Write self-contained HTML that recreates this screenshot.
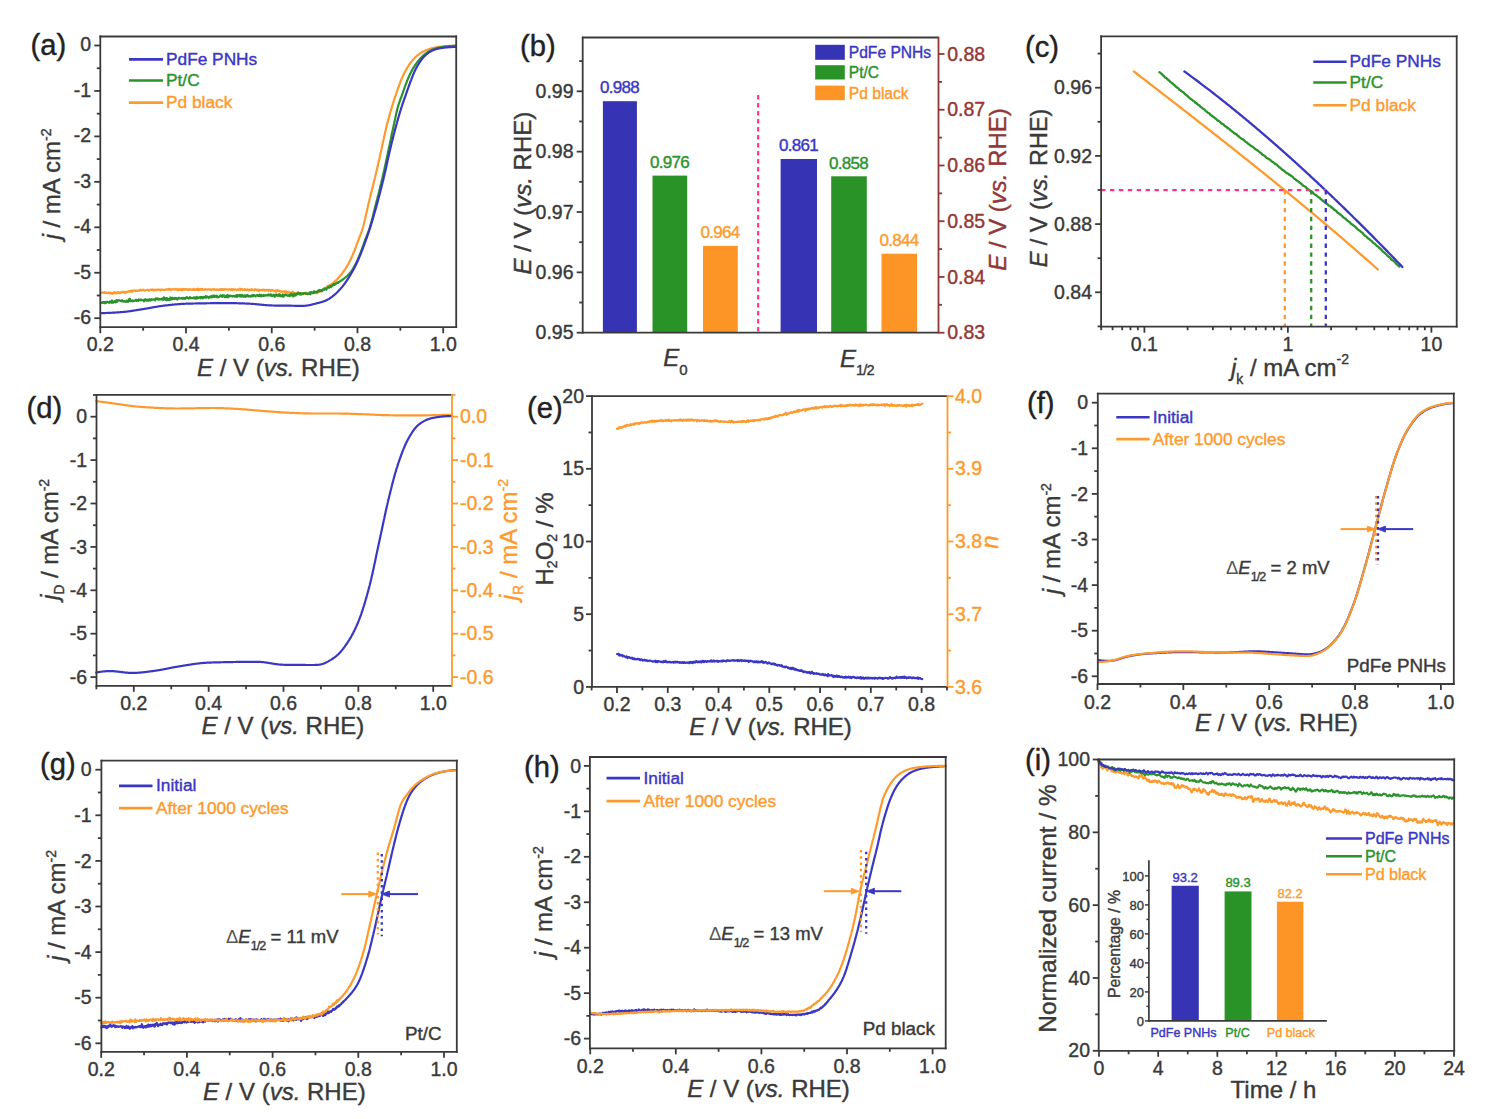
<!DOCTYPE html>
<html><head><meta charset="utf-8"><style>
html,body{margin:0;padding:0;background:#fff;overflow:hidden;}
svg{display:block;font-family:"Liberation Sans", sans-serif;}
</style></head><body>
<svg width="1495" height="1119" viewBox="0 0 1495 1119">
<rect width="1495" height="1119" fill="#fff"/>
<text x="30.50" y="55.00" font-size="29.2" text-anchor="start" fill="#222" stroke="#222" stroke-width="0.4">(a)</text>
<polyline points="101.00,293.09 102.45,292.46 102.75,292.65 103.08,292.81 103.44,292.42 103.82,292.72 104.23,292.75 104.66,292.17 105.11,293.17 105.57,293.05 106.04,292.65 106.52,292.83 107.01,293.10 107.50,292.85 107.99,292.88 108.49,292.47 108.98,293.19 109.48,293.06 109.98,293.12 110.48,292.50 110.98,293.62 111.48,293.10 111.98,292.91 112.48,293.75 112.98,293.01 113.48,292.51 113.98,292.86 114.48,292.19 114.98,293.34 115.48,292.80 115.97,292.66 116.47,293.27 116.97,292.28 117.47,293.01 117.97,292.06 118.47,292.51 118.96,292.28 119.46,293.17 119.96,293.23 120.46,292.44 120.95,292.80 121.45,292.39 121.95,292.60 122.44,292.08 122.94,291.68 123.44,291.59 123.93,292.29 124.43,292.88 124.93,292.13 125.42,291.79 125.92,292.57 126.41,291.92 126.91,291.81 127.40,291.80 127.90,291.59 128.39,291.47 128.89,291.01 129.39,291.62 129.88,291.34 130.38,291.73 130.87,291.12 131.37,290.51 131.86,291.08 132.36,291.65 132.86,290.86 133.35,290.62 133.85,290.45 134.35,290.45 134.84,290.65 135.34,290.29 135.84,291.17 136.33,290.50 136.83,290.59 137.33,291.01 137.83,290.98 138.32,290.34 138.82,290.49 139.32,290.59 139.82,290.23 140.32,289.65 140.82,290.47 141.32,290.52 141.82,290.33 142.31,289.84 142.81,290.07 143.31,289.91 143.81,290.00 144.31,290.54 144.81,290.60 145.31,290.29 145.81,290.23 146.31,290.26 146.81,290.01 147.31,289.97 147.81,289.75 148.31,289.95 148.81,290.75 149.31,290.25 149.81,289.82 150.31,289.76 150.81,289.61 151.31,290.04 151.81,290.03 152.31,289.38 152.81,290.04 153.31,289.66 153.81,290.35 154.31,289.90 154.81,290.43 155.31,289.66 155.81,289.71 156.31,289.91 156.81,290.16 157.31,289.98 157.81,289.34 158.31,289.83 158.81,289.77 159.31,289.60 159.81,289.51 160.31,290.34 160.81,289.59 161.31,289.42 161.81,289.93 162.31,289.74 162.81,289.66 163.31,289.96 163.81,289.85 164.31,289.80 164.81,290.00 165.31,289.75 165.81,289.43 166.31,289.51 166.81,289.45 167.31,289.70 167.81,289.24 168.31,288.97 168.81,289.64 169.31,289.14 169.81,288.91 170.31,289.72 170.81,289.34 171.31,289.75 171.81,289.39 172.31,289.18 172.81,289.13 173.31,289.38 173.81,289.46 174.31,289.26 174.81,289.45 175.31,289.01 175.81,289.55 176.31,288.91 176.81,289.47 177.31,289.78 177.81,289.91 178.31,290.13 178.81,288.98 179.31,289.79 179.81,289.94 180.31,289.86 180.81,289.19 181.31,289.66 181.81,290.16 182.31,288.98 182.81,289.67 183.31,289.90 183.81,289.26 184.31,289.71 184.81,289.13 185.31,289.22 185.81,289.22 186.31,289.57 186.81,289.47 187.31,289.83 187.81,289.17 188.31,289.45 188.81,289.84 189.31,289.70 189.81,289.04 190.31,289.73 190.81,289.33 191.31,289.63 191.81,289.61 192.31,289.93 192.81,289.54 193.31,288.85 193.81,289.02 194.31,289.76 194.81,289.41 195.31,289.90 195.81,289.60 196.31,289.24 196.81,289.88 197.31,289.22 197.81,288.78 198.31,290.22 198.81,288.83 199.31,289.72 199.81,289.83 200.31,289.55 200.81,288.91 201.31,289.86 201.81,289.00 202.31,289.03 202.81,289.37 203.31,289.78 203.81,289.61 204.31,289.78 204.81,289.34 205.31,289.44 205.81,289.10 206.31,289.39 206.81,289.71 207.31,289.40 207.81,289.67 208.31,289.30 208.81,289.29 209.31,289.51 209.81,289.43 210.31,289.71 210.81,289.56 211.31,290.11 211.81,289.42 212.31,289.42 212.81,289.14 213.31,289.51 213.81,289.74 214.31,289.24 214.81,289.48 215.31,289.75 215.81,289.46 216.31,289.32 216.81,289.84 217.31,289.53 217.81,289.64 218.31,289.91 218.81,289.90 219.31,289.38 219.81,289.32 220.31,289.60 220.81,289.45 221.31,288.84 221.81,289.95 222.31,289.51 222.81,289.76 223.31,289.09 223.81,289.95 224.31,289.29 224.81,289.46 225.31,289.01 225.81,289.44 226.31,289.42 226.81,289.44 227.31,289.65 227.81,289.52 228.31,289.84 228.81,289.34 229.31,289.15 229.81,289.50 230.31,289.73 230.81,289.94 231.31,289.79 231.81,288.89 232.31,289.64 232.81,290.03 233.31,289.54 233.81,289.34 234.31,289.63 234.81,289.35 235.31,289.75 235.81,289.53 236.31,290.03 236.81,289.72 237.31,289.29 237.81,289.76 238.31,289.89 238.81,289.37 239.31,289.42 239.81,288.77 240.31,289.90 240.81,289.38 241.31,288.85 241.81,288.99 242.31,289.53 242.81,289.89 243.31,289.60 243.81,289.80 244.31,289.26 244.81,289.19 245.31,289.97 245.81,289.85 246.31,289.67 246.81,290.14 247.31,289.37 247.81,289.57 248.31,290.09 248.81,290.38 249.30,289.75 249.80,290.35 250.30,289.56 250.80,289.90 251.30,289.74 251.80,289.25 252.30,289.91 252.80,290.16 253.30,289.80 253.80,289.84 254.30,290.36 254.80,289.45 255.30,289.38 255.80,289.69 256.30,289.52 256.80,290.42 257.30,290.07 257.80,289.68 258.30,289.78 258.80,291.01 259.30,289.81 259.80,289.78 260.30,290.17 260.80,290.30 261.30,290.17 261.80,289.79 262.30,289.72 262.80,290.35 263.30,290.14 263.80,289.61 264.30,290.61 264.80,290.49 265.30,290.15 265.80,290.16 266.30,290.36 266.80,290.05 267.30,289.84 267.80,290.45 268.29,289.85 268.79,290.51 269.29,289.89 269.79,290.39 270.29,290.40 270.79,291.09 271.29,290.12 271.79,290.03 272.29,290.33 272.79,290.19 273.29,290.41 273.79,290.80 274.28,290.96 274.78,291.31 275.28,290.52 275.78,291.74 276.28,291.56 276.77,290.84 277.27,290.17 277.77,290.99 278.26,291.10 278.76,290.33 279.26,291.22 279.75,291.18 280.25,291.04 280.74,291.60 281.24,291.79 281.74,291.33 282.23,291.65 282.73,291.40 283.22,291.42 283.72,291.78 284.22,292.00 284.71,291.69 285.21,291.17 285.70,292.21 286.20,291.51 286.70,292.17 287.19,292.80 287.69,292.23 288.19,291.88 288.68,291.84 289.18,292.81 289.68,292.45 290.18,292.69 290.67,292.88 291.17,292.59 291.67,292.55 292.17,292.37 292.66,291.67 293.16,292.27 293.66,292.82 294.16,292.83 294.66,293.08 295.15,292.94 295.65,293.09 296.15,293.35 296.65,292.81 297.15,293.06 297.64,292.64 298.14,293.58 298.64,293.29 299.14,293.48 299.64,293.89 300.14,293.76 300.64,293.39 301.13,293.71 301.63,292.96 302.13,293.63 302.63,293.55 303.13,292.95 303.63,293.99 304.13,293.29 304.63,293.78 305.13,293.40 305.63,293.90 306.13,294.01 306.63,293.25 307.13,293.00 307.63,293.48 308.13,293.81 308.63,293.37 309.13,293.27 309.63,293.64 310.13,292.48 310.62,293.19 311.12,292.91 311.62,293.47 312.12,293.07 312.61,292.89 313.11,293.11 313.60,292.67 314.10,293.12 314.59,292.81 315.08,292.84 315.56,292.62 316.04,293.09 316.52,292.62 317.00,292.71 317.47,292.56 317.94,291.95 318.41,292.27 318.87,292.02 319.33,291.81 319.78,291.37 320.23,291.15 320.67,291.35 321.12,291.61 321.55,290.33 321.99,290.56 322.42,290.00 322.86,290.16 323.28,289.78 323.71,289.74 324.14,288.13 324.56,288.64 324.99,288.24 325.41,288.28 325.83,287.80 326.26,287.56 326.68,287.75 327.10,287.91 327.52,285.98 327.94,286.59 328.35,286.53 328.77,286.14 329.18,285.74 329.59,285.11 330.00,284.96 330.41,285.25 330.82,285.07 331.22,284.45 331.62,283.86 332.02,283.85 332.41,283.44 332.80,283.36 333.19,282.92 333.58,282.41 333.96,282.30 334.34,281.64 334.72,281.80 335.09,281.55 335.46,280.68 335.83,280.69 336.19,280.05 336.55,280.12 336.90,279.73 337.25,279.16 337.60,279.02 337.94,278.41 338.28,278.02 338.62,277.66 338.95,277.36 339.28,276.96 339.60,276.64 339.92,276.16 340.24,275.94 340.56,275.57 340.87,275.03 341.18,274.55 341.48,274.35 341.79,273.98 342.09,273.48 342.39,273.01 342.68,272.70 342.98,272.36 343.27,271.80 343.56,271.49 343.85,271.05 344.13,270.63 344.41,270.25 344.69,269.82 344.97,269.41 345.24,268.99 345.52,268.57 345.78,268.15 346.05,267.73 346.32,267.30 346.58,266.88 346.84,266.45 347.09,266.02 347.35,265.59 347.60,265.16 347.85,264.73 348.10,264.29 348.34,263.86 348.58,263.42 348.82,262.98 349.06,262.54 349.29,262.10 349.53,261.66 349.75,261.21 349.98,260.77 350.21,260.32 350.43,259.87 350.65,259.43 350.86,258.98 351.08,258.52 351.29,258.07 351.50,257.62 351.71,257.17 351.92,256.71 352.12,256.25 352.33,255.80 352.53,255.34 352.73,254.88 352.92,254.42 353.12,253.96 353.31,253.50 353.50,253.04 353.69,252.58 353.88,252.11 354.07,251.65 354.25,251.19 354.44,250.72 354.62,250.25 354.80,249.79 354.98,249.32 355.15,248.85 355.33,248.39 355.51,247.92 355.68,247.45 355.85,246.98 356.03,246.51 356.20,246.04 356.37,245.57 356.55,245.10 356.72,244.63 356.89,244.17 357.07,243.70 357.24,243.23 357.41,242.76 357.59,242.29 357.77,241.82 357.94,241.36 358.12,240.89 358.30,240.42 358.48,239.96 358.66,239.49 358.84,239.02 359.02,238.56 359.20,238.09 359.39,237.63 359.57,237.16 359.75,236.69 359.93,236.23 360.11,235.76 360.29,235.29 360.46,234.83 360.64,234.36 360.81,233.89 360.98,233.42 361.15,232.95 361.32,232.48 361.48,232.01 361.64,231.53 361.80,231.06 361.96,230.58 362.11,230.11 362.26,229.63 362.41,229.15 362.55,228.68 362.69,228.20 362.83,227.72 362.97,227.24 363.11,226.76 363.24,226.27 363.37,225.79 363.50,225.31 363.63,224.83 363.75,224.34 363.88,223.86 364.00,223.37 364.12,222.89 364.24,222.40 364.36,221.92 364.48,221.43 364.60,220.95 364.72,220.46 364.83,219.97 364.95,219.49 365.06,219.00 365.18,218.51 365.29,218.03 365.40,217.54 365.51,217.05 365.63,216.56 365.74,216.08 365.85,215.59 365.96,215.10 366.07,214.61 366.18,214.13 366.29,213.64 366.40,213.15 366.51,212.66 366.62,212.17 366.72,211.69 366.83,211.20 366.94,210.71 367.05,210.22 367.16,209.74 367.27,209.25 367.38,208.76 367.49,208.27 367.60,207.78 367.71,207.30 367.82,206.81 367.93,206.32 368.04,205.83 368.15,205.35 368.27,204.86 368.38,204.37 368.49,203.88 368.60,203.40 368.72,202.91 368.83,202.42 368.95,201.94 369.06,201.45 369.18,200.96 369.30,200.48 369.41,199.99 369.53,199.51 369.65,199.02 369.77,198.53 369.89,198.05 370.00,197.56 370.12,197.08 370.24,196.59 370.36,196.11 370.48,195.62 370.61,195.14 370.73,194.65 370.85,194.17 370.97,193.68 371.09,193.20 371.21,192.71 371.33,192.23 371.45,191.74 371.58,191.26 371.70,190.77 371.82,190.29 371.94,189.80 372.06,189.32 372.19,188.83 372.31,188.35 372.43,187.86 372.55,187.38 372.67,186.89 372.79,186.41 372.92,185.92 373.04,185.44 373.16,184.95 373.28,184.47 373.40,183.98 373.52,183.50 373.64,183.01 373.76,182.53 373.88,182.04 374.00,181.55 374.12,181.07 374.24,180.58 374.36,180.10 374.48,179.61 374.60,179.13 374.72,178.64 374.84,178.16 374.95,177.67 375.07,177.18 375.19,176.70 375.30,176.21 375.42,175.73 375.54,175.24 375.65,174.75 375.77,174.27 375.88,173.78 376.00,173.29 376.11,172.81 376.23,172.32 376.34,171.83 376.46,171.35 376.57,170.86 376.68,170.37 376.79,169.88 376.91,169.40 377.02,168.91 377.13,168.42 377.24,167.94 377.36,167.45 377.47,166.96 377.58,166.47 377.69,165.99 377.80,165.50 377.91,165.01 378.02,164.52 378.14,164.04 378.25,163.55 378.36,163.06 378.47,162.57 378.58,162.09 378.69,161.60 378.80,161.11 378.91,160.62 379.02,160.13 379.13,159.65 379.24,159.16 379.35,158.67 379.46,158.18 379.57,157.70 379.68,157.21 379.79,156.72 379.90,156.23 380.01,155.74 380.12,155.26 380.23,154.77 380.34,154.28 380.45,153.79 380.56,153.31 380.66,152.82 380.77,152.33 380.88,151.84 380.99,151.35 381.10,150.87 381.21,150.38 381.32,149.89 381.43,149.40 381.54,148.91 381.65,148.43 381.76,147.94 381.86,147.45 381.97,146.96 382.08,146.47 382.19,145.99 382.29,145.50 382.40,145.01 382.51,144.52 382.61,144.03 382.72,143.54 382.83,143.05 382.93,142.57 383.04,142.08 383.15,141.59 383.25,141.10 383.36,140.61 383.46,140.12 383.57,139.63 383.68,139.15 383.78,138.66 383.89,138.17 384.00,137.68 384.10,137.19 384.21,136.70 384.32,136.21 384.42,135.73 384.53,135.24 384.64,134.75 384.75,134.26 384.86,133.77 384.96,133.29 385.07,132.80 385.18,132.31 385.29,131.82 385.41,131.33 385.52,130.85 385.63,130.36 385.74,129.87 385.86,129.39 385.97,128.90 386.09,128.41 386.20,127.93 386.32,127.44 386.44,126.95 386.55,126.47 386.67,125.98 386.79,125.50 386.91,125.01 387.03,124.53 387.16,124.04 387.28,123.56 387.40,123.07 387.53,122.59 387.65,122.11 387.78,121.62 387.91,121.14 388.04,120.66 388.16,120.17 388.29,119.69 388.42,119.21 388.55,118.72 388.68,118.24 388.81,117.76 388.95,117.28 389.08,116.79 389.21,116.31 389.35,115.83 389.48,115.35 389.62,114.87 389.75,114.39 389.89,113.91 390.03,113.42 390.16,112.94 390.30,112.46 390.44,111.98 390.58,111.50 390.72,111.02 390.86,110.54 391.00,110.06 391.14,109.58 391.28,109.10 391.42,108.62 391.57,108.14 391.71,107.67 391.85,107.19 392.00,106.71 392.14,106.23 392.29,105.75 392.43,105.27 392.58,104.79 392.73,104.32 392.88,103.84 393.02,103.36 393.17,102.88 393.32,102.41 393.47,101.93 393.63,101.45 393.78,100.98 393.93,100.50 394.08,100.03 394.24,99.55 394.39,99.08 394.55,98.60 394.70,98.12 394.86,97.65 395.02,97.17 395.17,96.70 395.33,96.23 395.49,95.75 395.65,95.28 395.80,94.80 395.96,94.33 396.12,93.85 396.28,93.38 396.44,92.91 396.60,92.43 396.76,91.96 396.92,91.49 397.09,91.01 397.25,90.54 397.41,90.07 397.57,89.60 397.74,89.12 397.90,88.65 398.07,88.18 398.24,87.71 398.41,87.24 398.58,86.77 398.75,86.30 398.92,85.83 399.09,85.36 399.27,84.89 399.44,84.42 399.62,83.96 399.80,83.49 399.98,83.02 400.16,82.56 400.35,82.09 400.53,81.63 400.72,81.16 400.90,80.70 401.09,80.24 401.28,79.78 401.48,79.31 401.67,78.85 401.86,78.39 402.06,77.93 402.26,77.47 402.46,77.02 402.66,76.56 402.87,76.10 403.07,75.65 403.28,75.20 403.50,74.74 403.71,74.29 403.93,73.84 404.15,73.39 404.37,72.95 404.60,72.50 404.83,72.06 405.06,71.62 405.30,71.18 405.53,70.74 405.77,70.30 406.02,69.86 406.27,69.43 406.51,68.99 406.77,68.56 407.02,68.13 407.28,67.71 407.54,67.28 407.80,66.86 408.07,66.43 408.34,66.01 408.61,65.60 408.89,65.18 409.17,64.77 409.46,64.36 409.74,63.95 410.04,63.54 410.33,63.14 410.63,62.74 410.93,62.35 411.24,61.95 411.55,61.56 411.87,61.17 412.19,60.79 412.51,60.41 412.83,60.03 413.16,59.66 413.50,59.28 413.83,58.91 414.17,58.55 414.52,58.19 414.86,57.83 415.21,57.47 415.57,57.12 415.93,56.78 416.29,56.44 416.66,56.10 417.03,55.77 417.41,55.44 417.79,55.12 418.18,54.81 418.57,54.51 418.97,54.21 419.37,53.91 419.77,53.63 420.19,53.35 420.60,53.08 421.03,52.81 421.45,52.56 421.88,52.30 422.31,52.06 422.75,51.82 423.19,51.59 423.63,51.36 424.08,51.14 424.53,50.92 424.98,50.71 425.44,50.50 425.89,50.30 426.35,50.11 426.81,49.92 427.28,49.74 427.74,49.57 428.21,49.40 428.68,49.23 429.16,49.08 429.63,48.93 430.11,48.78 430.59,48.64 431.07,48.51 431.55,48.38 432.04,48.26 432.52,48.15 433.01,48.03 433.50,47.93 433.98,47.82 434.47,47.72 434.96,47.62 435.45,47.53 435.94,47.44 436.44,47.35 436.93,47.26 437.42,47.18 437.91,47.10 438.41,47.02 438.90,46.95 439.40,46.87 439.89,46.80 440.39,46.73 440.88,46.67 441.38,46.61 441.87,46.54 442.37,46.49 442.87,46.43 443.36,46.38 443.86,46.33 444.36,46.28 444.86,46.23 445.35,46.19 445.85,46.15 446.35,46.11 446.85,46.08 447.35,46.04 447.85,46.01 448.34,45.98 448.84,45.95 449.33,45.92 449.82,45.90 450.30,45.88 450.78,45.85 451.25,45.83 451.71,45.81 452.15,45.80 452.57,45.78 452.98,45.77 453.36,45.76 453.71,45.75 454.03,45.74 454.32,45.73 455.70,45.70" fill="none" stroke="#fd9a2e" stroke-width="2.2" stroke-linejoin="round" stroke-linecap="round"/>
<polyline points="101.00,302.57 102.44,302.89 102.74,302.15 103.07,302.11 103.43,302.32 103.81,301.94 104.22,303.10 104.65,302.09 105.09,303.09 105.55,303.14 106.02,301.82 106.50,302.50 106.98,302.14 107.47,301.70 107.96,302.12 108.46,302.13 108.95,302.65 109.45,302.78 109.95,301.46 110.44,301.83 110.94,302.34 111.44,302.68 111.94,300.46 112.43,302.64 112.93,301.73 113.43,302.70 113.93,301.49 114.43,301.20 114.92,301.68 115.42,302.31 115.92,301.58 116.42,300.11 116.92,301.89 117.42,300.48 117.91,300.82 118.41,300.67 118.91,300.23 119.41,300.54 119.91,300.66 120.41,300.85 120.91,301.15 121.40,300.95 121.90,300.23 122.40,300.98 122.90,301.64 123.40,301.59 123.90,301.08 124.40,301.34 124.90,301.47 125.40,301.73 125.90,301.90 126.40,300.66 126.89,300.67 127.39,301.69 127.89,301.71 128.39,301.68 128.89,299.32 129.39,300.57 129.89,298.73 130.39,301.09 130.89,300.67 131.39,300.64 131.89,300.51 132.39,301.35 132.89,300.37 133.39,301.14 133.89,300.83 134.39,300.69 134.89,300.73 135.39,300.50 135.88,299.76 136.38,300.82 136.88,300.80 137.38,300.26 137.88,300.76 138.38,300.84 138.88,299.51 139.38,300.18 139.88,299.97 140.38,299.67 140.88,300.39 141.38,299.67 141.88,299.89 142.38,300.27 142.88,300.31 143.38,300.27 143.88,301.40 144.38,299.73 144.88,300.16 145.38,299.26 145.87,300.25 146.37,300.63 146.87,300.65 147.37,299.51 147.87,299.70 148.37,300.61 148.87,299.77 149.37,300.38 149.87,299.19 150.37,300.58 150.87,300.35 151.37,299.99 151.87,299.21 152.37,299.57 152.87,299.73 153.37,299.77 153.87,299.53 154.37,299.44 154.87,299.66 155.36,300.36 155.86,298.29 156.36,298.65 156.86,298.52 157.36,299.02 157.86,298.36 158.36,299.71 158.86,299.42 159.36,299.18 159.86,298.90 160.36,299.38 160.86,299.37 161.36,299.44 161.86,298.78 162.36,299.59 162.86,298.29 163.36,299.90 163.86,297.28 164.35,298.75 164.85,298.36 165.35,299.53 165.85,298.14 166.35,300.10 166.85,298.06 167.35,300.18 167.85,299.21 168.35,298.94 168.85,299.16 169.35,300.19 169.85,299.38 170.35,297.49 170.85,299.52 171.35,298.92 171.85,297.79 172.35,299.19 172.85,297.98 173.35,298.80 173.84,298.80 174.34,298.25 174.84,299.01 175.34,297.98 175.84,298.69 176.34,298.22 176.84,298.42 177.34,299.66 177.84,298.55 178.34,297.80 178.84,298.36 179.34,297.95 179.84,298.40 180.34,298.46 180.84,298.39 181.34,298.37 181.84,297.97 182.34,298.54 182.84,298.88 183.33,297.85 183.83,298.16 184.33,298.21 184.83,298.91 185.33,298.78 185.83,297.67 186.33,298.13 186.83,297.16 187.33,297.45 187.83,298.02 188.33,298.36 188.83,298.53 189.33,297.75 189.83,297.10 190.33,298.12 190.83,297.76 191.33,298.09 191.82,297.91 192.32,298.21 192.82,298.15 193.32,298.24 193.82,297.43 194.32,298.28 194.82,297.35 195.32,297.68 195.82,298.71 196.32,297.79 196.82,296.84 197.32,298.41 197.82,298.09 198.32,298.15 198.81,297.55 199.31,297.62 199.81,297.24 200.31,296.93 200.81,298.25 201.31,297.08 201.81,296.98 202.31,296.98 202.81,298.34 203.31,297.72 203.81,296.94 204.31,297.11 204.81,297.42 205.30,297.61 205.80,296.09 206.30,297.57 206.80,296.87 207.30,296.57 207.80,296.72 208.30,297.40 208.80,297.96 209.30,296.96 209.80,297.18 210.30,296.34 210.80,297.09 211.30,297.27 211.80,295.86 212.30,296.42 212.80,297.18 213.29,295.62 213.79,296.43 214.29,296.99 214.79,295.59 215.29,296.35 215.79,296.59 216.29,297.07 216.79,295.75 217.29,297.16 217.79,296.66 218.29,297.17 218.79,297.13 219.29,296.62 219.79,296.68 220.29,295.33 220.79,295.54 221.29,295.73 221.79,296.11 222.29,296.86 222.79,295.21 223.29,296.07 223.79,295.46 224.29,295.30 224.79,297.10 225.28,296.26 225.78,297.17 226.28,296.89 226.78,295.61 227.28,295.04 227.78,297.38 228.28,295.88 228.78,295.43 229.28,296.52 229.78,296.17 230.28,295.68 230.78,295.86 231.28,296.15 231.78,296.09 232.28,296.49 232.78,295.82 233.28,295.81 233.78,296.37 234.28,296.19 234.78,296.65 235.28,295.84 235.78,295.92 236.28,295.28 236.78,296.86 237.28,295.12 237.78,296.07 238.28,295.40 238.78,296.13 239.28,296.37 239.78,294.93 240.28,295.78 240.78,294.85 241.28,296.74 241.78,295.62 242.28,294.94 242.78,295.46 243.28,296.66 243.78,296.76 244.28,296.62 244.78,295.38 245.28,295.76 245.78,296.82 246.28,295.40 246.78,295.63 247.28,295.25 247.78,295.12 248.28,296.54 248.78,296.19 249.28,296.07 249.78,296.15 250.28,296.40 250.78,296.69 251.28,295.78 251.78,295.57 252.28,295.16 252.78,296.41 253.28,295.45 253.78,294.86 254.28,295.59 254.78,295.76 255.28,296.24 255.78,296.33 256.28,295.29 256.78,295.24 257.28,295.52 257.78,294.98 258.28,295.64 258.78,295.97 259.28,295.72 259.78,294.72 260.28,294.96 260.78,296.44 261.28,295.06 261.78,296.10 262.28,296.03 262.78,295.45 263.28,295.04 263.78,295.76 264.28,295.09 264.78,295.51 265.28,295.67 265.78,295.17 266.28,295.46 266.78,295.40 267.28,294.84 267.78,295.46 268.28,295.18 268.78,294.46 269.28,295.34 269.78,295.37 270.28,295.17 270.78,294.28 271.28,295.98 271.78,295.91 272.28,295.88 272.78,295.68 273.28,294.72 273.78,295.54 274.28,294.90 274.78,296.76 275.28,295.12 275.78,295.82 276.28,294.48 276.78,294.70 277.28,295.07 277.78,295.80 278.28,295.70 278.78,295.53 279.28,294.24 279.78,296.01 280.28,294.77 280.78,296.28 281.28,296.42 281.78,295.78 282.28,295.86 282.78,294.50 283.28,296.79 283.78,295.36 284.28,295.81 284.78,294.68 285.27,295.14 285.77,294.45 286.27,294.99 286.77,295.13 287.27,295.25 287.77,295.91 288.27,295.34 288.77,295.17 289.27,295.02 289.77,296.17 290.27,294.58 290.77,295.61 291.26,293.68 291.76,294.29 292.26,295.02 292.76,294.63 293.25,296.48 293.75,296.17 294.25,293.66 294.74,293.87 295.24,294.37 295.74,295.44 296.23,295.01 296.73,294.46 297.22,293.35 297.72,293.63 298.22,292.46 298.71,293.09 299.21,294.20 299.70,294.35 300.20,293.03 300.69,293.82 301.19,294.67 301.69,293.73 302.18,293.39 302.68,293.89 303.18,293.78 303.67,293.46 304.17,293.04 304.67,293.05 305.17,293.31 305.66,292.88 306.16,293.96 306.66,293.65 307.16,293.72 307.65,294.23 308.15,293.92 308.65,293.77 309.15,293.09 309.64,292.71 310.14,294.15 310.64,292.31 311.13,292.28 311.63,292.07 312.13,292.66 312.62,292.72 313.12,293.01 313.61,292.19 314.10,291.20 314.59,292.35 315.08,292.65 315.57,291.99 316.06,291.78 316.55,292.09 317.03,292.50 317.51,291.48 317.99,290.54 318.47,290.91 318.95,291.01 319.43,289.89 319.91,291.28 320.38,290.20 320.85,290.81 321.32,290.45 321.80,289.98 322.27,290.98 322.73,289.49 323.20,289.25 323.67,289.65 324.13,289.80 324.60,289.11 325.07,288.34 325.53,289.16 325.99,288.92 326.46,289.61 326.92,288.04 327.38,288.11 327.84,287.45 328.30,286.70 328.76,287.44 329.21,287.70 329.67,286.38 330.13,286.38 330.58,285.89 331.03,287.11 331.48,285.80 331.93,286.23 332.38,285.27 332.83,285.52 333.28,284.97 333.72,283.97 334.17,284.84 334.61,284.79 335.05,283.51 335.49,284.03 335.93,283.70 336.36,283.24 336.80,283.28 337.23,282.51 337.66,282.94 338.09,282.94 338.52,282.02 338.94,282.07 339.37,282.15 339.79,281.58 340.21,281.19 340.62,280.85 341.04,280.76 341.45,280.43 341.86,280.24 342.27,279.71 342.67,279.68 343.08,279.26 343.48,279.03 343.87,278.65 344.27,278.34 344.66,278.06 345.05,277.76 345.43,277.44 345.81,277.12 346.19,276.79 346.56,276.46 346.93,276.12 347.30,275.79 347.66,275.44 348.01,275.09 348.36,274.74 348.71,274.38 349.05,274.02 349.38,273.65 349.71,273.27 350.03,272.89 350.35,272.51 350.66,272.12 350.96,271.73 351.26,271.33 351.55,270.92 351.83,270.51 352.11,270.10 352.38,269.68 352.65,269.26 352.91,268.84 353.17,268.41 353.42,267.98 353.67,267.55 353.92,267.11 354.16,266.68 354.40,266.24 354.64,265.80 354.87,265.36 355.10,264.91 355.33,264.47 355.56,264.02 355.78,263.58 356.00,263.13 356.23,262.68 356.44,262.23 356.66,261.78 356.88,261.33 357.09,260.88 357.30,260.42 357.51,259.97 357.72,259.52 357.92,259.06 358.13,258.60 358.33,258.15 358.53,257.69 358.73,257.23 358.92,256.77 359.12,256.31 359.31,255.85 359.50,255.39 359.69,254.92 359.88,254.46 360.06,254.00 360.25,253.53 360.43,253.07 360.61,252.60 360.79,252.13 360.97,251.67 361.14,251.20 361.32,250.73 361.49,250.26 361.66,249.79 361.83,249.32 362.00,248.85 362.17,248.38 362.34,247.91 362.50,247.44 362.67,246.97 362.83,246.49 363.00,246.02 363.16,245.55 363.33,245.08 363.49,244.60 363.65,244.13 363.82,243.66 363.99,243.19 364.15,242.72 364.32,242.25 364.49,241.78 364.66,241.31 364.83,240.84 365.01,240.37 365.18,239.90 365.36,239.43 365.54,238.96 365.72,238.50 365.90,238.03 366.08,237.57 366.26,237.10 366.44,236.64 366.63,236.17 366.81,235.71 367.00,235.24 367.18,234.78 367.36,234.31 367.54,233.84 367.72,233.38 367.90,232.91 368.07,232.44 368.25,231.97 368.42,231.50 368.58,231.03 368.75,230.56 368.91,230.09 369.07,229.62 369.23,229.14 369.39,228.67 369.54,228.19 369.69,227.71 369.84,227.24 369.98,226.76 370.13,226.28 370.27,225.80 370.41,225.32 370.55,224.84 370.69,224.36 370.83,223.88 370.96,223.40 371.10,222.92 371.23,222.44 371.36,221.95 371.49,221.47 371.62,220.99 371.75,220.51 371.88,220.02 372.01,219.54 372.13,219.06 372.26,218.57 372.39,218.09 372.51,217.60 372.63,217.12 372.76,216.63 372.88,216.15 373.00,215.67 373.13,215.18 373.25,214.70 373.37,214.21 373.49,213.73 373.61,213.24 373.73,212.76 373.85,212.27 373.97,211.78 374.09,211.30 374.21,210.81 374.33,210.33 374.45,209.84 374.57,209.36 374.69,208.87 374.81,208.39 374.93,207.90 375.05,207.42 375.17,206.93 375.29,206.45 375.41,205.96 375.53,205.47 375.65,204.99 375.77,204.50 375.89,204.02 376.02,203.53 376.14,203.05 376.26,202.56 376.38,202.08 376.50,201.59 376.62,201.11 376.75,200.62 376.87,200.14 376.99,199.65 377.11,199.17 377.24,198.69 377.36,198.20 377.48,197.72 377.61,197.23 377.73,196.75 377.86,196.26 377.98,195.78 378.10,195.29 378.23,194.81 378.35,194.32 378.47,193.84 378.60,193.36 378.72,192.87 378.84,192.39 378.96,191.90 379.09,191.42 379.21,190.93 379.33,190.45 379.46,189.96 379.58,189.48 379.70,188.99 379.82,188.51 379.94,188.02 380.06,187.54 380.19,187.05 380.31,186.57 380.43,186.08 380.55,185.60 380.67,185.11 380.79,184.63 380.91,184.14 381.03,183.66 381.14,183.17 381.26,182.68 381.38,182.20 381.50,181.71 381.62,181.23 381.74,180.74 381.85,180.25 381.97,179.77 382.09,179.28 382.20,178.80 382.32,178.31 382.43,177.82 382.55,177.34 382.66,176.85 382.77,176.36 382.89,175.88 383.00,175.39 383.11,174.90 383.23,174.41 383.34,173.93 383.45,173.44 383.56,172.95 383.67,172.46 383.78,171.98 383.89,171.49 384.00,171.00 384.11,170.51 384.22,170.02 384.33,169.54 384.43,169.05 384.54,168.56 384.65,168.07 384.75,167.58 384.86,167.09 384.97,166.61 385.07,166.12 385.18,165.63 385.28,165.14 385.39,164.65 385.49,164.16 385.60,163.67 385.70,163.18 385.81,162.69 385.91,162.21 386.02,161.72 386.12,161.23 386.22,160.74 386.33,160.25 386.43,159.76 386.53,159.27 386.64,158.78 386.74,158.29 386.85,157.80 386.95,157.31 387.05,156.83 387.16,156.34 387.26,155.85 387.36,155.36 387.47,154.87 387.57,154.38 387.67,153.89 387.78,153.40 387.88,152.91 387.98,152.42 388.09,151.93 388.19,151.45 388.30,150.96 388.40,150.47 388.50,149.98 388.61,149.49 388.71,149.00 388.82,148.51 388.92,148.02 389.02,147.53 389.13,147.04 389.23,146.55 389.33,146.06 389.44,145.58 389.54,145.09 389.64,144.60 389.75,144.11 389.85,143.62 389.95,143.13 390.06,142.64 390.16,142.15 390.26,141.66 390.36,141.17 390.47,140.68 390.57,140.19 390.67,139.70 390.77,139.21 390.88,138.73 390.98,138.24 391.08,137.75 391.19,137.26 391.29,136.77 391.39,136.28 391.49,135.79 391.60,135.30 391.70,134.81 391.80,134.32 391.91,133.83 392.01,133.34 392.11,132.85 392.22,132.37 392.32,131.88 392.43,131.39 392.53,130.90 392.63,130.41 392.74,129.92 392.84,129.43 392.95,128.94 393.05,128.45 393.16,127.96 393.26,127.48 393.37,126.99 393.47,126.50 393.58,126.01 393.69,125.52 393.79,125.03 393.90,124.54 394.00,124.05 394.11,123.57 394.21,123.08 394.31,122.59 394.42,122.10 394.52,121.61 394.63,121.12 394.73,120.63 394.84,120.14 394.94,119.65 395.04,119.16 395.15,118.68 395.25,118.19 395.35,117.70 395.46,117.21 395.56,116.72 395.67,116.23 395.77,115.74 395.88,115.25 395.99,114.76 396.09,114.28 396.20,113.79 396.31,113.30 396.42,112.81 396.53,112.33 396.65,111.84 396.76,111.35 396.88,110.87 396.99,110.38 397.11,109.89 397.24,109.41 397.36,108.92 397.48,108.44 397.61,107.96 397.74,107.48 397.88,106.99 398.02,106.51 398.16,106.03 398.30,105.56 398.44,105.08 398.59,104.60 398.75,104.13 398.90,103.65 399.06,103.18 399.22,102.70 399.38,102.23 399.55,101.76 399.71,101.29 399.88,100.82 400.05,100.35 400.23,99.88 400.40,99.41 400.57,98.94 400.75,98.47 400.92,98.00 401.09,97.53 401.26,97.06 401.44,96.59 401.61,96.13 401.78,95.66 401.95,95.18 402.12,94.71 402.28,94.24 402.45,93.77 402.62,93.30 402.78,92.83 402.94,92.36 403.11,91.88 403.27,91.41 403.44,90.94 403.60,90.47 403.76,89.99 403.93,89.52 404.09,89.05 404.25,88.58 404.42,88.10 404.58,87.63 404.75,87.16 404.92,86.69 405.09,86.22 405.26,85.75 405.43,85.28 405.61,84.81 405.78,84.34 405.96,83.88 406.14,83.41 406.32,82.94 406.50,82.48 406.68,82.01 406.87,81.55 407.05,81.08 407.24,80.62 407.43,80.16 407.62,79.70 407.81,79.23 408.01,78.77 408.20,78.31 408.40,77.85 408.60,77.40 408.80,76.94 409.00,76.48 409.20,76.02 409.41,75.57 409.62,75.11 409.83,74.66 410.04,74.21 410.26,73.76 410.47,73.31 410.69,72.86 410.92,72.41 411.14,71.97 411.37,71.52 411.61,71.08 411.84,70.64 412.08,70.20 412.32,69.77 412.57,69.33 412.82,68.90 413.07,68.47 413.32,68.04 413.58,67.61 413.84,67.18 414.10,66.76 414.37,66.33 414.64,65.91 414.91,65.50 415.19,65.08 415.47,64.67 415.75,64.26 416.04,63.85 416.33,63.44 416.63,63.04 416.92,62.64 417.22,62.24 417.53,61.84 417.84,61.45 418.15,61.06 418.46,60.67 418.78,60.29 419.10,59.91 419.43,59.53 419.76,59.15 420.09,58.78 420.43,58.41 420.76,58.04 421.11,57.68 421.45,57.32 421.80,56.97 422.16,56.62 422.52,56.27 422.88,55.93 423.25,55.59 423.62,55.26 424.00,54.94 424.38,54.62 424.77,54.30 425.16,54.00 425.55,53.69 425.95,53.39 426.36,53.10 426.77,52.82 427.18,52.53 427.59,52.26 428.01,51.99 428.43,51.72 428.86,51.47 429.29,51.21 429.72,50.97 430.16,50.73 430.60,50.49 431.04,50.27 431.49,50.05 431.94,49.84 432.39,49.64 432.85,49.45 433.31,49.26 433.78,49.08 434.24,48.92 434.71,48.76 435.19,48.60 435.66,48.46 436.14,48.32 436.62,48.19 437.11,48.06 437.59,47.94 438.08,47.83 438.56,47.72 439.05,47.61 439.54,47.51 440.03,47.42 440.52,47.32 441.01,47.23 441.50,47.15 442.00,47.07 442.49,46.99 442.98,46.91 443.48,46.84 443.97,46.77 444.47,46.70 444.96,46.63 445.46,46.57 445.95,46.51 446.45,46.45 446.95,46.39 447.44,46.34 447.94,46.29 448.43,46.24 448.93,46.19 449.42,46.14 449.91,46.10 450.39,46.06 450.86,46.02 451.33,45.98 451.78,45.95 452.22,45.91 452.64,45.88 453.04,45.86 453.42,45.83 453.76,45.81 454.08,45.79 454.37,45.77 455.70,45.70" fill="none" stroke="#2a932a" stroke-width="2.2" stroke-linejoin="round" stroke-linecap="round"/>
<polyline points="101.00,313.10 102.45,313.08 102.75,313.08 103.08,313.07 103.44,313.06 103.83,313.06 104.24,313.05 104.67,313.04 105.12,313.03 105.58,313.01 106.05,313.00 106.53,312.98 107.02,312.97 107.51,312.95 108.00,312.93 108.50,312.91 109.00,312.89 109.50,312.87 110.00,312.85 110.49,312.82 110.99,312.80 111.49,312.77 111.99,312.75 112.49,312.72 112.99,312.69 113.49,312.66 113.99,312.63 114.49,312.60 114.99,312.57 115.49,312.54 115.99,312.51 116.48,312.48 116.98,312.44 117.48,312.41 117.98,312.38 118.48,312.34 118.98,312.31 119.48,312.27 119.98,312.23 120.47,312.20 120.97,312.16 121.47,312.12 121.97,312.08 122.47,312.03 122.97,311.99 123.46,311.94 123.96,311.90 124.46,311.85 124.96,311.80 125.45,311.74 125.95,311.69 126.45,311.63 126.94,311.57 127.44,311.51 127.93,311.45 128.43,311.38 128.93,311.32 129.42,311.25 129.92,311.18 130.41,311.11 130.91,311.04 131.40,310.96 131.89,310.89 132.39,310.81 132.88,310.74 133.38,310.66 133.87,310.58 134.36,310.50 134.86,310.42 135.35,310.34 135.84,310.26 136.34,310.18 136.83,310.10 137.32,310.02 137.82,309.94 138.31,309.86 138.81,309.78 139.30,309.70 139.79,309.62 140.29,309.54 140.78,309.46 141.27,309.38 141.77,309.30 142.26,309.22 142.75,309.14 143.25,309.06 143.74,308.98 144.23,308.89 144.73,308.81 145.22,308.73 145.71,308.65 146.21,308.57 146.70,308.48 147.19,308.40 147.68,308.31 148.18,308.23 148.67,308.14 149.16,308.06 149.65,307.97 150.15,307.88 150.64,307.79 151.13,307.71 151.62,307.62 152.12,307.53 152.61,307.44 153.10,307.36 153.59,307.27 154.09,307.18 154.58,307.10 155.07,307.01 155.56,306.92 156.06,306.84 156.55,306.76 157.04,306.67 157.54,306.59 158.03,306.51 158.52,306.43 159.02,306.35 159.51,306.28 160.00,306.20 160.50,306.13 160.99,306.05 161.49,305.98 161.98,305.91 162.48,305.85 162.97,305.78 163.47,305.71 163.97,305.65 164.46,305.59 164.96,305.53 165.45,305.46 165.95,305.41 166.45,305.35 166.94,305.29 167.44,305.23 167.94,305.18 168.43,305.12 168.93,305.07 169.43,305.01 169.92,304.96 170.42,304.90 170.92,304.85 171.42,304.80 171.91,304.74 172.41,304.69 172.91,304.64 173.41,304.59 173.90,304.54 174.40,304.50 174.90,304.45 175.40,304.40 175.89,304.36 176.39,304.31 176.89,304.27 177.39,304.23 177.89,304.19 178.39,304.15 178.88,304.11 179.38,304.07 179.88,304.03 180.38,304.00 180.88,303.97 181.38,303.94 181.88,303.91 182.38,303.88 182.87,303.85 183.37,303.83 183.87,303.80 184.37,303.78 184.87,303.76 185.37,303.74 185.87,303.72 186.37,303.71 186.87,303.69 187.37,303.67 187.87,303.66 188.37,303.65 188.87,303.63 189.37,303.62 189.87,303.61 190.37,303.59 190.87,303.58 191.37,303.57 191.87,303.56 192.37,303.55 192.87,303.53 193.37,303.52 193.87,303.51 194.37,303.50 194.87,303.49 195.37,303.48 195.87,303.47 196.37,303.46 196.87,303.45 197.37,303.44 197.87,303.43 198.37,303.42 198.87,303.41 199.37,303.40 199.87,303.39 200.37,303.38 200.87,303.37 201.37,303.36 201.87,303.35 202.37,303.34 202.87,303.34 203.37,303.33 203.87,303.32 204.37,303.31 204.87,303.30 205.37,303.29 205.87,303.29 206.37,303.28 206.87,303.27 207.37,303.26 207.87,303.26 208.37,303.25 208.87,303.24 209.37,303.24 209.87,303.23 210.37,303.22 210.87,303.22 211.37,303.21 211.87,303.21 212.37,303.20 212.87,303.19 213.37,303.19 213.87,303.18 214.37,303.18 214.87,303.17 215.37,303.17 215.87,303.16 216.37,303.16 216.87,303.15 217.37,303.15 217.87,303.15 218.37,303.14 218.87,303.14 219.37,303.14 219.87,303.13 220.37,303.13 220.87,303.13 221.37,303.12 221.87,303.12 222.37,303.12 222.87,303.12 223.37,303.11 223.87,303.11 224.37,303.11 224.87,303.11 225.37,303.11 225.87,303.11 226.37,303.11 226.87,303.11 227.37,303.11 227.87,303.11 228.37,303.11 228.87,303.11 229.37,303.11 229.87,303.11 230.37,303.12 230.87,303.12 231.37,303.13 231.86,303.13 232.36,303.14 232.86,303.14 233.36,303.15 233.86,303.16 234.36,303.17 234.86,303.18 235.36,303.19 235.86,303.20 236.36,303.21 236.86,303.22 237.36,303.24 237.86,303.25 238.36,303.26 238.86,303.28 239.36,303.29 239.86,303.31 240.36,303.33 240.86,303.34 241.36,303.36 241.86,303.38 242.36,303.40 242.86,303.41 243.36,303.43 243.86,303.45 244.36,303.47 244.86,303.49 245.36,303.51 245.86,303.53 246.36,303.55 246.86,303.57 247.36,303.60 247.86,303.62 248.36,303.64 248.86,303.67 249.35,303.69 249.85,303.72 250.35,303.74 250.85,303.77 251.35,303.80 251.85,303.83 252.35,303.87 252.85,303.90 253.35,303.94 253.84,303.98 254.34,304.02 254.84,304.06 255.34,304.10 255.84,304.15 256.33,304.19 256.83,304.24 257.33,304.29 257.83,304.34 258.33,304.39 258.82,304.44 259.32,304.49 259.82,304.54 260.31,304.59 260.81,304.64 261.31,304.69 261.81,304.74 262.30,304.79 262.80,304.84 263.30,304.89 263.80,304.94 264.30,304.98 264.79,305.03 265.29,305.07 265.79,305.11 266.29,305.15 266.79,305.19 267.28,305.23 267.78,305.26 268.28,305.29 268.78,305.32 269.28,305.35 269.78,305.38 270.28,305.40 270.78,305.42 271.28,305.44 271.78,305.46 272.28,305.48 272.78,305.49 273.28,305.50 273.78,305.52 274.28,305.53 274.78,305.54 275.27,305.54 275.77,305.55 276.27,305.56 276.77,305.57 277.27,305.57 277.77,305.58 278.27,305.59 278.77,305.59 279.27,305.60 279.77,305.60 280.27,305.61 280.77,305.61 281.27,305.62 281.77,305.62 282.27,305.63 282.77,305.63 283.27,305.64 283.77,305.64 284.27,305.64 284.77,305.65 285.27,305.65 285.77,305.66 286.27,305.66 286.77,305.67 287.27,305.67 287.77,305.68 288.27,305.68 288.77,305.69 289.27,305.70 289.77,305.70 290.27,305.71 290.77,305.72 291.27,305.72 291.77,305.73 292.27,305.74 292.77,305.74 293.27,305.75 293.77,305.76 294.27,305.77 294.77,305.78 295.27,305.78 295.77,305.79 296.27,305.80 296.77,305.81 297.27,305.82 297.77,305.82 298.27,305.83 298.77,305.84 299.27,305.84 299.77,305.85 300.27,305.85 300.77,305.86 301.27,305.86 301.77,305.85 302.27,305.85 302.77,305.84 303.27,305.83 303.77,305.82 304.26,305.79 304.76,305.77 305.26,305.73 305.75,305.69 306.25,305.64 306.74,305.58 307.24,305.52 307.73,305.45 308.22,305.36 308.71,305.27 309.20,305.18 309.68,305.07 310.17,304.97 310.66,304.85 311.14,304.73 311.62,304.61 312.11,304.49 312.59,304.37 313.08,304.24 313.56,304.12 314.04,303.99 314.53,303.87 315.01,303.74 315.50,303.62 315.98,303.50 316.47,303.38 316.95,303.26 317.44,303.14 317.92,303.02 318.41,302.89 318.89,302.77 319.38,302.65 319.86,302.52 320.34,302.40 320.82,302.26 321.30,302.13 321.78,301.99 322.26,301.85 322.74,301.70 323.21,301.54 323.68,301.38 324.15,301.22 324.62,301.04 325.08,300.86 325.54,300.67 325.99,300.47 326.44,300.26 326.89,300.04 327.33,299.82 327.77,299.58 328.20,299.34 328.63,299.09 329.06,298.83 329.48,298.56 329.89,298.29 330.30,298.01 330.71,297.72 331.12,297.43 331.52,297.14 331.92,296.84 332.31,296.53 332.70,296.22 333.09,295.91 333.48,295.60 333.87,295.28 334.25,294.96 334.63,294.63 335.00,294.30 335.38,293.97 335.75,293.64 336.11,293.30 336.48,292.96 336.84,292.61 337.20,292.27 337.55,291.92 337.91,291.56 338.26,291.20 338.60,290.85 338.95,290.48 339.29,290.12 339.62,289.75 339.96,289.38 340.29,289.01 340.62,288.63 340.95,288.25 341.27,287.87 341.60,287.49 341.92,287.11 342.23,286.72 342.55,286.33 342.86,285.95 343.17,285.55 343.48,285.16 343.79,284.77 344.09,284.37 344.39,283.97 344.69,283.57 344.99,283.17 345.28,282.76 345.57,282.36 345.86,281.95 346.15,281.54 346.43,281.13 346.71,280.72 346.99,280.30 347.27,279.89 347.55,279.47 347.82,279.05 348.09,278.63 348.36,278.21 348.63,277.79 348.90,277.37 349.16,276.94 349.42,276.52 349.69,276.09 349.95,275.66 350.20,275.24 350.46,274.81 350.72,274.38 350.97,273.95 351.22,273.52 351.48,273.09 351.72,272.65 351.97,272.22 352.22,271.78 352.46,271.35 352.71,270.91 352.95,270.47 353.19,270.03 353.42,269.59 353.66,269.15 353.90,268.71 354.13,268.27 354.36,267.83 354.59,267.38 354.82,266.94 355.04,266.49 355.27,266.04 355.49,265.60 355.71,265.15 355.93,264.70 356.15,264.25 356.37,263.80 356.58,263.35 356.79,262.90 357.00,262.44 357.21,261.99 357.42,261.53 357.63,261.08 357.83,260.62 358.03,260.16 358.23,259.71 358.43,259.25 358.63,258.79 358.83,258.33 359.02,257.87 359.22,257.41 359.41,256.95 359.60,256.49 359.80,256.03 359.99,255.56 360.18,255.10 360.36,254.64 360.55,254.17 360.74,253.71 360.92,253.25 361.11,252.78 361.29,252.32 361.48,251.85 361.66,251.38 361.84,250.92 362.02,250.45 362.20,249.99 362.38,249.52 362.56,249.05 362.73,248.58 362.91,248.12 363.09,247.65 363.26,247.18 363.44,246.71 363.61,246.24 363.78,245.77 363.96,245.31 364.13,244.84 364.30,244.37 364.48,243.90 364.65,243.43 364.82,242.96 364.99,242.49 365.16,242.02 365.34,241.55 365.51,241.08 365.68,240.61 365.85,240.14 366.02,239.67 366.19,239.20 366.36,238.73 366.53,238.26 366.70,237.79 366.87,237.32 367.03,236.85 367.20,236.38 367.37,235.91 367.54,235.43 367.70,234.96 367.87,234.49 368.03,234.02 368.19,233.55 368.35,233.07 368.52,232.60 368.68,232.13 368.83,231.65 368.99,231.18 369.15,230.70 369.31,230.23 369.46,229.75 369.62,229.28 369.77,228.80 369.92,228.33 370.08,227.85 370.23,227.37 370.38,226.90 370.53,226.42 370.68,225.94 370.83,225.46 370.97,224.99 371.12,224.51 371.27,224.03 371.41,223.55 371.56,223.07 371.70,222.60 371.85,222.12 371.99,221.64 372.14,221.16 372.28,220.68 372.42,220.20 372.56,219.72 372.71,219.24 372.85,218.76 372.99,218.28 373.13,217.80 373.27,217.32 373.41,216.84 373.55,216.36 373.68,215.88 373.82,215.40 373.96,214.92 374.10,214.44 374.24,213.96 374.37,213.48 374.51,213.00 374.65,212.52 374.78,212.04 374.92,211.55 375.05,211.07 375.19,210.59 375.32,210.11 375.46,209.63 375.59,209.15 375.73,208.67 375.86,208.18 375.99,207.70 376.13,207.22 376.26,206.74 376.39,206.26 376.52,205.77 376.66,205.29 376.79,204.81 376.92,204.33 377.05,203.85 377.18,203.36 377.32,202.88 377.45,202.40 377.58,201.92 377.71,201.43 377.84,200.95 377.97,200.47 378.10,199.98 378.23,199.50 378.36,199.02 378.49,198.54 378.62,198.05 378.74,197.57 378.87,197.09 379.00,196.60 379.13,196.12 379.26,195.64 379.38,195.15 379.51,194.67 379.63,194.18 379.76,193.70 379.89,193.22 380.01,192.73 380.14,192.25 380.26,191.76 380.39,191.28 380.51,190.80 380.63,190.31 380.76,189.83 380.88,189.34 381.00,188.86 381.12,188.37 381.25,187.89 381.37,187.40 381.49,186.92 381.61,186.43 381.73,185.95 381.85,185.46 381.97,184.98 382.09,184.49 382.21,184.01 382.33,183.52 382.45,183.04 382.57,182.55 382.69,182.06 382.81,181.58 382.93,181.09 383.05,180.61 383.17,180.12 383.28,179.64 383.40,179.15 383.52,178.66 383.64,178.18 383.75,177.69 383.87,177.20 383.98,176.72 384.10,176.23 384.22,175.75 384.33,175.26 384.45,174.77 384.56,174.29 384.67,173.80 384.79,173.31 384.90,172.82 385.01,172.34 385.12,171.85 385.23,171.36 385.35,170.87 385.46,170.39 385.57,169.90 385.68,169.41 385.78,168.92 385.89,168.44 386.00,167.95 386.11,167.46 386.22,166.97 386.33,166.48 386.43,165.99 386.54,165.51 386.65,165.02 386.76,164.53 386.86,164.04 386.97,163.55 387.08,163.06 387.18,162.58 387.29,162.09 387.40,161.60 387.50,161.11 387.61,160.62 387.72,160.13 387.83,159.65 387.93,159.16 388.04,158.67 388.15,158.18 388.26,157.69 388.36,157.20 388.47,156.72 388.58,156.23 388.69,155.74 388.80,155.25 388.91,154.76 389.02,154.28 389.13,153.79 389.24,153.30 389.35,152.81 389.47,152.33 389.58,151.84 389.69,151.35 389.81,150.87 389.92,150.38 390.03,149.89 390.15,149.41 390.26,148.92 390.38,148.43 390.49,147.95 390.61,147.46 390.73,146.97 390.84,146.49 390.96,146.00 391.08,145.52 391.20,145.03 391.31,144.54 391.43,144.06 391.55,143.57 391.67,143.09 391.79,142.60 391.90,142.11 392.02,141.63 392.14,141.14 392.26,140.66 392.38,140.17 392.50,139.69 392.62,139.20 392.74,138.72 392.86,138.23 392.98,137.75 393.11,137.26 393.23,136.78 393.35,136.29 393.47,135.81 393.60,135.32 393.72,134.84 393.84,134.35 393.97,133.87 394.09,133.38 394.21,132.90 394.34,132.42 394.46,131.93 394.59,131.45 394.72,130.96 394.84,130.48 394.97,130.00 395.10,129.51 395.22,129.03 395.35,128.55 395.48,128.06 395.61,127.58 395.74,127.10 395.87,126.61 396.00,126.13 396.13,125.65 396.26,125.17 396.39,124.68 396.53,124.20 396.66,123.72 396.79,123.24 396.93,122.76 397.06,122.27 397.19,121.79 397.33,121.31 397.46,120.83 397.60,120.35 397.74,119.87 397.87,119.39 398.01,118.91 398.15,118.42 398.28,117.94 398.42,117.46 398.56,116.98 398.70,116.50 398.84,116.02 398.98,115.54 399.12,115.06 399.26,114.58 399.41,114.10 399.55,113.63 399.69,113.15 399.84,112.67 399.98,112.19 400.13,111.71 400.27,111.23 400.42,110.75 400.56,110.28 400.71,109.80 400.86,109.32 401.01,108.84 401.16,108.37 401.31,107.89 401.46,107.41 401.62,106.94 401.77,106.46 401.93,105.99 402.08,105.51 402.24,105.04 402.40,104.56 402.56,104.09 402.72,103.62 402.88,103.14 403.04,102.67 403.20,102.20 403.36,101.72 403.53,101.25 403.69,100.78 403.86,100.31 404.03,99.84 404.19,99.37 404.36,98.89 404.52,98.42 404.69,97.95 404.86,97.48 405.02,97.01 405.19,96.54 405.36,96.06 405.52,95.59 405.69,95.12 405.85,94.65 406.02,94.18 406.18,93.71 406.35,93.23 406.51,92.76 406.68,92.29 406.84,91.82 407.01,91.34 407.17,90.87 407.33,90.40 407.50,89.93 407.66,89.46 407.83,88.98 407.99,88.51 408.16,88.04 408.33,87.57 408.49,87.10 408.66,86.63 408.83,86.16 409.00,85.68 409.17,85.21 409.34,84.74 409.51,84.27 409.68,83.80 409.85,83.34 410.02,82.87 410.20,82.40 410.37,81.93 410.54,81.46 410.72,80.99 410.89,80.52 411.07,80.05 411.25,79.59 411.42,79.12 411.60,78.65 411.78,78.18 411.96,77.72 412.14,77.25 412.32,76.79 412.50,76.32 412.69,75.86 412.88,75.39 413.06,74.93 413.25,74.47 413.45,74.01 413.64,73.55 413.84,73.09 414.04,72.63 414.24,72.17 414.45,71.72 414.66,71.27 414.87,70.81 415.09,70.36 415.31,69.91 415.53,69.46 415.75,69.02 415.98,68.57 416.21,68.13 416.44,67.69 416.67,67.25 416.91,66.81 417.15,66.37 417.40,65.93 417.65,65.50 417.90,65.07 418.15,64.64 418.41,64.21 418.67,63.79 418.94,63.36 419.20,62.94 419.48,62.52 419.75,62.11 420.04,61.70 420.32,61.29 420.61,60.88 420.91,60.48 421.20,60.08 421.51,59.68 421.81,59.29 422.12,58.90 422.44,58.51 422.76,58.13 423.08,57.74 423.41,57.37 423.74,57.00 424.07,56.63 424.41,56.27 424.76,55.91 425.11,55.55 425.47,55.21 425.83,54.87 426.20,54.54 426.58,54.21 426.96,53.90 427.34,53.59 427.74,53.29 428.14,53.00 428.55,52.71 428.96,52.44 429.38,52.17 429.80,51.92 430.23,51.67 430.67,51.43 431.11,51.20 431.55,50.97 432.00,50.76 432.45,50.55 432.91,50.35 433.37,50.15 433.83,49.97 434.29,49.79 434.76,49.62 435.23,49.46 435.70,49.31 436.18,49.16 436.66,49.02 437.14,48.89 437.62,48.77 438.10,48.65 438.59,48.54 439.08,48.44 439.57,48.34 440.06,48.25 440.55,48.16 441.04,48.08 441.53,48.00 442.03,47.93 442.52,47.86 443.02,47.79 443.51,47.73 444.01,47.67 444.51,47.61 445.00,47.56 445.50,47.51 446.00,47.46 446.49,47.42 446.99,47.38 447.49,47.33 447.99,47.30 448.48,47.26 448.98,47.22 449.47,47.19 449.96,47.16 450.44,47.13 450.91,47.10 451.38,47.08 451.83,47.05 452.27,47.03 452.69,47.01 453.09,46.99 453.46,46.98 453.80,46.96 454.11,46.95 454.40,46.94 455.70,46.90" fill="none" stroke="#3a37c4" stroke-width="2.2" stroke-linejoin="round" stroke-linecap="round"/>
<line x1="100.30" y1="35.60" x2="100.30" y2="328.10" stroke="#3a3a3a" stroke-width="1.8" stroke-linecap="butt"/>
<line x1="99.40" y1="36.50" x2="457.10" y2="36.50" stroke="#3a3a3a" stroke-width="1.8" stroke-linecap="butt"/>
<line x1="456.20" y1="35.60" x2="456.20" y2="328.10" stroke="#3a3a3a" stroke-width="1.8" stroke-linecap="butt"/>
<line x1="99.40" y1="327.20" x2="457.10" y2="327.20" stroke="#3a3a3a" stroke-width="1.8" stroke-linecap="butt"/>
<line x1="100.30" y1="68.22" x2="96.80" y2="68.22" stroke="#3a3a3a" stroke-width="1.8" stroke-linecap="butt"/>
<line x1="100.30" y1="113.67" x2="96.80" y2="113.67" stroke="#3a3a3a" stroke-width="1.8" stroke-linecap="butt"/>
<line x1="100.30" y1="159.12" x2="96.80" y2="159.12" stroke="#3a3a3a" stroke-width="1.8" stroke-linecap="butt"/>
<line x1="100.30" y1="204.57" x2="96.80" y2="204.57" stroke="#3a3a3a" stroke-width="1.8" stroke-linecap="butt"/>
<line x1="100.30" y1="250.02" x2="96.80" y2="250.02" stroke="#3a3a3a" stroke-width="1.8" stroke-linecap="butt"/>
<line x1="100.30" y1="295.48" x2="96.80" y2="295.48" stroke="#3a3a3a" stroke-width="1.8" stroke-linecap="butt"/>
<line x1="100.30" y1="45.50" x2="94.30" y2="45.50" stroke="#3a3a3a" stroke-width="1.8" stroke-linecap="butt"/>
<text x="91.20" y="51.30" font-size="19.5" text-anchor="end" fill="#3a3a3a" stroke="#3a3a3a" stroke-width="0.4">0</text>
<line x1="100.30" y1="90.95" x2="94.30" y2="90.95" stroke="#3a3a3a" stroke-width="1.8" stroke-linecap="butt"/>
<text x="91.20" y="96.75" font-size="19.5" text-anchor="end" fill="#3a3a3a" stroke="#3a3a3a" stroke-width="0.4">-1</text>
<line x1="100.30" y1="136.40" x2="94.30" y2="136.40" stroke="#3a3a3a" stroke-width="1.8" stroke-linecap="butt"/>
<text x="91.20" y="142.20" font-size="19.5" text-anchor="end" fill="#3a3a3a" stroke="#3a3a3a" stroke-width="0.4">-2</text>
<line x1="100.30" y1="181.85" x2="94.30" y2="181.85" stroke="#3a3a3a" stroke-width="1.8" stroke-linecap="butt"/>
<text x="91.20" y="187.65" font-size="19.5" text-anchor="end" fill="#3a3a3a" stroke="#3a3a3a" stroke-width="0.4">-3</text>
<line x1="100.30" y1="227.30" x2="94.30" y2="227.30" stroke="#3a3a3a" stroke-width="1.8" stroke-linecap="butt"/>
<text x="91.20" y="233.10" font-size="19.5" text-anchor="end" fill="#3a3a3a" stroke="#3a3a3a" stroke-width="0.4">-4</text>
<line x1="100.30" y1="272.75" x2="94.30" y2="272.75" stroke="#3a3a3a" stroke-width="1.8" stroke-linecap="butt"/>
<text x="91.20" y="278.55" font-size="19.5" text-anchor="end" fill="#3a3a3a" stroke="#3a3a3a" stroke-width="0.4">-5</text>
<line x1="100.30" y1="318.20" x2="94.30" y2="318.20" stroke="#3a3a3a" stroke-width="1.8" stroke-linecap="butt"/>
<text x="91.20" y="324.00" font-size="19.5" text-anchor="end" fill="#3a3a3a" stroke="#3a3a3a" stroke-width="0.4">-6</text>
<line x1="143.16" y1="327.20" x2="143.16" y2="330.70" stroke="#3a3a3a" stroke-width="1.8" stroke-linecap="butt"/>
<line x1="228.89" y1="327.20" x2="228.89" y2="330.70" stroke="#3a3a3a" stroke-width="1.8" stroke-linecap="butt"/>
<line x1="314.61" y1="327.20" x2="314.61" y2="330.70" stroke="#3a3a3a" stroke-width="1.8" stroke-linecap="butt"/>
<line x1="400.34" y1="327.20" x2="400.34" y2="330.70" stroke="#3a3a3a" stroke-width="1.8" stroke-linecap="butt"/>
<line x1="100.30" y1="327.20" x2="100.30" y2="333.20" stroke="#3a3a3a" stroke-width="1.8" stroke-linecap="butt"/>
<text x="100.30" y="351.00" font-size="19.5" text-anchor="middle" fill="#3a3a3a" stroke="#3a3a3a" stroke-width="0.4">0.2</text>
<line x1="186.02" y1="327.20" x2="186.02" y2="333.20" stroke="#3a3a3a" stroke-width="1.8" stroke-linecap="butt"/>
<text x="186.02" y="351.00" font-size="19.5" text-anchor="middle" fill="#3a3a3a" stroke="#3a3a3a" stroke-width="0.4">0.4</text>
<line x1="271.75" y1="327.20" x2="271.75" y2="333.20" stroke="#3a3a3a" stroke-width="1.8" stroke-linecap="butt"/>
<text x="271.75" y="351.00" font-size="19.5" text-anchor="middle" fill="#3a3a3a" stroke="#3a3a3a" stroke-width="0.4">0.6</text>
<line x1="357.48" y1="327.20" x2="357.48" y2="333.20" stroke="#3a3a3a" stroke-width="1.8" stroke-linecap="butt"/>
<text x="357.48" y="351.00" font-size="19.5" text-anchor="middle" fill="#3a3a3a" stroke="#3a3a3a" stroke-width="0.4">0.8</text>
<line x1="443.20" y1="327.20" x2="443.20" y2="333.20" stroke="#3a3a3a" stroke-width="1.8" stroke-linecap="butt"/>
<text x="443.20" y="351.00" font-size="19.5" text-anchor="middle" fill="#3a3a3a" stroke="#3a3a3a" stroke-width="0.4">1.0</text>
<text x="278.40" y="376.30" font-size="24" text-anchor="middle" fill="#3a3a3a" stroke="#3a3a3a" stroke-width="0.4"><tspan font-style="italic">E</tspan> / V (<tspan font-style="italic">vs.</tspan> RHE)</text>
<text x="60.30" y="184.00" font-size="24" text-anchor="middle" fill="#3a3a3a" stroke="#3a3a3a" stroke-width="0.4" transform="rotate(-90 60.30 184.00)"><tspan font-style="italic">j</tspan> / mA cm<tspan dy="-9" font-size="14">-2</tspan></text>
<line x1="129.00" y1="59.40" x2="163.00" y2="59.40" stroke="#3a37c4" stroke-width="2.6" stroke-linecap="butt"/>
<text x="166.00" y="64.90" font-size="17.3" text-anchor="start" fill="#3a37c4" stroke="#3a37c4" stroke-width="0.4">PdFe PNHs</text>
<line x1="129.00" y1="80.50" x2="163.00" y2="80.50" stroke="#2a932a" stroke-width="2.6" stroke-linecap="butt"/>
<text x="166.00" y="86.00" font-size="17.3" text-anchor="start" fill="#2a932a" stroke="#2a932a" stroke-width="0.4">Pt/C</text>
<line x1="129.00" y1="102.60" x2="163.00" y2="102.60" stroke="#fd9a2e" stroke-width="2.6" stroke-linecap="butt"/>
<text x="166.00" y="108.10" font-size="17.3" text-anchor="start" fill="#fd9a2e" stroke="#fd9a2e" stroke-width="0.4">Pd black</text>
<text x="520.00" y="56.00" font-size="29.2" text-anchor="start" fill="#222" stroke="#222" stroke-width="0.4">(b)</text>
<rect x="602.90" y="101.20" width="34.00" height="231.50" fill="#3633b4"/>
<text x="619.50" y="93.40" font-size="17" text-anchor="middle" fill="#3a37c4" stroke="#3a37c4" stroke-width="0.4" letter-spacing="-0.7">0.988</text>
<rect x="652.50" y="175.60" width="34.70" height="157.10" fill="#2a9328"/>
<text x="669.45" y="167.80" font-size="17" text-anchor="middle" fill="#2a932a" stroke="#2a932a" stroke-width="0.4" letter-spacing="-0.7">0.976</text>
<rect x="703.00" y="245.90" width="34.80" height="86.80" fill="#fd9526"/>
<text x="720.00" y="238.10" font-size="17" text-anchor="middle" fill="#fd9a2e" stroke="#fd9a2e" stroke-width="0.4" letter-spacing="-0.7">0.964</text>
<rect x="780.60" y="159.00" width="36.40" height="173.70" fill="#3633b4"/>
<text x="798.40" y="151.20" font-size="17" text-anchor="middle" fill="#3a37c4" stroke="#3a37c4" stroke-width="0.4" letter-spacing="-0.7">0.861</text>
<rect x="831.20" y="176.30" width="35.60" height="156.40" fill="#2a9328"/>
<text x="848.60" y="168.50" font-size="17" text-anchor="middle" fill="#2a932a" stroke="#2a932a" stroke-width="0.4" letter-spacing="-0.7">0.858</text>
<rect x="881.50" y="253.70" width="35.60" height="79.00" fill="#fd9526"/>
<text x="898.90" y="245.90" font-size="17" text-anchor="middle" fill="#fd9a2e" stroke="#fd9a2e" stroke-width="0.4" letter-spacing="-0.7">0.844</text>
<line x1="758.20" y1="95.00" x2="758.20" y2="332.00" stroke="#f5368f" stroke-width="2.2" stroke-linecap="butt" stroke-dasharray="4.5 3.5"/>
<line x1="582.70" y1="36.70" x2="582.70" y2="333.50" stroke="#3a3a3a" stroke-width="1.8" stroke-linecap="butt"/>
<line x1="581.90" y1="37.50" x2="938.50" y2="37.50" stroke="#3a3a3a" stroke-width="1.8" stroke-linecap="butt"/>
<line x1="581.90" y1="332.70" x2="938.50" y2="332.70" stroke="#3a3a3a" stroke-width="1.8" stroke-linecap="butt"/>
<line x1="938.50" y1="36.70" x2="938.50" y2="333.50" stroke="#933636" stroke-width="1.8" stroke-linecap="butt"/>
<line x1="582.70" y1="302.52" x2="579.20" y2="302.52" stroke="#3a3a3a" stroke-width="1.8" stroke-linecap="butt"/>
<line x1="582.70" y1="242.18" x2="579.20" y2="242.18" stroke="#3a3a3a" stroke-width="1.8" stroke-linecap="butt"/>
<line x1="582.70" y1="181.83" x2="579.20" y2="181.83" stroke="#3a3a3a" stroke-width="1.8" stroke-linecap="butt"/>
<line x1="582.70" y1="121.47" x2="579.20" y2="121.47" stroke="#3a3a3a" stroke-width="1.8" stroke-linecap="butt"/>
<line x1="582.70" y1="61.12" x2="579.20" y2="61.12" stroke="#3a3a3a" stroke-width="1.8" stroke-linecap="butt"/>
<line x1="582.70" y1="332.70" x2="576.70" y2="332.70" stroke="#3a3a3a" stroke-width="1.8" stroke-linecap="butt"/>
<text x="573.50" y="339.30" font-size="19.5" text-anchor="end" fill="#3a3a3a" stroke="#3a3a3a" stroke-width="0.4">0.95</text>
<line x1="582.70" y1="272.35" x2="576.70" y2="272.35" stroke="#3a3a3a" stroke-width="1.8" stroke-linecap="butt"/>
<text x="573.50" y="278.95" font-size="19.5" text-anchor="end" fill="#3a3a3a" stroke="#3a3a3a" stroke-width="0.4">0.96</text>
<line x1="582.70" y1="212.00" x2="576.70" y2="212.00" stroke="#3a3a3a" stroke-width="1.8" stroke-linecap="butt"/>
<text x="573.50" y="218.60" font-size="19.5" text-anchor="end" fill="#3a3a3a" stroke="#3a3a3a" stroke-width="0.4">0.97</text>
<line x1="582.70" y1="151.65" x2="576.70" y2="151.65" stroke="#3a3a3a" stroke-width="1.8" stroke-linecap="butt"/>
<text x="573.50" y="158.25" font-size="19.5" text-anchor="end" fill="#3a3a3a" stroke="#3a3a3a" stroke-width="0.4">0.98</text>
<line x1="582.70" y1="91.30" x2="576.70" y2="91.30" stroke="#3a3a3a" stroke-width="1.8" stroke-linecap="butt"/>
<text x="573.50" y="97.90" font-size="19.5" text-anchor="end" fill="#3a3a3a" stroke="#3a3a3a" stroke-width="0.4">0.99</text>
<line x1="938.50" y1="304.83" x2="942.00" y2="304.83" stroke="#933636" stroke-width="1.8" stroke-linecap="butt"/>
<line x1="938.50" y1="249.09" x2="942.00" y2="249.09" stroke="#933636" stroke-width="1.8" stroke-linecap="butt"/>
<line x1="938.50" y1="193.35" x2="942.00" y2="193.35" stroke="#933636" stroke-width="1.8" stroke-linecap="butt"/>
<line x1="938.50" y1="137.61" x2="942.00" y2="137.61" stroke="#933636" stroke-width="1.8" stroke-linecap="butt"/>
<line x1="938.50" y1="81.87" x2="942.00" y2="81.87" stroke="#933636" stroke-width="1.8" stroke-linecap="butt"/>
<line x1="938.50" y1="332.70" x2="944.50" y2="332.70" stroke="#933636" stroke-width="1.8" stroke-linecap="butt"/>
<text x="947.20" y="339.30" font-size="19.5" text-anchor="start" fill="#933636" stroke="#933636" stroke-width="0.4">0.83</text>
<line x1="938.50" y1="276.96" x2="944.50" y2="276.96" stroke="#933636" stroke-width="1.8" stroke-linecap="butt"/>
<text x="947.20" y="283.56" font-size="19.5" text-anchor="start" fill="#933636" stroke="#933636" stroke-width="0.4">0.84</text>
<line x1="938.50" y1="221.22" x2="944.50" y2="221.22" stroke="#933636" stroke-width="1.8" stroke-linecap="butt"/>
<text x="947.20" y="227.82" font-size="19.5" text-anchor="start" fill="#933636" stroke="#933636" stroke-width="0.4">0.85</text>
<line x1="938.50" y1="165.48" x2="944.50" y2="165.48" stroke="#933636" stroke-width="1.8" stroke-linecap="butt"/>
<text x="947.20" y="172.08" font-size="19.5" text-anchor="start" fill="#933636" stroke="#933636" stroke-width="0.4">0.86</text>
<line x1="938.50" y1="109.74" x2="944.50" y2="109.74" stroke="#933636" stroke-width="1.8" stroke-linecap="butt"/>
<text x="947.20" y="116.34" font-size="19.5" text-anchor="start" fill="#933636" stroke="#933636" stroke-width="0.4">0.87</text>
<line x1="938.50" y1="54.00" x2="944.50" y2="54.00" stroke="#933636" stroke-width="1.8" stroke-linecap="butt"/>
<text x="947.20" y="60.60" font-size="19.5" text-anchor="start" fill="#933636" stroke="#933636" stroke-width="0.4">0.88</text>
<text x="530.80" y="193.10" font-size="24" text-anchor="middle" fill="#3a3a3a" stroke="#3a3a3a" stroke-width="0.4" transform="rotate(-90 530.80 193.10)"><tspan font-style="italic">E</tspan> / V (<tspan font-style="italic">vs.</tspan> RHE)</text>
<text x="1005.50" y="189.50" font-size="24" text-anchor="middle" fill="#933636" stroke="#933636" stroke-width="0.4" transform="rotate(-90 1005.50 189.50)"><tspan font-style="italic">E</tspan> / V (<tspan font-style="italic">vs.</tspan> RHE)</text>
<text x="663.20" y="365.80" font-size="24" text-anchor="start" fill="#3a3a3a" stroke="#3a3a3a" stroke-width="0.4"><tspan font-style="italic">E</tspan><tspan dy="8.8" font-size="15">0</tspan></text>
<text x="840.00" y="366.50" font-size="24" text-anchor="start" fill="#3a3a3a" stroke="#3a3a3a" stroke-width="0.4"><tspan font-style="italic">E</tspan><tspan dy="8.4" font-size="14.5" letter-spacing="-0.8">1/2</tspan></text>
<rect x="815.20" y="44.80" width="29.60" height="15.00" fill="#3633b4"/>
<text x="848.80" y="58.00" font-size="15.6" text-anchor="start" fill="#3a37c4" stroke="#3a37c4" stroke-width="0.4">PdFe PNHs</text>
<rect x="815.20" y="65.20" width="29.60" height="14.30" fill="#2a9328"/>
<text x="848.80" y="78.00" font-size="15.6" text-anchor="start" fill="#2a932a" stroke="#2a932a" stroke-width="0.4">Pt/C</text>
<rect x="815.20" y="85.60" width="29.60" height="14.60" fill="#fd9526"/>
<text x="848.80" y="98.50" font-size="15.6" text-anchor="start" fill="#fd9a2e" stroke="#fd9a2e" stroke-width="0.4">Pd black</text>
<text x="1025.00" y="57.00" font-size="29.2" text-anchor="start" fill="#222" stroke="#222" stroke-width="0.4">(c)</text>
<polyline points="1133.80,71.41 1134.80,72.18 1135.80,72.95 1136.80,73.73 1137.80,74.50 1138.80,75.27 1139.80,76.04 1140.80,76.82 1141.80,77.59 1142.80,78.36 1143.80,79.13 1144.80,79.90 1145.80,80.68 1146.80,81.45 1147.80,82.22 1148.80,82.99 1149.80,83.77 1150.80,84.54 1151.80,85.31 1152.80,86.09 1153.80,86.86 1154.80,87.63 1155.80,88.40 1156.80,89.18 1157.80,89.95 1158.80,90.72 1159.80,91.50 1160.80,92.27 1161.80,93.05 1162.80,93.82 1163.80,94.59 1164.80,95.37 1165.80,96.14 1166.80,96.92 1167.80,97.69 1168.80,98.47 1169.80,99.24 1170.80,100.01 1171.80,100.79 1172.80,101.56 1173.80,102.34 1174.80,103.12 1175.80,103.89 1176.80,104.67 1177.80,105.44 1178.80,106.22 1179.80,107.00 1180.80,107.77 1181.80,108.55 1182.80,109.33 1183.80,110.10 1184.80,110.88 1185.80,111.66 1186.80,112.44 1187.80,113.21 1188.80,113.99 1189.80,114.77 1190.80,115.55 1191.80,116.33 1192.80,117.11 1193.80,117.89 1194.80,118.67 1195.80,119.45 1196.80,120.23 1197.80,121.01 1198.80,121.79 1199.80,122.57 1200.80,123.35 1201.80,124.13 1202.80,124.91 1203.80,125.69 1204.80,126.48 1205.80,127.26 1206.80,128.04 1207.80,128.82 1208.80,129.61 1209.80,130.39 1210.80,131.17 1211.80,131.96 1212.80,132.74 1213.80,133.53 1214.80,134.31 1215.80,135.10 1216.80,135.88 1217.80,136.67 1218.80,137.46 1219.80,138.24 1220.80,139.03 1221.80,139.82 1222.80,140.61 1223.80,141.40 1224.80,142.18 1225.80,142.97 1226.80,143.76 1227.80,144.55 1228.80,145.34 1229.80,146.13 1230.80,146.92 1231.80,147.71 1232.80,148.51 1233.80,149.30 1234.80,150.09 1235.80,150.88 1236.80,151.68 1237.80,152.47 1238.80,153.26 1239.80,154.06 1240.80,154.85 1241.80,155.65 1242.80,156.44 1243.80,157.24 1244.80,158.04 1245.80,158.83 1246.80,159.63 1247.80,160.43 1248.80,161.23 1249.80,162.03 1250.80,162.82 1251.80,163.62 1252.80,164.42 1253.80,165.23 1254.80,166.03 1255.80,166.83 1256.80,167.63 1257.80,168.43 1258.80,169.24 1259.80,170.04 1260.80,170.84 1261.80,171.65 1262.80,172.45 1263.80,173.26 1264.80,174.06 1265.80,174.87 1266.80,175.68 1267.80,176.49 1268.80,177.29 1269.80,178.10 1270.80,178.91 1271.80,179.72 1272.80,180.53 1273.80,181.34 1274.80,182.15 1275.80,182.97 1276.80,183.78 1277.80,184.59 1278.80,185.41 1279.80,186.22 1280.80,187.03 1281.80,187.85 1282.80,188.67 1283.80,189.48 1284.80,190.30 1285.80,191.12 1286.80,191.94 1287.80,192.75 1288.80,193.57 1289.80,194.39 1290.80,195.22 1291.80,196.04 1292.80,196.86 1293.80,197.68 1294.80,198.50 1295.80,199.33 1296.80,200.15 1297.80,200.98 1298.80,201.80 1299.80,202.63 1300.80,203.46 1301.80,204.29 1302.80,205.11 1303.80,205.94 1304.80,206.77 1305.80,207.60 1306.80,208.43 1307.80,209.27 1308.80,210.10 1309.80,210.93 1310.80,211.77 1311.80,212.60 1312.80,213.44 1313.80,214.27 1314.80,215.11 1315.80,215.95 1316.80,216.78 1317.80,217.62 1318.80,218.46 1319.80,219.30 1320.80,220.14 1321.80,220.99 1322.80,221.83 1323.80,222.67 1324.80,223.52 1325.80,224.36 1326.80,225.21 1327.80,226.05 1328.80,226.90 1329.80,227.75 1330.80,228.60 1331.80,229.45 1332.80,230.30 1333.80,231.15 1334.80,232.00 1335.80,232.85 1336.80,233.70 1337.80,234.56 1338.80,235.41 1339.80,236.27 1340.80,237.13 1341.80,237.98 1342.80,238.84 1343.80,239.70 1344.80,240.56 1345.80,241.42 1346.80,242.28 1347.80,243.14 1348.80,244.01 1349.80,244.87 1350.80,245.74 1351.80,246.60 1352.80,247.47 1353.80,248.34 1354.80,249.20 1355.80,250.07 1356.80,250.94 1357.80,251.82 1358.80,252.69 1359.80,253.56 1360.80,254.43 1361.80,255.31 1362.80,256.18 1363.80,257.06 1364.80,257.94 1365.80,258.81 1366.80,259.69 1367.80,260.57 1368.80,261.45 1369.80,262.34 1370.80,263.22 1371.80,264.10 1372.80,264.99 1373.80,265.87 1374.80,266.76 1375.80,267.65 1376.80,268.53 1377.80,269.42" fill="none" stroke="#fd9a2e" stroke-width="2.3" stroke-linejoin="round" stroke-linecap="round"/>
<polyline points="1159.40,72.14 1160.40,72.90 1161.40,73.61 1162.40,74.64 1163.40,75.77 1164.40,76.56 1165.40,77.61 1166.40,78.02 1167.40,79.31 1168.40,79.98 1169.40,80.87 1170.40,81.94 1171.40,82.52 1172.40,83.46 1173.40,84.39 1174.40,85.24 1175.40,86.12 1176.40,87.06 1177.40,87.76 1178.40,88.41 1179.40,89.83 1180.40,90.17 1181.40,91.09 1182.40,91.70 1183.40,92.24 1184.40,93.36 1185.40,94.35 1186.40,95.27 1187.40,96.00 1188.40,96.98 1189.40,97.84 1190.40,98.66 1191.40,99.28 1192.40,100.11 1193.40,100.87 1194.40,101.55 1195.40,102.82 1196.40,103.10 1197.40,104.14 1198.40,105.01 1199.40,105.34 1200.40,106.72 1201.40,107.30 1202.40,108.22 1203.40,108.91 1204.40,109.46 1205.40,110.60 1206.40,111.38 1207.40,112.35 1208.40,113.04 1209.40,113.40 1210.40,114.75 1211.40,115.47 1212.40,116.26 1213.40,116.99 1214.40,117.53 1215.40,118.56 1216.40,119.17 1217.40,120.60 1218.40,120.75 1219.40,121.36 1220.40,122.29 1221.40,123.42 1222.40,123.80 1223.40,124.20 1224.40,125.75 1225.40,126.30 1226.40,126.90 1227.40,127.92 1228.40,128.36 1229.40,129.08 1230.40,130.27 1231.40,130.75 1232.40,131.72 1233.40,132.38 1234.40,133.31 1235.40,133.93 1236.40,134.27 1237.40,135.57 1238.40,136.11 1239.40,137.14 1240.40,137.75 1241.40,138.77 1242.40,139.18 1243.40,139.59 1244.40,140.70 1245.40,141.62 1246.40,142.21 1247.40,142.94 1248.40,144.09 1249.40,144.52 1250.40,145.52 1251.40,146.09 1252.40,146.53 1253.40,147.39 1254.40,148.27 1255.40,149.15 1256.40,149.68 1257.40,150.31 1258.40,151.14 1259.40,152.00 1260.40,152.68 1261.40,153.49 1262.40,154.73 1263.40,155.17 1264.40,155.71 1265.40,156.62 1266.40,157.69 1267.40,158.26 1268.40,158.86 1269.40,159.36 1270.40,160.05 1271.40,161.07 1272.40,161.88 1273.40,162.33 1274.40,163.14 1275.40,164.15 1276.40,164.47 1277.40,165.32 1278.40,166.41 1279.40,167.29 1280.40,168.00 1281.40,168.89 1282.40,169.76 1283.40,170.38 1284.40,170.91 1285.40,172.14 1286.40,172.81 1287.40,173.42 1288.40,173.83 1289.40,174.83 1290.40,175.09 1291.40,176.21 1292.40,176.54 1293.40,177.71 1294.40,178.77 1295.40,179.33 1296.40,180.41 1297.40,180.85 1298.40,181.64 1299.40,182.32 1300.40,183.26 1301.40,183.91 1302.40,184.93 1303.40,185.78 1304.40,186.30 1305.40,186.77 1306.40,187.88 1307.40,188.81 1308.40,189.45 1309.40,190.15 1310.40,191.05 1311.40,191.91 1312.40,191.90 1313.40,193.50 1314.40,194.13 1315.40,194.86 1316.40,195.43 1317.40,196.37 1318.40,197.23 1319.40,197.60 1320.40,198.83 1321.40,199.49 1322.40,200.56 1323.40,201.19 1324.40,201.81 1325.40,202.65 1326.40,203.56 1327.40,204.26 1328.40,205.14 1329.40,205.68 1330.40,206.38 1331.40,207.31 1332.40,207.95 1333.40,208.88 1334.40,209.91 1335.40,210.33 1336.40,211.22 1337.40,212.42 1338.40,212.98 1339.40,213.90 1340.40,214.47 1341.40,215.33 1342.40,216.30 1343.40,217.50 1344.40,218.09 1345.40,218.49 1346.40,219.74 1347.40,220.67 1348.40,221.45 1349.40,221.90 1350.40,222.97 1351.40,224.24 1352.40,224.47 1353.40,225.56 1354.40,226.19 1355.40,226.93 1356.40,227.94 1357.40,229.09 1358.40,229.96 1359.40,230.41 1360.40,231.34 1361.40,232.12 1362.40,232.74 1363.40,234.14 1364.40,235.19 1365.40,236.05 1366.40,236.52 1367.40,237.75 1368.40,238.58 1369.40,239.17 1370.40,240.11 1371.40,240.92 1372.40,241.93 1373.40,243.13 1374.40,243.47 1375.40,244.30 1376.40,245.61 1377.40,246.34 1378.40,246.85 1379.40,247.93 1380.40,248.87 1381.40,249.82 1382.40,250.91 1383.40,251.96 1384.40,252.64 1385.40,253.62 1386.40,254.36 1387.40,255.63 1388.40,256.62 1389.40,257.23 1390.40,258.07 1391.40,259.56 1392.40,260.27 1393.40,260.84 1394.40,261.63 1395.40,262.85 1396.40,264.10 1397.40,264.70 1398.40,265.72 1399.40,266.62" fill="none" stroke="#2a932a" stroke-width="2.3" stroke-linejoin="round" stroke-linecap="round"/>
<polyline points="1184.40,71.45 1185.40,72.17 1186.40,72.90 1187.40,73.63 1188.40,74.37 1189.40,75.10 1190.40,75.84 1191.40,76.58 1192.40,77.32 1193.40,78.06 1194.40,78.80 1195.40,79.54 1196.40,80.29 1197.40,81.04 1198.40,81.79 1199.40,82.54 1200.40,83.30 1201.40,84.05 1202.40,84.81 1203.40,85.57 1204.40,86.33 1205.40,87.09 1206.40,87.86 1207.40,88.62 1208.40,89.39 1209.40,90.16 1210.40,90.93 1211.40,91.70 1212.40,92.48 1213.40,93.25 1214.40,94.03 1215.40,94.81 1216.40,95.59 1217.40,96.37 1218.40,97.16 1219.40,97.94 1220.40,98.73 1221.40,99.52 1222.40,100.31 1223.40,101.10 1224.40,101.90 1225.40,102.69 1226.40,103.49 1227.40,104.29 1228.40,105.09 1229.40,105.90 1230.40,106.70 1231.40,107.51 1232.40,108.31 1233.40,109.12 1234.40,109.93 1235.40,110.75 1236.40,111.56 1237.40,112.38 1238.40,113.19 1239.40,114.01 1240.40,114.83 1241.40,115.66 1242.40,116.48 1243.40,117.30 1244.40,118.13 1245.40,118.96 1246.40,119.79 1247.40,120.62 1248.40,121.46 1249.40,122.29 1250.40,123.13 1251.40,123.97 1252.40,124.80 1253.40,125.65 1254.40,126.49 1255.40,127.33 1256.40,128.18 1257.40,129.03 1258.40,129.88 1259.40,130.73 1260.40,131.58 1261.40,132.43 1262.40,133.29 1263.40,134.15 1264.40,135.00 1265.40,135.86 1266.40,136.73 1267.40,137.59 1268.40,138.45 1269.40,139.32 1270.40,140.19 1271.40,141.06 1272.40,141.93 1273.40,142.80 1274.40,143.67 1275.40,144.55 1276.40,145.42 1277.40,146.30 1278.40,147.18 1279.40,148.06 1280.40,148.95 1281.40,149.83 1282.40,150.72 1283.40,151.60 1284.40,152.49 1285.40,153.38 1286.40,154.27 1287.40,155.17 1288.40,156.06 1289.40,156.96 1290.40,157.86 1291.40,158.75 1292.40,159.65 1293.40,160.56 1294.40,161.46 1295.40,162.36 1296.40,163.27 1297.40,164.18 1298.40,165.09 1299.40,166.00 1300.40,166.91 1301.40,167.82 1302.40,168.74 1303.40,169.65 1304.40,170.57 1305.40,171.49 1306.40,172.41 1307.40,173.33 1308.40,174.26 1309.40,175.18 1310.40,176.11 1311.40,177.04 1312.40,177.97 1313.40,178.90 1314.40,179.83 1315.40,180.76 1316.40,181.70 1317.40,182.63 1318.40,183.57 1319.40,184.51 1320.40,185.45 1321.40,186.39 1322.40,187.33 1323.40,188.28 1324.40,189.22 1325.40,190.17 1326.40,191.12 1327.40,192.07 1328.40,193.02 1329.40,193.97 1330.40,194.92 1331.40,195.88 1332.40,196.84 1333.40,197.79 1334.40,198.75 1335.40,199.71 1336.40,200.67 1337.40,201.64 1338.40,202.60 1339.40,203.57 1340.40,204.53 1341.40,205.50 1342.40,206.47 1343.40,207.44 1344.40,208.42 1345.40,209.39 1346.40,210.36 1347.40,211.34 1348.40,212.32 1349.40,213.30 1350.40,214.28 1351.40,215.26 1352.40,216.24 1353.40,217.22 1354.40,218.21 1355.40,219.20 1356.40,220.18 1357.40,221.17 1358.40,222.16 1359.40,223.15 1360.40,224.15 1361.40,225.14 1362.40,226.14 1363.40,227.13 1364.40,228.13 1365.40,229.13 1366.40,230.13 1367.40,231.13 1368.40,232.13 1369.40,233.14 1370.40,234.14 1371.40,235.15 1372.40,236.16 1373.40,237.17 1374.40,238.18 1375.40,239.19 1376.40,240.20 1377.40,241.21 1378.40,242.23 1379.40,243.24 1380.40,244.26 1381.40,245.28 1382.40,246.30 1383.40,247.32 1384.40,248.34 1385.40,249.37 1386.40,250.39 1387.40,251.42 1388.40,252.44 1389.40,253.47 1390.40,254.50 1391.40,255.53 1392.40,256.56 1393.40,257.60 1394.40,258.63 1395.40,259.66 1396.40,260.70 1397.40,261.74 1398.40,262.78 1399.40,263.82 1400.40,264.86 1401.40,265.90 1402.40,266.94" fill="none" stroke="#3a37c4" stroke-width="2.3" stroke-linejoin="round" stroke-linecap="round"/>
<line x1="1101.10" y1="190.10" x2="1326.30" y2="190.10" stroke="#f5368f" stroke-width="2.3" stroke-linecap="butt" stroke-dasharray="4.4 4.5"/>
<line x1="1284.80" y1="190.10" x2="1284.80" y2="326.70" stroke="#fd9a2e" stroke-width="2.3" stroke-linecap="butt" stroke-dasharray="4.4 4.5"/>
<line x1="1311.20" y1="190.10" x2="1311.20" y2="326.70" stroke="#2a932a" stroke-width="2.3" stroke-linecap="butt" stroke-dasharray="4.4 4.5"/>
<line x1="1325.80" y1="190.10" x2="1325.80" y2="326.70" stroke="#3a37c4" stroke-width="2.3" stroke-linecap="butt" stroke-dasharray="4.4 4.5"/>
<line x1="1101.10" y1="35.50" x2="1101.10" y2="327.60" stroke="#3a3a3a" stroke-width="1.8" stroke-linecap="butt"/>
<line x1="1100.20" y1="36.40" x2="1457.60" y2="36.40" stroke="#3a3a3a" stroke-width="1.8" stroke-linecap="butt"/>
<line x1="1456.70" y1="35.50" x2="1456.70" y2="327.60" stroke="#3a3a3a" stroke-width="1.8" stroke-linecap="butt"/>
<line x1="1100.20" y1="326.70" x2="1457.60" y2="326.70" stroke="#3a3a3a" stroke-width="1.8" stroke-linecap="butt"/>
<line x1="1101.10" y1="326.40" x2="1097.60" y2="326.40" stroke="#3a3a3a" stroke-width="1.8" stroke-linecap="butt"/>
<line x1="1101.10" y1="258.20" x2="1097.60" y2="258.20" stroke="#3a3a3a" stroke-width="1.8" stroke-linecap="butt"/>
<line x1="1101.10" y1="190.00" x2="1097.60" y2="190.00" stroke="#3a3a3a" stroke-width="1.8" stroke-linecap="butt"/>
<line x1="1101.10" y1="121.80" x2="1097.60" y2="121.80" stroke="#3a3a3a" stroke-width="1.8" stroke-linecap="butt"/>
<line x1="1101.10" y1="53.60" x2="1097.60" y2="53.60" stroke="#3a3a3a" stroke-width="1.8" stroke-linecap="butt"/>
<line x1="1101.10" y1="292.30" x2="1095.10" y2="292.30" stroke="#3a3a3a" stroke-width="1.8" stroke-linecap="butt"/>
<text x="1092.00" y="298.90" font-size="19.5" text-anchor="end" fill="#3a3a3a" stroke="#3a3a3a" stroke-width="0.4">0.84</text>
<line x1="1101.10" y1="224.10" x2="1095.10" y2="224.10" stroke="#3a3a3a" stroke-width="1.8" stroke-linecap="butt"/>
<text x="1092.00" y="230.70" font-size="19.5" text-anchor="end" fill="#3a3a3a" stroke="#3a3a3a" stroke-width="0.4">0.88</text>
<line x1="1101.10" y1="155.90" x2="1095.10" y2="155.90" stroke="#3a3a3a" stroke-width="1.8" stroke-linecap="butt"/>
<text x="1092.00" y="162.50" font-size="19.5" text-anchor="end" fill="#3a3a3a" stroke="#3a3a3a" stroke-width="0.4">0.92</text>
<line x1="1101.10" y1="87.70" x2="1095.10" y2="87.70" stroke="#3a3a3a" stroke-width="1.8" stroke-linecap="butt"/>
<text x="1092.00" y="94.30" font-size="19.5" text-anchor="end" fill="#3a3a3a" stroke="#3a3a3a" stroke-width="0.4">0.96</text>
<line x1="1101.20" y1="326.70" x2="1101.20" y2="330.20" stroke="#3a3a3a" stroke-width="1.8" stroke-linecap="butt"/>
<line x1="1112.56" y1="326.70" x2="1112.56" y2="330.20" stroke="#3a3a3a" stroke-width="1.8" stroke-linecap="butt"/>
<line x1="1122.17" y1="326.70" x2="1122.17" y2="330.20" stroke="#3a3a3a" stroke-width="1.8" stroke-linecap="butt"/>
<line x1="1130.49" y1="326.70" x2="1130.49" y2="330.20" stroke="#3a3a3a" stroke-width="1.8" stroke-linecap="butt"/>
<line x1="1137.83" y1="326.70" x2="1137.83" y2="330.20" stroke="#3a3a3a" stroke-width="1.8" stroke-linecap="butt"/>
<line x1="1187.60" y1="326.70" x2="1187.60" y2="330.20" stroke="#3a3a3a" stroke-width="1.8" stroke-linecap="butt"/>
<line x1="1212.87" y1="326.70" x2="1212.87" y2="330.20" stroke="#3a3a3a" stroke-width="1.8" stroke-linecap="butt"/>
<line x1="1230.80" y1="326.70" x2="1230.80" y2="330.20" stroke="#3a3a3a" stroke-width="1.8" stroke-linecap="butt"/>
<line x1="1244.70" y1="326.70" x2="1244.70" y2="330.20" stroke="#3a3a3a" stroke-width="1.8" stroke-linecap="butt"/>
<line x1="1256.06" y1="326.70" x2="1256.06" y2="330.20" stroke="#3a3a3a" stroke-width="1.8" stroke-linecap="butt"/>
<line x1="1265.67" y1="326.70" x2="1265.67" y2="330.20" stroke="#3a3a3a" stroke-width="1.8" stroke-linecap="butt"/>
<line x1="1273.99" y1="326.70" x2="1273.99" y2="330.20" stroke="#3a3a3a" stroke-width="1.8" stroke-linecap="butt"/>
<line x1="1281.33" y1="326.70" x2="1281.33" y2="330.20" stroke="#3a3a3a" stroke-width="1.8" stroke-linecap="butt"/>
<line x1="1331.10" y1="326.70" x2="1331.10" y2="330.20" stroke="#3a3a3a" stroke-width="1.8" stroke-linecap="butt"/>
<line x1="1356.37" y1="326.70" x2="1356.37" y2="330.20" stroke="#3a3a3a" stroke-width="1.8" stroke-linecap="butt"/>
<line x1="1374.30" y1="326.70" x2="1374.30" y2="330.20" stroke="#3a3a3a" stroke-width="1.8" stroke-linecap="butt"/>
<line x1="1388.20" y1="326.70" x2="1388.20" y2="330.20" stroke="#3a3a3a" stroke-width="1.8" stroke-linecap="butt"/>
<line x1="1399.56" y1="326.70" x2="1399.56" y2="330.20" stroke="#3a3a3a" stroke-width="1.8" stroke-linecap="butt"/>
<line x1="1409.17" y1="326.70" x2="1409.17" y2="330.20" stroke="#3a3a3a" stroke-width="1.8" stroke-linecap="butt"/>
<line x1="1417.49" y1="326.70" x2="1417.49" y2="330.20" stroke="#3a3a3a" stroke-width="1.8" stroke-linecap="butt"/>
<line x1="1424.83" y1="326.70" x2="1424.83" y2="330.20" stroke="#3a3a3a" stroke-width="1.8" stroke-linecap="butt"/>
<line x1="1144.40" y1="326.70" x2="1144.40" y2="332.70" stroke="#3a3a3a" stroke-width="1.8" stroke-linecap="butt"/>
<text x="1144.40" y="351.00" font-size="19.5" text-anchor="middle" fill="#3a3a3a" stroke="#3a3a3a" stroke-width="0.4">0.1</text>
<line x1="1287.90" y1="326.70" x2="1287.90" y2="332.70" stroke="#3a3a3a" stroke-width="1.8" stroke-linecap="butt"/>
<text x="1287.90" y="351.00" font-size="19.5" text-anchor="middle" fill="#3a3a3a" stroke="#3a3a3a" stroke-width="0.4">1</text>
<line x1="1431.40" y1="326.70" x2="1431.40" y2="332.70" stroke="#3a3a3a" stroke-width="1.8" stroke-linecap="butt"/>
<text x="1431.40" y="351.00" font-size="19.5" text-anchor="middle" fill="#3a3a3a" stroke="#3a3a3a" stroke-width="0.4">10</text>
<text x="1047.00" y="188.00" font-size="23.4" text-anchor="middle" fill="#3a3a3a" stroke="#3a3a3a" stroke-width="0.4" transform="rotate(-90 1047.00 188.00)"><tspan font-style="italic">E</tspan> / V (<tspan font-style="italic">vs.</tspan> RHE)</text>
<text x="1290.00" y="376.00" font-size="24" text-anchor="middle" fill="#3a3a3a" stroke="#3a3a3a" stroke-width="0.4"><tspan font-style="italic">j</tspan><tspan dy="8" font-size="14">k</tspan><tspan dy="-8"> / mA cm</tspan><tspan dy="-12" font-size="14">-2</tspan></text>
<line x1="1313.30" y1="61.80" x2="1346.60" y2="61.80" stroke="#3a37c4" stroke-width="2.6" stroke-linecap="butt"/>
<text x="1349.60" y="67.30" font-size="17.3" text-anchor="start" fill="#3a37c4" stroke="#3a37c4" stroke-width="0.4">PdFe PNHs</text>
<line x1="1313.30" y1="82.50" x2="1346.60" y2="82.50" stroke="#2a932a" stroke-width="2.6" stroke-linecap="butt"/>
<text x="1349.60" y="88.00" font-size="17.3" text-anchor="start" fill="#2a932a" stroke="#2a932a" stroke-width="0.4">Pt/C</text>
<line x1="1313.30" y1="105.30" x2="1346.60" y2="105.30" stroke="#fd9a2e" stroke-width="2.6" stroke-linecap="butt"/>
<text x="1349.60" y="110.80" font-size="17.3" text-anchor="start" fill="#fd9a2e" stroke="#fd9a2e" stroke-width="0.4">Pd black</text>
<text x="26.50" y="417.50" font-size="29.2" text-anchor="start" fill="#222" stroke="#222" stroke-width="0.4">(d)</text>
<polyline points="96.20,401.10 97.64,401.30 97.94,401.34 98.26,401.38 98.62,401.43 99.01,401.48 99.41,401.54 99.84,401.59 100.28,401.65 100.74,401.72 101.21,401.78 101.68,401.84 102.17,401.91 102.65,401.98 103.14,402.04 103.64,402.11 104.13,402.17 104.62,402.24 105.12,402.31 105.61,402.37 106.11,402.44 106.61,402.51 107.10,402.57 107.60,402.64 108.09,402.71 108.59,402.77 109.08,402.84 109.58,402.91 110.07,402.97 110.57,403.04 111.07,403.10 111.56,403.17 112.06,403.24 112.55,403.30 113.05,403.37 113.54,403.44 114.04,403.50 114.53,403.57 115.03,403.64 115.52,403.71 116.02,403.77 116.52,403.84 117.01,403.91 117.51,403.98 118.00,404.05 118.50,404.12 118.99,404.19 119.49,404.27 119.98,404.34 120.48,404.41 120.97,404.48 121.46,404.55 121.96,404.63 122.45,404.70 122.95,404.77 123.44,404.84 123.94,404.92 124.43,404.99 124.93,405.06 125.42,405.13 125.92,405.20 126.41,405.28 126.91,405.35 127.40,405.42 127.90,405.49 128.39,405.55 128.89,405.62 129.38,405.69 129.88,405.76 130.37,405.82 130.87,405.88 131.37,405.95 131.86,406.01 132.36,406.07 132.86,406.13 133.35,406.19 133.85,406.24 134.35,406.30 134.84,406.35 135.34,406.40 135.84,406.45 136.33,406.50 136.83,406.55 137.33,406.60 137.83,406.64 138.33,406.68 138.82,406.73 139.32,406.77 139.82,406.81 140.32,406.84 140.82,406.88 141.32,406.92 141.82,406.96 142.31,406.99 142.81,407.03 143.31,407.06 143.81,407.10 144.31,407.13 144.81,407.16 145.31,407.20 145.81,407.23 146.30,407.26 146.80,407.30 147.30,407.33 147.80,407.36 148.30,407.40 148.80,407.43 149.30,407.46 149.80,407.49 150.30,407.52 150.80,407.55 151.29,407.58 151.79,407.61 152.29,407.65 152.79,407.67 153.29,407.70 153.79,407.73 154.29,407.76 154.79,407.79 155.29,407.82 155.79,407.85 156.29,407.87 156.79,407.90 157.28,407.93 157.78,407.95 158.28,407.98 158.78,408.00 159.28,408.03 159.78,408.05 160.28,408.07 160.78,408.10 161.28,408.12 161.78,408.14 162.28,408.16 162.78,408.18 163.28,408.20 163.78,408.22 164.28,408.24 164.78,408.26 165.28,408.28 165.78,408.30 166.28,408.31 166.78,408.33 167.28,408.34 167.78,408.36 168.27,408.37 168.77,408.38 169.27,408.40 169.77,408.41 170.27,408.42 170.77,408.43 171.27,408.44 171.77,408.45 172.27,408.45 172.77,408.46 173.27,408.47 173.77,408.47 174.27,408.48 174.77,408.48 175.27,408.48 175.77,408.49 176.27,408.49 176.77,408.49 177.27,408.49 177.77,408.49 178.27,408.49 178.77,408.49 179.27,408.48 179.77,408.48 180.27,408.48 180.77,408.47 181.27,408.47 181.77,408.47 182.27,408.46 182.77,408.46 183.27,408.45 183.77,408.45 184.27,408.44 184.77,408.43 185.27,408.43 185.77,408.42 186.27,408.41 186.77,408.40 187.27,408.40 187.77,408.39 188.27,408.38 188.77,408.37 189.27,408.36 189.77,408.35 190.27,408.34 190.77,408.34 191.27,408.33 191.77,408.32 192.27,408.31 192.77,408.30 193.27,408.29 193.77,408.28 194.27,408.27 194.77,408.26 195.27,408.25 195.77,408.24 196.27,408.23 196.77,408.22 197.27,408.21 197.77,408.20 198.27,408.19 198.77,408.18 199.27,408.17 199.77,408.16 200.27,408.15 200.77,408.14 201.27,408.14 201.77,408.13 202.27,408.12 202.77,408.11 203.27,408.10 203.77,408.09 204.27,408.09 204.77,408.08 205.27,408.07 205.77,408.07 206.27,408.06 206.77,408.05 207.27,408.05 207.77,408.04 208.27,408.04 208.77,408.03 209.27,408.03 209.77,408.02 210.27,408.02 210.77,408.02 211.27,408.02 211.77,408.01 212.27,408.01 212.77,408.01 213.27,408.01 213.77,408.02 214.27,408.02 214.77,408.02 215.27,408.02 215.77,408.03 216.27,408.04 216.77,408.04 217.27,408.05 217.77,408.06 218.27,408.07 218.77,408.08 219.27,408.09 219.77,408.11 220.27,408.12 220.77,408.13 221.27,408.15 221.77,408.17 222.27,408.18 222.77,408.20 223.27,408.22 223.77,408.24 224.27,408.26 224.76,408.28 225.26,408.30 225.76,408.33 226.26,408.35 226.76,408.37 227.26,408.40 227.76,408.42 228.26,408.44 228.76,408.47 229.26,408.50 229.76,408.52 230.26,408.55 230.76,408.57 231.26,408.60 231.76,408.63 232.26,408.66 232.75,408.68 233.25,408.71 233.75,408.74 234.25,408.77 234.75,408.79 235.25,408.82 235.75,408.85 236.25,408.88 236.75,408.91 237.25,408.93 237.75,408.96 238.25,408.99 238.74,409.02 239.24,409.05 239.74,409.08 240.24,409.12 240.74,409.15 241.24,409.18 241.74,409.21 242.24,409.25 242.74,409.28 243.24,409.32 243.73,409.35 244.23,409.39 244.73,409.43 245.23,409.47 245.73,409.51 246.23,409.55 246.72,409.59 247.22,409.63 247.72,409.67 248.22,409.71 248.72,409.75 249.22,409.79 249.71,409.84 250.21,409.88 250.71,409.92 251.21,409.97 251.71,410.01 252.20,410.06 252.70,410.10 253.20,410.14 253.70,410.19 254.20,410.23 254.69,410.28 255.19,410.32 255.69,410.36 256.19,410.41 256.69,410.45 257.19,410.49 257.68,410.54 258.18,410.58 258.68,410.62 259.18,410.66 259.68,410.70 260.17,410.75 260.67,410.79 261.17,410.83 261.67,410.87 262.17,410.91 262.67,410.95 263.16,410.99 263.66,411.02 264.16,411.06 264.66,411.10 265.16,411.14 265.66,411.18 266.16,411.22 266.65,411.26 267.15,411.29 267.65,411.33 268.15,411.37 268.65,411.41 269.15,411.45 269.65,411.49 270.14,411.52 270.64,411.56 271.14,411.60 271.64,411.64 272.14,411.68 272.64,411.71 273.14,411.75 273.63,411.79 274.13,411.83 274.63,411.86 275.13,411.90 275.63,411.94 276.13,411.97 276.63,412.01 277.12,412.04 277.62,412.08 278.12,412.11 278.62,412.15 279.12,412.18 279.62,412.22 280.12,412.25 280.62,412.28 281.12,412.31 281.61,412.34 282.11,412.37 282.61,412.41 283.11,412.43 283.61,412.46 284.11,412.49 284.61,412.52 285.11,412.55 285.61,412.57 286.11,412.60 286.61,412.62 287.11,412.65 287.61,412.67 288.10,412.70 288.60,412.72 289.10,412.75 289.60,412.77 290.10,412.79 290.60,412.82 291.10,412.84 291.60,412.86 292.10,412.88 292.60,412.91 293.10,412.93 293.60,412.95 294.10,412.97 294.60,412.99 295.10,413.01 295.60,413.04 296.10,413.06 296.60,413.08 297.10,413.10 297.60,413.12 298.10,413.14 298.59,413.16 299.09,413.18 299.59,413.20 300.09,413.22 300.59,413.24 301.09,413.25 301.59,413.27 302.09,413.29 302.59,413.30 303.09,413.32 303.59,413.33 304.09,413.35 304.59,413.36 305.09,413.38 305.59,413.39 306.09,413.40 306.59,413.41 307.09,413.42 307.59,413.43 308.09,413.44 308.59,413.45 309.09,413.46 309.59,413.46 310.09,413.47 310.59,413.48 311.09,413.48 311.59,413.48 312.09,413.49 312.59,413.49 313.09,413.49 313.59,413.49 314.09,413.50 314.59,413.50 315.09,413.50 315.59,413.50 316.09,413.50 316.59,413.50 317.09,413.50 317.59,413.50 318.09,413.50 318.59,413.50 319.09,413.50 319.59,413.50 320.09,413.50 320.59,413.50 321.09,413.50 321.59,413.50 322.09,413.50 322.59,413.50 323.09,413.50 323.59,413.50 324.09,413.50 324.59,413.50 325.09,413.50 325.59,413.50 326.09,413.50 326.59,413.50 327.09,413.50 327.59,413.50 328.09,413.50 328.59,413.50 329.09,413.50 329.59,413.50 330.09,413.50 330.59,413.50 331.09,413.50 331.59,413.50 332.09,413.50 332.59,413.50 333.09,413.50 333.59,413.50 334.09,413.50 334.59,413.50 335.09,413.50 335.59,413.50 336.09,413.50 336.59,413.51 337.09,413.51 337.59,413.51 338.09,413.51 338.59,413.51 339.09,413.52 339.59,413.52 340.09,413.53 340.59,413.53 341.09,413.54 341.59,413.55 342.09,413.55 342.59,413.56 343.09,413.57 343.59,413.58 344.09,413.59 344.59,413.60 345.09,413.61 345.59,413.63 346.09,413.64 346.59,413.65 347.09,413.67 347.59,413.68 348.09,413.70 348.59,413.71 349.09,413.73 349.59,413.74 350.09,413.76 350.59,413.78 351.09,413.79 351.59,413.81 352.08,413.83 352.58,413.85 353.08,413.86 353.58,413.88 354.08,413.90 354.58,413.92 355.08,413.94 355.58,413.96 356.08,413.97 356.58,413.99 357.08,414.01 357.58,414.03 358.08,414.05 358.58,414.07 359.08,414.08 359.58,414.10 360.08,414.12 360.58,414.14 361.08,414.16 361.58,414.18 362.08,414.20 362.58,414.21 363.08,414.23 363.58,414.25 364.08,414.27 364.58,414.29 365.08,414.31 365.58,414.33 366.07,414.35 366.57,414.38 367.07,414.40 367.57,414.42 368.07,414.44 368.57,414.47 369.07,414.49 369.57,414.51 370.07,414.54 370.57,414.56 371.07,414.58 371.57,414.61 372.07,414.63 372.57,414.66 373.07,414.68 373.57,414.71 374.07,414.73 374.57,414.75 375.06,414.78 375.56,414.80 376.06,414.82 376.56,414.85 377.06,414.87 377.56,414.89 378.06,414.91 378.56,414.93 379.06,414.95 379.56,414.97 380.06,414.99 380.56,415.01 381.06,415.03 381.56,415.05 382.06,415.07 382.56,415.08 383.06,415.10 383.56,415.11 384.06,415.12 384.56,415.14 385.06,415.15 385.56,415.16 386.06,415.17 386.56,415.18 387.06,415.19 387.56,415.20 388.06,415.21 388.56,415.22 389.06,415.22 389.56,415.23 390.06,415.24 390.56,415.24 391.06,415.25 391.56,415.26 392.06,415.26 392.56,415.27 393.06,415.27 393.56,415.28 394.06,415.29 394.56,415.29 395.06,415.30 395.56,415.30 396.06,415.31 396.56,415.31 397.06,415.32 397.56,415.32 398.06,415.33 398.56,415.33 399.06,415.34 399.56,415.34 400.06,415.34 400.56,415.35 401.06,415.35 401.56,415.36 402.06,415.36 402.56,415.36 403.06,415.37 403.56,415.37 404.06,415.37 404.56,415.38 405.06,415.38 405.56,415.38 406.06,415.38 406.56,415.39 407.06,415.39 407.56,415.39 408.06,415.39 408.56,415.39 409.06,415.39 409.56,415.39 410.06,415.40 410.56,415.40 411.06,415.40 411.56,415.40 412.06,415.40 412.56,415.40 413.06,415.40 413.56,415.39 414.06,415.39 414.56,415.39 415.06,415.39 415.56,415.39 416.06,415.39 416.56,415.38 417.06,415.38 417.56,415.38 418.06,415.38 418.56,415.37 419.06,415.37 419.56,415.37 420.06,415.36 420.56,415.36 421.06,415.35 421.56,415.35 422.06,415.35 422.56,415.34 423.06,415.34 423.56,415.33 424.06,415.32 424.56,415.32 425.06,415.31 425.56,415.31 426.06,415.30 426.56,415.29 427.06,415.29 427.56,415.28 428.06,415.27 428.56,415.26 429.05,415.26 429.55,415.25 430.05,415.24 430.55,415.23 431.05,415.22 431.55,415.21 432.05,415.20 432.55,415.19 433.05,415.18 433.55,415.18 434.05,415.17 434.55,415.15 435.05,415.14 435.55,415.13 436.05,415.12 436.55,415.11 437.05,415.10 437.55,415.09 438.05,415.08 438.55,415.07 439.05,415.05 439.55,415.04 440.05,415.03 440.55,415.02 441.05,415.00 441.55,414.99 442.05,414.98 442.55,414.96 443.05,414.95 443.55,414.94 444.05,414.92 444.54,414.91 445.04,414.90 445.53,414.88 446.01,414.87 446.49,414.85 446.96,414.84 447.41,414.83 447.86,414.81 448.28,414.80 448.68,414.79 449.06,414.77 449.42,414.76 449.74,414.75 450.03,414.74 451.40,414.70" fill="none" stroke="#fd9a2e" stroke-width="2.2" stroke-linejoin="round" stroke-linecap="round"/>
<polyline points="96.20,672.50 97.63,672.26 97.93,672.21 98.25,672.15 98.61,672.10 98.99,672.04 99.40,671.98 99.82,671.91 100.27,671.85 100.72,671.78 101.19,671.72 101.67,671.65 102.15,671.59 102.64,671.53 103.13,671.48 103.62,671.42 104.12,671.37 104.61,671.33 105.11,671.29 105.61,671.25 106.11,671.21 106.60,671.18 107.10,671.15 107.60,671.13 108.10,671.11 108.60,671.10 109.10,671.09 109.60,671.09 110.10,671.09 110.60,671.10 111.10,671.11 111.59,671.12 112.09,671.14 112.59,671.16 113.09,671.19 113.59,671.22 114.09,671.26 114.59,671.30 115.08,671.34 115.58,671.38 116.08,671.43 116.58,671.48 117.07,671.54 117.57,671.59 118.07,671.65 118.56,671.71 119.06,671.77 119.56,671.83 120.05,671.89 120.55,671.95 121.04,672.01 121.54,672.07 122.04,672.14 122.53,672.20 123.03,672.26 123.52,672.32 124.02,672.37 124.52,672.43 125.01,672.48 125.51,672.54 126.01,672.59 126.51,672.63 127.00,672.68 127.50,672.72 128.00,672.76 128.50,672.79 129.00,672.82 129.50,672.85 129.99,672.87 130.49,672.89 130.99,672.91 131.49,672.92 131.99,672.93 132.49,672.93 132.99,672.93 133.49,672.92 133.99,672.92 134.49,672.91 134.99,672.89 135.49,672.87 135.99,672.85 136.49,672.83 136.99,672.80 137.48,672.77 137.98,672.74 138.48,672.71 138.98,672.67 139.48,672.63 139.98,672.59 140.47,672.55 140.97,672.50 141.47,672.45 141.97,672.41 142.46,672.35 142.96,672.30 143.46,672.25 143.96,672.19 144.45,672.14 144.95,672.08 145.45,672.02 145.94,671.96 146.44,671.90 146.93,671.83 147.43,671.77 147.93,671.71 148.42,671.64 148.92,671.58 149.41,671.51 149.91,671.44 150.40,671.38 150.90,671.31 151.39,671.24 151.89,671.17 152.38,671.11 152.88,671.04 153.38,670.97 153.87,670.90 154.37,670.83 154.86,670.76 155.36,670.69 155.85,670.62 156.35,670.55 156.84,670.47 157.33,670.40 157.83,670.32 158.32,670.25 158.82,670.17 159.31,670.09 159.80,670.01 160.30,669.92 160.79,669.84 161.28,669.75 161.77,669.66 162.26,669.57 162.76,669.48 163.25,669.39 163.74,669.29 164.23,669.20 164.72,669.10 165.21,669.00 165.70,668.90 166.19,668.81 166.68,668.71 167.17,668.61 167.66,668.51 168.15,668.41 168.64,668.31 169.13,668.21 169.62,668.11 170.11,668.01 170.60,667.92 171.09,667.82 171.58,667.72 172.07,667.63 172.56,667.54 173.06,667.44 173.55,667.35 174.04,667.26 174.53,667.17 175.02,667.09 175.52,667.00 176.01,666.92 176.50,666.83 176.99,666.75 177.49,666.67 177.98,666.58 178.47,666.50 178.97,666.42 179.46,666.34 179.95,666.26 180.45,666.18 180.94,666.10 181.43,666.02 181.93,665.93 182.42,665.85 182.91,665.77 183.41,665.69 183.90,665.61 184.39,665.53 184.89,665.45 185.38,665.37 185.87,665.28 186.37,665.20 186.86,665.12 187.35,665.04 187.85,664.96 188.34,664.88 188.84,664.81 189.33,664.73 189.82,664.65 190.32,664.57 190.81,664.50 191.31,664.42 191.80,664.35 192.29,664.27 192.79,664.20 193.28,664.13 193.78,664.06 194.27,663.99 194.77,663.92 195.26,663.85 195.76,663.78 196.26,663.72 196.75,663.65 197.25,663.59 197.74,663.53 198.24,663.47 198.74,663.41 199.23,663.35 199.73,663.30 200.23,663.25 200.72,663.19 201.22,663.14 201.72,663.10 202.22,663.05 202.71,663.01 203.21,662.96 203.71,662.92 204.21,662.89 204.71,662.85 205.21,662.81 205.71,662.78 206.20,662.75 206.70,662.72 207.20,662.70 207.70,662.67 208.20,662.65 208.70,662.63 209.20,662.61 209.70,662.59 210.20,662.57 210.70,662.55 211.20,662.54 211.70,662.52 212.20,662.50 212.70,662.49 213.20,662.47 213.70,662.46 214.20,662.45 214.70,662.43 215.20,662.42 215.70,662.40 216.20,662.39 216.70,662.38 217.20,662.36 217.70,662.35 218.20,662.34 218.70,662.33 219.20,662.31 219.70,662.30 220.19,662.29 220.69,662.28 221.19,662.27 221.69,662.25 222.19,662.24 222.69,662.23 223.19,662.22 223.69,662.21 224.19,662.20 224.69,662.19 225.19,662.17 225.69,662.16 226.19,662.15 226.69,662.14 227.19,662.13 227.69,662.12 228.19,662.11 228.69,662.10 229.19,662.09 229.69,662.08 230.19,662.07 230.69,662.06 231.19,662.06 231.69,662.05 232.19,662.04 232.69,662.03 233.19,662.02 233.69,662.01 234.19,662.00 234.69,662.00 235.19,661.99 235.69,661.98 236.19,661.97 236.69,661.97 237.19,661.96 237.69,661.95 238.19,661.94 238.69,661.94 239.19,661.93 239.69,661.92 240.19,661.92 240.69,661.91 241.19,661.91 241.69,661.90 242.19,661.89 242.69,661.89 243.19,661.88 243.69,661.88 244.19,661.87 244.69,661.87 245.19,661.86 245.69,661.86 246.19,661.86 246.69,661.85 247.19,661.85 247.69,661.84 248.19,661.84 248.69,661.84 249.19,661.83 249.69,661.83 250.19,661.83 250.69,661.82 251.19,661.82 251.69,661.82 252.19,661.82 252.69,661.82 253.19,661.81 253.69,661.81 254.19,661.81 254.69,661.81 255.19,661.81 255.69,661.82 256.19,661.82 256.69,661.82 257.19,661.83 257.69,661.84 258.19,661.85 258.69,661.87 259.19,661.89 259.69,661.91 260.19,661.93 260.68,661.96 261.18,661.99 261.68,662.03 262.18,662.07 262.68,662.12 263.17,662.17 263.67,662.22 264.16,662.28 264.66,662.34 265.16,662.40 265.65,662.47 266.15,662.54 266.64,662.61 267.14,662.68 267.63,662.76 268.12,662.84 268.62,662.92 269.11,663.00 269.60,663.08 270.10,663.16 270.59,663.25 271.08,663.33 271.57,663.41 272.07,663.50 272.56,663.58 273.05,663.66 273.55,663.74 274.04,663.82 274.54,663.90 275.03,663.97 275.52,664.04 276.02,664.11 276.51,664.18 277.01,664.25 277.50,664.31 278.00,664.37 278.50,664.42 278.99,664.47 279.49,664.52 279.99,664.56 280.49,664.60 280.98,664.64 281.48,664.67 281.98,664.70 282.48,664.72 282.98,664.74 283.48,664.76 283.98,664.78 284.48,664.79 284.98,664.80 285.48,664.81 285.98,664.82 286.48,664.83 286.98,664.84 287.48,664.84 287.98,664.85 288.48,664.86 288.98,664.86 289.48,664.87 289.98,664.87 290.48,664.87 290.98,664.88 291.48,664.88 291.98,664.89 292.48,664.89 292.98,664.90 293.48,664.90 293.98,664.90 294.48,664.91 294.98,664.91 295.48,664.92 295.98,664.92 296.48,664.92 296.98,664.93 297.48,664.93 297.98,664.93 298.48,664.94 298.98,664.94 299.48,664.94 299.98,664.95 300.48,664.95 300.98,664.95 301.48,664.95 301.98,664.96 302.48,664.96 302.98,664.96 303.48,664.96 303.98,664.97 304.48,664.97 304.98,664.97 305.48,664.97 305.98,664.98 306.48,664.98 306.98,664.98 307.48,664.98 307.98,664.98 308.48,664.98 308.98,664.99 309.48,664.99 309.98,664.99 310.48,664.99 310.98,664.99 311.48,664.99 311.98,664.99 312.48,664.99 312.98,664.99 313.48,664.99 313.98,664.98 314.48,664.98 314.97,664.97 315.47,664.96 315.97,664.94 316.47,664.92 316.97,664.90 317.46,664.86 317.96,664.82 318.45,664.77 318.95,664.72 319.44,664.65 319.92,664.57 320.41,664.48 320.90,664.38 321.38,664.26 321.86,664.14 322.33,664.00 322.80,663.86 323.27,663.70 323.74,663.53 324.20,663.36 324.66,663.17 325.12,662.97 325.58,662.77 326.03,662.56 326.47,662.34 326.92,662.12 327.36,661.88 327.80,661.65 328.23,661.41 328.67,661.16 329.10,660.91 329.53,660.65 329.96,660.40 330.38,660.13 330.81,659.87 331.23,659.60 331.65,659.33 332.06,659.06 332.48,658.78 332.90,658.50 333.31,658.22 333.72,657.93 334.13,657.65 334.53,657.36 334.93,657.06 335.33,656.76 335.73,656.46 336.12,656.15 336.51,655.84 336.89,655.52 337.27,655.19 337.64,654.86 338.01,654.53 338.37,654.19 338.73,653.84 339.08,653.49 339.43,653.13 339.77,652.77 340.11,652.40 340.44,652.03 340.77,651.66 341.10,651.28 341.42,650.90 341.74,650.51 342.05,650.13 342.36,649.73 342.67,649.34 342.98,648.95 343.28,648.55 343.58,648.15 343.88,647.75 344.18,647.35 344.47,646.94 344.76,646.54 345.05,646.13 345.34,645.72 345.63,645.31 345.91,644.90 346.20,644.49 346.48,644.08 346.76,643.67 347.04,643.25 347.32,642.84 347.59,642.42 347.87,642.00 348.14,641.58 348.41,641.16 348.68,640.74 348.95,640.32 349.22,639.90 349.48,639.47 349.74,639.05 350.00,638.62 350.26,638.19 350.51,637.76 350.77,637.33 351.02,636.90 351.26,636.46 351.51,636.03 351.75,635.59 351.99,635.15 352.23,634.71 352.47,634.27 352.70,633.83 352.94,633.39 353.17,632.95 353.39,632.50 353.62,632.06 353.85,631.61 354.07,631.16 354.29,630.71 354.51,630.27 354.73,629.82 354.94,629.36 355.16,628.91 355.37,628.46 355.58,628.01 355.79,627.55 356.00,627.10 356.20,626.64 356.41,626.19 356.61,625.73 356.82,625.27 357.02,624.82 357.22,624.36 357.41,623.90 357.61,623.44 357.81,622.98 358.00,622.52 358.19,622.06 358.38,621.59 358.57,621.13 358.76,620.67 358.94,620.20 359.13,619.74 359.31,619.27 359.49,618.81 359.67,618.34 359.85,617.88 360.03,617.41 360.20,616.94 360.37,616.47 360.55,616.00 360.72,615.53 360.88,615.06 361.05,614.59 361.22,614.12 361.38,613.64 361.54,613.17 361.70,612.70 361.86,612.22 362.02,611.75 362.18,611.28 362.34,610.80 362.49,610.33 362.65,609.85 362.80,609.37 362.95,608.90 363.10,608.42 363.25,607.95 363.40,607.47 363.55,606.99 363.70,606.51 363.85,606.04 363.99,605.56 364.14,605.08 364.29,604.60 364.43,604.12 364.57,603.64 364.72,603.16 364.86,602.68 365.00,602.20 365.14,601.72 365.28,601.24 365.42,600.76 365.56,600.28 365.70,599.80 365.83,599.32 365.97,598.84 366.11,598.36 366.25,597.88 366.38,597.40 366.52,596.92 366.65,596.44 366.79,595.96 366.92,595.47 367.05,594.99 367.19,594.51 367.32,594.03 367.45,593.55 367.58,593.06 367.72,592.58 367.85,592.10 367.98,591.62 368.11,591.13 368.24,590.65 368.37,590.17 368.50,589.69 368.63,589.20 368.76,588.72 368.88,588.24 369.01,587.75 369.14,587.27 369.27,586.78 369.39,586.30 369.52,585.82 369.64,585.33 369.77,584.85 369.89,584.36 370.01,583.88 370.13,583.39 370.25,582.91 370.37,582.42 370.49,581.94 370.61,581.45 370.73,580.97 370.85,580.48 370.96,579.99 371.08,579.51 371.19,579.02 371.31,578.53 371.42,578.05 371.53,577.56 371.65,577.07 371.76,576.59 371.87,576.10 371.98,575.61 372.09,575.12 372.20,574.64 372.31,574.15 372.42,573.66 372.53,573.17 372.64,572.68 372.75,572.20 372.86,571.71 372.96,571.22 373.07,570.73 373.18,570.24 373.28,569.75 373.39,569.27 373.50,568.78 373.60,568.29 373.71,567.80 373.81,567.31 373.92,566.82 374.02,566.33 374.13,565.84 374.23,565.36 374.33,564.87 374.44,564.38 374.54,563.89 374.65,563.40 374.75,562.91 374.85,562.42 374.96,561.93 375.06,561.44 375.16,560.95 375.26,560.46 375.37,559.97 375.47,559.48 375.57,559.00 375.68,558.51 375.78,558.02 375.88,557.53 375.98,557.04 376.09,556.55 376.19,556.06 376.29,555.57 376.39,555.08 376.50,554.59 376.60,554.10 376.70,553.61 376.80,553.12 376.91,552.63 377.01,552.14 377.11,551.65 377.21,551.17 377.32,550.68 377.42,550.19 377.52,549.70 377.63,549.21 377.73,548.72 377.83,548.23 377.94,547.74 378.04,547.25 378.14,546.76 378.25,546.27 378.35,545.78 378.46,545.30 378.56,544.81 378.67,544.32 378.77,543.83 378.88,543.34 378.98,542.85 379.09,542.36 379.19,541.87 379.30,541.39 379.41,540.90 379.51,540.41 379.62,539.92 379.72,539.43 379.83,538.94 379.94,538.45 380.04,537.97 380.15,537.48 380.25,536.99 380.36,536.50 380.47,536.01 380.57,535.52 380.68,535.03 380.78,534.54 380.89,534.06 380.99,533.57 381.10,533.08 381.20,532.59 381.31,532.10 381.41,531.61 381.52,531.12 381.62,530.63 381.72,530.14 381.83,529.65 381.93,529.17 382.04,528.68 382.14,528.19 382.24,527.70 382.35,527.21 382.45,526.72 382.56,526.23 382.66,525.74 382.76,525.25 382.87,524.76 382.97,524.27 383.07,523.79 383.18,523.30 383.28,522.81 383.39,522.32 383.49,521.83 383.59,521.34 383.70,520.85 383.80,520.36 383.91,519.87 384.01,519.38 384.12,518.90 384.22,518.41 384.33,517.92 384.43,517.43 384.54,516.94 384.64,516.45 384.75,515.96 384.85,515.47 384.96,514.98 385.06,514.50 385.17,514.01 385.27,513.52 385.38,513.03 385.49,512.54 385.59,512.05 385.70,511.56 385.81,511.08 385.92,510.59 386.02,510.10 386.13,509.61 386.24,509.12 386.35,508.64 386.46,508.15 386.57,507.66 386.68,507.17 386.79,506.68 386.90,506.20 387.01,505.71 387.12,505.22 387.23,504.73 387.35,504.25 387.46,503.76 387.57,503.27 387.69,502.79 387.80,502.30 387.91,501.81 388.03,501.33 388.14,500.84 388.26,500.35 388.38,499.87 388.49,499.38 388.61,498.90 388.73,498.41 388.85,497.92 388.96,497.44 389.08,496.95 389.20,496.47 389.32,495.98 389.44,495.49 389.56,495.01 389.68,494.52 389.80,494.04 389.92,493.55 390.04,493.07 390.16,492.58 390.28,492.10 390.40,491.61 390.52,491.13 390.64,490.64 390.76,490.16 390.88,489.67 391.00,489.19 391.12,488.70 391.25,488.22 391.37,487.73 391.49,487.25 391.61,486.76 391.74,486.28 391.86,485.79 391.98,485.31 392.11,484.82 392.23,484.34 392.36,483.85 392.48,483.37 392.61,482.89 392.73,482.40 392.86,481.92 392.99,481.44 393.11,480.95 393.24,480.47 393.37,479.99 393.50,479.50 393.63,479.02 393.76,478.54 393.89,478.05 394.02,477.57 394.15,477.09 394.28,476.61 394.42,476.12 394.55,475.64 394.68,475.16 394.82,474.68 394.95,474.20 395.09,473.72 395.23,473.24 395.37,472.76 395.51,472.28 395.65,471.80 395.79,471.32 395.93,470.84 396.07,470.36 396.22,469.88 396.36,469.40 396.51,468.92 396.65,468.45 396.80,467.97 396.95,467.49 397.10,467.01 397.26,466.54 397.41,466.06 397.56,465.59 397.72,465.11 397.87,464.64 398.03,464.16 398.19,463.69 398.35,463.21 398.51,462.74 398.67,462.27 398.83,461.79 398.99,461.32 399.15,460.85 399.32,460.37 399.48,459.90 399.64,459.43 399.81,458.96 399.98,458.49 400.14,458.01 400.31,457.54 400.48,457.07 400.65,456.60 400.82,456.13 400.99,455.66 401.16,455.19 401.33,454.72 401.51,454.25 401.68,453.79 401.86,453.32 402.03,452.85 402.21,452.38 402.39,451.92 402.57,451.45 402.75,450.98 402.93,450.52 403.12,450.05 403.30,449.59 403.49,449.12 403.68,448.66 403.87,448.20 404.06,447.74 404.25,447.28 404.45,446.82 404.64,446.36 404.84,445.90 405.04,445.44 405.25,444.98 405.45,444.53 405.66,444.07 405.87,443.62 406.08,443.17 406.30,442.72 406.52,442.27 406.74,441.82 406.96,441.37 407.19,440.93 407.41,440.48 407.65,440.04 407.88,439.60 408.12,439.16 408.35,438.72 408.59,438.28 408.84,437.84 409.08,437.41 409.33,436.97 409.58,436.54 409.83,436.11 410.08,435.68 410.34,435.25 410.60,434.82 410.86,434.39 411.12,433.97 411.38,433.54 411.65,433.12 411.92,432.70 412.19,432.28 412.46,431.86 412.74,431.45 413.02,431.04 413.31,430.63 413.60,430.22 413.89,429.82 414.19,429.42 414.50,429.02 414.80,428.63 415.12,428.25 415.44,427.87 415.77,427.49 416.10,427.12 416.44,426.76 416.79,426.41 417.14,426.06 417.50,425.71 417.87,425.38 418.24,425.05 418.62,424.73 419.00,424.42 419.39,424.11 419.79,423.81 420.19,423.51 420.60,423.22 421.01,422.94 421.42,422.66 421.84,422.39 422.26,422.13 422.68,421.87 423.11,421.61 423.54,421.36 423.98,421.12 424.42,420.88 424.86,420.65 425.30,420.43 425.75,420.22 426.20,420.01 426.66,419.81 427.12,419.61 427.58,419.43 428.05,419.26 428.51,419.09 428.98,418.93 429.46,418.78 429.93,418.64 430.41,418.50 430.89,418.37 431.38,418.25 431.86,418.14 432.35,418.03 432.84,417.93 433.33,417.83 433.82,417.74 434.31,417.65 434.80,417.57 435.29,417.48 435.79,417.40 436.28,417.32 436.77,417.25 437.27,417.17 437.76,417.10 438.26,417.03 438.75,416.97 439.25,416.90 439.75,416.84 440.24,416.78 440.74,416.72 441.23,416.66 441.73,416.60 442.23,416.55 442.73,416.50 443.22,416.45 443.72,416.41 444.21,416.37 444.71,416.33 445.20,416.29 445.68,416.25 446.17,416.22 446.64,416.19 447.10,416.16 447.56,416.14 447.99,416.12 448.41,416.10 448.81,416.08 449.18,416.06 449.52,416.05 449.83,416.04 450.11,416.03 451.40,416.00" fill="none" stroke="#3a37c4" stroke-width="2.2" stroke-linejoin="round" stroke-linecap="round"/>
<line x1="96.50" y1="394.10" x2="96.50" y2="686.60" stroke="#3a3a3a" stroke-width="1.8" stroke-linecap="butt"/>
<line x1="95.70" y1="394.90" x2="452.00" y2="394.90" stroke="#3a3a3a" stroke-width="1.8" stroke-linecap="butt"/>
<line x1="95.70" y1="685.80" x2="452.00" y2="685.80" stroke="#3a3a3a" stroke-width="1.8" stroke-linecap="butt"/>
<line x1="452.00" y1="394.10" x2="452.00" y2="686.60" stroke="#fd9a2e" stroke-width="1.8" stroke-linecap="butt"/>
<line x1="96.50" y1="395.00" x2="93.00" y2="395.00" stroke="#3a3a3a" stroke-width="1.8" stroke-linecap="butt"/>
<line x1="96.50" y1="438.40" x2="93.00" y2="438.40" stroke="#3a3a3a" stroke-width="1.8" stroke-linecap="butt"/>
<line x1="96.50" y1="481.80" x2="93.00" y2="481.80" stroke="#3a3a3a" stroke-width="1.8" stroke-linecap="butt"/>
<line x1="96.50" y1="525.20" x2="93.00" y2="525.20" stroke="#3a3a3a" stroke-width="1.8" stroke-linecap="butt"/>
<line x1="96.50" y1="568.60" x2="93.00" y2="568.60" stroke="#3a3a3a" stroke-width="1.8" stroke-linecap="butt"/>
<line x1="96.50" y1="612.00" x2="93.00" y2="612.00" stroke="#3a3a3a" stroke-width="1.8" stroke-linecap="butt"/>
<line x1="96.50" y1="655.40" x2="93.00" y2="655.40" stroke="#3a3a3a" stroke-width="1.8" stroke-linecap="butt"/>
<line x1="96.50" y1="416.70" x2="90.50" y2="416.70" stroke="#3a3a3a" stroke-width="1.8" stroke-linecap="butt"/>
<text x="87.00" y="423.30" font-size="19.5" text-anchor="end" fill="#3a3a3a" stroke="#3a3a3a" stroke-width="0.4">0</text>
<line x1="96.50" y1="460.10" x2="90.50" y2="460.10" stroke="#3a3a3a" stroke-width="1.8" stroke-linecap="butt"/>
<text x="87.00" y="466.70" font-size="19.5" text-anchor="end" fill="#3a3a3a" stroke="#3a3a3a" stroke-width="0.4">-1</text>
<line x1="96.50" y1="503.50" x2="90.50" y2="503.50" stroke="#3a3a3a" stroke-width="1.8" stroke-linecap="butt"/>
<text x="87.00" y="510.10" font-size="19.5" text-anchor="end" fill="#3a3a3a" stroke="#3a3a3a" stroke-width="0.4">-2</text>
<line x1="96.50" y1="546.90" x2="90.50" y2="546.90" stroke="#3a3a3a" stroke-width="1.8" stroke-linecap="butt"/>
<text x="87.00" y="553.50" font-size="19.5" text-anchor="end" fill="#3a3a3a" stroke="#3a3a3a" stroke-width="0.4">-3</text>
<line x1="96.50" y1="590.30" x2="90.50" y2="590.30" stroke="#3a3a3a" stroke-width="1.8" stroke-linecap="butt"/>
<text x="87.00" y="596.90" font-size="19.5" text-anchor="end" fill="#3a3a3a" stroke="#3a3a3a" stroke-width="0.4">-4</text>
<line x1="96.50" y1="633.70" x2="90.50" y2="633.70" stroke="#3a3a3a" stroke-width="1.8" stroke-linecap="butt"/>
<text x="87.00" y="640.30" font-size="19.5" text-anchor="end" fill="#3a3a3a" stroke="#3a3a3a" stroke-width="0.4">-5</text>
<line x1="96.50" y1="677.10" x2="90.50" y2="677.10" stroke="#3a3a3a" stroke-width="1.8" stroke-linecap="butt"/>
<text x="87.00" y="683.70" font-size="19.5" text-anchor="end" fill="#3a3a3a" stroke="#3a3a3a" stroke-width="0.4">-6</text>
<line x1="452.00" y1="395.00" x2="455.50" y2="395.00" stroke="#fd9a2e" stroke-width="1.8" stroke-linecap="butt"/>
<line x1="452.00" y1="438.40" x2="455.50" y2="438.40" stroke="#fd9a2e" stroke-width="1.8" stroke-linecap="butt"/>
<line x1="452.00" y1="481.80" x2="455.50" y2="481.80" stroke="#fd9a2e" stroke-width="1.8" stroke-linecap="butt"/>
<line x1="452.00" y1="525.20" x2="455.50" y2="525.20" stroke="#fd9a2e" stroke-width="1.8" stroke-linecap="butt"/>
<line x1="452.00" y1="568.60" x2="455.50" y2="568.60" stroke="#fd9a2e" stroke-width="1.8" stroke-linecap="butt"/>
<line x1="452.00" y1="612.00" x2="455.50" y2="612.00" stroke="#fd9a2e" stroke-width="1.8" stroke-linecap="butt"/>
<line x1="452.00" y1="655.40" x2="455.50" y2="655.40" stroke="#fd9a2e" stroke-width="1.8" stroke-linecap="butt"/>
<line x1="452.00" y1="416.70" x2="458.00" y2="416.70" stroke="#fd9a2e" stroke-width="1.8" stroke-linecap="butt"/>
<text x="460.00" y="423.30" font-size="19.5" text-anchor="start" fill="#fd9a2e" stroke="#fd9a2e" stroke-width="0.4">0.0</text>
<line x1="452.00" y1="460.10" x2="458.00" y2="460.10" stroke="#fd9a2e" stroke-width="1.8" stroke-linecap="butt"/>
<text x="460.00" y="466.70" font-size="19.5" text-anchor="start" fill="#fd9a2e" stroke="#fd9a2e" stroke-width="0.4">-0.1</text>
<line x1="452.00" y1="503.50" x2="458.00" y2="503.50" stroke="#fd9a2e" stroke-width="1.8" stroke-linecap="butt"/>
<text x="460.00" y="510.10" font-size="19.5" text-anchor="start" fill="#fd9a2e" stroke="#fd9a2e" stroke-width="0.4">-0.2</text>
<line x1="452.00" y1="546.90" x2="458.00" y2="546.90" stroke="#fd9a2e" stroke-width="1.8" stroke-linecap="butt"/>
<text x="460.00" y="553.50" font-size="19.5" text-anchor="start" fill="#fd9a2e" stroke="#fd9a2e" stroke-width="0.4">-0.3</text>
<line x1="452.00" y1="590.30" x2="458.00" y2="590.30" stroke="#fd9a2e" stroke-width="1.8" stroke-linecap="butt"/>
<text x="460.00" y="596.90" font-size="19.5" text-anchor="start" fill="#fd9a2e" stroke="#fd9a2e" stroke-width="0.4">-0.4</text>
<line x1="452.00" y1="633.70" x2="458.00" y2="633.70" stroke="#fd9a2e" stroke-width="1.8" stroke-linecap="butt"/>
<text x="460.00" y="640.30" font-size="19.5" text-anchor="start" fill="#fd9a2e" stroke="#fd9a2e" stroke-width="0.4">-0.5</text>
<line x1="452.00" y1="677.10" x2="458.00" y2="677.10" stroke="#fd9a2e" stroke-width="1.8" stroke-linecap="butt"/>
<text x="460.00" y="683.70" font-size="19.5" text-anchor="start" fill="#fd9a2e" stroke="#fd9a2e" stroke-width="0.4">-0.6</text>
<line x1="96.38" y1="685.80" x2="96.38" y2="689.30" stroke="#3a3a3a" stroke-width="1.8" stroke-linecap="butt"/>
<line x1="171.22" y1="685.80" x2="171.22" y2="689.30" stroke="#3a3a3a" stroke-width="1.8" stroke-linecap="butt"/>
<line x1="246.07" y1="685.80" x2="246.07" y2="689.30" stroke="#3a3a3a" stroke-width="1.8" stroke-linecap="butt"/>
<line x1="320.92" y1="685.80" x2="320.92" y2="689.30" stroke="#3a3a3a" stroke-width="1.8" stroke-linecap="butt"/>
<line x1="395.77" y1="685.80" x2="395.77" y2="689.30" stroke="#3a3a3a" stroke-width="1.8" stroke-linecap="butt"/>
<line x1="133.80" y1="685.80" x2="133.80" y2="691.80" stroke="#3a3a3a" stroke-width="1.8" stroke-linecap="butt"/>
<text x="133.80" y="710.00" font-size="19.5" text-anchor="middle" fill="#3a3a3a" stroke="#3a3a3a" stroke-width="0.4">0.2</text>
<line x1="208.65" y1="685.80" x2="208.65" y2="691.80" stroke="#3a3a3a" stroke-width="1.8" stroke-linecap="butt"/>
<text x="208.65" y="710.00" font-size="19.5" text-anchor="middle" fill="#3a3a3a" stroke="#3a3a3a" stroke-width="0.4">0.4</text>
<line x1="283.50" y1="685.80" x2="283.50" y2="691.80" stroke="#3a3a3a" stroke-width="1.8" stroke-linecap="butt"/>
<text x="283.50" y="710.00" font-size="19.5" text-anchor="middle" fill="#3a3a3a" stroke="#3a3a3a" stroke-width="0.4">0.6</text>
<line x1="358.35" y1="685.80" x2="358.35" y2="691.80" stroke="#3a3a3a" stroke-width="1.8" stroke-linecap="butt"/>
<text x="358.35" y="710.00" font-size="19.5" text-anchor="middle" fill="#3a3a3a" stroke="#3a3a3a" stroke-width="0.4">0.8</text>
<line x1="433.20" y1="685.80" x2="433.20" y2="691.80" stroke="#3a3a3a" stroke-width="1.8" stroke-linecap="butt"/>
<text x="433.20" y="710.00" font-size="19.5" text-anchor="middle" fill="#3a3a3a" stroke="#3a3a3a" stroke-width="0.4">1.0</text>
<text x="282.90" y="733.60" font-size="24" text-anchor="middle" fill="#3a3a3a" stroke="#3a3a3a" stroke-width="0.4"><tspan font-style="italic">E</tspan> / V (<tspan font-style="italic">vs.</tspan> RHE)</text>
<text x="58.40" y="539.50" font-size="24" text-anchor="middle" fill="#3a3a3a" stroke="#3a3a3a" stroke-width="0.4" transform="rotate(-90 58.40 539.50)"><tspan font-style="italic">j</tspan><tspan dy="6" font-size="14">D</tspan><tspan dy="-6"> / mA cm</tspan><tspan dy="-9" font-size="14">-2</tspan></text>
<text x="516.60" y="539.60" font-size="24" text-anchor="middle" fill="#fd9a2e" stroke="#fd9a2e" stroke-width="0.4" transform="rotate(-90 516.60 539.60)"><tspan font-style="italic">j</tspan><tspan dy="6" font-size="14">R</tspan><tspan dy="-6"> / mA cm</tspan><tspan dy="-9" font-size="14">-2</tspan></text>
<text x="527.00" y="418.00" font-size="29.2" text-anchor="start" fill="#222" stroke="#222" stroke-width="0.4">(e)</text>
<polyline points="617.00,428.79 618.39,428.66 618.67,427.51 618.99,427.80 619.34,427.73 619.71,427.45 620.10,427.11 620.51,427.79 620.94,427.40 621.38,427.49 621.84,427.68 622.30,426.79 622.77,427.02 623.24,426.50 623.71,426.49 624.19,426.53 624.67,426.20 625.15,425.53 625.63,426.60 626.12,425.93 626.60,425.28 627.08,424.73 627.57,425.48 628.05,425.63 628.54,425.65 629.02,425.57 629.51,424.86 629.99,425.15 630.48,424.16 630.97,424.73 631.46,424.92 631.94,424.21 632.43,424.28 632.92,424.28 633.41,424.19 633.90,424.64 634.39,423.51 634.88,424.39 635.37,423.26 635.86,423.40 636.36,423.27 636.85,423.46 637.34,423.21 637.83,423.52 638.33,423.25 638.82,424.05 639.32,423.24 639.81,422.91 640.30,423.08 640.80,423.10 641.29,422.71 641.79,422.27 642.28,422.32 642.78,422.64 643.27,422.83 643.77,422.62 644.26,422.32 644.76,422.52 645.25,422.03 645.75,422.26 646.24,422.66 646.74,422.47 647.24,422.51 647.73,421.75 648.23,421.92 648.72,421.37 649.22,422.09 649.72,421.49 650.21,421.07 650.71,421.35 651.21,421.59 651.70,420.55 652.20,420.82 652.70,421.73 653.20,421.32 653.69,421.22 654.19,420.54 654.69,421.78 655.19,421.51 655.69,421.34 656.18,420.57 656.68,421.21 657.18,421.40 657.68,420.77 658.18,420.77 658.68,420.65 659.18,421.05 659.68,420.68 660.17,420.62 660.67,420.14 661.17,420.03 661.67,421.05 662.17,421.28 662.67,420.98 663.17,421.18 663.67,420.38 664.17,420.55 664.67,420.70 665.17,420.47 665.67,421.19 666.17,419.97 666.67,420.26 667.17,420.33 667.67,420.17 668.17,420.78 668.67,419.63 669.17,420.87 669.67,420.76 670.17,420.51 670.67,420.93 671.17,421.30 671.67,420.42 672.17,420.63 672.67,420.48 673.17,420.52 673.67,420.10 674.17,420.00 674.67,420.52 675.17,420.06 675.67,420.63 676.17,420.57 676.67,420.06 677.16,420.38 677.66,420.25 678.16,420.16 678.66,420.66 679.16,420.22 679.66,420.29 680.16,419.41 680.66,420.42 681.16,419.60 681.66,420.02 682.16,420.81 682.66,420.88 683.16,420.00 683.66,419.66 684.16,420.32 684.66,420.00 685.16,420.29 685.66,419.62 686.16,420.60 686.66,420.77 687.16,419.58 687.66,419.85 688.16,419.89 688.66,420.46 689.16,419.39 689.66,420.26 690.16,420.10 690.66,419.88 691.16,420.48 691.66,419.43 692.16,419.68 692.66,419.92 693.16,420.53 693.66,420.12 694.16,419.94 694.66,420.47 695.16,420.10 695.66,420.05 696.16,420.21 696.66,420.48 697.16,421.44 697.66,419.94 698.16,420.50 698.66,420.35 699.16,420.32 699.66,421.05 700.16,420.77 700.66,420.75 701.16,420.32 701.66,420.18 702.16,420.66 702.66,420.44 703.16,420.35 703.66,420.87 704.16,420.13 704.66,420.35 705.16,420.97 705.66,420.64 706.16,420.96 706.66,420.37 707.15,421.01 707.65,420.47 708.15,421.31 708.65,421.11 709.15,421.00 709.65,421.44 710.15,420.99 710.65,420.62 711.15,421.51 711.65,421.05 712.15,421.42 712.65,421.02 713.15,421.44 713.65,420.66 714.15,420.52 714.65,420.49 715.15,421.38 715.65,420.31 716.15,420.41 716.65,420.58 717.15,421.27 717.64,421.38 718.14,420.90 718.64,421.57 719.14,421.41 719.64,421.79 720.14,421.71 720.64,421.09 721.14,421.47 721.64,421.35 722.14,421.63 722.64,421.55 723.14,421.51 723.64,421.80 724.14,421.57 724.63,421.86 725.13,421.61 725.63,421.55 726.13,422.01 726.63,422.04 727.13,422.17 727.63,421.95 728.13,421.63 728.63,421.81 729.13,421.81 729.63,421.06 730.13,421.33 730.63,422.40 731.13,421.78 731.63,420.67 732.13,421.77 732.63,421.89 733.13,421.34 733.63,422.74 734.13,422.28 734.63,422.16 735.13,421.75 735.63,422.02 736.13,422.16 736.63,422.00 737.13,421.54 737.63,421.87 738.13,421.83 738.63,421.88 739.13,421.33 739.63,421.83 740.13,421.71 740.63,421.78 741.13,421.74 741.62,421.06 742.12,421.95 742.62,421.88 743.12,421.01 743.62,421.48 744.12,421.15 744.62,421.27 745.12,421.82 745.62,421.59 746.11,422.13 746.61,421.34 747.11,420.82 747.61,421.27 748.11,420.20 748.61,421.85 749.10,421.19 749.60,421.22 750.10,421.06 750.60,420.61 751.10,420.86 751.59,420.54 752.09,420.60 752.59,420.89 753.09,420.23 753.58,421.31 754.08,420.18 754.58,420.88 755.08,420.24 755.57,419.95 756.07,420.54 756.57,420.40 757.06,420.18 757.56,420.19 758.06,419.90 758.55,420.26 759.05,419.83 759.54,419.97 760.04,420.33 760.53,419.29 761.03,419.52 761.52,419.40 762.02,419.27 762.51,418.97 763.00,419.31 763.49,419.39 763.98,419.19 764.48,418.51 764.97,419.32 765.46,419.23 765.95,418.88 766.43,418.35 766.92,418.30 767.41,419.31 767.90,419.11 768.39,418.50 768.87,417.84 769.36,418.58 769.85,418.04 770.33,418.52 770.82,417.50 771.30,417.80 771.79,417.41 772.27,417.67 772.76,417.00 773.24,417.49 773.73,416.85 774.21,416.53 774.70,416.98 775.18,416.73 775.67,415.67 776.15,416.37 776.64,416.31 777.12,416.22 777.61,416.84 778.09,415.64 778.58,415.77 779.06,414.98 779.55,414.96 780.03,415.19 780.52,415.25 781.01,415.11 781.49,415.32 781.98,415.24 782.46,415.24 782.95,414.66 783.44,414.80 783.92,414.20 784.41,414.52 784.90,414.45 785.38,413.94 785.87,412.74 786.35,413.65 786.84,414.81 787.33,413.63 787.81,413.30 788.30,413.47 788.78,413.76 789.27,413.32 789.75,412.99 790.24,412.44 790.72,412.71 791.21,412.23 791.69,412.73 792.18,413.07 792.66,412.77 793.15,411.99 793.64,411.71 794.12,411.43 794.61,412.05 795.09,411.98 795.58,411.95 796.06,411.65 796.55,410.92 797.04,410.52 797.52,411.62 798.01,410.72 798.50,411.70 798.99,409.99 799.47,410.29 799.96,410.25 800.45,410.62 800.94,410.67 801.43,410.09 801.92,410.44 802.41,409.59 802.90,409.81 803.39,409.43 803.88,409.60 804.37,409.47 804.86,409.76 805.36,410.93 805.85,408.92 806.34,409.30 806.84,409.57 807.33,409.24 807.82,409.70 808.32,408.65 808.81,409.29 809.30,408.59 809.80,409.15 810.29,408.82 810.79,408.78 811.28,408.37 811.78,407.79 812.27,408.02 812.77,408.67 813.26,408.22 813.76,408.55 814.25,407.65 814.75,408.37 815.24,408.45 815.74,407.10 816.23,408.04 816.73,408.63 817.22,407.49 817.72,408.12 818.22,407.68 818.71,407.94 819.21,407.39 819.71,407.17 820.20,407.25 820.70,407.22 821.20,407.07 821.69,406.90 822.19,407.64 822.69,406.91 823.18,406.61 823.68,406.66 824.18,407.18 824.68,406.05 825.17,407.09 825.67,407.13 826.17,407.30 826.67,406.57 827.16,406.38 827.66,406.73 828.16,406.67 828.66,407.10 829.16,406.56 829.66,406.33 830.15,405.93 830.65,406.34 831.15,406.41 831.65,406.82 832.15,406.35 832.65,406.82 833.15,406.74 833.64,405.90 834.14,405.72 834.64,405.89 835.14,406.02 835.64,405.75 836.14,406.32 836.64,406.28 837.14,406.46 837.64,406.06 838.14,405.75 838.63,406.05 839.13,405.50 839.63,405.89 840.13,405.50 840.63,406.24 841.13,404.68 841.63,406.06 842.13,406.05 842.63,405.65 843.13,405.78 843.63,405.70 844.13,406.11 844.63,406.23 845.12,405.55 845.62,406.18 846.12,405.24 846.62,405.64 847.12,405.63 847.62,404.93 848.12,405.55 848.62,405.13 849.12,405.70 849.62,405.00 850.12,404.63 850.62,404.81 851.12,405.32 851.62,405.42 852.12,405.42 852.62,404.96 853.12,405.57 853.62,405.02 854.12,405.14 854.62,405.61 855.12,405.14 855.62,404.44 856.12,405.47 856.62,405.17 857.12,405.00 857.62,405.66 858.12,404.89 858.62,405.39 859.12,405.17 859.62,406.15 860.12,404.38 860.62,405.17 861.12,405.22 861.62,405.51 862.12,404.90 862.62,404.80 863.12,405.61 863.62,404.87 864.12,405.15 864.62,405.01 865.12,405.17 865.62,404.47 866.12,404.79 866.62,404.97 867.12,405.03 867.62,405.42 868.12,405.18 868.62,405.20 869.12,404.94 869.62,405.46 870.12,404.71 870.62,404.91 871.12,404.35 871.62,404.52 872.12,405.27 872.62,404.91 873.12,404.19 873.62,404.91 874.12,404.83 874.62,404.46 875.12,405.05 875.62,404.80 876.12,404.91 876.62,405.29 877.12,404.66 877.62,405.34 878.12,404.80 878.62,404.81 879.12,405.43 879.62,405.07 880.12,404.77 880.62,404.89 881.12,405.03 881.62,404.37 882.12,405.23 882.62,404.97 883.11,404.47 883.61,404.62 884.11,405.36 884.61,404.52 885.11,405.90 885.61,404.64 886.11,405.17 886.61,404.08 887.11,405.09 887.61,404.93 888.11,405.36 888.61,405.26 889.11,405.07 889.61,406.09 890.11,405.56 890.61,404.98 891.11,405.44 891.61,404.17 892.11,405.11 892.61,405.86 893.11,405.17 893.61,405.47 894.10,404.97 894.60,405.77 895.10,405.52 895.60,405.49 896.10,405.88 896.60,406.18 897.10,405.86 897.60,404.87 898.10,405.73 898.60,405.69 899.10,405.14 899.60,404.97 900.10,405.46 900.60,405.51 901.10,405.61 901.60,405.35 902.10,405.70 902.60,405.76 903.10,405.53 903.60,405.79 904.10,405.40 904.60,405.00 905.10,405.62 905.60,405.96 906.10,406.68 906.60,404.73 907.10,405.37 907.60,405.20 908.10,405.64 908.60,405.16 909.10,405.54 909.60,405.86 910.09,405.13 910.59,405.38 911.09,406.02 911.59,405.70 912.09,404.66 912.59,406.11 913.09,404.97 913.59,405.33 914.08,405.00 914.58,404.94 915.08,404.81 915.57,405.29 916.06,404.69 916.55,404.45 917.03,404.68 917.50,404.87 917.97,404.02 918.42,405.10 918.86,404.45 919.28,404.99 919.67,405.21 920.05,404.74 920.39,404.80 920.70,404.37 920.99,404.25 922.30,403.62" fill="none" stroke="#fd9a2e" stroke-width="2.2" stroke-linejoin="round" stroke-linecap="round"/>
<polyline points="617.00,654.00 618.39,654.30 618.67,653.66 618.99,654.81 619.33,655.41 619.70,655.08 620.10,655.51 620.51,655.06 620.94,654.89 621.38,655.45 621.83,655.42 622.29,655.24 622.76,656.25 623.23,656.04 623.71,655.85 624.18,656.32 624.66,656.32 625.14,656.76 625.63,657.28 626.11,656.53 626.59,656.43 627.08,657.58 627.56,658.11 628.04,657.04 628.53,657.04 629.01,657.04 629.50,657.64 629.99,657.80 630.47,657.77 630.96,658.32 631.45,657.76 631.94,657.96 632.42,657.80 632.91,658.96 633.40,658.93 633.89,659.12 634.38,658.36 634.88,659.32 635.37,659.00 635.86,659.26 636.35,659.29 636.84,659.01 637.34,659.15 637.83,658.68 638.33,659.16 638.82,659.36 639.31,659.06 639.81,659.64 640.30,660.18 640.80,659.54 641.29,659.42 641.79,659.53 642.28,660.02 642.78,660.70 643.28,660.14 643.77,660.16 644.27,659.70 644.76,660.39 645.26,660.57 645.76,660.22 646.25,660.43 646.75,660.23 647.25,660.85 647.74,661.14 648.24,660.81 648.74,660.92 649.24,660.79 649.73,660.57 650.23,660.57 650.73,660.76 651.22,661.02 651.72,661.02 652.22,661.47 652.72,661.41 653.22,661.75 653.71,661.51 654.21,661.15 654.71,661.33 655.21,660.68 655.71,662.03 656.21,661.18 656.70,661.28 657.20,662.21 657.70,661.09 658.20,661.30 658.70,661.56 659.20,661.38 659.70,661.68 660.20,661.77 660.70,661.95 661.19,661.69 661.69,662.03 662.19,661.65 662.69,662.05 663.19,662.30 663.69,661.17 664.19,661.79 664.69,661.97 665.19,661.17 665.69,660.73 666.19,662.09 666.69,661.73 667.19,662.32 667.69,662.03 668.19,662.05 668.69,661.93 669.19,662.13 669.69,661.75 670.19,661.93 670.68,662.46 671.18,662.07 671.68,662.39 672.18,662.20 672.68,662.09 673.18,661.85 673.68,662.59 674.18,661.94 674.68,662.44 675.18,661.68 675.68,662.42 676.18,662.48 676.68,662.09 677.18,661.71 677.68,662.31 678.18,662.42 678.68,662.19 679.18,662.13 679.68,662.78 680.18,662.38 680.68,662.27 681.18,662.78 681.68,662.44 682.18,662.18 682.68,662.81 683.18,662.32 683.68,662.84 684.18,662.20 684.68,662.60 685.18,662.96 685.68,662.65 686.18,662.67 686.68,662.65 687.18,662.80 687.68,662.49 688.18,662.63 688.68,662.35 689.18,663.19 689.68,662.07 690.18,662.73 690.68,662.00 691.18,662.58 691.68,662.87 692.18,661.90 692.68,663.01 693.18,661.91 693.68,661.94 694.17,662.37 694.67,661.78 695.17,662.58 695.67,662.35 696.17,661.06 696.67,661.54 697.17,661.79 697.67,662.21 698.17,661.59 698.67,661.69 699.17,662.19 699.66,661.52 700.16,662.00 700.66,661.31 701.16,662.21 701.66,662.35 702.16,661.30 702.66,660.79 703.16,661.03 703.66,662.04 704.16,661.40 704.65,662.01 705.15,661.04 705.65,661.17 706.15,661.46 706.65,661.90 707.15,661.37 707.65,661.02 708.15,661.52 708.65,661.41 709.15,661.55 709.65,661.26 710.15,661.06 710.65,661.30 711.15,660.29 711.65,661.35 712.15,661.71 712.64,661.42 713.14,660.81 713.64,660.56 714.14,661.66 714.64,660.92 715.14,661.02 715.64,661.17 716.14,660.83 716.64,661.06 717.14,661.62 717.64,660.81 718.14,661.75 718.64,661.12 719.14,661.08 719.64,661.31 720.14,661.28 720.64,661.31 721.14,661.10 721.64,660.63 722.14,661.49 722.64,660.77 723.14,660.48 723.64,661.15 724.14,661.04 724.64,660.76 725.14,660.78 725.64,660.97 726.14,661.49 726.64,660.68 727.14,660.20 727.64,660.46 728.14,660.88 728.64,660.59 729.14,660.40 729.64,660.94 730.14,660.93 730.63,660.55 731.13,660.74 731.63,660.37 732.13,660.38 732.63,660.48 733.13,660.07 733.63,660.74 734.13,660.58 734.63,660.41 735.13,660.65 735.63,660.67 736.13,660.32 736.63,660.39 737.13,660.31 737.63,661.17 738.13,659.98 738.63,660.62 739.13,660.99 739.63,660.25 740.13,660.31 740.63,660.31 741.13,660.00 741.63,661.19 742.13,660.64 742.63,660.32 743.13,660.52 743.63,660.86 744.13,660.68 744.63,660.48 745.13,661.05 745.63,660.53 746.13,660.74 746.63,660.99 747.13,660.67 747.63,661.01 748.12,660.76 748.62,662.09 749.12,660.91 749.62,661.37 750.12,660.79 750.62,660.72 751.12,661.14 751.62,661.09 752.12,661.12 752.61,661.28 753.11,661.68 753.61,662.12 754.11,662.20 754.61,661.46 755.11,662.19 755.61,662.18 756.10,661.30 756.60,661.39 757.10,661.58 757.60,662.44 758.10,661.65 758.60,661.65 759.09,662.34 759.59,661.77 760.09,661.83 760.58,662.18 761.08,662.07 761.58,661.10 762.07,661.62 762.57,662.45 763.07,661.67 763.56,662.79 764.06,662.35 764.55,662.55 765.05,662.63 765.54,661.89 766.03,662.39 766.53,662.34 767.02,662.93 767.51,663.53 768.00,662.92 768.50,663.12 768.99,662.41 769.48,663.13 769.97,663.27 770.46,663.39 770.95,663.80 771.44,664.21 771.93,663.75 772.42,664.01 772.91,663.34 773.40,664.30 773.89,664.17 774.38,663.57 774.87,664.50 775.36,664.21 775.85,664.97 776.34,664.86 776.83,664.81 777.32,665.56 777.81,664.93 778.29,664.97 778.78,665.21 779.27,665.35 779.76,665.07 780.25,665.74 780.74,665.79 781.23,665.52 781.71,665.22 782.20,666.43 782.69,666.58 783.18,666.53 783.67,666.68 784.15,667.11 784.64,666.65 785.13,667.28 785.61,666.70 786.10,666.53 786.59,667.00 787.07,666.99 787.56,667.44 788.04,668.09 788.53,667.66 789.01,668.03 789.49,668.59 789.98,668.59 790.46,668.04 790.94,667.86 791.43,669.11 791.91,667.96 792.39,667.80 792.88,667.86 793.36,669.25 793.84,668.33 794.32,668.94 794.81,669.12 795.29,669.83 795.77,668.89 796.25,669.59 796.74,669.82 797.22,670.38 797.70,669.86 798.19,670.19 798.67,670.09 799.16,670.76 799.64,670.83 800.13,670.42 800.61,670.91 801.10,670.22 801.58,670.96 802.07,670.69 802.56,671.00 803.04,671.68 803.53,672.24 804.02,671.57 804.51,671.54 805.00,671.57 805.49,672.10 805.98,671.83 806.47,672.40 806.96,672.71 807.45,672.45 807.94,672.14 808.43,672.69 808.92,672.20 809.41,671.86 809.90,673.11 810.40,673.51 810.89,673.36 811.38,672.77 811.87,671.65 812.37,672.79 812.86,673.42 813.35,673.09 813.85,673.89 814.34,673.09 814.83,673.69 815.33,673.66 815.82,673.76 816.31,673.17 816.81,673.77 817.30,673.99 817.80,673.80 818.29,673.51 818.78,673.91 819.28,673.80 819.77,674.39 820.27,674.71 820.76,674.53 821.26,674.62 821.75,674.47 822.25,674.68 822.74,673.89 823.24,674.77 823.73,675.16 824.23,674.66 824.73,675.22 825.22,674.40 825.72,675.08 826.21,675.05 826.71,675.37 827.21,675.31 827.70,676.20 828.20,674.09 828.70,674.84 829.19,675.21 829.69,675.58 830.19,675.33 830.68,675.38 831.18,675.07 831.68,675.21 832.17,675.46 832.67,676.47 833.17,675.59 833.67,677.08 834.16,676.45 834.66,675.96 835.16,676.46 835.65,676.59 836.15,675.75 836.65,675.63 837.15,676.92 837.64,676.00 838.14,676.78 838.64,676.76 839.14,675.86 839.63,676.84 840.13,676.85 840.63,677.19 841.13,676.71 841.63,676.95 842.12,676.97 842.62,676.76 843.12,677.56 843.62,677.34 844.12,677.61 844.61,677.17 845.11,677.54 845.61,676.73 846.11,676.90 846.61,677.59 847.11,677.13 847.61,677.10 848.10,677.36 848.60,676.69 849.10,677.43 849.60,677.59 850.10,677.29 850.60,677.00 851.10,678.18 851.60,677.68 852.10,677.12 852.60,677.32 853.10,676.93 853.59,676.90 854.09,676.86 854.59,677.31 855.09,677.83 855.59,677.98 856.09,677.66 856.59,678.13 857.09,677.97 857.59,677.29 858.09,677.43 858.59,677.90 859.09,678.08 859.59,678.25 860.09,677.28 860.59,677.07 861.09,678.67 861.59,677.77 862.09,678.30 862.59,677.92 863.09,677.37 863.59,678.50 864.09,678.14 864.59,678.56 865.09,678.22 865.59,677.59 866.09,677.99 866.59,678.42 867.09,677.75 867.59,678.11 868.09,678.52 868.59,677.56 869.09,677.92 869.59,678.15 870.09,678.48 870.59,678.06 871.09,677.82 871.59,678.34 872.09,677.88 872.59,678.30 873.09,678.28 873.59,678.06 874.09,678.49 874.59,678.63 875.09,677.63 875.59,678.37 876.09,678.10 876.59,678.05 877.09,678.20 877.59,678.64 878.09,678.11 878.59,678.04 879.09,677.66 879.59,678.10 880.09,678.16 880.59,677.77 881.09,678.02 881.59,678.33 882.09,678.69 882.59,678.00 883.09,678.91 883.58,678.49 884.08,678.43 884.58,678.30 885.08,678.09 885.58,677.78 886.08,677.99 886.58,678.02 887.08,678.04 887.58,678.58 888.08,678.74 888.58,678.13 889.08,678.30 889.58,677.60 890.08,677.06 890.58,677.79 891.08,677.91 891.58,678.35 892.08,678.73 892.58,677.85 893.08,678.24 893.58,678.14 894.08,677.76 894.57,677.99 895.07,677.79 895.57,678.24 896.07,677.17 896.57,676.65 897.07,677.61 897.57,677.92 898.07,677.95 898.57,677.29 899.07,677.72 899.57,677.23 900.07,677.76 900.57,677.18 901.07,677.04 901.57,677.84 902.07,676.96 902.57,676.87 903.07,677.78 903.57,677.50 904.07,676.54 904.57,677.94 905.07,676.98 905.57,677.30 906.07,677.45 906.57,678.31 907.07,677.51 907.57,677.90 908.07,677.50 908.57,677.78 909.07,677.04 909.57,677.62 910.07,677.40 910.56,677.27 911.06,677.82 911.56,678.14 912.06,677.95 912.56,677.67 913.06,678.12 913.56,677.42 914.06,678.02 914.55,678.14 915.05,677.93 915.54,677.91 916.04,678.10 916.52,677.86 917.00,678.04 917.48,678.46 917.95,677.44 918.40,678.75 918.84,678.47 919.26,678.42 919.66,677.97 920.03,678.24 920.37,678.20 920.69,678.74 920.97,678.74 922.30,679.08" fill="none" stroke="#3a37c4" stroke-width="2.2" stroke-linejoin="round" stroke-linecap="round"/>
<line x1="592.00" y1="395.30" x2="592.00" y2="687.70" stroke="#3a3a3a" stroke-width="1.8" stroke-linecap="butt"/>
<line x1="591.20" y1="396.10" x2="947.50" y2="396.10" stroke="#3a3a3a" stroke-width="1.8" stroke-linecap="butt"/>
<line x1="591.20" y1="686.90" x2="947.50" y2="686.90" stroke="#3a3a3a" stroke-width="1.8" stroke-linecap="butt"/>
<line x1="947.50" y1="395.30" x2="947.50" y2="687.70" stroke="#fd9a2e" stroke-width="1.8" stroke-linecap="butt"/>
<line x1="592.00" y1="650.55" x2="588.50" y2="650.55" stroke="#3a3a3a" stroke-width="1.8" stroke-linecap="butt"/>
<line x1="592.00" y1="577.85" x2="588.50" y2="577.85" stroke="#3a3a3a" stroke-width="1.8" stroke-linecap="butt"/>
<line x1="592.00" y1="505.15" x2="588.50" y2="505.15" stroke="#3a3a3a" stroke-width="1.8" stroke-linecap="butt"/>
<line x1="592.00" y1="432.45" x2="588.50" y2="432.45" stroke="#3a3a3a" stroke-width="1.8" stroke-linecap="butt"/>
<line x1="592.00" y1="686.90" x2="586.00" y2="686.90" stroke="#3a3a3a" stroke-width="1.8" stroke-linecap="butt"/>
<text x="584.00" y="693.50" font-size="19.5" text-anchor="end" fill="#3a3a3a" stroke="#3a3a3a" stroke-width="0.4">0</text>
<line x1="592.00" y1="614.20" x2="586.00" y2="614.20" stroke="#3a3a3a" stroke-width="1.8" stroke-linecap="butt"/>
<text x="584.00" y="620.80" font-size="19.5" text-anchor="end" fill="#3a3a3a" stroke="#3a3a3a" stroke-width="0.4">5</text>
<line x1="592.00" y1="541.50" x2="586.00" y2="541.50" stroke="#3a3a3a" stroke-width="1.8" stroke-linecap="butt"/>
<text x="584.00" y="548.10" font-size="19.5" text-anchor="end" fill="#3a3a3a" stroke="#3a3a3a" stroke-width="0.4">10</text>
<line x1="592.00" y1="468.80" x2="586.00" y2="468.80" stroke="#3a3a3a" stroke-width="1.8" stroke-linecap="butt"/>
<text x="584.00" y="475.40" font-size="19.5" text-anchor="end" fill="#3a3a3a" stroke="#3a3a3a" stroke-width="0.4">15</text>
<line x1="592.00" y1="396.10" x2="586.00" y2="396.10" stroke="#3a3a3a" stroke-width="1.8" stroke-linecap="butt"/>
<text x="584.00" y="402.70" font-size="19.5" text-anchor="end" fill="#3a3a3a" stroke="#3a3a3a" stroke-width="0.4">20</text>
<line x1="947.50" y1="650.55" x2="951.00" y2="650.55" stroke="#fd9a2e" stroke-width="1.8" stroke-linecap="butt"/>
<line x1="947.50" y1="577.85" x2="951.00" y2="577.85" stroke="#fd9a2e" stroke-width="1.8" stroke-linecap="butt"/>
<line x1="947.50" y1="505.15" x2="951.00" y2="505.15" stroke="#fd9a2e" stroke-width="1.8" stroke-linecap="butt"/>
<line x1="947.50" y1="432.45" x2="951.00" y2="432.45" stroke="#fd9a2e" stroke-width="1.8" stroke-linecap="butt"/>
<line x1="947.50" y1="686.90" x2="953.50" y2="686.90" stroke="#fd9a2e" stroke-width="1.8" stroke-linecap="butt"/>
<text x="955.00" y="693.50" font-size="19.5" text-anchor="start" fill="#fd9a2e" stroke="#fd9a2e" stroke-width="0.4">3.6</text>
<line x1="947.50" y1="614.20" x2="953.50" y2="614.20" stroke="#fd9a2e" stroke-width="1.8" stroke-linecap="butt"/>
<text x="955.00" y="620.80" font-size="19.5" text-anchor="start" fill="#fd9a2e" stroke="#fd9a2e" stroke-width="0.4">3.7</text>
<line x1="947.50" y1="541.50" x2="953.50" y2="541.50" stroke="#fd9a2e" stroke-width="1.8" stroke-linecap="butt"/>
<text x="955.00" y="548.10" font-size="19.5" text-anchor="start" fill="#fd9a2e" stroke="#fd9a2e" stroke-width="0.4">3.8</text>
<line x1="947.50" y1="468.80" x2="953.50" y2="468.80" stroke="#fd9a2e" stroke-width="1.8" stroke-linecap="butt"/>
<text x="955.00" y="475.40" font-size="19.5" text-anchor="start" fill="#fd9a2e" stroke="#fd9a2e" stroke-width="0.4">3.9</text>
<line x1="947.50" y1="396.10" x2="953.50" y2="396.10" stroke="#fd9a2e" stroke-width="1.8" stroke-linecap="butt"/>
<text x="955.00" y="402.70" font-size="19.5" text-anchor="start" fill="#fd9a2e" stroke="#fd9a2e" stroke-width="0.4">4.0</text>
<line x1="591.62" y1="686.90" x2="591.62" y2="690.40" stroke="#3a3a3a" stroke-width="1.8" stroke-linecap="butt"/>
<line x1="642.38" y1="686.90" x2="642.38" y2="690.40" stroke="#3a3a3a" stroke-width="1.8" stroke-linecap="butt"/>
<line x1="693.15" y1="686.90" x2="693.15" y2="690.40" stroke="#3a3a3a" stroke-width="1.8" stroke-linecap="butt"/>
<line x1="743.92" y1="686.90" x2="743.92" y2="690.40" stroke="#3a3a3a" stroke-width="1.8" stroke-linecap="butt"/>
<line x1="794.68" y1="686.90" x2="794.68" y2="690.40" stroke="#3a3a3a" stroke-width="1.8" stroke-linecap="butt"/>
<line x1="845.45" y1="686.90" x2="845.45" y2="690.40" stroke="#3a3a3a" stroke-width="1.8" stroke-linecap="butt"/>
<line x1="896.22" y1="686.90" x2="896.22" y2="690.40" stroke="#3a3a3a" stroke-width="1.8" stroke-linecap="butt"/>
<line x1="946.98" y1="686.90" x2="946.98" y2="690.40" stroke="#3a3a3a" stroke-width="1.8" stroke-linecap="butt"/>
<line x1="617.00" y1="686.90" x2="617.00" y2="692.90" stroke="#3a3a3a" stroke-width="1.8" stroke-linecap="butt"/>
<text x="617.00" y="711.00" font-size="19.5" text-anchor="middle" fill="#3a3a3a" stroke="#3a3a3a" stroke-width="0.4">0.2</text>
<line x1="667.77" y1="686.90" x2="667.77" y2="692.90" stroke="#3a3a3a" stroke-width="1.8" stroke-linecap="butt"/>
<text x="667.77" y="711.00" font-size="19.5" text-anchor="middle" fill="#3a3a3a" stroke="#3a3a3a" stroke-width="0.4">0.3</text>
<line x1="718.53" y1="686.90" x2="718.53" y2="692.90" stroke="#3a3a3a" stroke-width="1.8" stroke-linecap="butt"/>
<text x="718.53" y="711.00" font-size="19.5" text-anchor="middle" fill="#3a3a3a" stroke="#3a3a3a" stroke-width="0.4">0.4</text>
<line x1="769.30" y1="686.90" x2="769.30" y2="692.90" stroke="#3a3a3a" stroke-width="1.8" stroke-linecap="butt"/>
<text x="769.30" y="711.00" font-size="19.5" text-anchor="middle" fill="#3a3a3a" stroke="#3a3a3a" stroke-width="0.4">0.5</text>
<line x1="820.07" y1="686.90" x2="820.07" y2="692.90" stroke="#3a3a3a" stroke-width="1.8" stroke-linecap="butt"/>
<text x="820.07" y="711.00" font-size="19.5" text-anchor="middle" fill="#3a3a3a" stroke="#3a3a3a" stroke-width="0.4">0.6</text>
<line x1="870.83" y1="686.90" x2="870.83" y2="692.90" stroke="#3a3a3a" stroke-width="1.8" stroke-linecap="butt"/>
<text x="870.83" y="711.00" font-size="19.5" text-anchor="middle" fill="#3a3a3a" stroke="#3a3a3a" stroke-width="0.4">0.7</text>
<line x1="921.60" y1="686.90" x2="921.60" y2="692.90" stroke="#3a3a3a" stroke-width="1.8" stroke-linecap="butt"/>
<text x="921.60" y="711.00" font-size="19.5" text-anchor="middle" fill="#3a3a3a" stroke="#3a3a3a" stroke-width="0.4">0.8</text>
<text x="770.50" y="734.75" font-size="24" text-anchor="middle" fill="#3a3a3a" stroke="#3a3a3a" stroke-width="0.4"><tspan font-style="italic">E</tspan> / V (<tspan font-style="italic">vs.</tspan> RHE)</text>
<text x="553.00" y="539.00" font-size="24" text-anchor="middle" fill="#3a3a3a" stroke="#3a3a3a" stroke-width="0.4" transform="rotate(-90 553.00 539.00)">H<tspan dy="4" font-size="14">2</tspan><tspan dy="-4">O</tspan><tspan dy="4" font-size="14">2</tspan><tspan dy="-4"> / %</tspan></text>
<text x="998.00" y="542.00" font-size="24" text-anchor="middle" fill="#fd9a2e" stroke="#fd9a2e" stroke-width="0.4" transform="rotate(-90 998.00 542.00)"><tspan font-style="italic">n</tspan></text>
<text x="1027.00" y="413.40" font-size="29.2" text-anchor="start" fill="#222" stroke="#222" stroke-width="0.4">(f)</text>
<polyline points="1098.20,660.10 1099.64,660.30 1099.94,660.33 1100.26,660.37 1100.62,660.41 1101.01,660.45 1101.41,660.50 1101.84,660.54 1102.29,660.58 1102.75,660.61 1103.22,660.65 1103.70,660.68 1104.18,660.71 1104.67,660.74 1105.17,660.77 1105.66,660.79 1106.16,660.80 1106.66,660.82 1107.16,660.83 1107.66,660.84 1108.15,660.84 1108.65,660.84 1109.15,660.83 1109.65,660.82 1110.15,660.80 1110.65,660.78 1111.14,660.75 1111.64,660.71 1112.13,660.66 1112.63,660.61 1113.12,660.54 1113.61,660.47 1114.10,660.39 1114.59,660.30 1115.08,660.20 1115.56,660.09 1116.05,659.97 1116.53,659.85 1117.01,659.72 1117.49,659.58 1117.97,659.44 1118.44,659.30 1118.92,659.15 1119.40,658.99 1119.87,658.84 1120.35,658.68 1120.82,658.53 1121.29,658.37 1121.77,658.21 1122.24,658.06 1122.72,657.91 1123.20,657.76 1123.67,657.61 1124.15,657.47 1124.63,657.33 1125.11,657.19 1125.59,657.06 1126.08,656.94 1126.56,656.81 1127.05,656.69 1127.53,656.58 1128.02,656.47 1128.51,656.36 1128.99,656.25 1129.48,656.15 1129.97,656.05 1130.46,655.95 1130.95,655.85 1131.44,655.76 1131.93,655.66 1132.43,655.57 1132.92,655.48 1133.41,655.39 1133.90,655.30 1134.39,655.22 1134.89,655.13 1135.38,655.05 1135.87,654.97 1136.37,654.89 1136.86,654.81 1137.35,654.74 1137.85,654.66 1138.34,654.59 1138.84,654.53 1139.33,654.46 1139.83,654.40 1140.33,654.34 1140.82,654.28 1141.32,654.22 1141.82,654.17 1142.31,654.12 1142.81,654.07 1143.31,654.02 1143.81,653.98 1144.30,653.93 1144.80,653.89 1145.30,653.85 1145.80,653.81 1146.30,653.77 1146.80,653.73 1147.29,653.69 1147.79,653.65 1148.29,653.61 1148.79,653.58 1149.29,653.54 1149.79,653.50 1150.29,653.47 1150.78,653.43 1151.28,653.40 1151.78,653.36 1152.28,653.33 1152.78,653.29 1153.28,653.26 1153.78,653.22 1154.28,653.19 1154.78,653.16 1155.27,653.13 1155.77,653.09 1156.27,653.06 1156.77,653.03 1157.27,653.00 1157.77,652.97 1158.27,652.94 1158.77,652.91 1159.27,652.88 1159.77,652.85 1160.26,652.82 1160.76,652.79 1161.26,652.77 1161.76,652.74 1162.26,652.71 1162.76,652.69 1163.26,652.66 1163.76,652.63 1164.26,652.61 1164.76,652.59 1165.26,652.56 1165.76,652.54 1166.26,652.52 1166.76,652.49 1167.26,652.47 1167.76,652.45 1168.26,652.43 1168.75,652.41 1169.25,652.39 1169.75,652.37 1170.25,652.36 1170.75,652.34 1171.25,652.32 1171.75,652.30 1172.25,652.29 1172.75,652.27 1173.25,652.26 1173.75,652.25 1174.25,652.23 1174.75,652.22 1175.25,652.21 1175.75,652.20 1176.25,652.19 1176.75,652.18 1177.25,652.17 1177.75,652.16 1178.25,652.15 1178.75,652.14 1179.25,652.14 1179.75,652.13 1180.25,652.13 1180.75,652.12 1181.25,652.12 1181.75,652.12 1182.25,652.11 1182.75,652.11 1183.25,652.11 1183.75,652.11 1184.25,652.11 1184.75,652.11 1185.25,652.11 1185.75,652.11 1186.25,652.12 1186.75,652.12 1187.25,652.12 1187.75,652.12 1188.25,652.13 1188.75,652.13 1189.25,652.14 1189.75,652.14 1190.25,652.15 1190.75,652.15 1191.25,652.16 1191.75,652.16 1192.25,652.17 1192.75,652.17 1193.25,652.18 1193.75,652.19 1194.25,652.20 1194.75,652.20 1195.25,652.21 1195.75,652.22 1196.25,652.23 1196.75,652.23 1197.25,652.24 1197.75,652.25 1198.25,652.26 1198.75,652.27 1199.25,652.28 1199.75,652.28 1200.25,652.29 1200.75,652.30 1201.25,652.31 1201.75,652.32 1202.25,652.33 1202.75,652.34 1203.25,652.35 1203.75,652.36 1204.25,652.37 1204.75,652.38 1205.25,652.38 1205.75,652.39 1206.25,652.40 1206.75,652.41 1207.25,652.42 1207.75,652.43 1208.25,652.44 1208.75,652.45 1209.25,652.45 1209.75,652.46 1210.25,652.47 1210.75,652.48 1211.25,652.49 1211.75,652.49 1212.25,652.50 1212.75,652.51 1213.25,652.52 1213.75,652.52 1214.25,652.53 1214.75,652.54 1215.25,652.54 1215.75,652.55 1216.25,652.55 1216.75,652.56 1217.25,652.56 1217.75,652.57 1218.25,652.57 1218.75,652.57 1219.25,652.58 1219.75,652.58 1220.25,652.58 1220.75,652.58 1221.25,652.59 1221.75,652.59 1222.25,652.59 1222.75,652.58 1223.25,652.58 1223.75,652.58 1224.25,652.57 1224.75,652.57 1225.25,652.56 1225.75,652.55 1226.25,652.55 1226.75,652.54 1227.25,652.52 1227.75,652.51 1228.24,652.50 1228.74,652.48 1229.24,652.47 1229.74,652.45 1230.24,652.43 1230.74,652.41 1231.24,652.39 1231.74,652.37 1232.24,652.34 1232.74,652.32 1233.24,652.30 1233.74,652.27 1234.24,652.24 1234.74,652.22 1235.24,652.19 1235.74,652.16 1236.24,652.14 1236.74,652.11 1237.23,652.08 1237.73,652.05 1238.23,652.02 1238.73,651.99 1239.23,651.96 1239.73,651.93 1240.23,651.90 1240.73,651.88 1241.23,651.85 1241.73,651.82 1242.23,651.79 1242.73,651.76 1243.22,651.73 1243.72,651.71 1244.22,651.68 1244.72,651.65 1245.22,651.63 1245.72,651.60 1246.22,651.58 1246.72,651.55 1247.22,651.53 1247.72,651.51 1248.22,651.49 1248.72,651.47 1249.22,651.45 1249.72,651.43 1250.22,651.42 1250.72,651.40 1251.22,651.39 1251.72,651.38 1252.22,651.37 1252.72,651.36 1253.22,651.35 1253.72,651.34 1254.22,651.34 1254.71,651.34 1255.21,651.34 1255.71,651.34 1256.21,651.34 1256.71,651.35 1257.21,651.35 1257.71,651.36 1258.21,651.38 1258.71,651.39 1259.21,651.40 1259.71,651.42 1260.21,651.44 1260.71,651.46 1261.21,651.48 1261.71,651.51 1262.21,651.53 1262.71,651.56 1263.21,651.58 1263.71,651.61 1264.21,651.64 1264.71,651.67 1265.20,651.70 1265.70,651.73 1266.20,651.76 1266.70,651.79 1267.20,651.82 1267.70,651.85 1268.20,651.89 1268.70,651.92 1269.20,651.95 1269.70,651.98 1270.20,652.01 1270.69,652.04 1271.19,652.07 1271.69,652.10 1272.19,652.13 1272.69,652.16 1273.19,652.19 1273.69,652.23 1274.19,652.26 1274.69,652.29 1275.19,652.32 1275.68,652.35 1276.18,652.38 1276.68,652.41 1277.18,652.44 1277.68,652.48 1278.18,652.51 1278.68,652.54 1279.18,652.57 1279.68,652.61 1280.18,652.64 1280.67,652.67 1281.17,652.71 1281.67,652.74 1282.17,652.78 1282.67,652.81 1283.17,652.84 1283.67,652.88 1284.17,652.91 1284.66,652.95 1285.16,652.98 1285.66,653.02 1286.16,653.05 1286.66,653.09 1287.16,653.12 1287.66,653.16 1288.16,653.19 1288.66,653.22 1289.15,653.26 1289.65,653.29 1290.15,653.33 1290.65,653.36 1291.15,653.40 1291.65,653.43 1292.15,653.46 1292.65,653.50 1293.14,653.53 1293.64,653.57 1294.14,653.60 1294.64,653.64 1295.14,653.67 1295.64,653.71 1296.14,653.74 1296.64,653.78 1297.13,653.81 1297.63,653.85 1298.13,653.89 1298.63,653.93 1299.13,653.96 1299.63,654.00 1300.13,654.04 1300.62,654.08 1301.12,654.11 1301.62,654.15 1302.12,654.18 1302.62,654.21 1303.12,654.25 1303.62,654.27 1304.12,654.30 1304.61,654.33 1305.11,654.35 1305.61,654.36 1306.11,654.37 1306.61,654.38 1307.11,654.39 1307.61,654.38 1308.11,654.37 1308.60,654.36 1309.10,654.33 1309.60,654.30 1310.09,654.26 1310.59,654.21 1311.08,654.16 1311.58,654.09 1312.07,654.02 1312.56,653.94 1313.05,653.85 1313.54,653.76 1314.03,653.66 1314.51,653.55 1315.00,653.43 1315.48,653.31 1315.96,653.19 1316.44,653.05 1316.92,652.91 1317.40,652.77 1317.88,652.62 1318.35,652.47 1318.82,652.30 1319.29,652.13 1319.76,651.96 1320.22,651.78 1320.68,651.59 1321.13,651.39 1321.59,651.18 1322.03,650.97 1322.48,650.75 1322.92,650.52 1323.36,650.28 1323.79,650.04 1324.22,649.78 1324.64,649.52 1325.06,649.26 1325.48,648.99 1325.89,648.71 1326.30,648.42 1326.71,648.13 1327.11,647.84 1327.51,647.54 1327.90,647.23 1328.29,646.92 1328.68,646.61 1329.06,646.29 1329.44,645.96 1329.82,645.64 1330.19,645.30 1330.56,644.97 1330.92,644.62 1331.28,644.28 1331.64,643.93 1331.99,643.58 1332.34,643.22 1332.69,642.86 1333.03,642.50 1333.37,642.13 1333.71,641.77 1334.04,641.39 1334.37,641.02 1334.70,640.64 1335.02,640.26 1335.35,639.88 1335.66,639.50 1335.98,639.11 1336.29,638.72 1336.60,638.33 1336.91,637.94 1337.22,637.54 1337.52,637.14 1337.82,636.74 1338.12,636.34 1338.41,635.94 1338.71,635.53 1339.00,635.13 1339.28,634.72 1339.57,634.31 1339.85,633.90 1340.13,633.48 1340.40,633.06 1340.67,632.64 1340.94,632.22 1341.21,631.80 1341.47,631.37 1341.72,630.95 1341.98,630.52 1342.23,630.08 1342.48,629.65 1342.72,629.21 1342.96,628.78 1343.20,628.34 1343.44,627.90 1343.67,627.45 1343.90,627.01 1344.13,626.57 1344.35,626.12 1344.57,625.67 1344.79,625.22 1345.01,624.77 1345.23,624.32 1345.44,623.87 1345.65,623.42 1345.86,622.97 1346.07,622.51 1346.28,622.06 1346.49,621.60 1346.69,621.14 1346.89,620.69 1347.10,620.23 1347.30,619.77 1347.49,619.31 1347.69,618.85 1347.89,618.39 1348.08,617.93 1348.28,617.47 1348.47,617.01 1348.66,616.55 1348.86,616.09 1349.05,615.63 1349.24,615.16 1349.42,614.70 1349.61,614.24 1349.80,613.77 1349.99,613.31 1350.17,612.85 1350.36,612.38 1350.54,611.92 1350.73,611.45 1350.91,610.99 1351.09,610.52 1351.27,610.06 1351.45,609.59 1351.64,609.12 1351.82,608.66 1352.00,608.19 1352.18,607.72 1352.35,607.26 1352.53,606.79 1352.71,606.32 1352.89,605.86 1353.06,605.39 1353.24,604.92 1353.41,604.45 1353.59,603.98 1353.76,603.51 1353.93,603.04 1354.10,602.57 1354.27,602.10 1354.44,601.63 1354.61,601.16 1354.77,600.69 1354.94,600.22 1355.10,599.74 1355.26,599.27 1355.42,598.80 1355.58,598.32 1355.74,597.85 1355.90,597.38 1356.05,596.90 1356.21,596.43 1356.36,595.95 1356.52,595.47 1356.67,595.00 1356.82,594.52 1356.97,594.05 1357.12,593.57 1357.27,593.09 1357.42,592.61 1357.57,592.14 1357.72,591.66 1357.86,591.18 1358.01,590.70 1358.15,590.22 1358.30,589.75 1358.44,589.27 1358.59,588.79 1358.73,588.31 1358.87,587.83 1359.02,587.35 1359.16,586.87 1359.30,586.39 1359.44,585.91 1359.58,585.43 1359.72,584.95 1359.86,584.47 1360.00,583.99 1360.14,583.51 1360.28,583.03 1360.42,582.55 1360.56,582.07 1360.70,581.59 1360.84,581.11 1360.97,580.63 1361.11,580.15 1361.25,579.67 1361.39,579.19 1361.53,578.71 1361.66,578.23 1361.80,577.75 1361.94,577.27 1362.08,576.78 1362.21,576.30 1362.35,575.82 1362.49,575.34 1362.62,574.86 1362.76,574.38 1362.90,573.90 1363.04,573.42 1363.17,572.94 1363.31,572.46 1363.45,571.98 1363.59,571.50 1363.72,571.02 1363.86,570.53 1364.00,570.05 1364.13,569.57 1364.27,569.09 1364.41,568.61 1364.55,568.13 1364.68,567.65 1364.82,567.17 1364.96,566.69 1365.09,566.21 1365.23,565.72 1365.36,565.24 1365.50,564.76 1365.63,564.28 1365.77,563.80 1365.90,563.32 1366.04,562.84 1366.17,562.35 1366.30,561.87 1366.44,561.39 1366.57,560.91 1366.70,560.43 1366.83,559.94 1366.97,559.46 1367.10,558.98 1367.23,558.50 1367.36,558.02 1367.49,557.53 1367.62,557.05 1367.76,556.57 1367.89,556.09 1368.02,555.60 1368.15,555.12 1368.28,554.64 1368.41,554.15 1368.54,553.67 1368.67,553.19 1368.80,552.71 1368.93,552.22 1369.06,551.74 1369.19,551.26 1369.31,550.77 1369.44,550.29 1369.57,549.81 1369.70,549.32 1369.83,548.84 1369.96,548.36 1370.09,547.87 1370.21,547.39 1370.34,546.91 1370.47,546.42 1370.60,545.94 1370.73,545.46 1370.86,544.98 1370.98,544.49 1371.11,544.01 1371.24,543.53 1371.37,543.04 1371.50,542.56 1371.62,542.08 1371.75,541.59 1371.88,541.11 1372.01,540.63 1372.14,540.14 1372.26,539.66 1372.39,539.17 1372.52,538.69 1372.65,538.21 1372.78,537.73 1372.90,537.24 1373.03,536.76 1373.16,536.28 1373.29,535.79 1373.42,535.31 1373.55,534.83 1373.67,534.34 1373.80,533.86 1373.93,533.38 1374.06,532.89 1374.19,532.41 1374.32,531.93 1374.45,531.44 1374.58,530.96 1374.70,530.48 1374.83,529.99 1374.96,529.51 1375.09,529.03 1375.22,528.54 1375.35,528.06 1375.48,527.58 1375.61,527.10 1375.74,526.61 1375.86,526.13 1375.99,525.65 1376.12,525.16 1376.25,524.68 1376.38,524.20 1376.51,523.71 1376.63,523.23 1376.76,522.75 1376.89,522.26 1377.02,521.78 1377.14,521.30 1377.27,520.81 1377.40,520.33 1377.52,519.84 1377.65,519.36 1377.78,518.88 1377.90,518.39 1378.03,517.91 1378.16,517.43 1378.28,516.94 1378.41,516.46 1378.54,515.98 1378.66,515.49 1378.79,515.01 1378.92,514.52 1379.04,514.04 1379.17,513.56 1379.30,513.07 1379.42,512.59 1379.55,512.11 1379.68,511.62 1379.80,511.14 1379.93,510.65 1380.06,510.17 1380.18,509.69 1380.31,509.20 1380.44,508.72 1380.57,508.24 1380.69,507.75 1380.82,507.27 1380.95,506.79 1381.07,506.30 1381.20,505.82 1381.33,505.34 1381.46,504.85 1381.59,504.37 1381.72,503.89 1381.84,503.40 1381.97,502.92 1382.10,502.44 1382.23,501.95 1382.36,501.47 1382.49,500.99 1382.62,500.50 1382.75,500.02 1382.88,499.54 1383.01,499.06 1383.14,498.57 1383.27,498.09 1383.40,497.61 1383.53,497.13 1383.67,496.64 1383.80,496.16 1383.93,495.68 1384.06,495.20 1384.20,494.72 1384.33,494.23 1384.46,493.75 1384.60,493.27 1384.73,492.79 1384.87,492.31 1385.00,491.83 1385.14,491.34 1385.27,490.86 1385.41,490.38 1385.55,489.90 1385.68,489.42 1385.82,488.94 1385.96,488.46 1386.10,487.98 1386.23,487.50 1386.37,487.02 1386.51,486.54 1386.65,486.06 1386.78,485.57 1386.92,485.09 1387.06,484.61 1387.20,484.13 1387.33,483.65 1387.47,483.17 1387.61,482.69 1387.75,482.21 1387.89,481.73 1388.02,481.25 1388.16,480.77 1388.30,480.29 1388.44,479.81 1388.58,479.33 1388.72,478.85 1388.86,478.37 1388.99,477.89 1389.13,477.41 1389.27,476.93 1389.41,476.45 1389.55,475.97 1389.69,475.49 1389.83,475.01 1389.97,474.53 1390.11,474.05 1390.26,473.57 1390.40,473.09 1390.54,472.61 1390.68,472.13 1390.82,471.65 1390.97,471.17 1391.11,470.69 1391.26,470.21 1391.40,469.73 1391.54,469.26 1391.69,468.78 1391.84,468.30 1391.98,467.82 1392.13,467.34 1392.28,466.87 1392.43,466.39 1392.57,465.91 1392.72,465.43 1392.87,464.96 1393.03,464.48 1393.18,464.00 1393.33,463.53 1393.48,463.05 1393.64,462.58 1393.79,462.10 1393.95,461.63 1394.11,461.15 1394.27,460.68 1394.43,460.20 1394.59,459.73 1394.75,459.26 1394.91,458.78 1395.07,458.31 1395.24,457.84 1395.41,457.37 1395.57,456.90 1395.74,456.43 1395.91,455.96 1396.08,455.49 1396.26,455.02 1396.43,454.55 1396.60,454.08 1396.78,453.61 1396.96,453.14 1397.13,452.68 1397.31,452.21 1397.49,451.74 1397.67,451.28 1397.85,450.81 1398.03,450.35 1398.22,449.88 1398.40,449.41 1398.58,448.95 1398.77,448.49 1398.95,448.02 1399.14,447.56 1399.33,447.09 1399.52,446.63 1399.71,446.17 1399.90,445.71 1400.09,445.24 1400.28,444.78 1400.47,444.32 1400.67,443.86 1400.86,443.40 1401.06,442.94 1401.26,442.48 1401.45,442.02 1401.66,441.56 1401.86,441.11 1402.06,440.65 1402.27,440.19 1402.47,439.74 1402.68,439.28 1402.89,438.83 1403.10,438.38 1403.31,437.93 1403.53,437.47 1403.75,437.02 1403.97,436.58 1404.19,436.13 1404.41,435.68 1404.64,435.24 1404.87,434.79 1405.10,434.35 1405.33,433.91 1405.57,433.47 1405.81,433.03 1406.05,432.59 1406.30,432.16 1406.54,431.72 1406.79,431.29 1407.05,430.86 1407.30,430.43 1407.56,430.00 1407.82,429.57 1408.08,429.14 1408.34,428.72 1408.60,428.30 1408.87,427.87 1409.14,427.45 1409.41,427.03 1409.68,426.61 1409.95,426.19 1410.23,425.78 1410.51,425.36 1410.78,424.94 1411.07,424.53 1411.35,424.12 1411.63,423.71 1411.92,423.30 1412.21,422.89 1412.50,422.48 1412.79,422.08 1413.09,421.68 1413.39,421.28 1413.69,420.88 1413.99,420.48 1414.30,420.09 1414.61,419.70 1414.93,419.31 1415.25,418.93 1415.57,418.55 1415.89,418.17 1416.22,417.80 1416.56,417.43 1416.90,417.06 1417.24,416.70 1417.59,416.35 1417.95,415.99 1418.30,415.65 1418.67,415.31 1419.04,414.98 1419.41,414.65 1419.79,414.33 1420.18,414.01 1420.56,413.70 1420.96,413.39 1421.36,413.09 1421.76,412.80 1422.16,412.51 1422.57,412.22 1422.99,411.95 1423.40,411.67 1423.82,411.40 1424.25,411.14 1424.67,410.87 1425.10,410.62 1425.53,410.37 1425.96,410.12 1426.40,409.88 1426.84,409.64 1427.28,409.41 1427.73,409.19 1428.17,408.97 1428.62,408.75 1429.08,408.54 1429.53,408.34 1429.99,408.14 1430.45,407.95 1430.91,407.76 1431.38,407.58 1431.84,407.41 1432.31,407.24 1432.78,407.08 1433.26,406.92 1433.73,406.77 1434.21,406.62 1434.69,406.47 1435.17,406.33 1435.65,406.19 1436.13,406.06 1436.61,405.92 1437.09,405.79 1437.57,405.66 1438.06,405.54 1438.54,405.42 1439.03,405.29 1439.51,405.18 1440.00,405.06 1440.48,404.94 1440.97,404.83 1441.46,404.72 1441.95,404.62 1442.44,404.51 1442.93,404.41 1443.42,404.31 1443.91,404.22 1444.40,404.13 1444.89,404.04 1445.38,403.96 1445.87,403.88 1446.36,403.80 1446.84,403.73 1447.32,403.67 1447.80,403.61 1448.26,403.55 1448.72,403.50 1449.17,403.46 1449.59,403.41 1450.00,403.38 1450.38,403.34 1450.74,403.32 1451.07,403.29 1451.37,403.27 1452.80,403.20" fill="none" stroke="#3a37c4" stroke-width="2.2" stroke-linejoin="round" stroke-linecap="round"/>
<polyline points="1098.20,662.10 1099.65,662.04 1099.95,662.03 1100.28,662.01 1100.64,661.99 1101.03,661.97 1101.44,661.94 1101.87,661.91 1102.31,661.88 1102.77,661.84 1103.24,661.80 1103.72,661.76 1104.20,661.71 1104.69,661.66 1105.18,661.61 1105.68,661.56 1106.17,661.50 1106.67,661.45 1107.16,661.38 1107.66,661.32 1108.15,661.25 1108.65,661.18 1109.14,661.11 1109.64,661.04 1110.13,660.96 1110.62,660.87 1111.11,660.78 1111.60,660.69 1112.09,660.59 1112.58,660.49 1113.07,660.38 1113.55,660.26 1114.04,660.14 1114.52,660.02 1115.00,659.88 1115.48,659.75 1115.96,659.61 1116.44,659.46 1116.91,659.31 1117.39,659.16 1117.86,659.00 1118.34,658.84 1118.81,658.69 1119.28,658.52 1119.76,658.36 1120.23,658.20 1120.70,658.04 1121.18,657.88 1121.65,657.73 1122.13,657.57 1122.60,657.42 1123.08,657.27 1123.56,657.13 1124.03,656.98 1124.51,656.85 1125.00,656.71 1125.48,656.58 1125.96,656.46 1126.45,656.34 1126.93,656.22 1127.42,656.11 1127.91,656.00 1128.39,655.90 1128.88,655.80 1129.37,655.70 1129.86,655.61 1130.36,655.51 1130.85,655.42 1131.34,655.33 1131.83,655.25 1132.32,655.16 1132.82,655.08 1133.31,655.00 1133.80,654.92 1134.30,654.84 1134.79,654.77 1135.29,654.69 1135.78,654.62 1136.27,654.55 1136.77,654.48 1137.27,654.41 1137.76,654.34 1138.26,654.28 1138.75,654.21 1139.25,654.15 1139.74,654.09 1140.24,654.04 1140.74,653.98 1141.23,653.92 1141.73,653.87 1142.23,653.82 1142.73,653.77 1143.22,653.72 1143.72,653.67 1144.22,653.62 1144.72,653.57 1145.21,653.52 1145.71,653.48 1146.21,653.43 1146.71,653.39 1147.21,653.34 1147.70,653.30 1148.20,653.25 1148.70,653.21 1149.20,653.16 1149.70,653.12 1150.19,653.08 1150.69,653.03 1151.19,652.99 1151.69,652.95 1152.19,652.91 1152.68,652.86 1153.18,652.82 1153.68,652.78 1154.18,652.74 1154.68,652.70 1155.18,652.66 1155.67,652.62 1156.17,652.58 1156.67,652.54 1157.17,652.50 1157.67,652.46 1158.17,652.42 1158.67,652.38 1159.16,652.34 1159.66,652.31 1160.16,652.27 1160.66,652.23 1161.16,652.20 1161.66,652.16 1162.16,652.13 1162.66,652.09 1163.15,652.06 1163.65,652.03 1164.15,652.00 1164.65,651.96 1165.15,651.93 1165.65,651.90 1166.15,651.87 1166.65,651.84 1167.15,651.81 1167.65,651.78 1168.14,651.76 1168.64,651.73 1169.14,651.70 1169.64,651.68 1170.14,651.66 1170.64,651.63 1171.14,651.61 1171.64,651.59 1172.14,651.56 1172.64,651.54 1173.14,651.52 1173.64,651.51 1174.14,651.49 1174.64,651.47 1175.14,651.45 1175.64,651.44 1176.14,651.42 1176.64,651.41 1177.14,651.40 1177.64,651.38 1178.14,651.37 1178.64,651.36 1179.14,651.35 1179.64,651.35 1180.14,651.34 1180.64,651.33 1181.14,651.33 1181.64,651.32 1182.14,651.32 1182.64,651.32 1183.14,651.32 1183.64,651.32 1184.14,651.32 1184.64,651.32 1185.14,651.33 1185.64,651.33 1186.14,651.34 1186.64,651.34 1187.13,651.35 1187.63,651.36 1188.13,651.37 1188.63,651.38 1189.13,651.39 1189.63,651.40 1190.13,651.41 1190.63,651.43 1191.13,651.44 1191.63,651.46 1192.13,651.47 1192.63,651.49 1193.13,651.51 1193.63,651.52 1194.13,651.54 1194.63,651.56 1195.13,651.58 1195.63,651.60 1196.13,651.62 1196.63,651.64 1197.13,651.66 1197.63,651.69 1198.13,651.71 1198.63,651.73 1199.13,651.75 1199.63,651.77 1200.13,651.80 1200.63,651.82 1201.13,651.84 1201.62,651.87 1202.12,651.89 1202.62,651.92 1203.12,651.94 1203.62,651.96 1204.12,651.99 1204.62,652.01 1205.12,652.03 1205.62,652.06 1206.12,652.08 1206.62,652.10 1207.12,652.13 1207.62,652.15 1208.12,652.17 1208.62,652.19 1209.12,652.22 1209.62,652.24 1210.12,652.26 1210.62,652.28 1211.11,652.30 1211.61,652.32 1212.11,652.34 1212.61,652.36 1213.11,652.38 1213.61,652.39 1214.11,652.41 1214.61,652.43 1215.11,652.44 1215.61,652.46 1216.11,652.47 1216.61,652.49 1217.11,652.50 1217.61,652.51 1218.11,652.52 1218.61,652.53 1219.11,652.54 1219.61,652.55 1220.11,652.56 1220.61,652.57 1221.11,652.57 1221.61,652.58 1222.11,652.58 1222.61,652.59 1223.11,652.59 1223.61,652.59 1224.11,652.59 1224.61,652.60 1225.11,652.60 1225.61,652.60 1226.11,652.60 1226.61,652.60 1227.11,652.60 1227.61,652.60 1228.11,652.60 1228.61,652.60 1229.11,652.60 1229.61,652.60 1230.11,652.60 1230.61,652.60 1231.11,652.60 1231.61,652.60 1232.11,652.60 1232.61,652.60 1233.11,652.60 1233.61,652.60 1234.11,652.60 1234.61,652.60 1235.11,652.60 1235.61,652.60 1236.11,652.60 1236.61,652.60 1237.11,652.60 1237.61,652.60 1238.11,652.60 1238.61,652.60 1239.11,652.60 1239.61,652.60 1240.11,652.60 1240.61,652.60 1241.11,652.60 1241.61,652.60 1242.11,652.60 1242.61,652.60 1243.11,652.60 1243.61,652.60 1244.11,652.60 1244.61,652.60 1245.11,652.60 1245.61,652.61 1246.11,652.61 1246.61,652.61 1247.11,652.62 1247.61,652.62 1248.11,652.63 1248.61,652.63 1249.11,652.64 1249.61,652.65 1250.11,652.66 1250.61,652.67 1251.11,652.69 1251.61,652.70 1252.11,652.72 1252.61,652.74 1253.11,652.76 1253.61,652.78 1254.11,652.80 1254.61,652.83 1255.10,652.85 1255.60,652.88 1256.10,652.91 1256.60,652.93 1257.10,652.96 1257.60,653.00 1258.10,653.03 1258.60,653.06 1259.10,653.09 1259.60,653.13 1260.09,653.16 1260.59,653.20 1261.09,653.23 1261.59,653.27 1262.09,653.31 1262.59,653.34 1263.09,653.38 1263.59,653.42 1264.08,653.46 1264.58,653.49 1265.08,653.53 1265.58,653.57 1266.08,653.61 1266.58,653.64 1267.08,653.68 1267.57,653.72 1268.07,653.75 1268.57,653.79 1269.07,653.82 1269.57,653.86 1270.07,653.89 1270.57,653.93 1271.07,653.96 1271.56,653.99 1272.06,654.03 1272.56,654.06 1273.06,654.10 1273.56,654.13 1274.06,654.16 1274.56,654.20 1275.06,654.23 1275.56,654.27 1276.05,654.30 1276.55,654.33 1277.05,654.37 1277.55,654.40 1278.05,654.44 1278.55,654.47 1279.05,654.51 1279.55,654.55 1280.04,654.58 1280.54,654.62 1281.04,654.65 1281.54,654.69 1282.04,654.72 1282.54,654.76 1283.04,654.80 1283.53,654.83 1284.03,654.87 1284.53,654.90 1285.03,654.94 1285.53,654.97 1286.03,655.01 1286.53,655.04 1287.03,655.07 1287.53,655.11 1288.02,655.14 1288.52,655.17 1289.02,655.21 1289.52,655.24 1290.02,655.27 1290.52,655.30 1291.02,655.33 1291.52,655.36 1292.02,655.39 1292.52,655.42 1293.01,655.45 1293.51,655.48 1294.01,655.51 1294.51,655.53 1295.01,655.56 1295.51,655.59 1296.01,655.61 1296.51,655.64 1297.01,655.67 1297.51,655.69 1298.01,655.72 1298.51,655.74 1299.01,655.77 1299.51,655.79 1300.00,655.82 1300.50,655.84 1301.00,655.86 1301.50,655.88 1302.00,655.91 1302.50,655.93 1303.00,655.94 1303.50,655.96 1304.00,655.98 1304.50,655.99 1305.00,656.00 1305.50,656.00 1306.00,656.01 1306.50,656.01 1306.99,656.00 1307.49,655.98 1307.99,655.96 1308.49,655.93 1308.98,655.90 1309.48,655.85 1309.97,655.80 1310.46,655.73 1310.95,655.66 1311.44,655.57 1311.93,655.48 1312.41,655.37 1312.89,655.26 1313.38,655.13 1313.86,655.00 1314.33,654.86 1314.81,654.72 1315.28,654.56 1315.75,654.40 1316.22,654.24 1316.69,654.06 1317.16,653.89 1317.62,653.71 1318.09,653.52 1318.55,653.33 1319.01,653.14 1319.46,652.93 1319.92,652.73 1320.37,652.52 1320.82,652.30 1321.26,652.08 1321.71,651.85 1322.15,651.61 1322.58,651.37 1323.01,651.12 1323.44,650.87 1323.86,650.61 1324.29,650.34 1324.70,650.07 1325.12,649.79 1325.53,649.51 1325.93,649.22 1326.34,648.93 1326.74,648.63 1327.13,648.33 1327.53,648.02 1327.92,647.71 1328.30,647.39 1328.69,647.07 1329.07,646.75 1329.44,646.42 1329.82,646.09 1330.18,645.75 1330.55,645.41 1330.91,645.07 1331.27,644.73 1331.63,644.38 1331.98,644.02 1332.33,643.67 1332.68,643.31 1333.02,642.95 1333.37,642.58 1333.70,642.21 1334.04,641.84 1334.37,641.47 1334.70,641.09 1335.02,640.71 1335.35,640.33 1335.67,639.95 1335.99,639.57 1336.30,639.18 1336.61,638.79 1336.92,638.40 1337.23,638.00 1337.53,637.61 1337.84,637.21 1338.14,636.81 1338.43,636.40 1338.72,636.00 1339.02,635.59 1339.30,635.19 1339.59,634.77 1339.87,634.36 1340.15,633.95 1340.42,633.53 1340.69,633.11 1340.96,632.69 1341.23,632.27 1341.49,631.84 1341.74,631.41 1342.00,630.98 1342.25,630.55 1342.50,630.12 1342.74,629.68 1342.98,629.24 1343.22,628.80 1343.45,628.36 1343.69,627.92 1343.91,627.48 1344.14,627.03 1344.37,626.58 1344.59,626.14 1344.81,625.69 1345.03,625.24 1345.24,624.79 1345.46,624.34 1345.67,623.88 1345.88,623.43 1346.09,622.98 1346.30,622.52 1346.50,622.06 1346.70,621.61 1346.91,621.15 1347.11,620.69 1347.31,620.24 1347.51,619.78 1347.71,619.32 1347.90,618.86 1348.10,618.40 1348.29,617.94 1348.48,617.48 1348.68,617.01 1348.87,616.55 1349.06,616.09 1349.25,615.63 1349.44,615.16 1349.62,614.70 1349.81,614.24 1350.00,613.77 1350.18,613.31 1350.37,612.85 1350.55,612.38 1350.74,611.92 1350.92,611.45 1351.10,610.99 1351.29,610.52 1351.47,610.05 1351.65,609.59 1351.83,609.12 1352.01,608.65 1352.19,608.19 1352.37,607.72 1352.54,607.25 1352.72,606.79 1352.90,606.32 1353.08,605.85 1353.25,605.38 1353.43,604.91 1353.60,604.45 1353.77,603.98 1353.94,603.51 1354.12,603.04 1354.29,602.57 1354.45,602.10 1354.62,601.63 1354.79,601.15 1354.95,600.68 1355.12,600.21 1355.28,599.74 1355.44,599.26 1355.60,598.79 1355.76,598.32 1355.92,597.84 1356.07,597.37 1356.23,596.89 1356.38,596.42 1356.54,595.94 1356.69,595.46 1356.84,594.99 1356.99,594.51 1357.14,594.03 1357.29,593.56 1357.44,593.08 1357.59,592.60 1357.74,592.13 1357.89,591.65 1358.03,591.17 1358.18,590.69 1358.32,590.21 1358.47,589.73 1358.61,589.26 1358.76,588.78 1358.90,588.30 1359.04,587.82 1359.19,587.34 1359.33,586.86 1359.47,586.38 1359.61,585.90 1359.75,585.42 1359.89,584.94 1360.03,584.46 1360.17,583.98 1360.31,583.50 1360.45,583.02 1360.59,582.54 1360.73,582.06 1360.87,581.58 1361.01,581.10 1361.15,580.62 1361.28,580.14 1361.42,579.66 1361.56,579.18 1361.70,578.70 1361.83,578.22 1361.97,577.74 1362.11,577.25 1362.25,576.77 1362.39,576.29 1362.52,575.81 1362.66,575.33 1362.80,574.85 1362.93,574.37 1363.07,573.89 1363.21,573.41 1363.35,572.93 1363.48,572.45 1363.62,571.97 1363.76,571.49 1363.90,571.01 1364.03,570.52 1364.17,570.04 1364.31,569.56 1364.44,569.08 1364.58,568.60 1364.72,568.12 1364.85,567.64 1364.99,567.16 1365.13,566.68 1365.26,566.20 1365.40,565.71 1365.53,565.23 1365.67,564.75 1365.80,564.27 1365.93,563.79 1366.07,563.31 1366.20,562.82 1366.33,562.34 1366.47,561.86 1366.60,561.38 1366.73,560.90 1366.86,560.41 1367.00,559.93 1367.13,559.45 1367.26,558.97 1367.39,558.48 1367.52,558.00 1367.65,557.52 1367.78,557.04 1367.91,556.55 1368.04,556.07 1368.17,555.59 1368.30,555.10 1368.43,554.62 1368.56,554.14 1368.69,553.66 1368.82,553.17 1368.95,552.69 1369.07,552.21 1369.20,551.72 1369.33,551.24 1369.46,550.76 1369.59,550.27 1369.72,549.79 1369.84,549.31 1369.97,548.82 1370.10,548.34 1370.23,547.86 1370.35,547.37 1370.48,546.89 1370.61,546.41 1370.74,545.92 1370.86,545.44 1370.99,544.95 1371.12,544.47 1371.25,543.99 1371.37,543.50 1371.50,543.02 1371.63,542.54 1371.76,542.05 1371.88,541.57 1372.01,541.09 1372.14,540.60 1372.26,540.12 1372.39,539.64 1372.52,539.15 1372.65,538.67 1372.77,538.19 1372.90,537.70 1373.03,537.22 1373.16,536.73 1373.28,536.25 1373.41,535.77 1373.54,535.28 1373.67,534.80 1373.79,534.32 1373.92,533.83 1374.05,533.35 1374.18,532.87 1374.31,532.38 1374.43,531.90 1374.56,531.42 1374.69,530.93 1374.82,530.45 1374.95,529.97 1375.08,529.49 1375.21,529.00 1375.33,528.52 1375.46,528.04 1375.59,527.55 1375.72,527.07 1375.85,526.59 1375.97,526.10 1376.10,525.62 1376.23,525.14 1376.36,524.65 1376.48,524.17 1376.61,523.68 1376.74,523.20 1376.86,522.72 1376.99,522.23 1377.12,521.75 1377.25,521.27 1377.37,520.78 1377.50,520.30 1377.62,519.82 1377.75,519.33 1377.88,518.85 1378.00,518.36 1378.13,517.88 1378.26,517.40 1378.38,516.91 1378.51,516.43 1378.63,515.94 1378.76,515.46 1378.89,514.98 1379.01,514.49 1379.14,514.01 1379.26,513.53 1379.39,513.04 1379.52,512.56 1379.64,512.07 1379.77,511.59 1379.89,511.11 1380.02,510.62 1380.15,510.14 1380.27,509.65 1380.40,509.17 1380.53,508.69 1380.65,508.20 1380.78,507.72 1380.91,507.24 1381.03,506.75 1381.16,506.27 1381.29,505.79 1381.41,505.30 1381.54,504.82 1381.67,504.33 1381.80,503.85 1381.93,503.37 1382.05,502.88 1382.18,502.40 1382.31,501.92 1382.44,501.44 1382.57,500.95 1382.70,500.47 1382.83,499.99 1382.96,499.50 1383.09,499.02 1383.22,498.54 1383.35,498.06 1383.48,497.57 1383.61,497.09 1383.74,496.61 1383.87,496.13 1384.00,495.64 1384.14,495.16 1384.27,494.68 1384.40,494.20 1384.54,493.72 1384.67,493.23 1384.80,492.75 1384.94,492.27 1385.07,491.79 1385.21,491.31 1385.34,490.83 1385.48,490.34 1385.62,489.86 1385.75,489.38 1385.89,488.90 1386.02,488.42 1386.16,487.94 1386.30,487.46 1386.44,486.98 1386.57,486.50 1386.71,486.02 1386.85,485.54 1386.98,485.05 1387.12,484.57 1387.26,484.09 1387.40,483.61 1387.53,483.13 1387.67,482.65 1387.81,482.17 1387.94,481.69 1388.08,481.21 1388.22,480.73 1388.36,480.25 1388.50,479.77 1388.63,479.29 1388.77,478.81 1388.91,478.32 1389.05,477.84 1389.19,477.36 1389.33,476.88 1389.47,476.40 1389.60,475.92 1389.74,475.44 1389.88,474.96 1390.02,474.48 1390.16,474.00 1390.31,473.52 1390.45,473.04 1390.59,472.56 1390.73,472.08 1390.87,471.61 1391.01,471.13 1391.16,470.65 1391.30,470.17 1391.44,469.69 1391.59,469.21 1391.73,468.73 1391.88,468.25 1392.03,467.78 1392.17,467.30 1392.32,466.82 1392.47,466.34 1392.62,465.86 1392.76,465.39 1392.91,464.91 1393.06,464.43 1393.22,463.96 1393.37,463.48 1393.52,463.00 1393.67,462.53 1393.83,462.05 1393.98,461.58 1394.14,461.10 1394.30,460.63 1394.46,460.15 1394.62,459.68 1394.78,459.21 1394.94,458.73 1395.10,458.26 1395.27,457.79 1395.43,457.32 1395.60,456.85 1395.77,456.38 1395.94,455.90 1396.11,455.43 1396.28,454.97 1396.45,454.50 1396.62,454.03 1396.80,453.56 1396.97,453.09 1397.15,452.62 1397.33,452.15 1397.50,451.69 1397.68,451.22 1397.86,450.75 1398.04,450.29 1398.22,449.82 1398.40,449.36 1398.59,448.89 1398.77,448.42 1398.95,447.96 1399.14,447.49 1399.32,447.03 1399.51,446.57 1399.70,446.10 1399.89,445.64 1400.07,445.18 1400.26,444.71 1400.46,444.25 1400.65,443.79 1400.84,443.33 1401.04,442.87 1401.23,442.41 1401.43,441.95 1401.63,441.49 1401.83,441.03 1402.03,440.58 1402.23,440.12 1402.43,439.66 1402.64,439.21 1402.85,438.75 1403.05,438.30 1403.27,437.84 1403.48,437.39 1403.69,436.94 1403.91,436.49 1404.13,436.04 1404.35,435.59 1404.57,435.14 1404.80,434.70 1405.02,434.25 1405.26,433.81 1405.49,433.37 1405.72,432.93 1405.96,432.49 1406.20,432.05 1406.44,431.61 1406.69,431.18 1406.94,430.74 1407.19,430.31 1407.44,429.88 1407.69,429.45 1407.95,429.02 1408.21,428.59 1408.47,428.16 1408.73,427.74 1408.99,427.31 1409.26,426.89 1409.52,426.47 1409.79,426.04 1410.06,425.62 1410.33,425.20 1410.60,424.78 1410.88,424.36 1411.15,423.95 1411.43,423.53 1411.71,423.12 1411.99,422.70 1412.27,422.29 1412.56,421.88 1412.85,421.48 1413.14,421.07 1413.43,420.67 1413.73,420.26 1414.03,419.86 1414.33,419.47 1414.64,419.07 1414.95,418.68 1415.26,418.29 1415.58,417.91 1415.90,417.53 1416.23,417.15 1416.56,416.78 1416.89,416.41 1417.23,416.05 1417.58,415.69 1417.93,415.33 1418.29,414.99 1418.65,414.65 1419.02,414.31 1419.39,413.98 1419.77,413.66 1420.15,413.34 1420.54,413.03 1420.93,412.73 1421.33,412.43 1421.74,412.14 1422.14,411.85 1422.56,411.57 1422.97,411.29 1423.39,411.02 1423.81,410.75 1424.23,410.49 1424.66,410.24 1425.09,409.98 1425.53,409.74 1425.96,409.50 1426.40,409.26 1426.85,409.03 1427.29,408.80 1427.74,408.58 1428.19,408.37 1428.64,408.16 1429.10,407.96 1429.55,407.76 1430.01,407.57 1430.48,407.38 1430.94,407.21 1431.41,407.03 1431.88,406.87 1432.35,406.70 1432.82,406.55 1433.30,406.40 1433.78,406.25 1434.26,406.11 1434.73,405.97 1435.22,405.83 1435.70,405.70 1436.18,405.57 1436.66,405.45 1437.15,405.32 1437.63,405.20 1438.12,405.08 1438.60,404.97 1439.09,404.85 1439.58,404.74 1440.07,404.63 1440.55,404.52 1441.04,404.42 1441.53,404.31 1442.02,404.21 1442.51,404.11 1443.00,404.02 1443.49,403.93 1443.98,403.84 1444.48,403.76 1444.97,403.67 1445.46,403.60 1445.95,403.52 1446.44,403.45 1446.92,403.39 1447.40,403.33 1447.88,403.27 1448.34,403.22 1448.80,403.17 1449.24,403.13 1449.66,403.09 1450.07,403.06 1450.45,403.03 1450.80,403.01 1451.12,402.98 1451.41,402.97 1452.80,402.90" fill="none" stroke="#fd9a2e" stroke-width="2.2" stroke-linejoin="round" stroke-linecap="round"/>
<line x1="1376.10" y1="496.10" x2="1376.10" y2="564.50" stroke="#fd9a2e" stroke-width="2.3" stroke-linecap="butt" stroke-dasharray="2.5 3.7"/>
<line x1="1378.00" y1="496.10" x2="1378.00" y2="564.50" stroke="#3a37c4" stroke-width="2.3" stroke-linecap="butt" stroke-dasharray="2.5 3.7"/>
<line x1="1340.60" y1="529.10" x2="1369.40" y2="529.10" stroke="#fd9a2e" stroke-width="2.0" stroke-linecap="butt"/>
<polygon points="1375.40,529.10 1367.40,526.10 1367.40,532.10" fill="#fd9a2e" stroke="#fd9a2e" stroke-width="0.8" stroke-linejoin="round"/>
<line x1="1413.20" y1="529.10" x2="1383.50" y2="529.10" stroke="#3a37c4" stroke-width="2.0" stroke-linecap="butt"/>
<polygon points="1377.50,529.10 1385.50,526.10 1385.50,532.10" fill="#3a37c4" stroke="#3a37c4" stroke-width="0.8" stroke-linejoin="round"/>
<line x1="1097.80" y1="392.80" x2="1097.80" y2="684.90" stroke="#3a3a3a" stroke-width="1.8" stroke-linecap="butt"/>
<line x1="1096.90" y1="393.70" x2="1454.70" y2="393.70" stroke="#3a3a3a" stroke-width="1.8" stroke-linecap="butt"/>
<line x1="1453.80" y1="392.80" x2="1453.80" y2="684.90" stroke="#3a3a3a" stroke-width="1.8" stroke-linecap="butt"/>
<line x1="1096.90" y1="684.00" x2="1454.70" y2="684.00" stroke="#3a3a3a" stroke-width="1.8" stroke-linecap="butt"/>
<line x1="1097.80" y1="425.50" x2="1094.30" y2="425.50" stroke="#3a3a3a" stroke-width="1.8" stroke-linecap="butt"/>
<line x1="1097.80" y1="471.10" x2="1094.30" y2="471.10" stroke="#3a3a3a" stroke-width="1.8" stroke-linecap="butt"/>
<line x1="1097.80" y1="516.70" x2="1094.30" y2="516.70" stroke="#3a3a3a" stroke-width="1.8" stroke-linecap="butt"/>
<line x1="1097.80" y1="562.30" x2="1094.30" y2="562.30" stroke="#3a3a3a" stroke-width="1.8" stroke-linecap="butt"/>
<line x1="1097.80" y1="607.90" x2="1094.30" y2="607.90" stroke="#3a3a3a" stroke-width="1.8" stroke-linecap="butt"/>
<line x1="1097.80" y1="653.50" x2="1094.30" y2="653.50" stroke="#3a3a3a" stroke-width="1.8" stroke-linecap="butt"/>
<line x1="1097.80" y1="402.70" x2="1091.80" y2="402.70" stroke="#3a3a3a" stroke-width="1.8" stroke-linecap="butt"/>
<text x="1088.00" y="409.30" font-size="19.5" text-anchor="end" fill="#3a3a3a" stroke="#3a3a3a" stroke-width="0.4">0</text>
<line x1="1097.80" y1="448.30" x2="1091.80" y2="448.30" stroke="#3a3a3a" stroke-width="1.8" stroke-linecap="butt"/>
<text x="1088.00" y="454.90" font-size="19.5" text-anchor="end" fill="#3a3a3a" stroke="#3a3a3a" stroke-width="0.4">-1</text>
<line x1="1097.80" y1="493.90" x2="1091.80" y2="493.90" stroke="#3a3a3a" stroke-width="1.8" stroke-linecap="butt"/>
<text x="1088.00" y="500.50" font-size="19.5" text-anchor="end" fill="#3a3a3a" stroke="#3a3a3a" stroke-width="0.4">-2</text>
<line x1="1097.80" y1="539.50" x2="1091.80" y2="539.50" stroke="#3a3a3a" stroke-width="1.8" stroke-linecap="butt"/>
<text x="1088.00" y="546.10" font-size="19.5" text-anchor="end" fill="#3a3a3a" stroke="#3a3a3a" stroke-width="0.4">-3</text>
<line x1="1097.80" y1="585.10" x2="1091.80" y2="585.10" stroke="#3a3a3a" stroke-width="1.8" stroke-linecap="butt"/>
<text x="1088.00" y="591.70" font-size="19.5" text-anchor="end" fill="#3a3a3a" stroke="#3a3a3a" stroke-width="0.4">-4</text>
<line x1="1097.80" y1="630.70" x2="1091.80" y2="630.70" stroke="#3a3a3a" stroke-width="1.8" stroke-linecap="butt"/>
<text x="1088.00" y="637.30" font-size="19.5" text-anchor="end" fill="#3a3a3a" stroke="#3a3a3a" stroke-width="0.4">-5</text>
<line x1="1097.80" y1="676.30" x2="1091.80" y2="676.30" stroke="#3a3a3a" stroke-width="1.8" stroke-linecap="butt"/>
<text x="1088.00" y="682.90" font-size="19.5" text-anchor="end" fill="#3a3a3a" stroke="#3a3a3a" stroke-width="0.4">-6</text>
<line x1="1140.42" y1="684.00" x2="1140.42" y2="687.50" stroke="#3a3a3a" stroke-width="1.8" stroke-linecap="butt"/>
<line x1="1226.28" y1="684.00" x2="1226.28" y2="687.50" stroke="#3a3a3a" stroke-width="1.8" stroke-linecap="butt"/>
<line x1="1312.12" y1="684.00" x2="1312.12" y2="687.50" stroke="#3a3a3a" stroke-width="1.8" stroke-linecap="butt"/>
<line x1="1397.97" y1="684.00" x2="1397.97" y2="687.50" stroke="#3a3a3a" stroke-width="1.8" stroke-linecap="butt"/>
<line x1="1097.50" y1="684.00" x2="1097.50" y2="690.00" stroke="#3a3a3a" stroke-width="1.8" stroke-linecap="butt"/>
<text x="1097.50" y="708.60" font-size="19.5" text-anchor="middle" fill="#3a3a3a" stroke="#3a3a3a" stroke-width="0.4">0.2</text>
<line x1="1183.35" y1="684.00" x2="1183.35" y2="690.00" stroke="#3a3a3a" stroke-width="1.8" stroke-linecap="butt"/>
<text x="1183.35" y="708.60" font-size="19.5" text-anchor="middle" fill="#3a3a3a" stroke="#3a3a3a" stroke-width="0.4">0.4</text>
<line x1="1269.20" y1="684.00" x2="1269.20" y2="690.00" stroke="#3a3a3a" stroke-width="1.8" stroke-linecap="butt"/>
<text x="1269.20" y="708.60" font-size="19.5" text-anchor="middle" fill="#3a3a3a" stroke="#3a3a3a" stroke-width="0.4">0.6</text>
<line x1="1355.05" y1="684.00" x2="1355.05" y2="690.00" stroke="#3a3a3a" stroke-width="1.8" stroke-linecap="butt"/>
<text x="1355.05" y="708.60" font-size="19.5" text-anchor="middle" fill="#3a3a3a" stroke="#3a3a3a" stroke-width="0.4">0.8</text>
<line x1="1440.90" y1="684.00" x2="1440.90" y2="690.00" stroke="#3a3a3a" stroke-width="1.8" stroke-linecap="butt"/>
<text x="1440.90" y="708.60" font-size="19.5" text-anchor="middle" fill="#3a3a3a" stroke="#3a3a3a" stroke-width="0.4">1.0</text>
<text x="1276.40" y="730.70" font-size="24" text-anchor="middle" fill="#3a3a3a" stroke="#3a3a3a" stroke-width="0.4"><tspan font-style="italic">E</tspan> / V (<tspan font-style="italic">vs.</tspan> RHE)</text>
<text x="1060.50" y="538.70" font-size="24" text-anchor="middle" fill="#3a3a3a" stroke="#3a3a3a" stroke-width="0.4" transform="rotate(-90 1060.50 538.70)"><tspan font-style="italic">j</tspan> / mA cm<tspan dy="-9" font-size="14">-2</tspan></text>
<line x1="1116.30" y1="417.30" x2="1149.60" y2="417.30" stroke="#3a37c4" stroke-width="2.6" stroke-linecap="butt"/>
<text x="1152.80" y="422.80" font-size="17.3" text-anchor="start" fill="#3a37c4" stroke="#3a37c4" stroke-width="0.4">Initial</text>
<line x1="1116.30" y1="439.10" x2="1149.60" y2="439.10" stroke="#fd9a2e" stroke-width="2.6" stroke-linecap="butt"/>
<text x="1152.80" y="444.60" font-size="17.3" text-anchor="start" fill="#fd9a2e" stroke="#fd9a2e" stroke-width="0.4">After 1000 cycles</text>
<text x="1226.00" y="574.00" font-size="18.5" text-anchor="start" fill="#3a3a3a" stroke="#3a3a3a" stroke-width="0.4"><tspan stroke="none" fill="#555">&#916;</tspan><tspan font-style="italic">E</tspan><tspan dy="6.5" font-size="12.5" letter-spacing="-0.9">1/2</tspan><tspan dy="-6.5"> = 2 mV</tspan></text>
<text x="1446.00" y="672.00" font-size="18.8" text-anchor="end" fill="#3a3a3a" stroke="#3a3a3a" stroke-width="0.4">PdFe PNHs</text>
<text x="40.00" y="774.40" font-size="29.2" text-anchor="start" fill="#222" stroke="#222" stroke-width="0.4">(g)</text>
<polyline points="101.40,1027.48 102.82,1025.72 103.11,1026.40 103.44,1026.75 103.79,1027.17 104.17,1025.82 104.57,1026.65 105.00,1026.77 105.44,1026.23 105.90,1026.45 106.36,1028.10 106.84,1026.43 107.32,1027.76 107.81,1026.49 108.30,1025.77 108.79,1026.60 109.29,1025.88 109.78,1026.08 110.28,1024.52 110.78,1026.29 111.28,1025.61 111.78,1026.77 112.27,1026.04 112.77,1025.67 113.27,1025.19 113.77,1025.92 114.27,1025.64 114.77,1025.35 115.26,1027.20 115.76,1025.80 116.25,1026.54 116.75,1026.97 117.24,1026.26 117.73,1026.47 118.21,1026.44 118.70,1026.82 119.18,1026.64 119.66,1026.68 120.13,1026.52 120.61,1026.20 121.08,1026.35 121.56,1026.32 122.03,1027.01 122.50,1027.90 122.98,1026.44 123.46,1026.77 123.94,1026.59 124.42,1027.31 124.90,1028.12 125.39,1027.23 125.88,1027.71 126.37,1025.92 126.86,1027.45 127.36,1027.90 127.85,1027.14 128.35,1026.43 128.85,1027.87 129.35,1027.46 129.84,1028.77 130.34,1027.10 130.84,1027.37 131.34,1027.19 131.84,1027.49 132.34,1026.13 132.84,1028.31 133.34,1027.78 133.84,1027.15 134.34,1027.02 134.83,1027.60 135.33,1027.45 135.83,1026.88 136.33,1027.02 136.83,1027.33 137.33,1026.77 137.83,1026.79 138.32,1026.69 138.82,1026.70 139.32,1026.01 139.82,1026.21 140.32,1027.08 140.82,1027.33 141.31,1026.71 141.81,1024.23 142.31,1025.63 142.81,1026.89 143.31,1027.73 143.80,1027.35 144.30,1026.33 144.80,1026.18 145.30,1026.07 145.79,1027.51 146.29,1026.42 146.79,1025.56 147.28,1026.80 147.78,1026.65 148.27,1024.62 148.77,1025.51 149.27,1026.58 149.76,1026.44 150.26,1024.89 150.75,1025.67 151.24,1026.21 151.74,1025.76 152.23,1024.73 152.73,1025.25 153.22,1025.76 153.72,1025.56 154.21,1024.48 154.70,1026.69 155.20,1025.14 155.69,1023.88 156.18,1024.61 156.68,1022.86 157.17,1024.20 157.67,1024.57 158.16,1026.19 158.65,1024.58 159.15,1024.63 159.64,1024.82 160.14,1024.37 160.63,1023.74 161.13,1025.02 161.62,1024.37 162.12,1025.01 162.61,1024.59 163.11,1023.17 163.60,1023.44 164.10,1023.42 164.60,1023.37 165.09,1023.89 165.59,1023.40 166.09,1022.92 166.58,1024.43 167.08,1024.31 167.58,1023.35 168.08,1022.55 168.57,1022.80 169.07,1022.67 169.57,1022.53 170.07,1022.43 170.57,1023.22 171.06,1023.22 171.56,1023.27 172.06,1022.30 172.56,1023.11 173.06,1024.23 173.56,1022.99 174.06,1022.52 174.55,1024.63 175.05,1022.94 175.55,1022.26 176.05,1023.26 176.55,1022.13 177.05,1022.34 177.55,1023.24 178.05,1022.10 178.55,1021.47 179.04,1022.94 179.54,1023.00 180.04,1021.45 180.54,1022.12 181.04,1023.08 181.54,1022.47 182.04,1022.85 182.54,1022.16 183.04,1021.78 183.54,1021.80 184.03,1021.95 184.53,1022.25 185.03,1020.25 185.53,1020.76 186.03,1022.05 186.53,1022.48 187.03,1021.54 187.53,1021.97 188.03,1021.20 188.53,1020.96 189.03,1021.99 189.53,1021.80 190.02,1021.47 190.52,1020.90 191.02,1021.81 191.52,1021.69 192.02,1021.53 192.52,1021.59 193.02,1021.39 193.52,1021.96 194.02,1021.85 194.52,1022.76 195.02,1022.47 195.51,1021.45 196.01,1020.61 196.51,1021.84 197.01,1020.97 197.51,1022.38 198.01,1020.30 198.51,1020.98 199.01,1022.29 199.51,1021.21 200.01,1021.67 200.50,1021.59 201.00,1020.78 201.50,1021.65 202.00,1020.45 202.50,1020.79 203.00,1022.42 203.50,1020.82 204.00,1021.16 204.50,1020.15 204.99,1021.76 205.49,1020.19 205.99,1020.28 206.49,1020.34 206.99,1020.08 207.49,1019.72 207.99,1020.46 208.49,1020.30 208.99,1020.53 209.49,1019.90 209.99,1019.93 210.49,1020.30 210.98,1020.49 211.48,1019.83 211.98,1020.41 212.48,1020.26 212.98,1021.11 213.48,1020.80 213.98,1020.69 214.48,1021.01 214.98,1019.88 215.48,1021.21 215.98,1020.39 216.48,1019.92 216.98,1020.51 217.48,1019.49 217.98,1021.41 218.48,1020.37 218.98,1019.17 219.48,1019.41 219.98,1019.82 220.48,1019.77 220.98,1020.45 221.48,1020.74 221.98,1020.82 222.48,1020.50 222.98,1019.49 223.48,1020.88 223.98,1020.95 224.48,1018.80 224.98,1019.73 225.48,1019.87 225.98,1019.58 226.48,1020.81 226.98,1020.42 227.48,1020.15 227.98,1019.28 228.48,1018.71 228.98,1019.47 229.48,1019.54 229.98,1019.49 230.48,1018.66 230.98,1019.06 231.48,1019.81 231.98,1020.32 232.48,1019.74 232.98,1019.94 233.48,1020.04 233.98,1020.05 234.48,1020.91 234.98,1019.55 235.48,1020.23 235.98,1019.19 236.48,1020.89 236.98,1020.59 237.48,1020.77 237.98,1020.17 238.48,1020.01 238.98,1019.22 239.48,1020.31 239.98,1021.02 240.48,1018.21 240.98,1021.29 241.48,1019.54 241.98,1020.42 242.48,1019.54 242.98,1019.99 243.48,1020.65 243.98,1019.97 244.48,1021.33 244.98,1020.12 245.48,1020.54 245.98,1019.68 246.48,1019.76 246.98,1019.83 247.48,1020.44 247.98,1021.23 248.48,1020.12 248.98,1019.22 249.48,1019.68 249.98,1019.16 250.48,1020.43 250.98,1020.12 251.48,1019.37 251.98,1019.85 252.48,1020.74 252.98,1020.41 253.48,1019.71 253.98,1020.61 254.48,1020.37 254.98,1019.73 255.48,1020.23 255.98,1021.38 256.48,1019.35 256.98,1020.80 257.48,1020.00 257.98,1020.53 258.48,1020.37 258.98,1020.29 259.48,1019.99 259.98,1020.10 260.48,1020.56 260.98,1020.41 261.48,1019.10 261.98,1020.41 262.48,1020.99 262.98,1020.71 263.48,1020.24 263.98,1018.85 264.48,1020.50 264.98,1020.55 265.48,1021.10 265.98,1019.45 266.48,1019.94 266.98,1019.74 267.48,1019.92 267.98,1018.92 268.48,1019.78 268.98,1019.80 269.48,1019.84 269.98,1021.18 270.48,1019.66 270.98,1019.78 271.48,1020.85 271.98,1019.70 272.48,1020.90 272.98,1020.38 273.48,1019.64 273.98,1019.58 274.48,1020.15 274.98,1019.91 275.48,1020.10 275.98,1019.63 276.48,1020.42 276.98,1019.54 277.48,1019.67 277.98,1019.85 278.48,1019.10 278.98,1019.72 279.47,1019.78 279.97,1018.91 280.47,1018.66 280.97,1020.71 281.47,1019.66 281.97,1019.72 282.47,1019.36 282.97,1020.85 283.47,1019.60 283.97,1018.50 284.47,1020.03 284.97,1019.00 285.47,1019.93 285.97,1019.52 286.47,1020.45 286.96,1019.87 287.46,1019.26 287.96,1020.46 288.46,1021.32 288.96,1019.05 289.46,1020.13 289.96,1019.61 290.46,1019.63 290.96,1018.43 291.45,1018.58 291.95,1020.18 292.45,1019.28 292.95,1018.77 293.45,1020.33 293.95,1019.90 294.44,1019.52 294.94,1018.30 295.44,1018.93 295.94,1019.91 296.44,1017.45 296.94,1017.72 297.43,1018.22 297.93,1019.39 298.43,1018.84 298.93,1018.96 299.43,1018.73 299.92,1018.62 300.42,1019.33 300.92,1020.94 301.42,1018.73 301.92,1019.26 302.41,1018.01 302.91,1019.37 303.41,1018.28 303.90,1018.28 304.40,1017.78 304.90,1017.52 305.39,1017.61 305.89,1017.25 306.39,1016.97 306.88,1019.08 307.38,1018.04 307.87,1018.35 308.37,1017.94 308.86,1016.53 309.35,1017.46 309.85,1016.74 310.34,1016.72 310.83,1017.11 311.33,1017.22 311.82,1017.08 312.31,1017.01 312.80,1016.63 313.29,1016.76 313.78,1017.51 314.27,1018.06 314.76,1017.22 315.25,1016.18 315.74,1016.50 316.23,1016.79 316.71,1016.71 317.20,1016.75 317.69,1016.65 318.17,1015.95 318.66,1015.35 319.14,1014.35 319.63,1016.04 320.11,1015.60 320.59,1014.44 321.07,1014.92 321.55,1014.49 322.03,1014.32 322.51,1015.70 322.99,1014.08 323.46,1015.87 323.94,1013.93 324.41,1013.36 324.88,1013.79 325.35,1015.21 325.82,1013.25 326.29,1013.54 326.75,1011.42 327.22,1013.23 327.68,1011.67 328.14,1012.36 328.60,1013.19 329.06,1011.86 329.51,1012.34 329.97,1011.47 330.42,1011.18 330.87,1011.39 331.31,1011.73 331.76,1010.81 332.20,1010.50 332.64,1009.66 333.07,1008.98 333.50,1009.86 333.93,1009.42 334.35,1009.41 334.77,1009.56 335.19,1009.15 335.60,1008.00 336.01,1008.28 336.42,1008.00 336.82,1007.46 337.22,1006.31 337.61,1006.63 338.00,1006.61 338.38,1006.62 338.77,1005.90 339.15,1005.22 339.52,1005.80 339.90,1005.02 340.27,1004.57 340.64,1004.51 341.01,1004.20 341.37,1003.66 341.73,1003.21 342.10,1002.88 342.45,1002.79 342.81,1002.27 343.17,1002.02 343.52,1001.34 343.88,1001.18 344.23,1000.85 344.58,1000.49 344.93,1000.04 345.28,999.80 345.63,999.52 345.98,999.11 346.32,998.74 346.67,998.38 347.01,998.02 347.35,997.65 347.70,997.29 348.04,996.92 348.38,996.55 348.71,996.19 349.05,995.81 349.38,995.44 349.71,995.07 350.04,994.69 350.37,994.31 350.69,993.93 351.01,993.55 351.33,993.17 351.65,992.78 351.96,992.39 352.27,992.00 352.58,991.61 352.88,991.21 353.18,990.81 353.48,990.41 353.77,990.01 354.07,989.60 354.35,989.19 354.64,988.78 354.92,988.37 355.19,987.95 355.47,987.53 355.74,987.11 356.00,986.69 356.26,986.27 356.52,985.84 356.78,985.41 357.03,984.98 357.27,984.54 357.51,984.11 357.75,983.67 357.99,983.23 358.22,982.78 358.44,982.34 358.66,981.89 358.88,981.44 359.09,980.99 359.30,980.53 359.51,980.08 359.71,979.62 359.91,979.17 360.11,978.71 360.30,978.24 360.49,977.78 360.68,977.32 360.86,976.86 361.05,976.39 361.23,975.93 361.41,975.46 361.58,974.99 361.76,974.52 361.93,974.05 362.11,973.59 362.28,973.12 362.45,972.65 362.61,972.17 362.78,971.70 362.95,971.23 363.11,970.76 363.27,970.29 363.44,969.81 363.60,969.34 363.76,968.87 363.92,968.39 364.08,967.92 364.23,967.44 364.39,966.97 364.55,966.49 364.70,966.02 364.86,965.54 365.01,965.07 365.16,964.59 365.32,964.12 365.47,963.64 365.62,963.16 365.77,962.69 365.92,962.21 366.07,961.73 366.22,961.26 366.37,960.78 366.52,960.30 366.67,959.82 366.81,959.35 366.96,958.87 367.11,958.39 367.25,957.91 367.39,957.43 367.53,956.95 367.68,956.47 367.82,955.99 367.95,955.51 368.09,955.03 368.23,954.55 368.36,954.07 368.50,953.59 368.63,953.11 368.76,952.62 368.89,952.14 369.02,951.66 369.15,951.18 369.28,950.69 369.41,950.21 369.53,949.72 369.66,949.24 369.79,948.76 369.91,948.27 370.03,947.79 370.16,947.30 370.28,946.82 370.40,946.33 370.52,945.85 370.64,945.36 370.76,944.88 370.88,944.39 371.00,943.91 371.12,943.42 371.24,942.94 371.36,942.45 371.47,941.96 371.59,941.48 371.71,940.99 371.83,940.51 371.94,940.02 372.06,939.53 372.17,939.05 372.29,938.56 372.41,938.07 372.52,937.59 372.64,937.10 372.75,936.61 372.87,936.13 372.98,935.64 373.09,935.15 373.21,934.67 373.32,934.18 373.44,933.69 373.55,933.21 373.67,932.72 373.78,932.23 373.89,931.75 374.01,931.26 374.12,930.77 374.24,930.29 374.35,929.80 374.46,929.31 374.58,928.83 374.69,928.34 374.80,927.85 374.92,927.36 375.03,926.88 375.14,926.39 375.26,925.90 375.37,925.42 375.48,924.93 375.59,924.44 375.71,923.95 375.82,923.47 375.93,922.98 376.04,922.49 376.15,922.00 376.26,921.52 376.37,921.03 376.48,920.54 376.58,920.05 376.69,919.56 376.80,919.08 376.91,918.59 377.02,918.10 377.12,917.61 377.23,917.12 377.34,916.63 377.44,916.15 377.55,915.66 377.66,915.17 377.76,914.68 377.87,914.19 377.97,913.70 378.08,913.21 378.19,912.73 378.29,912.24 378.40,911.75 378.50,911.26 378.61,910.77 378.71,910.28 378.82,909.79 378.92,909.30 379.03,908.82 379.14,908.33 379.24,907.84 379.35,907.35 379.45,906.86 379.56,906.37 379.67,905.88 379.77,905.39 379.88,904.91 379.98,904.42 380.09,903.93 380.20,903.44 380.31,902.95 380.41,902.46 380.52,901.98 380.63,901.49 380.74,901.00 380.85,900.51 380.96,900.02 381.07,899.54 381.18,899.05 381.29,898.56 381.40,898.07 381.51,897.59 381.62,897.10 381.73,896.61 381.85,896.12 381.96,895.64 382.07,895.15 382.18,894.66 382.30,894.18 382.41,893.69 382.52,893.20 382.64,892.72 382.75,892.23 382.87,891.74 382.98,891.25 383.10,890.77 383.21,890.28 383.33,889.80 383.44,889.31 383.56,888.82 383.67,888.34 383.79,887.85 383.91,887.36 384.02,886.88 384.14,886.39 384.25,885.90 384.37,885.42 384.49,884.93 384.60,884.45 384.72,883.96 384.84,883.47 384.95,882.99 385.07,882.50 385.19,882.01 385.30,881.53 385.42,881.04 385.54,880.56 385.65,880.07 385.77,879.58 385.89,879.10 386.00,878.61 386.12,878.12 386.24,877.64 386.35,877.15 386.47,876.67 386.58,876.18 386.70,875.69 386.82,875.21 386.93,874.72 387.05,874.23 387.16,873.75 387.28,873.26 387.39,872.77 387.51,872.29 387.62,871.80 387.73,871.31 387.85,870.83 387.96,870.34 388.08,869.85 388.19,869.37 388.30,868.88 388.41,868.39 388.53,867.90 388.64,867.42 388.75,866.93 388.86,866.44 388.97,865.96 389.09,865.47 389.20,864.98 389.31,864.49 389.42,864.01 389.53,863.52 389.64,863.03 389.75,862.54 389.86,862.06 389.97,861.57 390.08,861.08 390.20,860.59 390.31,860.10 390.42,859.62 390.53,859.13 390.64,858.64 390.75,858.15 390.86,857.67 390.97,857.18 391.08,856.69 391.20,856.20 391.31,855.72 391.42,855.23 391.53,854.74 391.64,854.26 391.76,853.77 391.87,853.28 391.98,852.79 392.10,852.31 392.21,851.82 392.32,851.33 392.44,850.85 392.55,850.36 392.67,849.87 392.78,849.39 392.90,848.90 393.02,848.41 393.13,847.93 393.25,847.44 393.36,846.96 393.48,846.47 393.60,845.98 393.72,845.50 393.83,845.01 393.95,844.53 394.07,844.04 394.19,843.55 394.30,843.07 394.42,842.58 394.54,842.10 394.66,841.61 394.78,841.12 394.90,840.64 395.02,840.15 395.14,839.67 395.26,839.18 395.38,838.70 395.50,838.21 395.62,837.73 395.74,837.24 395.86,836.76 395.98,836.27 396.11,835.79 396.23,835.30 396.35,834.82 396.48,834.33 396.60,833.85 396.73,833.37 396.85,832.88 396.98,832.40 397.10,831.91 397.23,831.43 397.36,830.95 397.49,830.46 397.62,829.98 397.75,829.50 397.88,829.02 398.01,828.53 398.14,828.05 398.27,827.57 398.41,827.09 398.54,826.61 398.67,826.12 398.81,825.64 398.95,825.16 399.08,824.68 399.22,824.20 399.36,823.72 399.50,823.24 399.63,822.76 399.77,822.28 399.91,821.80 400.05,821.32 400.20,820.84 400.34,820.36 400.48,819.88 400.62,819.40 400.76,818.92 400.91,818.44 401.05,817.96 401.19,817.48 401.34,817.00 401.48,816.53 401.63,816.05 401.77,815.57 401.92,815.09 402.06,814.61 402.21,814.14 402.36,813.66 402.51,813.18 402.66,812.70 402.81,812.23 402.96,811.75 403.11,811.27 403.27,810.80 403.42,810.32 403.58,809.85 403.74,809.38 403.90,808.90 404.06,808.43 404.23,807.96 404.39,807.49 404.56,807.01 404.73,806.54 404.90,806.07 405.07,805.61 405.25,805.14 405.42,804.67 405.60,804.20 405.78,803.74 405.96,803.27 406.15,802.81 406.33,802.34 406.52,801.88 406.71,801.42 406.90,800.95 407.10,800.49 407.29,800.03 407.49,799.58 407.70,799.12 407.90,798.66 408.11,798.21 408.32,797.76 408.54,797.31 408.76,796.86 408.98,796.41 409.21,795.97 409.44,795.53 409.68,795.09 409.92,794.65 410.16,794.22 410.41,793.78 410.67,793.36 410.93,792.93 411.19,792.51 411.46,792.09 411.73,791.67 412.01,791.25 412.29,790.84 412.58,790.44 412.87,790.03 413.17,789.63 413.47,789.23 413.78,788.84 414.09,788.45 414.40,788.06 414.72,787.67 415.04,787.29 415.37,786.92 415.70,786.54 416.04,786.18 416.37,785.81 416.72,785.45 417.07,785.09 417.42,784.74 417.77,784.39 418.13,784.04 418.50,783.70 418.86,783.36 419.23,783.03 419.61,782.70 419.99,782.37 420.37,782.05 420.76,781.74 421.15,781.43 421.54,781.12 421.94,780.82 422.34,780.52 422.74,780.23 423.15,779.94 423.56,779.66 423.98,779.38 424.39,779.11 424.81,778.84 425.23,778.57 425.66,778.31 426.09,778.05 426.52,777.80 426.95,777.55 427.38,777.30 427.82,777.06 428.26,776.82 428.70,776.59 429.14,776.36 429.59,776.14 430.04,775.92 430.49,775.71 430.94,775.50 431.40,775.30 431.86,775.10 432.32,774.90 432.78,774.72 433.24,774.53 433.71,774.36 434.18,774.18 434.65,774.01 435.12,773.85 435.59,773.69 436.06,773.53 436.54,773.38 437.02,773.23 437.49,773.08 437.97,772.94 438.45,772.81 438.94,772.67 439.42,772.54 439.90,772.42 440.39,772.30 440.87,772.18 441.36,772.06 441.84,771.95 442.33,771.85 442.82,771.74 443.31,771.64 443.80,771.55 444.29,771.46 444.78,771.37 445.28,771.28 445.77,771.19 446.26,771.11 446.75,771.03 447.25,770.96 447.74,770.88 448.23,770.81 448.73,770.74 449.22,770.67 449.70,770.61 450.19,770.55 450.67,770.49 451.14,770.43 451.60,770.38 452.04,770.33 452.48,770.29 452.89,770.25 453.28,770.21 453.64,770.17 453.98,770.14 454.29,770.12 454.56,770.09 455.80,770.00" fill="none" stroke="#3a37c4" stroke-width="2.2" stroke-linejoin="round" stroke-linecap="round"/>
<polyline points="101.40,1022.84 102.85,1022.20 103.15,1022.95 103.48,1023.36 103.84,1021.94 104.22,1023.12 104.63,1023.00 105.06,1023.21 105.51,1021.34 105.97,1023.22 106.44,1021.96 106.92,1022.47 107.41,1022.32 107.90,1021.94 108.39,1022.00 108.89,1022.05 109.38,1022.56 109.88,1022.86 110.38,1022.21 110.88,1022.83 111.38,1022.42 111.88,1022.99 112.38,1021.47 112.88,1022.32 113.38,1022.18 113.87,1022.25 114.37,1022.35 114.87,1022.59 115.37,1022.16 115.87,1022.36 116.37,1021.84 116.87,1021.90 117.37,1021.58 117.87,1022.57 118.37,1022.36 118.86,1022.63 119.36,1021.55 119.86,1021.69 120.36,1023.25 120.86,1022.38 121.36,1020.84 121.86,1022.12 122.36,1021.86 122.86,1021.42 123.36,1021.42 123.86,1021.05 124.35,1021.22 124.85,1021.04 125.35,1020.77 125.85,1021.21 126.35,1020.88 126.85,1021.81 127.35,1021.97 127.85,1021.23 128.35,1021.09 128.85,1021.64 129.35,1021.16 129.84,1022.41 130.34,1019.59 130.84,1019.74 131.34,1020.45 131.84,1021.36 132.34,1021.51 132.84,1020.73 133.34,1020.99 133.84,1020.77 134.34,1021.20 134.83,1022.09 135.33,1019.48 135.83,1022.14 136.33,1021.41 136.83,1020.56 137.33,1021.01 137.83,1020.66 138.33,1020.93 138.82,1020.90 139.32,1021.04 139.82,1019.94 140.32,1020.87 140.82,1020.08 141.32,1020.26 141.82,1020.88 142.32,1020.11 142.82,1020.52 143.31,1020.50 143.81,1020.33 144.31,1019.51 144.81,1020.50 145.31,1020.28 145.81,1021.48 146.31,1019.49 146.81,1020.71 147.31,1019.79 147.80,1019.84 148.30,1021.01 148.80,1019.88 149.30,1020.41 149.80,1019.98 150.30,1019.33 150.80,1019.71 151.30,1019.55 151.80,1019.65 152.30,1020.88 152.80,1020.01 153.30,1018.67 153.79,1020.81 154.29,1019.88 154.79,1020.17 155.29,1020.55 155.79,1019.10 156.29,1019.77 156.79,1019.46 157.29,1019.32 157.79,1019.33 158.29,1019.55 158.79,1020.17 159.29,1019.92 159.79,1019.61 160.29,1020.15 160.79,1018.02 161.29,1019.42 161.79,1019.60 162.29,1019.57 162.79,1020.22 163.29,1019.46 163.79,1020.17 164.29,1019.24 164.79,1019.75 165.29,1019.40 165.79,1019.18 166.29,1019.64 166.79,1019.67 167.29,1018.78 167.79,1019.89 168.29,1019.16 168.79,1019.38 169.29,1017.71 169.79,1019.31 170.29,1018.18 170.79,1019.85 171.29,1018.86 171.79,1019.07 172.29,1019.23 172.79,1018.55 173.29,1019.37 173.79,1018.62 174.29,1019.24 174.79,1019.88 175.29,1020.14 175.79,1020.24 176.29,1019.25 176.79,1018.82 177.29,1019.70 177.79,1020.35 178.29,1018.90 178.79,1020.25 179.29,1019.36 179.79,1017.86 180.29,1019.50 180.79,1020.60 181.29,1019.91 181.79,1020.13 182.29,1019.74 182.79,1018.50 183.29,1018.11 183.79,1018.90 184.29,1019.32 184.79,1018.95 185.29,1019.08 185.78,1020.05 186.28,1020.47 186.78,1018.59 187.28,1018.98 187.78,1019.57 188.28,1019.52 188.78,1018.24 189.28,1021.44 189.78,1020.11 190.28,1019.91 190.78,1018.55 191.28,1019.90 191.78,1019.03 192.28,1020.05 192.78,1019.94 193.28,1019.80 193.78,1020.05 194.28,1019.45 194.78,1019.92 195.28,1018.38 195.78,1020.28 196.28,1019.74 196.78,1021.39 197.28,1019.94 197.78,1018.47 198.28,1020.82 198.78,1019.47 199.28,1019.24 199.78,1019.91 200.28,1020.72 200.78,1021.13 201.28,1019.74 201.78,1020.12 202.28,1020.13 202.78,1019.61 203.28,1019.71 203.78,1019.94 204.28,1020.00 204.78,1020.69 205.28,1018.89 205.78,1020.36 206.28,1020.30 206.78,1020.92 207.28,1019.86 207.78,1019.88 208.28,1020.18 208.78,1019.78 209.28,1019.78 209.78,1019.74 210.28,1019.75 210.78,1019.54 211.28,1019.80 211.78,1019.71 212.28,1019.75 212.78,1019.39 213.28,1020.78 213.78,1020.40 214.28,1020.20 214.78,1019.58 215.28,1020.63 215.78,1020.11 216.28,1020.20 216.78,1020.33 217.28,1020.22 217.78,1020.89 218.28,1019.83 218.78,1019.92 219.28,1020.42 219.78,1020.22 220.28,1020.68 220.78,1020.91 221.28,1021.20 221.78,1020.95 222.28,1020.22 222.78,1020.30 223.28,1020.18 223.78,1021.11 224.28,1020.29 224.78,1019.92 225.28,1019.82 225.77,1020.91 226.27,1019.94 226.77,1018.88 227.27,1020.91 227.77,1020.69 228.27,1020.96 228.77,1021.10 229.27,1020.82 229.77,1020.76 230.27,1020.56 230.77,1020.06 231.27,1019.27 231.77,1019.37 232.27,1020.78 232.77,1021.04 233.27,1020.58 233.77,1020.11 234.27,1020.96 234.77,1020.56 235.27,1020.59 235.77,1020.37 236.27,1019.89 236.77,1019.99 237.27,1020.82 237.77,1021.57 238.27,1021.65 238.77,1020.49 239.27,1020.87 239.77,1020.55 240.27,1020.69 240.77,1020.85 241.27,1021.15 241.77,1019.92 242.27,1021.67 242.77,1020.53 243.27,1020.02 243.77,1021.99 244.27,1020.07 244.77,1020.58 245.27,1020.16 245.77,1021.31 246.27,1019.00 246.77,1020.80 247.27,1019.65 247.77,1021.53 248.27,1021.86 248.77,1021.12 249.27,1020.13 249.77,1021.30 250.27,1021.91 250.77,1020.75 251.27,1020.37 251.77,1021.47 252.27,1019.79 252.77,1020.42 253.27,1020.56 253.77,1020.66 254.27,1021.25 254.77,1020.49 255.27,1019.92 255.77,1019.74 256.27,1020.49 256.77,1020.86 257.27,1021.15 257.77,1020.95 258.27,1019.74 258.77,1020.91 259.27,1020.17 259.77,1021.35 260.27,1020.38 260.77,1020.39 261.27,1020.23 261.77,1021.15 262.27,1020.49 262.77,1022.21 263.27,1021.25 263.77,1019.85 264.27,1020.53 264.77,1021.17 265.27,1021.02 265.77,1020.91 266.27,1020.69 266.77,1019.61 267.27,1019.63 267.77,1021.02 268.27,1020.15 268.77,1020.54 269.27,1020.90 269.77,1019.38 270.27,1019.38 270.77,1020.83 271.27,1020.15 271.77,1020.28 272.27,1021.17 272.77,1020.31 273.27,1020.43 273.77,1020.63 274.27,1019.40 274.77,1021.47 275.27,1020.65 275.77,1020.06 276.27,1021.05 276.77,1019.79 277.27,1019.92 277.77,1019.57 278.27,1020.14 278.77,1019.81 279.27,1020.38 279.77,1019.80 280.27,1020.32 280.76,1020.40 281.26,1020.34 281.76,1020.29 282.26,1020.08 282.76,1019.50 283.26,1018.76 283.76,1020.13 284.25,1019.03 284.75,1020.04 285.25,1019.76 285.75,1019.72 286.25,1019.70 286.74,1020.00 287.24,1019.02 287.74,1019.75 288.24,1020.16 288.74,1019.93 289.23,1020.07 289.73,1019.19 290.23,1019.26 290.72,1020.38 291.22,1019.50 291.72,1019.30 292.22,1019.69 292.71,1018.51 293.21,1018.90 293.71,1019.19 294.20,1018.83 294.70,1019.71 295.20,1019.01 295.69,1019.22 296.19,1018.14 296.69,1018.57 297.18,1018.50 297.68,1018.76 298.17,1018.68 298.67,1018.33 299.17,1018.62 299.66,1019.46 300.16,1018.16 300.66,1017.69 301.15,1018.74 301.65,1018.85 302.14,1018.01 302.64,1018.41 303.13,1016.55 303.63,1017.99 304.13,1017.53 304.62,1018.89 305.12,1017.65 305.61,1018.54 306.11,1017.26 306.60,1017.14 307.10,1016.91 307.59,1016.46 308.09,1016.74 308.58,1017.67 309.07,1016.01 309.57,1016.90 310.06,1017.43 310.55,1016.83 311.04,1016.90 311.54,1016.71 312.03,1016.72 312.52,1015.17 313.01,1017.11 313.50,1016.32 313.98,1015.67 314.47,1015.72 314.96,1015.70 315.44,1016.07 315.92,1014.83 316.40,1014.66 316.88,1014.49 317.36,1015.67 317.84,1014.44 318.31,1014.90 318.77,1013.98 319.24,1014.45 319.70,1014.01 320.15,1013.67 320.60,1014.58 321.05,1013.75 321.49,1012.89 321.92,1014.66 322.35,1012.42 322.77,1012.02 323.19,1011.45 323.60,1013.14 324.01,1012.02 324.41,1011.80 324.81,1011.96 325.20,1011.08 325.59,1011.13 325.98,1011.39 326.37,1010.22 326.76,1010.24 327.14,1009.57 327.53,1009.21 327.91,1009.66 328.30,1008.83 328.68,1008.33 329.07,1006.72 329.45,1007.00 329.84,1006.81 330.23,1006.89 330.62,1006.81 331.01,1006.37 331.40,1005.87 331.79,1005.85 332.18,1005.54 332.57,1005.52 332.96,1003.77 333.36,1004.93 333.75,1005.08 334.14,1004.34 334.53,1003.27 334.92,1002.74 335.31,1002.81 335.69,1003.09 336.08,1002.32 336.46,1001.09 336.85,1000.30 337.23,1001.31 337.60,1001.74 337.98,1000.04 338.35,1000.04 338.72,999.91 339.09,999.65 339.46,999.46 339.82,998.46 340.18,998.56 340.53,998.02 340.89,998.01 341.24,997.55 341.58,997.32 341.92,996.52 342.26,996.19 342.60,995.90 342.93,995.57 343.26,995.17 343.58,994.73 343.90,994.43 344.22,993.96 344.53,993.79 344.84,993.30 345.15,992.87 345.45,992.54 345.75,992.09 346.05,991.74 346.34,991.33 346.63,990.92 346.91,990.51 347.20,990.10 347.48,989.69 347.75,989.27 348.03,988.85 348.30,988.43 348.57,988.01 348.84,987.59 349.10,987.17 349.36,986.74 349.62,986.31 349.88,985.88 350.13,985.45 350.38,985.02 350.63,984.59 350.88,984.15 351.12,983.72 351.37,983.28 351.61,982.84 351.85,982.40 352.08,981.96 352.32,981.52 352.55,981.08 352.78,980.64 353.01,980.19 353.23,979.75 353.46,979.30 353.68,978.85 353.90,978.40 354.12,977.95 354.33,977.50 354.54,977.05 354.75,976.60 354.96,976.14 355.17,975.69 355.37,975.23 355.57,974.77 355.77,974.31 355.96,973.85 356.16,973.39 356.35,972.93 356.54,972.47 356.72,972.00 356.91,971.54 357.09,971.07 357.27,970.61 357.45,970.14 357.63,969.67 357.80,969.21 357.98,968.74 358.15,968.27 358.32,967.80 358.49,967.33 358.66,966.86 358.83,966.39 358.99,965.91 359.16,965.44 359.32,964.97 359.48,964.50 359.64,964.02 359.80,963.55 359.96,963.08 360.12,962.60 360.28,962.13 360.43,961.65 360.59,961.18 360.74,960.70 360.89,960.22 361.05,959.75 361.20,959.27 361.35,958.79 361.50,958.32 361.65,957.84 361.79,957.36 361.94,956.89 362.09,956.41 362.23,955.93 362.38,955.45 362.52,954.97 362.67,954.49 362.81,954.01 362.95,953.54 363.10,953.06 363.24,952.58 363.38,952.10 363.51,951.62 363.65,951.13 363.79,950.65 363.92,950.17 364.06,949.69 364.19,949.21 364.32,948.73 364.45,948.24 364.58,947.76 364.71,947.28 364.83,946.79 364.96,946.31 365.08,945.83 365.21,945.34 365.33,944.86 365.45,944.37 365.57,943.88 365.68,943.40 365.80,942.91 365.92,942.43 366.03,941.94 366.15,941.45 366.26,940.97 366.38,940.48 366.49,939.99 366.60,939.51 366.71,939.02 366.82,938.53 366.93,938.04 367.04,937.56 367.15,937.07 367.26,936.58 367.37,936.09 367.48,935.60 367.59,935.12 367.70,934.63 367.81,934.14 367.92,933.65 368.02,933.16 368.13,932.68 368.24,932.19 368.35,931.70 368.46,931.21 368.56,930.72 368.67,930.23 368.78,929.75 368.89,929.26 369.00,928.77 369.11,928.28 369.21,927.79 369.32,927.31 369.43,926.82 369.54,926.33 369.65,925.84 369.76,925.35 369.87,924.87 369.98,924.38 370.09,923.89 370.20,923.40 370.31,922.92 370.42,922.43 370.53,921.94 370.64,921.45 370.75,920.96 370.86,920.48 370.97,919.99 371.08,919.50 371.19,919.01 371.30,918.53 371.41,918.04 371.52,917.55 371.63,917.06 371.74,916.57 371.85,916.09 371.96,915.60 372.07,915.11 372.18,914.62 372.29,914.13 372.40,913.65 372.50,913.16 372.61,912.67 372.72,912.18 372.83,911.69 372.94,911.21 373.05,910.72 373.16,910.23 373.26,909.74 373.37,909.25 373.48,908.77 373.59,908.28 373.70,907.79 373.81,907.30 373.91,906.81 374.02,906.33 374.13,905.84 374.24,905.35 374.35,904.86 374.46,904.37 374.57,903.89 374.67,903.40 374.78,902.91 374.89,902.42 375.00,901.93 375.11,901.45 375.22,900.96 375.33,900.47 375.44,899.98 375.55,899.49 375.66,899.01 375.77,898.52 375.88,898.03 375.99,897.54 376.10,897.06 376.21,896.57 376.32,896.08 376.43,895.59 376.54,895.10 376.65,894.62 376.76,894.13 376.87,893.64 376.98,893.15 377.10,892.67 377.21,892.18 377.32,891.69 377.43,891.20 377.54,890.72 377.65,890.23 377.76,889.74 377.87,889.25 377.98,888.77 378.10,888.28 378.21,887.79 378.32,887.30 378.43,886.82 378.54,886.33 378.65,885.84 378.76,885.35 378.87,884.87 378.99,884.38 379.10,883.89 379.21,883.40 379.32,882.92 379.43,882.43 379.54,881.94 379.66,881.46 379.77,880.97 379.88,880.48 379.99,879.99 380.11,879.51 380.22,879.02 380.33,878.53 380.45,878.05 380.56,877.56 380.67,877.07 380.79,876.59 380.90,876.10 381.02,875.61 381.13,875.13 381.25,874.64 381.36,874.15 381.48,873.67 381.59,873.18 381.71,872.69 381.83,872.21 381.95,871.72 382.06,871.24 382.18,870.75 382.30,870.26 382.42,869.78 382.54,869.29 382.66,868.81 382.78,868.32 382.90,867.84 383.02,867.35 383.14,866.87 383.26,866.38 383.38,865.90 383.51,865.41 383.63,864.93 383.75,864.44 383.88,863.96 384.00,863.47 384.13,862.99 384.25,862.51 384.37,862.02 384.50,861.54 384.63,861.05 384.75,860.57 384.88,860.09 385.00,859.60 385.13,859.12 385.26,858.63 385.39,858.15 385.51,857.67 385.64,857.18 385.77,856.70 385.90,856.22 386.03,855.73 386.16,855.25 386.29,854.77 386.42,854.29 386.55,853.80 386.68,853.32 386.81,852.84 386.94,852.36 387.07,851.87 387.21,851.39 387.34,850.91 387.47,850.43 387.60,849.95 387.74,849.46 387.87,848.98 388.01,848.50 388.14,848.02 388.28,847.54 388.41,847.06 388.55,846.58 388.69,846.10 388.83,845.61 388.96,845.13 389.10,844.65 389.24,844.17 389.38,843.69 389.53,843.21 389.67,842.74 389.81,842.26 389.95,841.78 390.10,841.30 390.24,840.82 390.39,840.34 390.54,839.86 390.69,839.39 390.83,838.91 390.98,838.43 391.13,837.96 391.28,837.48 391.43,837.00 391.58,836.52 391.73,836.05 391.88,835.57 392.03,835.09 392.18,834.62 392.33,834.14 392.48,833.66 392.62,833.18 392.77,832.70 392.91,832.23 393.06,831.75 393.20,831.27 393.34,830.79 393.48,830.31 393.62,829.83 393.75,829.35 393.89,828.87 394.02,828.38 394.16,827.90 394.29,827.42 394.42,826.94 394.55,826.45 394.68,825.97 394.81,825.49 394.93,825.00 395.06,824.52 395.19,824.04 395.31,823.55 395.44,823.07 395.57,822.59 395.69,822.10 395.82,821.62 395.95,821.14 396.08,820.65 396.20,820.17 396.33,819.69 396.46,819.20 396.59,818.72 396.72,818.24 396.86,817.76 396.99,817.27 397.12,816.79 397.25,816.31 397.38,815.83 397.52,815.34 397.65,814.86 397.78,814.38 397.92,813.90 398.05,813.42 398.18,812.94 398.32,812.45 398.45,811.97 398.59,811.49 398.73,811.01 398.87,810.53 399.00,810.05 399.15,809.57 399.29,809.09 399.44,808.61 399.58,808.14 399.74,807.66 399.89,807.19 400.05,806.71 400.21,806.24 400.38,805.77 400.56,805.31 400.74,804.84 400.93,804.38 401.12,803.92 401.32,803.47 401.53,803.01 401.74,802.57 401.97,802.12 402.19,801.68 402.43,801.24 402.68,800.81 402.93,800.38 403.18,799.95 403.45,799.53 403.72,799.11 403.99,798.69 404.27,798.28 404.55,797.87 404.84,797.46 405.13,797.06 405.43,796.65 405.72,796.25 406.02,795.85 406.32,795.45 406.62,795.05 406.92,794.65 407.22,794.25 407.53,793.85 407.83,793.46 408.13,793.06 408.44,792.66 408.74,792.27 409.05,791.87 409.36,791.48 409.67,791.09 409.98,790.69 410.29,790.31 410.60,789.92 410.92,789.53 411.24,789.15 411.57,788.77 411.90,788.39 412.23,788.02 412.56,787.65 412.90,787.29 413.25,786.93 413.59,786.57 413.95,786.22 414.30,785.87 414.66,785.53 415.03,785.19 415.40,784.85 415.77,784.52 416.15,784.20 416.53,783.88 416.92,783.56 417.31,783.25 417.70,782.94 418.10,782.64 418.50,782.34 418.90,782.04 419.30,781.75 419.71,781.46 420.12,781.17 420.53,780.89 420.95,780.61 421.36,780.34 421.78,780.06 422.20,779.79 422.62,779.53 423.05,779.26 423.47,779.00 423.90,778.74 424.33,778.49 424.76,778.23 425.19,777.98 425.63,777.73 426.06,777.49 426.50,777.24 426.94,777.00 427.38,776.77 427.82,776.53 428.26,776.31 428.71,776.08 429.15,775.86 429.60,775.65 430.06,775.44 430.51,775.23 430.97,775.03 431.43,774.84 431.89,774.65 432.35,774.47 432.82,774.29 433.29,774.12 433.76,773.96 434.23,773.80 434.71,773.64 435.18,773.49 435.66,773.35 436.14,773.20 436.62,773.07 437.10,772.94 437.58,772.81 438.07,772.68 438.55,772.56 439.04,772.45 439.52,772.34 440.01,772.23 440.50,772.12 440.99,772.03 441.48,771.93 441.97,771.84 442.46,771.75 442.96,771.67 443.45,771.59 443.94,771.51 444.44,771.43 444.93,771.36 445.43,771.30 445.92,771.23 446.42,771.17 446.91,771.11 447.41,771.05 447.90,770.99 448.40,770.94 448.89,770.89 449.38,770.84 449.87,770.79 450.36,770.75 450.83,770.71 451.30,770.67 451.76,770.63 452.20,770.60 452.63,770.57 453.03,770.54 453.42,770.52 453.77,770.50 454.10,770.48 454.39,770.46 455.80,770.40" fill="none" stroke="#fd9a2e" stroke-width="2.2" stroke-linejoin="round" stroke-linecap="round"/>
<line x1="377.80" y1="852.50" x2="377.80" y2="934.60" stroke="#fd9a2e" stroke-width="2.3" stroke-linecap="butt" stroke-dasharray="2.5 3.7"/>
<line x1="381.80" y1="854.10" x2="381.80" y2="936.20" stroke="#3a37c4" stroke-width="2.3" stroke-linecap="butt" stroke-dasharray="2.5 3.7"/>
<line x1="341.30" y1="894.10" x2="370.70" y2="894.10" stroke="#fd9a2e" stroke-width="2.0" stroke-linecap="butt"/>
<polygon points="376.70,894.10 368.70,891.10 368.70,897.10" fill="#fd9a2e" stroke="#fd9a2e" stroke-width="0.8" stroke-linejoin="round"/>
<line x1="418.00" y1="894.10" x2="387.50" y2="894.10" stroke="#3a37c4" stroke-width="2.0" stroke-linecap="butt"/>
<polygon points="381.50,894.10 389.50,891.10 389.50,897.10" fill="#3a37c4" stroke="#3a37c4" stroke-width="0.8" stroke-linejoin="round"/>
<line x1="101.40" y1="759.80" x2="101.40" y2="1052.70" stroke="#3a3a3a" stroke-width="1.8" stroke-linecap="butt"/>
<line x1="100.50" y1="760.70" x2="457.70" y2="760.70" stroke="#3a3a3a" stroke-width="1.8" stroke-linecap="butt"/>
<line x1="456.80" y1="759.80" x2="456.80" y2="1052.70" stroke="#3a3a3a" stroke-width="1.8" stroke-linecap="butt"/>
<line x1="100.50" y1="1051.80" x2="457.70" y2="1051.80" stroke="#3a3a3a" stroke-width="1.8" stroke-linecap="butt"/>
<line x1="101.40" y1="792.50" x2="97.90" y2="792.50" stroke="#3a3a3a" stroke-width="1.8" stroke-linecap="butt"/>
<line x1="101.40" y1="838.10" x2="97.90" y2="838.10" stroke="#3a3a3a" stroke-width="1.8" stroke-linecap="butt"/>
<line x1="101.40" y1="883.70" x2="97.90" y2="883.70" stroke="#3a3a3a" stroke-width="1.8" stroke-linecap="butt"/>
<line x1="101.40" y1="929.30" x2="97.90" y2="929.30" stroke="#3a3a3a" stroke-width="1.8" stroke-linecap="butt"/>
<line x1="101.40" y1="974.90" x2="97.90" y2="974.90" stroke="#3a3a3a" stroke-width="1.8" stroke-linecap="butt"/>
<line x1="101.40" y1="1020.50" x2="97.90" y2="1020.50" stroke="#3a3a3a" stroke-width="1.8" stroke-linecap="butt"/>
<line x1="101.40" y1="769.70" x2="95.40" y2="769.70" stroke="#3a3a3a" stroke-width="1.8" stroke-linecap="butt"/>
<text x="91.50" y="776.30" font-size="19.5" text-anchor="end" fill="#3a3a3a" stroke="#3a3a3a" stroke-width="0.4">0</text>
<line x1="101.40" y1="815.30" x2="95.40" y2="815.30" stroke="#3a3a3a" stroke-width="1.8" stroke-linecap="butt"/>
<text x="91.50" y="821.90" font-size="19.5" text-anchor="end" fill="#3a3a3a" stroke="#3a3a3a" stroke-width="0.4">-1</text>
<line x1="101.40" y1="860.90" x2="95.40" y2="860.90" stroke="#3a3a3a" stroke-width="1.8" stroke-linecap="butt"/>
<text x="91.50" y="867.50" font-size="19.5" text-anchor="end" fill="#3a3a3a" stroke="#3a3a3a" stroke-width="0.4">-2</text>
<line x1="101.40" y1="906.50" x2="95.40" y2="906.50" stroke="#3a3a3a" stroke-width="1.8" stroke-linecap="butt"/>
<text x="91.50" y="913.10" font-size="19.5" text-anchor="end" fill="#3a3a3a" stroke="#3a3a3a" stroke-width="0.4">-3</text>
<line x1="101.40" y1="952.10" x2="95.40" y2="952.10" stroke="#3a3a3a" stroke-width="1.8" stroke-linecap="butt"/>
<text x="91.50" y="958.70" font-size="19.5" text-anchor="end" fill="#3a3a3a" stroke="#3a3a3a" stroke-width="0.4">-4</text>
<line x1="101.40" y1="997.70" x2="95.40" y2="997.70" stroke="#3a3a3a" stroke-width="1.8" stroke-linecap="butt"/>
<text x="91.50" y="1004.30" font-size="19.5" text-anchor="end" fill="#3a3a3a" stroke="#3a3a3a" stroke-width="0.4">-5</text>
<line x1="101.40" y1="1043.30" x2="95.40" y2="1043.30" stroke="#3a3a3a" stroke-width="1.8" stroke-linecap="butt"/>
<text x="91.50" y="1049.90" font-size="19.5" text-anchor="end" fill="#3a3a3a" stroke="#3a3a3a" stroke-width="0.4">-6</text>
<line x1="144.05" y1="1051.80" x2="144.05" y2="1055.30" stroke="#3a3a3a" stroke-width="1.8" stroke-linecap="butt"/>
<line x1="229.75" y1="1051.80" x2="229.75" y2="1055.30" stroke="#3a3a3a" stroke-width="1.8" stroke-linecap="butt"/>
<line x1="315.45" y1="1051.80" x2="315.45" y2="1055.30" stroke="#3a3a3a" stroke-width="1.8" stroke-linecap="butt"/>
<line x1="401.15" y1="1051.80" x2="401.15" y2="1055.30" stroke="#3a3a3a" stroke-width="1.8" stroke-linecap="butt"/>
<line x1="101.20" y1="1051.80" x2="101.20" y2="1057.80" stroke="#3a3a3a" stroke-width="1.8" stroke-linecap="butt"/>
<text x="101.20" y="1075.60" font-size="19.5" text-anchor="middle" fill="#3a3a3a" stroke="#3a3a3a" stroke-width="0.4">0.2</text>
<line x1="186.90" y1="1051.80" x2="186.90" y2="1057.80" stroke="#3a3a3a" stroke-width="1.8" stroke-linecap="butt"/>
<text x="186.90" y="1075.60" font-size="19.5" text-anchor="middle" fill="#3a3a3a" stroke="#3a3a3a" stroke-width="0.4">0.4</text>
<line x1="272.60" y1="1051.80" x2="272.60" y2="1057.80" stroke="#3a3a3a" stroke-width="1.8" stroke-linecap="butt"/>
<text x="272.60" y="1075.60" font-size="19.5" text-anchor="middle" fill="#3a3a3a" stroke="#3a3a3a" stroke-width="0.4">0.6</text>
<line x1="358.30" y1="1051.80" x2="358.30" y2="1057.80" stroke="#3a3a3a" stroke-width="1.8" stroke-linecap="butt"/>
<text x="358.30" y="1075.60" font-size="19.5" text-anchor="middle" fill="#3a3a3a" stroke="#3a3a3a" stroke-width="0.4">0.8</text>
<line x1="444.00" y1="1051.80" x2="444.00" y2="1057.80" stroke="#3a3a3a" stroke-width="1.8" stroke-linecap="butt"/>
<text x="444.00" y="1075.60" font-size="19.5" text-anchor="middle" fill="#3a3a3a" stroke="#3a3a3a" stroke-width="0.4">1.0</text>
<text x="284.30" y="1099.70" font-size="24" text-anchor="middle" fill="#3a3a3a" stroke="#3a3a3a" stroke-width="0.4"><tspan font-style="italic">E</tspan> / V (<tspan font-style="italic">vs.</tspan> RHE)</text>
<text x="65.00" y="905.50" font-size="24" text-anchor="middle" fill="#3a3a3a" stroke="#3a3a3a" stroke-width="0.4" transform="rotate(-90 65.00 905.50)"><tspan font-style="italic">j</tspan> / mA cm<tspan dy="-9" font-size="14">-2</tspan></text>
<line x1="119.00" y1="785.90" x2="152.50" y2="785.90" stroke="#3a37c4" stroke-width="2.6" stroke-linecap="butt"/>
<text x="156.00" y="791.40" font-size="17.3" text-anchor="start" fill="#3a37c4" stroke="#3a37c4" stroke-width="0.4">Initial</text>
<line x1="119.00" y1="808.10" x2="152.50" y2="808.10" stroke="#fd9a2e" stroke-width="2.6" stroke-linecap="butt"/>
<text x="156.00" y="813.60" font-size="17.3" text-anchor="start" fill="#fd9a2e" stroke="#fd9a2e" stroke-width="0.4">After 1000 cycles</text>
<text x="226.00" y="943.00" font-size="18.5" text-anchor="start" fill="#3a3a3a" stroke="#3a3a3a" stroke-width="0.4"><tspan stroke="none" fill="#555">&#916;</tspan><tspan font-style="italic">E</tspan><tspan dy="6.5" font-size="12.5" letter-spacing="-0.9">1/2</tspan><tspan dy="-6.5"> = 11 mV</tspan></text>
<text x="441.60" y="1040.00" font-size="18.8" text-anchor="end" fill="#3a3a3a" stroke="#3a3a3a" stroke-width="0.4">Pt/C</text>
<text x="524.00" y="776.90" font-size="29.2" text-anchor="start" fill="#222" stroke="#222" stroke-width="0.4">(h)</text>
<polyline points="590.60,1013.60 592.03,1014.34 592.33,1013.78 592.65,1014.08 593.01,1013.81 593.39,1014.43 593.80,1013.92 594.23,1013.91 594.67,1014.55 595.13,1014.38 595.60,1014.25 596.08,1013.96 596.56,1014.29 597.05,1014.44 597.54,1014.52 598.03,1014.03 598.52,1014.41 599.01,1013.54 599.51,1014.16 600.00,1013.76 600.49,1014.24 600.98,1013.77 601.47,1014.61 601.95,1013.78 602.44,1013.73 602.93,1012.74 603.41,1012.92 603.90,1013.63 604.38,1012.93 604.87,1013.43 605.35,1012.70 605.84,1013.04 606.33,1012.45 606.82,1012.77 607.30,1012.75 607.79,1012.74 608.29,1012.10 608.78,1011.83 609.27,1012.39 609.76,1012.20 610.26,1012.29 610.76,1011.59 611.25,1012.21 611.75,1011.84 612.25,1011.48 612.74,1011.65 613.24,1012.08 613.74,1011.78 614.24,1011.73 614.73,1011.67 615.23,1011.47 615.73,1011.98 616.23,1011.53 616.73,1010.99 617.23,1010.96 617.73,1011.22 618.22,1011.25 618.72,1011.59 619.22,1010.41 619.72,1011.53 620.22,1011.64 620.72,1011.04 621.22,1011.60 621.72,1010.91 622.22,1011.05 622.71,1010.91 623.21,1011.60 623.71,1011.41 624.21,1011.36 624.71,1010.56 625.21,1010.96 625.71,1010.51 626.21,1010.93 626.71,1011.04 627.21,1011.29 627.71,1010.74 628.21,1010.85 628.70,1010.69 629.20,1010.35 629.70,1011.27 630.20,1010.80 630.70,1011.15 631.20,1010.92 631.70,1010.16 632.20,1010.37 632.70,1010.80 633.20,1010.84 633.70,1010.76 634.20,1010.50 634.70,1010.78 635.20,1010.12 635.70,1010.36 636.20,1010.03 636.70,1010.76 637.20,1010.53 637.70,1010.63 638.20,1010.28 638.70,1009.47 639.20,1010.07 639.70,1010.38 640.20,1010.34 640.70,1010.63 641.20,1010.69 641.70,1010.09 642.20,1010.55 642.70,1009.66 643.20,1010.49 643.70,1009.51 644.20,1010.42 644.70,1009.44 645.20,1010.41 645.70,1010.78 646.20,1010.16 646.70,1010.47 647.20,1010.60 647.70,1009.27 648.20,1009.53 648.70,1010.21 649.20,1009.82 649.70,1010.06 650.20,1011.16 650.70,1010.86 651.20,1010.43 651.70,1009.97 652.20,1010.40 652.70,1010.33 653.20,1010.15 653.70,1010.80 654.20,1009.54 654.70,1010.77 655.20,1010.07 655.70,1010.68 656.20,1010.17 656.70,1010.02 657.20,1009.98 657.70,1010.31 658.20,1010.35 658.70,1011.30 659.20,1010.79 659.70,1010.22 660.20,1009.80 660.70,1010.27 661.20,1010.44 661.70,1009.64 662.20,1010.24 662.70,1010.70 663.20,1010.08 663.70,1009.68 664.20,1010.52 664.70,1010.83 665.20,1010.18 665.70,1010.32 666.20,1010.68 666.70,1010.46 667.20,1010.02 667.70,1010.15 668.20,1010.25 668.70,1010.28 669.20,1010.70 669.70,1009.92 670.20,1010.43 670.70,1010.24 671.20,1009.55 671.70,1010.56 672.20,1010.35 672.70,1009.84 673.20,1009.67 673.70,1010.65 674.20,1010.92 674.70,1010.35 675.20,1010.24 675.70,1010.58 676.20,1010.09 676.70,1010.15 677.20,1010.68 677.70,1009.93 678.20,1010.75 678.70,1010.45 679.20,1010.82 679.70,1009.69 680.20,1010.82 680.70,1010.33 681.20,1010.60 681.70,1010.08 682.19,1010.01 682.69,1010.79 683.19,1010.56 683.69,1010.59 684.19,1010.64 684.69,1010.62 685.19,1009.84 685.69,1010.30 686.19,1010.29 686.69,1011.14 687.19,1010.90 687.69,1010.11 688.19,1009.90 688.69,1010.69 689.19,1010.65 689.69,1010.94 690.19,1010.04 690.69,1011.06 691.19,1010.53 691.69,1010.93 692.19,1010.57 692.69,1010.33 693.19,1010.20 693.69,1010.98 694.19,1009.34 694.69,1010.89 695.19,1010.75 695.69,1010.26 696.19,1010.79 696.69,1010.47 697.19,1010.05 697.69,1010.42 698.19,1010.74 698.69,1010.55 699.19,1010.26 699.69,1010.79 700.19,1010.81 700.69,1010.99 701.19,1010.64 701.69,1011.10 702.19,1010.31 702.69,1010.42 703.19,1010.07 703.69,1010.56 704.19,1010.61 704.69,1010.59 705.19,1010.14 705.69,1010.97 706.19,1010.00 706.69,1010.28 707.19,1009.56 707.69,1011.01 708.19,1010.93 708.69,1010.58 709.19,1010.77 709.69,1010.22 710.19,1010.28 710.69,1010.33 711.19,1010.80 711.69,1010.55 712.19,1010.77 712.69,1010.33 713.19,1010.23 713.69,1010.88 714.19,1010.84 714.69,1010.91 715.19,1010.53 715.69,1010.87 716.19,1010.22 716.69,1010.39 717.19,1010.92 717.69,1010.47 718.19,1010.38 718.69,1010.49 719.19,1011.44 719.69,1010.70 720.19,1010.97 720.69,1010.82 721.19,1011.76 721.69,1010.86 722.19,1011.29 722.69,1011.27 723.19,1011.09 723.69,1010.96 724.19,1010.41 724.69,1011.18 725.19,1011.78 725.69,1011.20 726.19,1011.76 726.69,1011.29 727.19,1011.38 727.69,1010.89 728.19,1011.03 728.69,1011.26 729.19,1011.51 729.69,1010.74 730.19,1010.61 730.69,1011.10 731.19,1011.11 731.69,1011.34 732.19,1011.80 732.69,1010.99 733.19,1011.89 733.69,1011.43 734.19,1011.25 734.69,1010.65 735.19,1011.81 735.69,1011.93 736.19,1011.48 736.69,1011.50 737.19,1011.18 737.68,1010.65 738.18,1011.08 738.68,1010.86 739.18,1010.90 739.68,1011.11 740.18,1011.22 740.68,1011.63 741.18,1011.93 741.68,1011.40 742.18,1011.78 742.68,1011.38 743.18,1011.42 743.68,1011.67 744.18,1011.34 744.68,1011.67 745.18,1011.43 745.68,1011.31 746.18,1011.41 746.68,1012.22 747.18,1011.79 747.68,1011.56 748.18,1011.81 748.68,1011.50 749.17,1011.64 749.67,1011.71 750.17,1011.26 750.67,1011.84 751.17,1012.09 751.67,1012.07 752.17,1011.95 752.67,1012.42 753.16,1011.79 753.66,1012.52 754.16,1012.51 754.66,1012.28 755.16,1012.79 755.66,1012.01 756.15,1012.42 756.65,1012.33 757.15,1012.15 757.65,1012.36 758.14,1012.66 758.64,1012.71 759.14,1012.83 759.64,1012.42 760.14,1012.67 760.63,1012.71 761.13,1012.57 761.63,1012.85 762.13,1012.14 762.62,1012.54 763.12,1012.82 763.62,1012.91 764.12,1013.32 764.61,1012.94 765.11,1013.78 765.61,1012.72 766.11,1013.93 766.61,1013.00 767.10,1012.97 767.60,1013.16 768.10,1013.25 768.60,1013.41 769.09,1013.39 769.59,1013.76 770.09,1013.92 770.59,1013.31 771.09,1014.16 771.59,1013.86 772.08,1013.81 772.58,1014.14 773.08,1013.85 773.58,1014.43 774.08,1013.53 774.58,1014.42 775.08,1013.86 775.58,1014.32 776.07,1013.93 776.57,1014.71 777.07,1014.29 777.57,1014.44 778.07,1013.84 778.57,1013.72 779.07,1014.35 779.57,1014.83 780.07,1014.38 780.57,1013.83 781.07,1014.97 781.57,1014.22 782.06,1014.69 782.56,1014.17 783.06,1014.23 783.56,1014.61 784.06,1013.60 784.56,1014.20 785.06,1014.43 785.56,1014.46 786.06,1014.05 786.56,1015.03 787.06,1014.59 787.56,1014.63 788.06,1014.04 788.56,1014.69 789.06,1014.97 789.56,1015.06 790.06,1014.99 790.56,1014.77 791.05,1014.73 791.55,1014.89 792.05,1015.08 792.55,1014.78 793.05,1014.79 793.55,1015.02 794.05,1014.80 794.55,1014.99 795.05,1014.95 795.55,1014.59 796.05,1015.43 796.55,1015.14 797.05,1014.58 797.55,1014.56 798.05,1014.70 798.55,1014.64 799.04,1014.48 799.54,1014.87 800.04,1014.64 800.53,1014.38 801.03,1015.18 801.52,1014.47 802.02,1014.64 802.51,1013.99 803.00,1013.99 803.49,1013.93 803.98,1014.52 804.47,1014.35 804.96,1013.92 805.45,1013.79 805.94,1013.90 806.43,1013.37 806.91,1013.47 807.40,1013.77 807.88,1013.01 808.37,1013.43 808.85,1013.04 809.34,1013.02 809.82,1012.78 810.30,1012.99 810.79,1012.87 811.27,1012.62 811.75,1011.73 812.23,1012.20 812.70,1012.42 813.18,1011.51 813.66,1011.18 814.13,1011.47 814.60,1011.67 815.07,1010.77 815.53,1011.15 815.99,1010.75 816.45,1010.64 816.90,1010.59 817.35,1010.18 817.79,1009.83 818.23,1009.85 818.67,1010.09 819.10,1009.51 819.52,1009.29 819.93,1008.46 820.34,1008.33 820.75,1007.78 821.15,1008.22 821.54,1007.93 821.92,1007.44 822.30,1007.22 822.68,1006.55 823.05,1006.23 823.41,1006.32 823.77,1005.55 824.13,1005.56 824.48,1005.35 824.83,1004.33 825.18,1004.04 825.52,1004.24 825.86,1003.72 826.19,1003.46 826.53,1003.10 826.86,1002.35 827.19,1002.38 827.52,1001.89 827.84,1001.44 828.17,1000.94 828.49,1000.46 828.81,1000.02 829.13,999.56 829.45,999.26 829.77,998.89 830.09,998.62 830.41,998.14 830.72,997.65 831.04,997.45 831.35,996.88 831.66,996.63 831.97,996.31 832.28,995.78 832.59,995.41 832.89,995.08 833.20,994.74 833.50,994.28 833.80,993.88 834.10,993.49 834.39,993.06 834.69,992.67 834.98,992.27 835.26,991.87 835.55,991.46 835.83,991.04 836.11,990.63 836.39,990.22 836.67,989.80 836.94,989.38 837.21,988.96 837.48,988.54 837.74,988.12 838.01,987.69 838.27,987.26 838.52,986.84 838.78,986.41 839.03,985.97 839.28,985.54 839.53,985.11 839.77,984.67 840.01,984.23 840.25,983.80 840.49,983.36 840.73,982.91 840.96,982.47 841.19,982.03 841.41,981.58 841.64,981.13 841.86,980.69 842.07,980.24 842.29,979.79 842.50,979.33 842.71,978.88 842.91,978.42 843.11,977.97 843.31,977.51 843.50,977.05 843.70,976.59 843.88,976.12 844.07,975.66 844.25,975.19 844.43,974.73 844.61,974.26 844.79,973.79 844.96,973.32 845.13,972.85 845.30,972.38 845.46,971.91 845.63,971.44 845.79,970.97 845.95,970.49 846.11,970.02 846.27,969.55 846.43,969.07 846.59,968.60 846.74,968.12 846.89,967.65 847.05,967.17 847.20,966.69 847.35,966.22 847.50,965.74 847.65,965.26 847.80,964.79 847.95,964.31 848.09,963.83 848.24,963.35 848.38,962.87 848.53,962.40 848.67,961.92 848.82,961.44 848.96,960.96 849.11,960.48 849.25,960.00 849.39,959.52 849.54,959.04 849.68,958.56 849.82,958.08 849.96,957.60 850.10,957.13 850.25,956.65 850.39,956.17 850.53,955.69 850.67,955.21 850.81,954.73 850.95,954.25 851.09,953.77 851.24,953.29 851.38,952.81 851.52,952.33 851.66,951.85 851.80,951.37 851.94,950.89 852.08,950.41 852.22,949.93 852.36,949.45 852.50,948.97 852.64,948.49 852.78,948.01 852.92,947.53 853.06,947.05 853.19,946.57 853.33,946.09 853.47,945.61 853.60,945.12 853.74,944.64 853.87,944.16 854.01,943.68 854.14,943.20 854.27,942.72 854.41,942.24 854.54,941.75 854.67,941.27 854.80,940.79 854.94,940.31 855.07,939.82 855.20,939.34 855.33,938.86 855.46,938.38 855.59,937.89 855.71,937.41 855.84,936.93 855.97,936.44 856.10,935.96 856.23,935.48 856.35,934.99 856.48,934.51 856.61,934.02 856.73,933.54 856.86,933.06 856.98,932.57 857.11,932.09 857.23,931.60 857.35,931.12 857.48,930.63 857.60,930.15 857.73,929.67 857.85,929.18 857.97,928.70 858.09,928.21 858.21,927.73 858.34,927.24 858.46,926.76 858.58,926.27 858.70,925.79 858.82,925.30 858.94,924.82 859.06,924.33 859.18,923.84 859.30,923.36 859.42,922.87 859.54,922.39 859.66,921.90 859.77,921.42 859.89,920.93 860.01,920.44 860.12,919.96 860.24,919.47 860.36,918.99 860.47,918.50 860.59,918.01 860.70,917.53 860.81,917.04 860.93,916.55 861.04,916.06 861.15,915.58 861.26,915.09 861.37,914.60 861.48,914.11 861.59,913.63 861.70,913.14 861.81,912.65 861.92,912.16 862.03,911.67 862.13,911.19 862.24,910.70 862.35,910.21 862.46,909.72 862.56,909.23 862.67,908.74 862.78,908.25 862.88,907.77 862.99,907.28 863.09,906.79 863.20,906.30 863.30,905.81 863.41,905.32 863.51,904.83 863.62,904.35 863.73,903.86 863.83,903.37 863.94,902.88 864.04,902.39 864.15,901.90 864.25,901.41 864.36,900.92 864.46,900.43 864.57,899.95 864.67,899.46 864.78,898.97 864.89,898.48 864.99,897.99 865.10,897.50 865.21,897.02 865.31,896.53 865.42,896.04 865.53,895.55 865.64,895.06 865.75,894.57 865.86,894.09 865.96,893.60 866.07,893.11 866.18,892.62 866.29,892.13 866.40,891.65 866.52,891.16 866.63,890.67 866.74,890.18 866.85,889.70 866.96,889.21 867.07,888.72 867.19,888.24 867.30,887.75 867.41,887.26 867.52,886.77 867.64,886.29 867.75,885.80 867.86,885.31 867.98,884.83 868.09,884.34 868.21,883.85 868.32,883.37 868.43,882.88 868.55,882.39 868.66,881.91 868.78,881.42 868.89,880.93 869.01,880.45 869.12,879.96 869.24,879.47 869.35,878.99 869.47,878.50 869.58,878.01 869.70,877.53 869.81,877.04 869.93,876.55 870.05,876.07 870.16,875.58 870.28,875.09 870.39,874.61 870.51,874.12 870.63,873.64 870.74,873.15 870.86,872.66 870.98,872.18 871.09,871.69 871.21,871.20 871.33,870.72 871.44,870.23 871.56,869.75 871.68,869.26 871.80,868.77 871.91,868.29 872.03,867.80 872.15,867.32 872.27,866.83 872.38,866.34 872.50,865.86 872.62,865.37 872.74,864.89 872.86,864.40 872.98,863.92 873.10,863.43 873.22,862.94 873.34,862.46 873.46,861.97 873.58,861.49 873.70,861.00 873.82,860.52 873.94,860.03 874.06,859.55 874.18,859.06 874.30,858.58 874.43,858.09 874.55,857.61 874.67,857.12 874.79,856.64 874.92,856.15 875.04,855.67 875.16,855.18 875.28,854.70 875.41,854.22 875.53,853.73 875.65,853.25 875.77,852.76 875.90,852.28 876.02,851.79 876.14,851.31 876.26,850.82 876.38,850.34 876.50,849.85 876.62,849.36 876.74,848.88 876.86,848.39 876.97,847.91 877.09,847.42 877.21,846.94 877.33,846.45 877.44,845.96 877.56,845.48 877.67,844.99 877.78,844.50 877.89,844.01 878.01,843.53 878.12,843.04 878.23,842.55 878.34,842.06 878.44,841.58 878.55,841.09 878.66,840.60 878.77,840.11 878.87,839.62 878.98,839.13 879.08,838.65 879.19,838.16 879.30,837.67 879.40,837.18 879.51,836.69 879.61,836.20 879.72,835.71 879.83,835.22 879.93,834.74 880.04,834.25 880.15,833.76 880.26,833.27 880.37,832.79 880.48,832.30 880.59,831.81 880.71,831.32 880.82,830.84 880.94,830.35 881.06,829.86 881.17,829.38 881.29,828.89 881.41,828.41 881.53,827.92 881.65,827.44 881.78,826.95 881.90,826.47 882.03,825.98 882.15,825.50 882.28,825.02 882.40,824.53 882.53,824.05 882.66,823.57 882.79,823.08 882.92,822.60 883.05,822.12 883.18,821.64 883.31,821.15 883.45,820.67 883.58,820.19 883.72,819.71 883.85,819.23 883.99,818.75 884.12,818.27 884.26,817.78 884.40,817.30 884.54,816.82 884.68,816.34 884.82,815.86 884.96,815.38 885.10,814.90 885.24,814.42 885.39,813.95 885.53,813.47 885.67,812.99 885.82,812.51 885.96,812.03 886.11,811.55 886.25,811.07 886.40,810.60 886.55,810.12 886.70,809.64 886.85,809.16 887.00,808.69 887.15,808.21 887.30,807.73 887.45,807.26 887.61,806.78 887.76,806.31 887.92,805.83 888.08,805.36 888.24,804.88 888.40,804.41 888.56,803.94 888.73,803.47 888.89,803.00 889.06,802.53 889.23,802.06 889.40,801.59 889.58,801.12 889.75,800.65 889.93,800.18 890.11,799.72 890.30,799.25 890.48,798.79 890.67,798.32 890.85,797.86 891.05,797.40 891.24,796.94 891.43,796.48 891.63,796.02 891.83,795.56 892.03,795.10 892.23,794.64 892.43,794.19 892.64,793.73 892.85,793.28 893.07,792.83 893.28,792.38 893.50,791.93 893.72,791.48 893.95,791.04 894.18,790.59 894.41,790.15 894.65,789.71 894.89,789.27 895.13,788.84 895.38,788.41 895.64,787.98 895.89,787.55 896.15,787.12 896.42,786.70 896.69,786.28 896.96,785.86 897.24,785.45 897.52,785.03 897.80,784.62 898.09,784.22 898.38,783.81 898.68,783.41 898.98,783.01 899.29,782.62 899.60,782.22 899.91,781.84 900.23,781.45 900.55,781.07 900.88,780.69 901.21,780.32 901.54,779.95 901.88,779.59 902.23,779.23 902.58,778.87 902.93,778.52 903.29,778.17 903.65,777.83 904.01,777.49 904.38,777.15 904.75,776.82 905.13,776.49 905.51,776.17 905.90,775.85 906.29,775.54 906.68,775.24 907.07,774.93 907.48,774.64 907.88,774.35 908.29,774.07 908.70,773.79 909.12,773.52 909.54,773.26 909.97,773.00 910.40,772.75 910.84,772.51 911.28,772.28 911.72,772.05 912.17,771.83 912.62,771.62 913.07,771.41 913.52,771.21 913.98,771.01 914.44,770.82 914.91,770.64 915.37,770.46 915.84,770.28 916.31,770.11 916.78,769.95 917.25,769.79 917.73,769.64 918.21,769.50 918.68,769.35 919.16,769.22 919.65,769.09 920.13,768.96 920.61,768.84 921.10,768.73 921.59,768.62 922.07,768.51 922.56,768.41 923.05,768.32 923.54,768.23 924.04,768.14 924.53,768.05 925.02,767.97 925.51,767.89 926.01,767.82 926.50,767.75 927.00,767.68 927.49,767.61 927.99,767.55 928.48,767.49 928.98,767.43 929.48,767.37 929.97,767.31 930.47,767.26 930.97,767.21 931.47,767.16 931.96,767.11 932.46,767.06 932.96,767.01 933.46,766.97 933.95,766.93 934.45,766.88 934.95,766.84 935.45,766.80 935.95,766.76 936.45,766.72 936.94,766.68 937.44,766.65 937.94,766.61 938.43,766.58 938.93,766.54 939.42,766.51 939.90,766.48 940.39,766.45 940.86,766.42 941.32,766.40 941.77,766.37 942.20,766.35 942.61,766.33 943.00,766.31 943.37,766.29 943.70,766.28 944.01,766.26 944.28,766.25 945.50,766.20" fill="none" stroke="#3a37c4" stroke-width="2.2" stroke-linejoin="round" stroke-linecap="round"/>
<polyline points="590.60,1012.43 592.03,1012.97 592.33,1013.14 592.66,1013.17 593.01,1012.95 593.40,1013.37 593.80,1013.22 594.23,1013.18 594.67,1012.93 595.13,1013.69 595.59,1013.38 596.07,1013.58 596.55,1013.49 597.04,1013.67 597.53,1013.52 598.02,1014.46 598.52,1014.29 599.01,1014.00 599.51,1013.94 600.01,1014.10 600.50,1013.69 601.00,1014.16 601.50,1013.99 602.00,1013.92 602.50,1013.87 602.99,1013.90 603.49,1014.26 603.99,1014.14 604.49,1013.91 604.99,1014.27 605.49,1014.20 605.99,1014.13 606.49,1014.59 606.99,1014.08 607.49,1013.75 607.99,1014.19 608.49,1013.84 608.99,1014.37 609.49,1014.28 609.99,1014.01 610.49,1014.23 610.99,1013.95 611.49,1013.92 611.99,1013.51 612.49,1013.40 612.99,1013.88 613.49,1014.50 613.99,1013.61 614.49,1013.91 614.99,1013.72 615.49,1014.04 615.98,1013.62 616.48,1013.81 616.98,1013.93 617.48,1013.64 617.98,1013.72 618.48,1013.67 618.98,1013.86 619.48,1013.86 619.98,1013.86 620.48,1013.74 620.98,1013.29 621.48,1013.43 621.97,1013.67 622.47,1013.50 622.97,1013.71 623.47,1013.05 623.97,1013.13 624.47,1013.11 624.97,1013.41 625.47,1013.10 625.97,1012.99 626.46,1013.32 626.96,1013.06 627.46,1012.83 627.96,1013.23 628.46,1013.04 628.96,1013.18 629.46,1013.17 629.96,1012.79 630.45,1012.85 630.95,1012.86 631.45,1013.06 631.95,1012.81 632.45,1013.09 632.95,1012.59 633.45,1012.72 633.95,1013.06 634.44,1012.24 634.94,1012.25 635.44,1012.78 635.94,1012.76 636.44,1012.79 636.94,1012.72 637.44,1012.74 637.94,1012.26 638.44,1012.38 638.93,1012.50 639.43,1011.96 639.93,1011.91 640.43,1012.08 640.93,1012.50 641.43,1012.41 641.93,1011.79 642.43,1011.97 642.93,1011.94 643.43,1012.09 643.93,1012.10 644.42,1012.02 644.92,1011.73 645.42,1012.28 645.92,1012.24 646.42,1011.62 646.92,1011.85 647.42,1012.18 647.92,1011.96 648.42,1011.97 648.92,1011.69 649.42,1012.20 649.92,1011.46 650.42,1012.02 650.92,1012.24 651.42,1011.50 651.92,1012.08 652.42,1011.92 652.92,1011.48 653.42,1011.69 653.92,1012.04 654.42,1011.49 654.92,1011.47 655.42,1010.76 655.91,1011.09 656.41,1011.44 656.91,1011.49 657.41,1011.68 657.91,1011.75 658.41,1012.04 658.91,1011.66 659.41,1012.28 659.91,1011.65 660.41,1011.80 660.91,1011.17 661.41,1011.51 661.91,1011.64 662.41,1011.63 662.91,1011.21 663.41,1011.31 663.91,1010.95 664.41,1011.39 664.91,1010.97 665.41,1011.54 665.91,1011.32 666.41,1011.43 666.91,1011.38 667.41,1011.33 667.91,1011.42 668.41,1011.19 668.91,1010.69 669.41,1011.50 669.91,1010.91 670.41,1011.37 670.91,1011.25 671.41,1011.19 671.91,1011.11 672.41,1011.13 672.91,1011.10 673.41,1011.03 673.91,1010.98 674.41,1011.08 674.91,1011.16 675.41,1010.85 675.91,1011.03 676.41,1010.56 676.91,1010.70 677.40,1010.42 677.90,1010.83 678.40,1011.00 678.90,1011.08 679.40,1010.48 679.90,1011.09 680.40,1010.55 680.90,1010.71 681.40,1010.67 681.90,1011.25 682.40,1010.84 682.90,1011.38 683.40,1011.05 683.90,1010.69 684.40,1010.86 684.90,1011.12 685.40,1010.48 685.90,1010.58 686.40,1010.70 686.90,1010.60 687.40,1010.61 687.90,1011.16 688.40,1010.71 688.90,1010.56 689.40,1010.53 689.90,1010.25 690.40,1010.85 690.90,1010.44 691.40,1011.62 691.90,1010.73 692.40,1010.42 692.90,1010.23 693.40,1010.44 693.90,1010.68 694.40,1010.39 694.90,1010.72 695.40,1010.73 695.90,1010.69 696.40,1010.67 696.90,1010.52 697.40,1010.32 697.90,1010.14 698.40,1010.03 698.90,1010.35 699.40,1010.66 699.90,1010.46 700.40,1010.16 700.90,1010.71 701.40,1010.16 701.90,1010.10 702.40,1010.15 702.90,1010.23 703.40,1010.39 703.90,1010.05 704.40,1009.94 704.90,1010.51 705.40,1010.45 705.90,1010.51 706.40,1010.58 706.90,1010.37 707.40,1010.85 707.90,1010.28 708.40,1010.32 708.90,1010.70 709.40,1010.43 709.90,1010.27 710.40,1010.30 710.90,1009.96 711.40,1010.48 711.90,1010.22 712.40,1010.40 712.90,1010.65 713.40,1010.48 713.90,1010.33 714.40,1010.36 714.90,1010.28 715.40,1010.71 715.90,1009.69 716.40,1010.10 716.90,1009.99 717.40,1010.33 717.90,1010.15 718.40,1010.23 718.90,1010.74 719.40,1010.26 719.90,1010.42 720.40,1010.06 720.90,1009.98 721.40,1009.88 721.90,1010.56 722.40,1009.84 722.90,1010.01 723.40,1010.79 723.90,1010.24 724.40,1010.14 724.90,1010.06 725.40,1009.80 725.90,1010.22 726.40,1010.40 726.90,1009.85 727.40,1009.96 727.90,1010.56 728.40,1009.99 728.90,1010.30 729.40,1010.73 729.90,1009.83 730.40,1010.05 730.90,1009.81 731.40,1009.43 731.90,1010.43 732.40,1010.23 732.90,1009.97 733.40,1010.18 733.90,1009.88 734.40,1009.64 734.90,1009.86 735.40,1009.82 735.90,1009.75 736.40,1010.33 736.90,1009.79 737.40,1009.71 737.90,1010.07 738.40,1010.15 738.90,1010.49 739.40,1010.09 739.90,1009.62 740.40,1009.76 740.90,1010.28 741.40,1009.82 741.90,1010.14 742.40,1010.54 742.90,1009.59 743.40,1009.58 743.90,1009.95 744.40,1010.00 744.90,1010.26 745.40,1009.56 745.90,1010.19 746.40,1009.95 746.90,1009.55 747.40,1009.97 747.90,1010.19 748.40,1010.57 748.90,1009.89 749.40,1010.28 749.90,1009.72 750.40,1010.42 750.90,1010.16 751.39,1010.60 751.89,1009.79 752.39,1009.86 752.89,1009.73 753.39,1010.75 753.89,1010.13 754.39,1009.77 754.89,1010.10 755.39,1010.58 755.89,1010.55 756.39,1010.52 756.89,1010.05 757.39,1010.41 757.89,1009.92 758.38,1010.09 758.88,1010.73 759.38,1010.85 759.88,1010.56 760.38,1010.13 760.88,1010.41 761.38,1010.61 761.88,1011.22 762.37,1010.61 762.87,1010.41 763.37,1010.52 763.87,1010.65 764.37,1010.77 764.87,1010.89 765.37,1011.57 765.87,1010.86 766.37,1010.45 766.86,1011.39 767.36,1010.90 767.86,1010.94 768.36,1011.02 768.86,1011.31 769.36,1011.28 769.86,1011.41 770.36,1011.20 770.86,1011.35 771.36,1011.04 771.86,1011.07 772.36,1011.22 772.86,1011.29 773.35,1010.95 773.85,1011.11 774.35,1011.84 774.85,1011.84 775.35,1011.99 775.85,1011.86 776.35,1011.80 776.85,1012.06 777.35,1011.76 777.85,1011.49 778.35,1011.51 778.85,1011.70 779.35,1011.74 779.85,1011.58 780.35,1011.53 780.85,1011.63 781.35,1011.42 781.85,1012.31 782.35,1011.81 782.85,1011.09 783.35,1011.93 783.85,1011.45 784.35,1011.63 784.85,1011.70 785.35,1011.96 785.85,1011.70 786.35,1011.80 786.85,1011.69 787.35,1012.40 787.85,1011.72 788.35,1011.48 788.85,1011.37 789.35,1011.75 789.85,1011.62 790.35,1011.81 790.85,1011.89 791.35,1011.43 791.85,1011.79 792.35,1011.56 792.85,1011.57 793.35,1011.50 793.85,1011.70 794.35,1011.56 794.85,1011.56 795.35,1011.65 795.85,1011.37 796.34,1012.11 796.84,1011.89 797.34,1011.56 797.83,1011.72 798.32,1011.32 798.82,1011.56 799.31,1011.02 799.80,1011.37 800.28,1011.33 800.77,1011.09 801.25,1011.30 801.73,1010.73 802.20,1010.87 802.68,1010.85 803.15,1010.68 803.62,1010.36 804.08,1010.68 804.55,1010.24 805.01,1010.01 805.46,1009.42 805.91,1009.44 806.36,1009.05 806.81,1009.58 807.25,1008.87 807.70,1008.31 808.13,1008.54 808.57,1008.36 809.00,1007.63 809.43,1007.59 809.85,1008.00 810.28,1007.03 810.70,1006.85 811.11,1007.38 811.53,1006.20 811.95,1005.58 812.36,1005.36 812.77,1005.39 813.18,1005.29 813.58,1004.52 813.99,1003.89 814.39,1004.35 814.79,1003.82 815.19,1003.44 815.59,1003.02 815.98,1003.30 816.37,1002.62 816.76,1001.97 817.15,1001.75 817.54,1001.59 817.92,1000.98 818.30,1000.92 818.68,1001.08 819.05,1000.66 819.42,1000.37 819.79,1000.03 820.16,999.45 820.52,999.17 820.88,998.25 821.24,998.57 821.60,998.19 821.95,997.73 822.30,997.37 822.65,996.70 823.00,996.49 823.34,995.88 823.68,995.76 824.02,995.45 824.35,995.00 824.69,994.99 825.02,994.22 825.35,994.07 825.67,993.67 826.00,993.22 826.32,992.96 826.64,992.54 826.95,992.03 827.26,991.90 827.57,991.29 827.88,991.00 828.19,990.39 828.49,990.01 828.79,989.75 829.08,989.58 829.38,988.78 829.67,988.39 829.96,988.03 830.24,987.65 830.52,987.29 830.80,986.95 831.08,986.44 831.35,986.07 831.62,985.61 831.89,985.16 832.15,984.74 832.41,984.36 832.67,983.92 832.93,983.54 833.19,983.06 833.44,982.62 833.69,982.16 833.94,981.74 834.18,981.33 834.43,980.89 834.67,980.46 834.91,980.01 835.14,979.57 835.38,979.13 835.61,978.69 835.84,978.24 836.07,977.80 836.30,977.35 836.53,976.91 836.75,976.46 836.98,976.01 837.20,975.57 837.42,975.12 837.63,974.67 837.85,974.22 838.06,973.76 838.27,973.31 838.48,972.86 838.69,972.40 838.90,971.95 839.10,971.49 839.30,971.03 839.50,970.58 839.70,970.12 839.90,969.66 840.09,969.20 840.28,968.73 840.47,968.27 840.65,967.81 840.84,967.34 841.02,966.88 841.20,966.41 841.38,965.94 841.55,965.48 841.73,965.01 841.90,964.54 842.07,964.07 842.24,963.60 842.41,963.13 842.58,962.66 842.74,962.18 842.91,961.71 843.07,961.24 843.23,960.77 843.39,960.29 843.55,959.82 843.71,959.34 843.87,958.87 844.02,958.40 844.18,957.92 844.33,957.44 844.49,956.97 844.64,956.49 844.79,956.02 844.94,955.54 845.09,955.06 845.24,954.59 845.39,954.11 845.54,953.63 845.69,953.15 845.83,952.68 845.98,952.20 846.13,951.72 846.27,951.24 846.42,950.76 846.56,950.28 846.71,949.81 846.85,949.33 846.99,948.85 847.14,948.37 847.28,947.89 847.42,947.41 847.56,946.93 847.70,946.45 847.84,945.97 847.98,945.49 848.12,945.01 848.26,944.53 848.40,944.05 848.54,943.57 848.68,943.09 848.82,942.61 848.95,942.13 849.09,941.65 849.22,941.17 849.36,940.68 849.49,940.20 849.63,939.72 849.76,939.24 849.89,938.76 850.02,938.27 850.15,937.79 850.28,937.31 850.41,936.83 850.54,936.34 850.67,935.86 850.80,935.38 850.92,934.89 851.05,934.41 851.17,933.92 851.30,933.44 851.42,932.95 851.54,932.47 851.67,931.99 851.79,931.50 851.91,931.02 852.03,930.53 852.15,930.04 852.27,929.56 852.39,929.07 852.51,928.59 852.62,928.10 852.74,927.62 852.86,927.13 852.97,926.64 853.09,926.16 853.20,925.67 853.32,925.18 853.43,924.70 853.55,924.21 853.66,923.72 853.77,923.24 853.88,922.75 854.00,922.26 854.11,921.77 854.22,921.29 854.33,920.80 854.44,920.31 854.55,919.82 854.65,919.33 854.76,918.85 854.87,918.36 854.97,917.87 855.08,917.38 855.18,916.89 855.29,916.40 855.39,915.91 855.49,915.42 855.59,914.93 855.69,914.44 855.79,913.95 855.89,913.46 855.99,912.97 856.08,912.48 856.18,911.99 856.28,911.50 856.37,911.01 856.46,910.52 856.56,910.03 856.65,909.54 856.74,909.04 856.83,908.55 856.92,908.06 857.01,907.57 857.10,907.08 857.19,906.59 857.28,906.09 857.37,905.60 857.46,905.11 857.55,904.62 857.64,904.13 857.73,903.63 857.81,903.14 857.90,902.65 857.99,902.16 858.08,901.67 858.17,901.17 858.26,900.68 858.35,900.19 858.44,899.70 858.53,899.21 858.62,898.71 858.72,898.22 858.81,897.73 858.90,897.24 859.00,896.75 859.09,896.26 859.19,895.77 859.28,895.28 859.38,894.79 859.48,894.30 859.58,893.81 859.68,893.32 859.78,892.83 859.88,892.34 859.98,891.85 860.09,891.36 860.19,890.87 860.30,890.38 860.41,889.89 860.51,889.41 860.62,888.92 860.73,888.43 860.84,887.94 860.96,887.46 861.07,886.97 861.18,886.48 861.30,885.99 861.41,885.51 861.53,885.02 861.64,884.54 861.76,884.05 861.88,883.56 862.00,883.08 862.12,882.59 862.24,882.11 862.36,881.62 862.48,881.14 862.60,880.65 862.72,880.17 862.84,879.68 862.96,879.20 863.09,878.71 863.21,878.23 863.33,877.74 863.46,877.26 863.58,876.77 863.71,876.29 863.83,875.81 863.96,875.32 864.08,874.84 864.21,874.35 864.33,873.87 864.46,873.38 864.58,872.90 864.71,872.42 864.83,871.93 864.96,871.45 865.08,870.96 865.21,870.48 865.33,870.00 865.45,869.51 865.58,869.03 865.70,868.54 865.82,868.06 865.95,867.57 866.07,867.09 866.19,866.60 866.31,866.12 866.44,865.63 866.56,865.15 866.68,864.66 866.80,864.18 866.92,863.69 867.04,863.21 867.16,862.72 867.28,862.24 867.40,861.75 867.52,861.27 867.64,860.78 867.77,860.30 867.89,859.81 868.01,859.33 868.13,858.84 868.25,858.36 868.37,857.87 868.49,857.38 868.61,856.90 868.73,856.41 868.85,855.93 868.97,855.44 869.09,854.96 869.21,854.47 869.33,853.99 869.45,853.50 869.57,853.02 869.69,852.53 869.81,852.05 869.93,851.56 870.06,851.08 870.18,850.59 870.30,850.11 870.42,849.62 870.54,849.14 870.66,848.65 870.78,848.17 870.90,847.68 871.03,847.20 871.15,846.71 871.27,846.23 871.39,845.74 871.52,845.26 871.64,844.77 871.76,844.29 871.88,843.80 872.01,843.32 872.13,842.83 872.25,842.35 872.38,841.86 872.50,841.38 872.62,840.90 872.75,840.41 872.87,839.93 872.99,839.44 873.12,838.96 873.24,838.47 873.37,837.99 873.49,837.50 873.61,837.02 873.74,836.54 873.86,836.05 873.98,835.57 874.11,835.08 874.23,834.60 874.35,834.11 874.48,833.63 874.60,833.14 874.72,832.66 874.84,832.17 874.97,831.69 875.09,831.20 875.21,830.72 875.33,830.23 875.45,829.75 875.57,829.26 875.69,828.78 875.81,828.29 875.92,827.81 876.04,827.32 876.16,826.83 876.27,826.35 876.39,825.86 876.50,825.37 876.62,824.89 876.73,824.40 876.84,823.91 876.95,823.43 877.07,822.94 877.18,822.45 877.29,821.96 877.40,821.48 877.51,820.99 877.62,820.50 877.73,820.01 877.84,819.52 877.95,819.04 878.06,818.55 878.17,818.06 878.28,817.57 878.39,817.09 878.49,816.60 878.60,816.11 878.71,815.62 878.82,815.13 878.93,814.65 879.04,814.16 879.15,813.67 879.26,813.18 879.38,812.70 879.49,812.21 879.60,811.72 879.71,811.23 879.82,810.75 879.94,810.26 880.05,809.77 880.17,809.29 880.28,808.80 880.40,808.31 880.52,807.83 880.64,807.34 880.76,806.86 880.88,806.37 881.00,805.89 881.12,805.40 881.25,804.92 881.38,804.44 881.50,803.95 881.63,803.47 881.77,802.99 881.90,802.51 882.04,802.03 882.18,801.55 882.32,801.07 882.47,800.59 882.62,800.11 882.77,799.64 882.92,799.16 883.08,798.69 883.25,798.22 883.41,797.75 883.58,797.28 883.76,796.81 883.94,796.34 884.12,795.88 884.31,795.41 884.50,794.95 884.69,794.49 884.89,794.03 885.09,793.58 885.30,793.12 885.51,792.67 885.72,792.22 885.94,791.77 886.16,791.32 886.38,790.87 886.61,790.43 886.84,789.99 887.08,789.55 887.31,789.11 887.55,788.67 887.80,788.23 888.04,787.80 888.29,787.37 888.55,786.94 888.80,786.51 889.06,786.08 889.32,785.65 889.58,785.23 889.85,784.80 890.12,784.38 890.39,783.96 890.66,783.54 890.94,783.13 891.22,782.72 891.50,782.30 891.79,781.90 892.08,781.49 892.38,781.09 892.68,780.69 892.98,780.29 893.29,779.90 893.60,779.52 893.92,779.14 894.25,778.76 894.58,778.39 894.92,778.02 895.26,777.66 895.61,777.30 895.96,776.95 896.32,776.61 896.69,776.27 897.06,775.94 897.43,775.61 897.81,775.29 898.20,774.97 898.59,774.66 898.98,774.36 899.38,774.06 899.78,773.76 900.19,773.48 900.60,773.20 901.01,772.92 901.43,772.66 901.86,772.40 902.29,772.14 902.72,771.90 903.15,771.66 903.60,771.43 904.04,771.21 904.49,770.99 904.94,770.78 905.40,770.58 905.85,770.38 906.32,770.20 906.78,770.01 907.25,769.84 907.71,769.67 908.18,769.51 908.66,769.35 909.13,769.19 909.61,769.05 910.09,768.91 910.57,768.77 911.05,768.64 911.53,768.52 912.02,768.40 912.50,768.28 912.99,768.17 913.48,768.07 913.97,767.97 914.46,767.88 914.95,767.79 915.44,767.70 915.93,767.62 916.43,767.55 916.92,767.47 917.42,767.40 917.91,767.33 918.41,767.27 918.90,767.21 919.40,767.14 919.89,767.09 920.39,767.03 920.89,766.98 921.38,766.92 921.88,766.87 922.38,766.82 922.88,766.78 923.38,766.73 923.87,766.69 924.37,766.65 924.87,766.61 925.37,766.57 925.87,766.53 926.37,766.50 926.86,766.46 927.36,766.43 927.86,766.40 928.36,766.37 928.86,766.34 929.36,766.31 929.86,766.29 930.36,766.26 930.86,766.24 931.36,766.21 931.86,766.19 932.36,766.17 932.85,766.14 933.35,766.12 933.85,766.10 934.35,766.08 934.85,766.06 935.35,766.04 935.85,766.02 936.35,766.00 936.85,765.99 937.35,765.97 937.85,765.95 938.35,765.94 938.84,765.92 939.33,765.91 939.82,765.90 940.30,765.88 940.78,765.87 941.24,765.86 941.69,765.85 942.13,765.84 942.55,765.84 942.94,765.83 943.31,765.82 943.65,765.82 943.96,765.82 944.23,765.81 945.50,765.80" fill="none" stroke="#fd9a2e" stroke-width="2.2" stroke-linejoin="round" stroke-linecap="round"/>
<line x1="860.90" y1="850.10" x2="860.90" y2="932.20" stroke="#fd9a2e" stroke-width="2.3" stroke-linecap="butt" stroke-dasharray="2.5 3.7"/>
<line x1="866.20" y1="851.70" x2="866.20" y2="933.80" stroke="#3a37c4" stroke-width="2.3" stroke-linecap="butt" stroke-dasharray="2.5 3.7"/>
<line x1="823.90" y1="891.20" x2="853.30" y2="891.20" stroke="#fd9a2e" stroke-width="2.0" stroke-linecap="butt"/>
<polygon points="859.30,891.20 851.30,888.20 851.30,894.20" fill="#fd9a2e" stroke="#fd9a2e" stroke-width="0.8" stroke-linejoin="round"/>
<line x1="901.30" y1="891.20" x2="872.50" y2="891.20" stroke="#3a37c4" stroke-width="2.0" stroke-linecap="butt"/>
<polygon points="866.50,891.20 874.50,888.20 874.50,894.20" fill="#3a37c4" stroke="#3a37c4" stroke-width="0.8" stroke-linejoin="round"/>
<line x1="589.90" y1="756.10" x2="589.90" y2="1049.20" stroke="#3a3a3a" stroke-width="1.8" stroke-linecap="butt"/>
<line x1="589.00" y1="757.00" x2="946.60" y2="757.00" stroke="#3a3a3a" stroke-width="1.8" stroke-linecap="butt"/>
<line x1="945.70" y1="756.10" x2="945.70" y2="1049.20" stroke="#3a3a3a" stroke-width="1.8" stroke-linecap="butt"/>
<line x1="589.00" y1="1048.30" x2="946.60" y2="1048.30" stroke="#3a3a3a" stroke-width="1.8" stroke-linecap="butt"/>
<line x1="589.90" y1="788.62" x2="586.40" y2="788.62" stroke="#3a3a3a" stroke-width="1.8" stroke-linecap="butt"/>
<line x1="589.90" y1="834.07" x2="586.40" y2="834.07" stroke="#3a3a3a" stroke-width="1.8" stroke-linecap="butt"/>
<line x1="589.90" y1="879.52" x2="586.40" y2="879.52" stroke="#3a3a3a" stroke-width="1.8" stroke-linecap="butt"/>
<line x1="589.90" y1="924.97" x2="586.40" y2="924.97" stroke="#3a3a3a" stroke-width="1.8" stroke-linecap="butt"/>
<line x1="589.90" y1="970.42" x2="586.40" y2="970.42" stroke="#3a3a3a" stroke-width="1.8" stroke-linecap="butt"/>
<line x1="589.90" y1="1015.87" x2="586.40" y2="1015.87" stroke="#3a3a3a" stroke-width="1.8" stroke-linecap="butt"/>
<line x1="589.90" y1="765.90" x2="583.90" y2="765.90" stroke="#3a3a3a" stroke-width="1.8" stroke-linecap="butt"/>
<text x="581.00" y="772.50" font-size="19.5" text-anchor="end" fill="#3a3a3a" stroke="#3a3a3a" stroke-width="0.4">0</text>
<line x1="589.90" y1="811.35" x2="583.90" y2="811.35" stroke="#3a3a3a" stroke-width="1.8" stroke-linecap="butt"/>
<text x="581.00" y="817.95" font-size="19.5" text-anchor="end" fill="#3a3a3a" stroke="#3a3a3a" stroke-width="0.4">-1</text>
<line x1="589.90" y1="856.80" x2="583.90" y2="856.80" stroke="#3a3a3a" stroke-width="1.8" stroke-linecap="butt"/>
<text x="581.00" y="863.40" font-size="19.5" text-anchor="end" fill="#3a3a3a" stroke="#3a3a3a" stroke-width="0.4">-2</text>
<line x1="589.90" y1="902.25" x2="583.90" y2="902.25" stroke="#3a3a3a" stroke-width="1.8" stroke-linecap="butt"/>
<text x="581.00" y="908.85" font-size="19.5" text-anchor="end" fill="#3a3a3a" stroke="#3a3a3a" stroke-width="0.4">-3</text>
<line x1="589.90" y1="947.70" x2="583.90" y2="947.70" stroke="#3a3a3a" stroke-width="1.8" stroke-linecap="butt"/>
<text x="581.00" y="954.30" font-size="19.5" text-anchor="end" fill="#3a3a3a" stroke="#3a3a3a" stroke-width="0.4">-4</text>
<line x1="589.90" y1="993.15" x2="583.90" y2="993.15" stroke="#3a3a3a" stroke-width="1.8" stroke-linecap="butt"/>
<text x="581.00" y="999.75" font-size="19.5" text-anchor="end" fill="#3a3a3a" stroke="#3a3a3a" stroke-width="0.4">-5</text>
<line x1="589.90" y1="1038.60" x2="583.90" y2="1038.60" stroke="#3a3a3a" stroke-width="1.8" stroke-linecap="butt"/>
<text x="581.00" y="1045.20" font-size="19.5" text-anchor="end" fill="#3a3a3a" stroke="#3a3a3a" stroke-width="0.4">-6</text>
<line x1="633.00" y1="1048.30" x2="633.00" y2="1051.80" stroke="#3a3a3a" stroke-width="1.8" stroke-linecap="butt"/>
<line x1="718.60" y1="1048.30" x2="718.60" y2="1051.80" stroke="#3a3a3a" stroke-width="1.8" stroke-linecap="butt"/>
<line x1="804.20" y1="1048.30" x2="804.20" y2="1051.80" stroke="#3a3a3a" stroke-width="1.8" stroke-linecap="butt"/>
<line x1="889.80" y1="1048.30" x2="889.80" y2="1051.80" stroke="#3a3a3a" stroke-width="1.8" stroke-linecap="butt"/>
<line x1="590.20" y1="1048.30" x2="590.20" y2="1054.30" stroke="#3a3a3a" stroke-width="1.8" stroke-linecap="butt"/>
<text x="590.20" y="1072.70" font-size="19.5" text-anchor="middle" fill="#3a3a3a" stroke="#3a3a3a" stroke-width="0.4">0.2</text>
<line x1="675.80" y1="1048.30" x2="675.80" y2="1054.30" stroke="#3a3a3a" stroke-width="1.8" stroke-linecap="butt"/>
<text x="675.80" y="1072.70" font-size="19.5" text-anchor="middle" fill="#3a3a3a" stroke="#3a3a3a" stroke-width="0.4">0.4</text>
<line x1="761.40" y1="1048.30" x2="761.40" y2="1054.30" stroke="#3a3a3a" stroke-width="1.8" stroke-linecap="butt"/>
<text x="761.40" y="1072.70" font-size="19.5" text-anchor="middle" fill="#3a3a3a" stroke="#3a3a3a" stroke-width="0.4">0.6</text>
<line x1="847.00" y1="1048.30" x2="847.00" y2="1054.30" stroke="#3a3a3a" stroke-width="1.8" stroke-linecap="butt"/>
<text x="847.00" y="1072.70" font-size="19.5" text-anchor="middle" fill="#3a3a3a" stroke="#3a3a3a" stroke-width="0.4">0.8</text>
<line x1="932.60" y1="1048.30" x2="932.60" y2="1054.30" stroke="#3a3a3a" stroke-width="1.8" stroke-linecap="butt"/>
<text x="932.60" y="1072.70" font-size="19.5" text-anchor="middle" fill="#3a3a3a" stroke="#3a3a3a" stroke-width="0.4">1.0</text>
<text x="768.50" y="1097.25" font-size="24" text-anchor="middle" fill="#3a3a3a" stroke="#3a3a3a" stroke-width="0.4"><tspan font-style="italic">E</tspan> / V (<tspan font-style="italic">vs.</tspan> RHE)</text>
<text x="552.40" y="901.80" font-size="24" text-anchor="middle" fill="#3a3a3a" stroke="#3a3a3a" stroke-width="0.4" transform="rotate(-90 552.40 901.80)"><tspan font-style="italic">j</tspan> / mA cm<tspan dy="-9" font-size="14">-2</tspan></text>
<line x1="606.50" y1="778.10" x2="640.00" y2="778.10" stroke="#3a37c4" stroke-width="2.6" stroke-linecap="butt"/>
<text x="643.50" y="783.60" font-size="17.3" text-anchor="start" fill="#3a37c4" stroke="#3a37c4" stroke-width="0.4">Initial</text>
<line x1="606.50" y1="801.10" x2="640.00" y2="801.10" stroke="#fd9a2e" stroke-width="2.6" stroke-linecap="butt"/>
<text x="643.50" y="806.60" font-size="17.3" text-anchor="start" fill="#fd9a2e" stroke="#fd9a2e" stroke-width="0.4">After 1000 cycles</text>
<text x="709.00" y="940.00" font-size="18.5" text-anchor="start" fill="#3a3a3a" stroke="#3a3a3a" stroke-width="0.4"><tspan stroke="none" fill="#555">&#916;</tspan><tspan font-style="italic">E</tspan><tspan dy="6.5" font-size="12.5" letter-spacing="-0.9">1/2</tspan><tspan dy="-6.5"> = 13 mV</tspan></text>
<text x="934.80" y="1035.00" font-size="18.8" text-anchor="end" fill="#3a3a3a" stroke="#3a3a3a" stroke-width="0.4">Pd black</text>
<text x="1025.00" y="770.00" font-size="29.2" text-anchor="start" fill="#222" stroke="#222" stroke-width="0.4">(i)</text>
<polyline points="1098.20,760.72 1098.82,762.80 1098.95,761.57 1099.09,760.45 1099.25,760.52 1099.43,760.57 1099.62,763.24 1099.82,762.94 1100.04,764.72 1100.28,763.79 1100.53,763.37 1100.79,763.91 1101.07,765.85 1101.36,767.28 1101.67,765.65 1102.00,765.85 1102.34,767.67 1102.70,768.78 1103.08,768.28 1103.47,766.45 1103.87,767.23 1104.29,767.67 1104.71,767.45 1105.15,766.91 1105.60,767.75 1106.05,768.19 1106.51,768.98 1106.98,769.18 1107.45,770.53 1107.93,769.37 1108.40,769.22 1108.89,768.16 1109.37,768.14 1109.85,768.08 1110.34,767.86 1110.82,769.10 1111.31,769.81 1111.79,771.31 1112.28,771.49 1112.77,771.41 1113.25,771.21 1113.74,771.92 1114.22,772.16 1114.71,771.60 1115.19,772.26 1115.68,771.58 1116.16,772.38 1116.65,771.57 1117.13,771.60 1117.61,771.40 1118.10,771.75 1118.58,771.67 1119.06,772.38 1119.55,772.63 1120.03,772.78 1120.52,772.39 1121.00,772.38 1121.48,772.85 1121.97,773.59 1122.45,773.34 1122.94,773.27 1123.42,772.85 1123.91,773.21 1124.39,774.29 1124.88,773.48 1125.36,773.10 1125.85,772.23 1126.33,772.91 1126.82,773.04 1127.30,774.15 1127.79,775.42 1128.27,775.46 1128.76,773.92 1129.24,773.66 1129.73,774.46 1130.21,774.75 1130.70,774.73 1131.19,774.81 1131.67,776.10 1132.16,775.77 1132.64,775.94 1133.13,775.54 1133.62,776.51 1134.10,776.47 1134.59,777.09 1135.07,776.68 1135.56,776.47 1136.05,776.34 1136.53,776.99 1137.02,777.04 1137.50,777.23 1137.99,778.35 1138.48,778.29 1138.96,777.35 1139.45,775.32 1139.94,775.67 1140.42,776.62 1140.91,775.93 1141.39,774.97 1141.88,775.58 1142.37,776.22 1142.85,778.02 1143.34,778.41 1143.83,777.48 1144.31,777.51 1144.80,776.88 1145.28,778.72 1145.77,778.73 1146.26,778.79 1146.74,779.46 1147.23,780.49 1147.72,780.84 1148.20,779.85 1148.69,779.68 1149.17,780.32 1149.66,782.11 1150.15,781.59 1150.63,781.57 1151.12,782.01 1151.61,781.85 1152.09,781.01 1152.58,780.80 1153.07,780.75 1153.55,781.98 1154.04,780.85 1154.53,780.89 1155.01,780.47 1155.50,781.12 1155.98,781.06 1156.47,782.01 1156.96,781.66 1157.44,782.70 1157.93,781.22 1158.42,781.22 1158.91,780.54 1159.39,781.33 1159.88,781.92 1160.37,782.53 1160.85,782.55 1161.34,783.15 1161.83,783.70 1162.31,783.53 1162.80,783.15 1163.29,782.98 1163.78,783.82 1164.26,784.17 1164.75,783.78 1165.24,783.24 1165.72,783.08 1166.21,783.71 1166.70,783.36 1167.19,782.81 1167.67,782.36 1168.16,783.18 1168.65,783.50 1169.14,783.59 1169.63,783.14 1170.11,783.98 1170.60,783.11 1171.09,783.72 1171.58,783.09 1172.06,784.46 1172.55,784.69 1173.04,783.34 1173.53,784.13 1174.02,784.57 1174.51,787.53 1174.99,787.43 1175.48,787.66 1175.97,787.12 1176.46,787.73 1176.95,786.44 1177.44,786.14 1177.93,784.68 1178.42,786.16 1178.90,786.49 1179.39,788.19 1179.88,787.83 1180.37,787.67 1180.86,786.64 1181.35,786.19 1181.84,785.13 1182.33,785.32 1182.82,785.62 1183.31,786.71 1183.80,786.11 1184.29,786.54 1184.78,786.27 1185.27,787.25 1185.76,787.14 1186.25,787.69 1186.74,786.63 1187.23,787.08 1187.72,787.93 1188.21,788.93 1188.70,788.45 1189.19,788.39 1189.68,789.06 1190.17,789.25 1190.66,790.67 1191.15,791.05 1191.64,792.36 1192.13,791.01 1192.62,790.58 1193.12,789.12 1193.61,788.79 1194.10,788.67 1194.59,789.82 1195.08,789.76 1195.57,789.29 1196.06,789.68 1196.55,790.15 1197.04,791.37 1197.53,790.80 1198.03,790.44 1198.52,789.93 1199.01,788.42 1199.50,789.50 1199.99,789.96 1200.48,792.32 1200.97,791.66 1201.47,792.65 1201.96,792.77 1202.45,791.90 1202.94,789.64 1203.43,789.12 1203.92,789.44 1204.42,790.55 1204.91,790.37 1205.40,791.13 1205.89,792.26 1206.38,792.81 1206.87,793.50 1207.37,792.80 1207.86,794.40 1208.35,794.91 1208.84,794.42 1209.33,792.99 1209.83,791.79 1210.32,792.20 1210.81,791.88 1211.30,791.56 1211.80,790.59 1212.29,789.96 1212.78,791.27 1213.27,790.77 1213.77,792.00 1214.26,790.40 1214.75,791.74 1215.24,791.11 1215.74,792.99 1216.23,793.58 1216.72,793.31 1217.21,792.56 1217.71,792.79 1218.20,794.25 1218.69,794.88 1219.19,794.73 1219.68,793.97 1220.17,794.87 1220.67,794.51 1221.16,794.46 1221.65,793.78 1222.14,795.18 1222.64,794.47 1223.13,794.94 1223.62,794.94 1224.12,796.27 1224.61,794.54 1225.11,793.44 1225.60,793.27 1226.09,794.72 1226.59,794.47 1227.08,794.48 1227.57,794.83 1228.07,795.34 1228.56,795.39 1229.05,794.72 1229.55,794.25 1230.04,794.29 1230.54,794.52 1231.03,795.97 1231.52,795.77 1232.02,795.15 1232.51,794.44 1233.01,794.46 1233.50,795.72 1234.00,795.75 1234.49,795.40 1234.98,795.50 1235.48,795.88 1235.97,797.06 1236.47,797.00 1236.96,797.79 1237.46,797.17 1237.95,797.38 1238.45,796.83 1238.94,797.52 1239.44,797.13 1239.93,796.86 1240.43,797.03 1240.92,797.18 1241.42,797.98 1241.91,798.85 1242.41,798.28 1242.90,799.15 1243.40,798.96 1243.89,798.93 1244.39,797.68 1244.88,797.06 1245.38,798.59 1245.88,798.13 1246.37,799.28 1246.87,797.92 1247.36,798.37 1247.86,796.96 1248.35,796.93 1248.85,796.50 1249.35,796.58 1249.84,797.26 1250.34,797.65 1250.83,797.50 1251.33,796.10 1251.83,796.37 1252.32,798.21 1252.82,800.95 1253.32,801.92 1253.81,800.54 1254.31,799.88 1254.80,798.87 1255.30,798.89 1255.80,798.72 1256.29,799.77 1256.79,799.81 1257.29,799.35 1257.78,798.75 1258.28,798.18 1258.78,799.20 1259.27,799.93 1259.77,801.67 1260.27,801.68 1260.76,800.72 1261.26,799.88 1261.75,798.86 1262.25,799.49 1262.75,801.07 1263.24,801.11 1263.74,801.38 1264.24,800.93 1264.73,800.96 1265.23,801.95 1265.73,800.72 1266.22,801.37 1266.72,800.34 1267.22,801.41 1267.71,802.04 1268.21,801.68 1268.71,800.73 1269.20,798.81 1269.70,798.71 1270.20,799.98 1270.69,801.02 1271.19,801.78 1271.69,801.49 1272.18,802.16 1272.68,801.48 1273.18,800.74 1273.67,800.66 1274.17,799.96 1274.66,801.26 1275.16,800.68 1275.66,801.46 1276.15,800.24 1276.65,800.78 1277.15,801.48 1277.64,802.70 1278.14,803.09 1278.64,803.90 1279.13,802.97 1279.63,803.33 1280.12,802.90 1280.62,803.29 1281.12,803.34 1281.61,802.25 1282.11,803.07 1282.60,803.22 1283.10,804.04 1283.60,803.04 1284.09,803.13 1284.59,802.39 1285.08,803.15 1285.58,803.27 1286.07,805.62 1286.57,805.16 1287.07,805.50 1287.56,804.37 1288.06,803.48 1288.55,801.87 1289.05,801.21 1289.54,803.03 1290.04,804.84 1290.53,805.09 1291.03,804.70 1291.52,803.99 1292.02,802.64 1292.51,803.13 1293.01,803.95 1293.50,804.18 1294.00,802.96 1294.49,802.08 1294.99,803.52 1295.48,804.85 1295.98,805.72 1296.47,805.49 1296.97,805.33 1297.46,804.25 1297.96,804.48 1298.45,804.27 1298.95,805.10 1299.44,804.97 1299.94,806.10 1300.43,805.96 1300.92,806.44 1301.42,805.79 1301.91,805.33 1302.41,805.60 1302.90,803.63 1303.40,803.02 1303.89,802.66 1304.39,803.99 1304.88,804.93 1305.37,804.82 1305.87,805.57 1306.36,806.64 1306.86,806.81 1307.35,807.17 1307.85,806.72 1308.34,806.35 1308.83,804.91 1309.33,804.78 1309.82,806.30 1310.32,806.65 1310.81,805.37 1311.30,805.37 1311.80,806.77 1312.29,808.03 1312.79,808.18 1313.28,808.82 1313.78,808.50 1314.27,807.64 1314.76,806.19 1315.26,807.49 1315.75,807.27 1316.25,807.39 1316.74,807.59 1317.23,808.85 1317.73,809.80 1318.22,808.49 1318.72,808.20 1319.21,807.24 1319.70,808.49 1320.20,808.61 1320.69,809.50 1321.19,808.89 1321.68,808.74 1322.18,808.61 1322.67,808.66 1323.16,808.85 1323.66,808.07 1324.15,807.54 1324.65,806.33 1325.14,806.92 1325.64,808.27 1326.13,809.70 1326.62,808.62 1327.12,808.42 1327.61,808.25 1328.11,809.47 1328.60,809.44 1329.10,809.85 1329.59,810.89 1330.09,811.60 1330.58,812.52 1331.07,812.10 1331.57,811.03 1332.06,810.74 1332.56,809.68 1333.05,810.65 1333.55,809.24 1334.04,809.72 1334.54,810.03 1335.03,810.36 1335.53,811.46 1336.02,811.16 1336.52,811.54 1337.01,811.41 1337.51,811.46 1338.00,811.71 1338.50,810.92 1338.99,811.14 1339.49,810.91 1339.98,811.35 1340.48,811.17 1340.97,811.39 1341.47,811.65 1341.96,811.64 1342.46,811.94 1342.95,811.94 1343.45,812.69 1343.94,812.28 1344.44,812.00 1344.93,810.42 1345.43,809.33 1345.92,810.09 1346.42,811.24 1346.91,813.67 1347.41,812.42 1347.90,811.71 1348.40,810.53 1348.89,812.72 1349.39,813.84 1349.88,814.16 1350.38,813.00 1350.87,812.68 1351.37,812.16 1351.86,812.46 1352.36,811.66 1352.85,812.49 1353.35,812.77 1353.84,813.69 1354.34,813.26 1354.83,812.72 1355.33,813.11 1355.82,813.30 1356.32,812.70 1356.81,812.09 1357.31,812.16 1357.80,812.94 1358.30,813.17 1358.79,813.34 1359.29,813.32 1359.78,813.95 1360.28,814.59 1360.77,815.47 1361.27,815.02 1361.76,814.49 1362.26,814.15 1362.75,813.27 1363.25,812.87 1363.74,813.26 1364.24,813.93 1364.73,814.29 1365.23,813.15 1365.72,813.80 1366.22,813.53 1366.72,815.03 1367.21,814.94 1367.71,814.66 1368.20,813.65 1368.70,812.96 1369.19,814.46 1369.69,815.16 1370.18,815.55 1370.68,814.88 1371.18,814.89 1371.67,814.87 1372.17,816.15 1372.66,815.54 1373.16,816.20 1373.65,814.21 1374.15,814.92 1374.65,814.38 1375.14,815.83 1375.64,816.35 1376.13,816.69 1376.63,815.03 1377.13,813.13 1377.62,813.35 1378.12,814.40 1378.61,815.02 1379.11,815.66 1379.61,816.13 1380.10,817.48 1380.60,817.47 1381.10,817.43 1381.59,816.99 1382.09,815.74 1382.58,816.29 1383.08,816.24 1383.58,818.01 1384.07,818.34 1384.57,818.31 1385.07,816.96 1385.56,816.36 1386.06,816.51 1386.56,817.46 1387.05,818.29 1387.55,817.60 1388.05,816.54 1388.54,816.16 1389.04,816.21 1389.54,816.86 1390.03,815.60 1390.53,816.20 1391.03,816.04 1391.53,816.99 1392.02,816.85 1392.52,817.49 1393.02,818.29 1393.51,819.20 1394.01,818.78 1394.51,818.09 1395.00,817.29 1395.50,817.06 1396.00,817.20 1396.49,817.56 1396.99,817.93 1397.49,818.24 1397.99,818.92 1398.48,818.72 1398.98,818.48 1399.48,818.35 1399.97,818.93 1400.47,818.63 1400.97,817.62 1401.46,817.96 1401.96,817.85 1402.46,818.89 1402.96,817.93 1403.45,819.72 1403.95,818.88 1404.45,820.67 1404.94,820.11 1405.44,821.67 1405.94,821.37 1406.44,821.30 1406.93,820.32 1407.43,821.13 1407.93,820.61 1408.43,820.97 1408.92,818.69 1409.42,818.99 1409.92,819.29 1410.41,819.74 1410.91,819.89 1411.41,819.40 1411.91,819.68 1412.40,820.03 1412.90,820.79 1413.40,820.60 1413.90,819.20 1414.39,819.00 1414.89,818.84 1415.39,819.67 1415.89,818.93 1416.38,820.27 1416.88,821.94 1417.38,822.14 1417.88,822.91 1418.37,821.71 1418.87,821.92 1419.37,821.32 1419.87,822.45 1420.36,822.56 1420.86,821.72 1421.36,821.73 1421.86,822.47 1422.35,820.98 1422.85,819.78 1423.35,818.79 1423.85,820.20 1424.34,820.42 1424.84,820.67 1425.34,820.83 1425.84,822.08 1426.34,821.42 1426.83,821.82 1427.33,820.95 1427.83,821.11 1428.33,820.35 1428.82,819.33 1429.32,820.79 1429.82,820.87 1430.32,821.93 1430.82,820.71 1431.31,820.64 1431.81,820.66 1432.31,821.95 1432.81,821.94 1433.31,821.07 1433.80,820.76 1434.30,821.03 1434.80,820.98 1435.30,820.20 1435.80,821.02 1436.29,820.16 1436.79,821.96 1437.29,822.81 1437.79,825.25 1438.29,824.07 1438.78,822.71 1439.28,822.30 1439.78,821.79 1440.28,823.58 1440.78,822.92 1441.28,824.38 1441.77,823.59 1442.27,823.74 1442.77,822.90 1443.27,821.92 1443.77,822.30 1444.26,822.85 1444.76,823.42 1445.26,823.18 1445.76,822.87 1446.26,823.68 1446.75,824.49 1447.24,824.83 1447.74,823.70 1448.22,822.89 1448.70,822.93 1449.18,823.11 1449.64,823.01 1450.09,823.59 1450.53,823.93 1450.94,824.54 1451.34,823.35 1451.70,823.49 1452.04,823.88 1452.35,824.43 1452.63,823.36 1453.90,822.98" fill="none" stroke="#fd9a2e" stroke-width="2.2" stroke-linejoin="round" stroke-linecap="round"/>
<polyline points="1098.20,759.88 1099.11,761.08 1099.30,761.90 1099.51,761.82 1099.74,761.98 1099.99,762.23 1100.26,762.64 1100.54,763.32 1100.84,762.60 1101.15,762.57 1101.48,762.93 1101.81,764.27 1102.16,765.28 1102.52,765.60 1102.89,765.96 1103.27,765.51 1103.67,766.06 1104.07,766.31 1104.48,766.54 1104.90,765.63 1105.33,765.67 1105.77,766.08 1106.22,767.00 1106.68,766.91 1107.14,766.76 1107.60,766.39 1108.07,766.51 1108.55,767.24 1109.02,768.03 1109.50,768.05 1109.99,768.36 1110.47,768.08 1110.95,768.41 1111.44,767.41 1111.93,767.41 1112.42,766.99 1112.91,768.27 1113.40,768.99 1113.89,769.83 1114.38,770.47 1114.87,770.23 1115.37,770.48 1115.86,769.60 1116.35,769.72 1116.85,769.06 1117.34,769.15 1117.84,769.49 1118.33,769.96 1118.83,770.02 1119.32,769.63 1119.82,769.90 1120.31,770.65 1120.81,770.16 1121.30,770.02 1121.80,769.49 1122.29,770.06 1122.79,770.13 1123.28,770.45 1123.78,771.08 1124.27,770.48 1124.77,769.87 1125.26,769.52 1125.76,769.70 1126.25,770.42 1126.75,770.11 1127.24,770.70 1127.74,770.13 1128.23,770.17 1128.73,771.39 1129.22,771.79 1129.71,772.80 1130.21,771.77 1130.70,772.23 1131.20,771.41 1131.69,771.69 1132.19,771.30 1132.68,770.56 1133.18,769.38 1133.67,769.61 1134.17,771.08 1134.66,771.89 1135.16,771.58 1135.65,771.15 1136.15,772.19 1136.64,771.95 1137.14,772.50 1137.63,772.37 1138.13,772.63 1138.62,772.07 1139.12,771.51 1139.61,771.85 1140.11,772.67 1140.61,772.93 1141.10,773.05 1141.60,772.88 1142.09,773.40 1142.59,773.53 1143.08,773.12 1143.58,773.07 1144.08,773.98 1144.57,775.00 1145.07,775.02 1145.56,774.34 1146.06,774.11 1146.56,774.09 1147.05,774.48 1147.55,774.21 1148.04,774.47 1148.54,774.64 1149.04,774.22 1149.53,774.16 1150.03,773.48 1150.52,774.09 1151.02,773.82 1151.52,774.48 1152.01,774.30 1152.51,774.27 1153.00,773.94 1153.50,774.01 1154.00,773.65 1154.49,774.12 1154.99,774.15 1155.48,774.93 1155.98,774.78 1156.48,775.25 1156.97,775.40 1157.47,774.95 1157.96,774.80 1158.46,774.71 1158.96,775.02 1159.45,774.87 1159.95,775.01 1160.44,775.86 1160.94,776.41 1161.43,776.61 1161.93,776.29 1162.43,776.90 1162.92,776.71 1163.42,777.01 1163.91,777.67 1164.41,777.86 1164.90,777.56 1165.40,775.66 1165.89,774.93 1166.39,775.86 1166.89,776.57 1167.38,776.92 1167.88,775.94 1168.37,775.54 1168.87,775.97 1169.36,775.97 1169.86,776.72 1170.35,777.39 1170.85,777.92 1171.34,777.78 1171.84,777.26 1172.33,777.69 1172.83,777.21 1173.32,776.89 1173.82,776.19 1174.31,776.31 1174.81,776.96 1175.30,777.10 1175.80,777.27 1176.29,777.36 1176.79,777.55 1177.28,778.17 1177.78,778.02 1178.27,777.91 1178.77,777.39 1179.26,777.65 1179.76,777.56 1180.25,778.47 1180.75,778.46 1181.24,778.89 1181.74,778.23 1182.23,778.85 1182.73,778.83 1183.22,779.45 1183.72,778.61 1184.21,779.25 1184.70,779.28 1185.20,780.02 1185.69,779.96 1186.19,779.81 1186.68,779.12 1187.18,778.89 1187.67,778.76 1188.17,779.03 1188.66,779.76 1189.16,780.46 1189.65,780.82 1190.15,780.48 1190.64,780.54 1191.14,780.58 1191.63,780.37 1192.13,780.14 1192.63,780.32 1193.12,781.23 1193.62,780.80 1194.11,780.70 1194.61,779.74 1195.10,781.22 1195.60,781.06 1196.09,781.84 1196.59,781.21 1197.08,781.68 1197.58,781.68 1198.07,781.67 1198.57,781.42 1199.07,781.82 1199.56,781.26 1200.06,780.71 1200.55,779.71 1201.05,780.52 1201.54,781.06 1202.04,781.47 1202.54,781.63 1203.03,782.23 1203.53,782.42 1204.02,782.56 1204.52,782.37 1205.02,782.70 1205.51,782.41 1206.01,783.06 1206.50,783.13 1207.00,783.14 1207.50,783.07 1207.99,783.07 1208.49,783.44 1208.99,783.18 1209.48,782.42 1209.98,781.95 1210.48,782.24 1210.97,783.26 1211.47,782.91 1211.97,782.24 1212.46,780.97 1212.96,781.10 1213.46,781.76 1213.96,782.38 1214.45,783.16 1214.95,783.54 1215.45,783.14 1215.94,783.05 1216.44,782.67 1216.94,783.59 1217.44,784.01 1217.93,784.40 1218.43,784.51 1218.93,783.78 1219.43,783.83 1219.92,784.51 1220.42,784.51 1220.92,784.06 1221.41,783.40 1221.91,783.75 1222.41,783.94 1222.91,783.97 1223.40,784.61 1223.90,784.43 1224.40,784.30 1224.90,784.68 1225.39,785.29 1225.89,785.22 1226.39,784.02 1226.89,783.61 1227.39,784.05 1227.88,784.48 1228.38,784.00 1228.88,783.33 1229.38,783.19 1229.87,783.77 1230.37,784.41 1230.87,785.17 1231.37,784.92 1231.87,784.51 1232.36,783.40 1232.86,783.31 1233.36,783.59 1233.86,784.20 1234.35,784.57 1234.85,784.78 1235.35,784.79 1235.85,784.34 1236.35,784.37 1236.84,784.71 1237.34,785.01 1237.84,786.29 1238.34,785.18 1238.84,784.93 1239.33,783.42 1239.83,784.24 1240.33,784.52 1240.83,784.89 1241.33,785.61 1241.83,786.25 1242.32,786.28 1242.82,786.50 1243.32,785.72 1243.82,785.60 1244.32,785.04 1244.81,785.55 1245.31,785.62 1245.81,785.54 1246.31,785.45 1246.81,785.06 1247.31,784.76 1247.80,784.93 1248.30,785.60 1248.80,786.28 1249.30,786.75 1249.80,785.64 1250.30,785.10 1250.79,784.37 1251.29,785.37 1251.79,785.78 1252.29,786.12 1252.79,786.56 1253.29,786.41 1253.78,786.66 1254.28,786.51 1254.78,786.93 1255.28,786.79 1255.78,787.16 1256.28,787.30 1256.78,787.86 1257.27,787.44 1257.77,787.27 1258.27,786.60 1258.77,785.77 1259.27,785.27 1259.77,784.99 1260.27,785.78 1260.76,785.69 1261.26,786.15 1261.76,785.82 1262.26,786.44 1262.76,786.61 1263.26,787.58 1263.76,787.98 1264.26,788.71 1264.75,788.24 1265.25,787.19 1265.75,787.00 1266.25,787.78 1266.75,788.37 1267.25,788.58 1267.75,787.77 1268.25,788.01 1268.75,787.42 1269.24,787.28 1269.74,787.08 1270.24,786.46 1270.74,786.80 1271.24,787.07 1271.74,788.09 1272.24,788.04 1272.74,788.18 1273.24,788.83 1273.73,789.29 1274.23,789.10 1274.73,788.33 1275.23,787.96 1275.73,788.57 1276.23,788.30 1276.73,788.75 1277.23,788.42 1277.73,787.59 1278.23,787.38 1278.72,787.02 1279.22,787.74 1279.72,787.58 1280.22,787.96 1280.72,789.35 1281.22,789.41 1281.72,788.97 1282.22,787.96 1282.72,788.15 1283.22,788.15 1283.72,788.14 1284.22,787.33 1284.71,787.23 1285.21,787.18 1285.71,788.16 1286.21,788.32 1286.71,788.18 1287.21,787.87 1287.71,787.86 1288.21,788.01 1288.71,787.70 1289.21,788.83 1289.71,788.89 1290.21,789.85 1290.70,789.24 1291.20,790.17 1291.70,789.24 1292.20,789.29 1292.70,787.64 1293.20,788.58 1293.70,788.79 1294.20,789.64 1294.70,789.96 1295.20,790.90 1295.70,791.68 1296.20,791.54 1296.69,790.44 1297.19,789.53 1297.69,788.31 1298.19,788.74 1298.69,788.34 1299.19,788.89 1299.69,789.19 1300.19,790.12 1300.69,789.72 1301.19,788.71 1301.69,789.11 1302.19,789.22 1302.68,789.41 1303.18,788.36 1303.68,788.79 1304.18,788.75 1304.68,789.76 1305.18,789.41 1305.68,789.52 1306.18,788.18 1306.68,789.13 1307.18,789.83 1307.68,790.70 1308.18,790.26 1308.67,789.99 1309.17,790.56 1309.67,789.86 1310.17,789.35 1310.67,789.86 1311.17,791.03 1311.67,791.67 1312.17,790.79 1312.67,790.69 1313.17,790.85 1313.66,791.23 1314.16,790.49 1314.66,790.17 1315.16,790.01 1315.66,790.59 1316.16,790.20 1316.66,789.98 1317.16,789.49 1317.66,789.77 1318.16,789.99 1318.65,790.65 1319.15,791.09 1319.65,791.44 1320.15,791.31 1320.65,790.59 1321.15,790.24 1321.65,790.03 1322.15,789.88 1322.65,789.63 1323.15,790.02 1323.64,791.15 1324.14,791.40 1324.64,790.70 1325.14,790.29 1325.64,790.07 1326.14,791.18 1326.64,790.72 1327.14,791.40 1327.64,790.83 1328.13,791.53 1328.63,790.93 1329.13,791.27 1329.63,791.14 1330.13,791.39 1330.63,790.77 1331.13,790.58 1331.63,789.92 1332.12,790.60 1332.62,790.74 1333.12,792.15 1333.62,791.36 1334.12,792.15 1334.62,791.77 1335.12,792.23 1335.62,791.82 1336.12,791.16 1336.61,790.82 1337.11,791.15 1337.61,790.88 1338.11,791.48 1338.61,791.57 1339.11,792.47 1339.61,793.04 1340.11,792.43 1340.61,792.14 1341.10,792.11 1341.60,792.59 1342.10,792.87 1342.60,792.99 1343.10,792.20 1343.60,792.69 1344.10,792.00 1344.60,792.58 1345.10,792.24 1345.60,792.51 1346.09,792.67 1346.59,793.23 1347.09,793.77 1347.59,793.62 1348.09,793.11 1348.59,792.17 1349.09,792.84 1349.59,793.22 1350.09,793.40 1350.58,792.84 1351.08,793.11 1351.58,793.11 1352.08,793.18 1352.58,792.59 1353.08,792.79 1353.58,792.75 1354.08,791.97 1354.58,792.52 1355.08,792.33 1355.58,793.22 1356.07,792.28 1356.57,793.43 1357.07,793.65 1357.57,793.46 1358.07,792.30 1358.57,791.95 1359.07,792.37 1359.57,792.10 1360.07,791.72 1360.57,791.80 1361.07,792.44 1361.56,793.09 1362.06,793.98 1362.56,793.88 1363.06,792.90 1363.56,792.35 1364.06,792.88 1364.56,793.34 1365.06,793.50 1365.56,793.22 1366.06,793.31 1366.56,793.18 1367.06,792.66 1367.56,793.69 1368.05,794.07 1368.55,794.53 1369.05,794.25 1369.55,794.29 1370.05,793.95 1370.55,793.16 1371.05,792.33 1371.55,792.19 1372.05,793.08 1372.55,794.14 1373.05,795.30 1373.55,794.45 1374.05,794.03 1374.54,793.93 1375.04,795.23 1375.54,795.12 1376.04,794.50 1376.54,793.65 1377.04,793.99 1377.54,794.49 1378.04,795.07 1378.54,794.74 1379.04,795.04 1379.54,794.26 1380.04,794.72 1380.54,794.71 1381.04,795.59 1381.53,795.54 1382.03,794.87 1382.53,794.41 1383.03,793.97 1383.53,793.87 1384.03,793.52 1384.53,794.29 1385.03,794.12 1385.53,794.27 1386.03,794.39 1386.53,795.05 1387.03,796.06 1387.53,796.18 1388.03,796.23 1388.53,796.00 1389.03,794.94 1389.52,794.89 1390.02,795.18 1390.52,795.86 1391.02,795.91 1391.52,796.33 1392.02,796.50 1392.52,795.82 1393.02,795.22 1393.52,793.89 1394.02,794.71 1394.52,794.42 1395.02,795.28 1395.52,794.79 1396.02,794.48 1396.52,795.80 1397.02,795.69 1397.52,795.57 1398.01,794.41 1398.51,794.72 1399.01,795.77 1399.51,796.00 1400.01,796.13 1400.51,795.76 1401.01,795.78 1401.51,795.79 1402.01,795.39 1402.51,795.23 1403.01,795.27 1403.51,795.25 1404.01,795.30 1404.51,795.90 1405.01,795.59 1405.51,795.79 1406.01,795.60 1406.51,796.09 1407.00,795.94 1407.50,796.13 1408.00,796.02 1408.50,796.30 1409.00,796.08 1409.50,796.35 1410.00,796.22 1410.50,796.36 1411.00,796.89 1411.50,796.40 1412.00,796.50 1412.50,795.66 1413.00,795.76 1413.50,795.43 1414.00,795.80 1414.50,795.48 1415.00,796.09 1415.50,795.85 1416.00,796.85 1416.50,796.37 1416.99,796.82 1417.49,796.60 1417.99,796.59 1418.49,796.40 1418.99,796.25 1419.49,796.60 1419.99,796.65 1420.49,796.95 1420.99,796.29 1421.49,795.99 1421.99,795.94 1422.49,795.62 1422.99,796.48 1423.49,796.27 1423.99,796.74 1424.49,795.98 1424.99,796.21 1425.49,796.56 1425.99,797.07 1426.49,796.77 1426.99,796.13 1427.49,795.81 1427.98,796.05 1428.48,796.22 1428.98,796.79 1429.48,796.44 1429.98,796.40 1430.48,796.31 1430.98,796.58 1431.48,796.87 1431.98,796.17 1432.48,795.85 1432.98,795.65 1433.48,795.33 1433.98,796.13 1434.48,796.56 1434.98,798.02 1435.48,797.72 1435.98,797.40 1436.48,797.06 1436.98,796.91 1437.48,797.54 1437.98,796.96 1438.48,796.47 1438.98,795.95 1439.48,796.04 1439.98,796.99 1440.47,796.97 1440.97,797.21 1441.47,797.12 1441.97,796.97 1442.47,796.44 1442.97,796.06 1443.47,795.78 1443.97,796.27 1444.47,796.84 1444.97,797.38 1445.47,797.11 1445.97,796.40 1446.47,796.80 1446.96,797.50 1447.46,797.12 1447.95,797.69 1448.43,797.90 1448.91,798.57 1449.38,797.77 1449.84,797.24 1450.29,797.62 1450.71,797.49 1451.12,797.61 1451.50,797.72 1451.86,798.85 1452.19,798.67 1452.48,798.17 1453.90,797.24" fill="none" stroke="#2a932a" stroke-width="2.1" stroke-linejoin="round" stroke-linecap="round"/>
<polyline points="1098.20,760.19 1098.91,761.51 1099.06,761.51 1099.23,761.69 1099.42,761.83 1099.63,761.98 1099.86,762.20 1100.10,762.55 1100.36,763.55 1100.64,764.09 1100.94,764.33 1101.26,763.87 1101.59,764.54 1101.94,764.90 1102.31,765.52 1102.69,764.97 1103.09,764.81 1103.50,765.07 1103.92,765.30 1104.36,766.15 1104.81,766.50 1105.26,766.90 1105.72,766.85 1106.19,766.62 1106.67,766.79 1107.15,766.94 1107.63,767.05 1108.12,767.29 1108.61,767.51 1109.10,767.87 1109.59,768.14 1110.08,768.23 1110.57,767.95 1111.07,768.03 1111.56,768.31 1112.06,768.64 1112.55,768.47 1113.05,768.91 1113.54,768.31 1114.04,768.66 1114.53,768.19 1115.03,769.29 1115.52,769.70 1116.02,769.88 1116.52,769.40 1117.01,769.11 1117.51,768.67 1118.00,768.88 1118.50,768.57 1119.00,769.09 1119.49,768.64 1119.99,768.82 1120.49,768.79 1120.98,769.27 1121.48,769.33 1121.98,769.12 1122.47,769.17 1122.97,769.72 1123.47,769.82 1123.97,769.59 1124.46,768.95 1124.96,769.04 1125.46,769.64 1125.96,769.90 1126.45,770.28 1126.95,770.52 1127.45,770.40 1127.95,770.29 1128.44,769.87 1128.94,770.42 1129.44,770.63 1129.94,770.86 1130.44,770.34 1130.93,770.06 1131.43,769.97 1131.93,770.29 1132.43,770.26 1132.93,770.39 1133.43,770.57 1133.92,770.87 1134.42,770.63 1134.92,770.44 1135.42,770.06 1135.92,770.11 1136.42,770.43 1136.92,770.73 1137.41,770.92 1137.91,771.08 1138.41,771.02 1138.91,771.10 1139.41,770.44 1139.91,770.88 1140.41,770.86 1140.91,771.52 1141.40,771.52 1141.90,771.59 1142.40,771.55 1142.90,770.98 1143.40,770.87 1143.90,770.23 1144.40,770.93 1144.90,771.28 1145.40,772.23 1145.89,772.37 1146.39,772.67 1146.89,772.25 1147.39,771.50 1147.89,770.99 1148.39,771.66 1148.89,772.25 1149.39,772.72 1149.89,772.39 1150.39,772.43 1150.88,772.05 1151.38,771.56 1151.88,771.67 1152.38,771.54 1152.88,772.34 1153.38,772.28 1153.88,772.75 1154.38,772.32 1154.88,771.73 1155.38,771.32 1155.88,771.61 1156.37,771.76 1156.87,771.70 1157.37,771.88 1157.87,771.68 1158.37,772.02 1158.87,771.73 1159.37,772.89 1159.87,773.24 1160.37,773.29 1160.87,772.28 1161.37,771.93 1161.87,771.36 1162.37,771.95 1162.86,771.66 1163.36,772.45 1163.86,772.58 1164.36,772.84 1164.86,772.70 1165.36,772.61 1165.86,772.82 1166.36,772.73 1166.86,772.90 1167.36,772.91 1167.86,772.83 1168.36,772.75 1168.86,772.56 1169.36,773.03 1169.86,773.18 1170.36,772.83 1170.86,772.43 1171.35,772.19 1171.85,772.76 1172.35,773.00 1172.85,773.43 1173.35,773.88 1173.85,773.23 1174.35,773.12 1174.85,772.20 1175.35,773.06 1175.85,772.96 1176.35,773.28 1176.85,772.87 1177.35,772.63 1177.85,773.22 1178.35,773.21 1178.85,773.25 1179.35,773.04 1179.85,773.68 1180.35,773.65 1180.85,773.63 1181.35,772.98 1181.85,773.45 1182.35,773.07 1182.85,773.39 1183.35,773.24 1183.84,773.47 1184.34,773.70 1184.84,774.13 1185.34,774.26 1185.84,774.04 1186.34,773.59 1186.84,773.93 1187.34,774.08 1187.84,774.06 1188.34,773.73 1188.84,773.30 1189.34,773.22 1189.84,773.26 1190.34,773.95 1190.84,774.28 1191.34,773.69 1191.84,773.09 1192.34,773.20 1192.84,774.13 1193.34,773.79 1193.84,773.43 1194.34,773.56 1194.84,773.87 1195.34,773.80 1195.84,773.39 1196.34,773.32 1196.84,773.74 1197.34,773.78 1197.84,774.13 1198.34,773.66 1198.84,773.91 1199.34,773.77 1199.84,773.74 1200.34,773.41 1200.84,773.15 1201.34,773.22 1201.84,773.92 1202.34,774.08 1202.84,774.00 1203.34,773.36 1203.84,773.69 1204.34,774.07 1204.84,774.14 1205.34,773.59 1205.84,773.35 1206.34,772.67 1206.84,773.34 1207.34,773.60 1207.84,774.47 1208.34,773.84 1208.84,773.16 1209.34,772.96 1209.84,773.12 1210.34,773.36 1210.84,773.12 1211.34,772.97 1211.84,772.80 1212.34,773.14 1212.84,773.66 1213.34,774.40 1213.84,774.40 1214.34,774.34 1214.84,774.26 1215.34,774.09 1215.84,774.11 1216.34,773.94 1216.84,773.40 1217.34,773.48 1217.84,774.02 1218.34,775.10 1218.84,774.94 1219.34,774.56 1219.84,774.20 1220.34,774.76 1220.84,775.14 1221.34,774.87 1221.84,774.17 1222.34,773.58 1222.84,773.63 1223.34,774.29 1223.84,773.89 1224.34,773.75 1224.84,772.92 1225.34,773.28 1225.84,773.78 1226.34,773.88 1226.84,774.31 1227.34,774.60 1227.84,774.97 1228.34,775.09 1228.84,774.56 1229.34,774.63 1229.84,774.21 1230.33,774.60 1230.83,774.60 1231.33,774.87 1231.83,774.82 1232.33,775.03 1232.83,774.58 1233.33,774.41 1233.83,773.92 1234.33,774.09 1234.83,774.01 1235.33,774.39 1235.83,774.51 1236.33,774.45 1236.83,774.66 1237.33,774.80 1237.83,774.28 1238.33,774.03 1238.83,773.78 1239.33,774.57 1239.83,774.68 1240.33,775.29 1240.83,775.01 1241.33,775.05 1241.83,774.53 1242.33,774.45 1242.83,773.77 1243.33,773.91 1243.83,774.52 1244.33,774.90 1244.83,775.13 1245.33,774.76 1245.83,775.05 1246.33,774.72 1246.83,774.86 1247.33,774.35 1247.83,774.61 1248.33,774.99 1248.83,775.59 1249.33,775.24 1249.83,774.19 1250.33,773.95 1250.83,773.79 1251.33,774.29 1251.83,774.53 1252.33,774.22 1252.83,774.19 1253.33,773.87 1253.83,774.72 1254.33,774.92 1254.83,775.46 1255.33,775.38 1255.83,775.47 1256.33,774.44 1256.83,774.32 1257.33,774.04 1257.83,774.60 1258.33,774.91 1258.83,774.66 1259.33,773.96 1259.83,774.19 1260.33,774.50 1260.83,775.13 1261.33,775.03 1261.83,775.31 1262.33,775.49 1262.83,775.19 1263.33,775.18 1263.83,774.88 1264.33,774.83 1264.83,775.22 1265.33,775.66 1265.83,775.72 1266.33,775.72 1266.83,775.64 1267.33,776.03 1267.83,775.57 1268.33,775.46 1268.83,775.12 1269.33,775.13 1269.83,774.81 1270.33,775.29 1270.83,775.36 1271.33,776.39 1271.83,775.61 1272.33,775.36 1272.83,774.40 1273.33,774.57 1273.83,774.87 1274.33,775.83 1274.83,775.76 1275.33,775.50 1275.83,775.20 1276.33,775.48 1276.83,775.40 1277.33,775.00 1277.83,774.68 1278.33,775.22 1278.83,775.20 1279.33,775.30 1279.83,775.31 1280.33,775.31 1280.83,775.72 1281.33,774.99 1281.83,774.98 1282.33,775.09 1282.83,775.68 1283.33,775.62 1283.83,774.90 1284.32,774.27 1284.82,774.64 1285.32,774.91 1285.82,775.48 1286.32,775.37 1286.82,776.25 1287.32,776.53 1287.82,776.13 1288.32,775.42 1288.82,774.72 1289.32,775.24 1289.82,775.09 1290.32,775.52 1290.82,775.38 1291.32,774.87 1291.82,774.99 1292.32,774.57 1292.82,774.92 1293.32,774.55 1293.82,775.13 1294.32,775.06 1294.82,775.24 1295.32,775.22 1295.82,776.14 1296.32,776.01 1296.82,776.07 1297.32,775.72 1297.82,775.88 1298.32,775.87 1298.82,775.98 1299.32,775.85 1299.82,774.99 1300.32,774.64 1300.82,774.93 1301.32,775.91 1301.82,776.15 1302.32,776.42 1302.82,776.30 1303.32,776.01 1303.82,775.36 1304.32,774.98 1304.82,775.43 1305.32,775.59 1305.82,775.75 1306.32,775.91 1306.82,775.72 1307.32,776.21 1307.82,775.51 1308.32,775.75 1308.82,775.36 1309.32,775.77 1309.82,775.83 1310.32,776.26 1310.82,775.99 1311.32,776.64 1311.82,776.27 1312.32,775.94 1312.82,775.14 1313.31,774.98 1313.81,775.60 1314.31,775.50 1314.81,776.12 1315.31,775.79 1315.81,776.05 1316.31,776.04 1316.81,775.70 1317.31,776.47 1317.81,775.92 1318.31,775.99 1318.81,775.83 1319.31,776.03 1319.81,776.09 1320.31,775.84 1320.81,776.39 1321.31,777.39 1321.81,777.40 1322.31,776.66 1322.81,776.04 1323.31,776.12 1323.81,776.56 1324.31,776.64 1324.81,776.84 1325.31,776.35 1325.81,776.93 1326.31,776.19 1326.81,776.43 1327.31,775.94 1327.81,776.51 1328.31,777.03 1328.81,776.61 1329.31,776.12 1329.81,775.57 1330.31,776.00 1330.81,776.05 1331.31,775.94 1331.81,776.44 1332.31,776.90 1332.81,777.25 1333.31,777.09 1333.81,776.83 1334.31,776.38 1334.81,775.57 1335.31,775.83 1335.81,776.28 1336.31,776.82 1336.81,776.35 1337.31,776.43 1337.81,776.54 1338.31,777.26 1338.81,777.61 1339.31,777.37 1339.81,777.52 1340.31,777.43 1340.80,778.08 1341.30,777.50 1341.80,777.55 1342.30,776.64 1342.80,777.06 1343.30,776.55 1343.80,777.16 1344.30,776.62 1344.80,776.86 1345.30,776.77 1345.80,776.59 1346.30,776.65 1346.80,776.93 1347.30,777.36 1347.80,777.67 1348.30,778.08 1348.80,778.11 1349.30,778.19 1349.80,777.58 1350.30,777.22 1350.80,777.06 1351.30,776.66 1351.80,777.02 1352.30,777.48 1352.80,777.64 1353.30,777.31 1353.80,776.53 1354.30,776.88 1354.80,777.49 1355.30,777.44 1355.80,777.13 1356.30,777.07 1356.80,777.24 1357.30,777.74 1357.80,777.33 1358.30,777.79 1358.80,777.58 1359.30,777.82 1359.80,776.94 1360.30,776.77 1360.80,776.77 1361.30,777.60 1361.80,777.76 1362.30,777.51 1362.80,776.77 1363.30,777.00 1363.80,776.96 1364.30,777.91 1364.80,777.73 1365.30,777.94 1365.80,777.19 1366.30,777.54 1366.80,777.66 1367.30,777.97 1367.79,776.97 1368.29,777.07 1368.79,776.73 1369.29,776.66 1369.79,776.56 1370.29,776.83 1370.79,777.15 1371.29,778.08 1371.79,777.78 1372.29,777.89 1372.79,777.15 1373.29,777.60 1373.79,777.96 1374.29,777.81 1374.79,778.19 1375.29,777.88 1375.79,777.42 1376.29,776.66 1376.79,776.87 1377.29,777.46 1377.79,778.37 1378.29,778.41 1378.79,778.26 1379.29,777.51 1379.79,777.30 1380.29,777.67 1380.79,777.49 1381.29,778.15 1381.79,777.67 1382.29,777.84 1382.79,777.45 1383.29,777.26 1383.79,777.51 1384.29,777.50 1384.79,778.40 1385.29,778.59 1385.79,777.88 1386.29,777.60 1386.79,777.09 1387.29,777.54 1387.79,777.18 1388.29,778.09 1388.79,778.27 1389.29,778.53 1389.79,778.21 1390.29,778.90 1390.79,778.79 1391.29,778.57 1391.79,778.12 1392.29,778.27 1392.79,778.17 1393.29,777.77 1393.79,777.60 1394.29,777.43 1394.79,777.48 1395.29,777.48 1395.79,777.71 1396.29,777.82 1396.79,777.87 1397.29,778.17 1397.79,778.60 1398.29,778.44 1398.79,777.64 1399.29,778.18 1399.79,778.43 1400.29,779.50 1400.79,778.74 1401.29,779.34 1401.79,778.95 1402.29,778.96 1402.79,778.27 1403.29,778.10 1403.79,777.87 1404.29,778.13 1404.79,778.18 1405.29,778.62 1405.78,778.70 1406.28,778.40 1406.78,778.34 1407.28,778.20 1407.78,778.85 1408.28,779.26 1408.78,779.14 1409.28,778.20 1409.78,777.71 1410.28,777.82 1410.78,778.16 1411.28,778.31 1411.78,778.26 1412.28,778.76 1412.78,778.27 1413.28,778.43 1413.78,778.19 1414.28,778.50 1414.78,778.72 1415.28,778.61 1415.78,778.56 1416.28,778.51 1416.78,778.25 1417.28,778.58 1417.78,778.15 1418.28,777.93 1418.78,778.15 1419.28,778.86 1419.78,779.57 1420.28,778.86 1420.78,777.85 1421.28,777.92 1421.78,778.68 1422.28,778.77 1422.78,778.67 1423.28,778.69 1423.78,779.38 1424.28,779.35 1424.78,779.50 1425.28,778.89 1425.78,779.11 1426.28,778.82 1426.78,778.80 1427.28,778.51 1427.78,778.08 1428.28,779.32 1428.78,779.46 1429.28,779.56 1429.78,778.58 1430.28,779.37 1430.78,780.01 1431.28,779.93 1431.78,778.95 1432.28,778.54 1432.78,778.87 1433.28,779.22 1433.78,778.83 1434.28,778.24 1434.78,778.18 1435.28,778.12 1435.78,779.45 1436.28,779.47 1436.78,779.85 1437.28,779.21 1437.78,778.98 1438.28,778.97 1438.78,778.52 1439.28,778.72 1439.78,778.81 1440.28,779.16 1440.78,778.33 1441.28,778.37 1441.78,778.13 1442.28,779.26 1442.78,779.12 1443.28,779.36 1443.78,779.22 1444.28,779.01 1444.78,779.04 1445.28,778.80 1445.78,779.16 1446.28,779.43 1446.77,779.30 1447.27,779.01 1447.76,778.51 1448.25,779.30 1448.73,779.21 1449.20,779.43 1449.67,778.83 1450.12,778.79 1450.55,778.98 1450.97,778.98 1451.36,779.57 1451.73,779.14 1452.07,779.32 1452.37,779.68 1452.65,780.22 1453.90,780.13" fill="none" stroke="#3a37c4" stroke-width="2.1" stroke-linejoin="round" stroke-linecap="round"/>
<line x1="1098.70" y1="758.60" x2="1098.70" y2="1051.70" stroke="#3a3a3a" stroke-width="1.8" stroke-linecap="butt"/>
<line x1="1097.80" y1="759.50" x2="1455.10" y2="759.50" stroke="#3a3a3a" stroke-width="1.8" stroke-linecap="butt"/>
<line x1="1454.20" y1="758.60" x2="1454.20" y2="1051.70" stroke="#3a3a3a" stroke-width="1.8" stroke-linecap="butt"/>
<line x1="1097.80" y1="1050.80" x2="1455.10" y2="1050.80" stroke="#3a3a3a" stroke-width="1.8" stroke-linecap="butt"/>
<line x1="1098.70" y1="1014.39" x2="1095.20" y2="1014.39" stroke="#3a3a3a" stroke-width="1.8" stroke-linecap="butt"/>
<line x1="1098.70" y1="941.56" x2="1095.20" y2="941.56" stroke="#3a3a3a" stroke-width="1.8" stroke-linecap="butt"/>
<line x1="1098.70" y1="868.74" x2="1095.20" y2="868.74" stroke="#3a3a3a" stroke-width="1.8" stroke-linecap="butt"/>
<line x1="1098.70" y1="795.91" x2="1095.20" y2="795.91" stroke="#3a3a3a" stroke-width="1.8" stroke-linecap="butt"/>
<line x1="1098.70" y1="1050.80" x2="1092.70" y2="1050.80" stroke="#3a3a3a" stroke-width="1.8" stroke-linecap="butt"/>
<text x="1090.00" y="1057.40" font-size="19.5" text-anchor="end" fill="#3a3a3a" stroke="#3a3a3a" stroke-width="0.4">20</text>
<line x1="1098.70" y1="977.97" x2="1092.70" y2="977.97" stroke="#3a3a3a" stroke-width="1.8" stroke-linecap="butt"/>
<text x="1090.00" y="984.57" font-size="19.5" text-anchor="end" fill="#3a3a3a" stroke="#3a3a3a" stroke-width="0.4">40</text>
<line x1="1098.70" y1="905.15" x2="1092.70" y2="905.15" stroke="#3a3a3a" stroke-width="1.8" stroke-linecap="butt"/>
<text x="1090.00" y="911.75" font-size="19.5" text-anchor="end" fill="#3a3a3a" stroke="#3a3a3a" stroke-width="0.4">60</text>
<line x1="1098.70" y1="832.33" x2="1092.70" y2="832.33" stroke="#3a3a3a" stroke-width="1.8" stroke-linecap="butt"/>
<text x="1090.00" y="838.93" font-size="19.5" text-anchor="end" fill="#3a3a3a" stroke="#3a3a3a" stroke-width="0.4">80</text>
<line x1="1098.70" y1="759.50" x2="1092.70" y2="759.50" stroke="#3a3a3a" stroke-width="1.8" stroke-linecap="butt"/>
<text x="1090.00" y="766.10" font-size="19.5" text-anchor="end" fill="#3a3a3a" stroke="#3a3a3a" stroke-width="0.4">100</text>
<line x1="1128.58" y1="1050.80" x2="1128.58" y2="1054.30" stroke="#3a3a3a" stroke-width="1.8" stroke-linecap="butt"/>
<line x1="1187.75" y1="1050.80" x2="1187.75" y2="1054.30" stroke="#3a3a3a" stroke-width="1.8" stroke-linecap="butt"/>
<line x1="1246.92" y1="1050.80" x2="1246.92" y2="1054.30" stroke="#3a3a3a" stroke-width="1.8" stroke-linecap="butt"/>
<line x1="1306.08" y1="1050.80" x2="1306.08" y2="1054.30" stroke="#3a3a3a" stroke-width="1.8" stroke-linecap="butt"/>
<line x1="1365.25" y1="1050.80" x2="1365.25" y2="1054.30" stroke="#3a3a3a" stroke-width="1.8" stroke-linecap="butt"/>
<line x1="1424.42" y1="1050.80" x2="1424.42" y2="1054.30" stroke="#3a3a3a" stroke-width="1.8" stroke-linecap="butt"/>
<line x1="1099.00" y1="1050.80" x2="1099.00" y2="1056.80" stroke="#3a3a3a" stroke-width="1.8" stroke-linecap="butt"/>
<text x="1099.00" y="1075.00" font-size="19.5" text-anchor="middle" fill="#3a3a3a" stroke="#3a3a3a" stroke-width="0.4">0</text>
<line x1="1158.17" y1="1050.80" x2="1158.17" y2="1056.80" stroke="#3a3a3a" stroke-width="1.8" stroke-linecap="butt"/>
<text x="1158.17" y="1075.00" font-size="19.5" text-anchor="middle" fill="#3a3a3a" stroke="#3a3a3a" stroke-width="0.4">4</text>
<line x1="1217.33" y1="1050.80" x2="1217.33" y2="1056.80" stroke="#3a3a3a" stroke-width="1.8" stroke-linecap="butt"/>
<text x="1217.33" y="1075.00" font-size="19.5" text-anchor="middle" fill="#3a3a3a" stroke="#3a3a3a" stroke-width="0.4">8</text>
<line x1="1276.50" y1="1050.80" x2="1276.50" y2="1056.80" stroke="#3a3a3a" stroke-width="1.8" stroke-linecap="butt"/>
<text x="1276.50" y="1075.00" font-size="19.5" text-anchor="middle" fill="#3a3a3a" stroke="#3a3a3a" stroke-width="0.4">12</text>
<line x1="1335.67" y1="1050.80" x2="1335.67" y2="1056.80" stroke="#3a3a3a" stroke-width="1.8" stroke-linecap="butt"/>
<text x="1335.67" y="1075.00" font-size="19.5" text-anchor="middle" fill="#3a3a3a" stroke="#3a3a3a" stroke-width="0.4">16</text>
<line x1="1394.83" y1="1050.80" x2="1394.83" y2="1056.80" stroke="#3a3a3a" stroke-width="1.8" stroke-linecap="butt"/>
<text x="1394.83" y="1075.00" font-size="19.5" text-anchor="middle" fill="#3a3a3a" stroke="#3a3a3a" stroke-width="0.4">20</text>
<line x1="1454.00" y1="1050.80" x2="1454.00" y2="1056.80" stroke="#3a3a3a" stroke-width="1.8" stroke-linecap="butt"/>
<text x="1454.00" y="1075.00" font-size="19.5" text-anchor="middle" fill="#3a3a3a" stroke="#3a3a3a" stroke-width="0.4">24</text>
<text x="1273.50" y="1098.00" font-size="24" text-anchor="middle" fill="#3a3a3a" stroke="#3a3a3a" stroke-width="0.4">Time / h</text>
<text x="1056.00" y="908.50" font-size="24.45" text-anchor="middle" fill="#3a3a3a" stroke="#3a3a3a" stroke-width="0.4" transform="rotate(-90 1056.00 908.50)">Normalized current / %</text>
<line x1="1326.00" y1="838.50" x2="1362.00" y2="838.50" stroke="#3a37c4" stroke-width="2.6" stroke-linecap="butt"/>
<text x="1365.00" y="844.00" font-size="16" text-anchor="start" fill="#3a37c4" stroke="#3a37c4" stroke-width="0.4">PdFe PNHs</text>
<line x1="1326.00" y1="856.20" x2="1362.00" y2="856.20" stroke="#2a932a" stroke-width="2.6" stroke-linecap="butt"/>
<text x="1365.00" y="861.70" font-size="16" text-anchor="start" fill="#2a932a" stroke="#2a932a" stroke-width="0.4">Pt/C</text>
<line x1="1326.00" y1="874.20" x2="1362.00" y2="874.20" stroke="#fd9a2e" stroke-width="2.6" stroke-linecap="butt"/>
<text x="1365.00" y="879.70" font-size="16" text-anchor="start" fill="#fd9a2e" stroke="#fd9a2e" stroke-width="0.4">Pd black</text>
<rect x="1171.60" y="885.76" width="27.20" height="135.14" fill="#3633b4"/>
<text x="1185.20" y="881.76" font-size="13" text-anchor="middle" fill="#3a37c4" stroke="#3a37c4" stroke-width="0.4">93.2</text>
<rect x="1224.60" y="891.41" width="26.90" height="129.49" fill="#2a9328"/>
<text x="1238.05" y="887.41" font-size="13" text-anchor="middle" fill="#2a932a" stroke="#2a932a" stroke-width="0.4">89.3</text>
<rect x="1276.90" y="901.71" width="26.50" height="119.19" fill="#fd9526"/>
<text x="1290.15" y="897.71" font-size="13" text-anchor="middle" fill="#fd9a2e" stroke="#fd9a2e" stroke-width="0.4">82.2</text>
<line x1="1148.90" y1="860.30" x2="1148.90" y2="1021.75" stroke="#3a3a3a" stroke-width="1.7" stroke-linecap="butt"/>
<line x1="1148.05" y1="1020.90" x2="1326.90" y2="1020.90" stroke="#3a3a3a" stroke-width="1.7" stroke-linecap="butt"/>
<line x1="1148.90" y1="1006.40" x2="1146.40" y2="1006.40" stroke="#3a3a3a" stroke-width="1.5" stroke-linecap="butt"/>
<line x1="1148.90" y1="977.40" x2="1146.40" y2="977.40" stroke="#3a3a3a" stroke-width="1.5" stroke-linecap="butt"/>
<line x1="1148.90" y1="948.40" x2="1146.40" y2="948.40" stroke="#3a3a3a" stroke-width="1.5" stroke-linecap="butt"/>
<line x1="1148.90" y1="919.40" x2="1146.40" y2="919.40" stroke="#3a3a3a" stroke-width="1.5" stroke-linecap="butt"/>
<line x1="1148.90" y1="890.40" x2="1146.40" y2="890.40" stroke="#3a3a3a" stroke-width="1.5" stroke-linecap="butt"/>
<line x1="1148.90" y1="1020.90" x2="1144.90" y2="1020.90" stroke="#3a3a3a" stroke-width="1.5" stroke-linecap="butt"/>
<text x="1144.00" y="1025.50" font-size="13" text-anchor="end" fill="#3a3a3a" stroke="#3a3a3a" stroke-width="0.4">0</text>
<line x1="1148.90" y1="991.90" x2="1144.90" y2="991.90" stroke="#3a3a3a" stroke-width="1.5" stroke-linecap="butt"/>
<text x="1144.00" y="996.50" font-size="13" text-anchor="end" fill="#3a3a3a" stroke="#3a3a3a" stroke-width="0.4">20</text>
<line x1="1148.90" y1="962.90" x2="1144.90" y2="962.90" stroke="#3a3a3a" stroke-width="1.5" stroke-linecap="butt"/>
<text x="1144.00" y="967.50" font-size="13" text-anchor="end" fill="#3a3a3a" stroke="#3a3a3a" stroke-width="0.4">40</text>
<line x1="1148.90" y1="933.90" x2="1144.90" y2="933.90" stroke="#3a3a3a" stroke-width="1.5" stroke-linecap="butt"/>
<text x="1144.00" y="938.50" font-size="13" text-anchor="end" fill="#3a3a3a" stroke="#3a3a3a" stroke-width="0.4">60</text>
<line x1="1148.90" y1="904.90" x2="1144.90" y2="904.90" stroke="#3a3a3a" stroke-width="1.5" stroke-linecap="butt"/>
<text x="1144.00" y="909.50" font-size="13" text-anchor="end" fill="#3a3a3a" stroke="#3a3a3a" stroke-width="0.4">80</text>
<line x1="1148.90" y1="875.90" x2="1144.90" y2="875.90" stroke="#3a3a3a" stroke-width="1.5" stroke-linecap="butt"/>
<text x="1144.00" y="880.50" font-size="13" text-anchor="end" fill="#3a3a3a" stroke="#3a3a3a" stroke-width="0.4">100</text>
<text x="1120.00" y="944.00" font-size="15.8" text-anchor="middle" fill="#3a3a3a" stroke="#3a3a3a" stroke-width="0.4" transform="rotate(-90 1120.00 944.00)">Percentage / %</text>
<text x="1183.50" y="1036.50" font-size="12.5" text-anchor="middle" fill="#3a37c4" stroke="#3a37c4" stroke-width="0.4">PdFe PNHs</text>
<text x="1237.50" y="1036.50" font-size="12.5" text-anchor="middle" fill="#2a932a" stroke="#2a932a" stroke-width="0.4">Pt/C</text>
<text x="1290.80" y="1036.50" font-size="12.5" text-anchor="middle" fill="#fd9a2e" stroke="#fd9a2e" stroke-width="0.4">Pd black</text>
</svg></body></html>
